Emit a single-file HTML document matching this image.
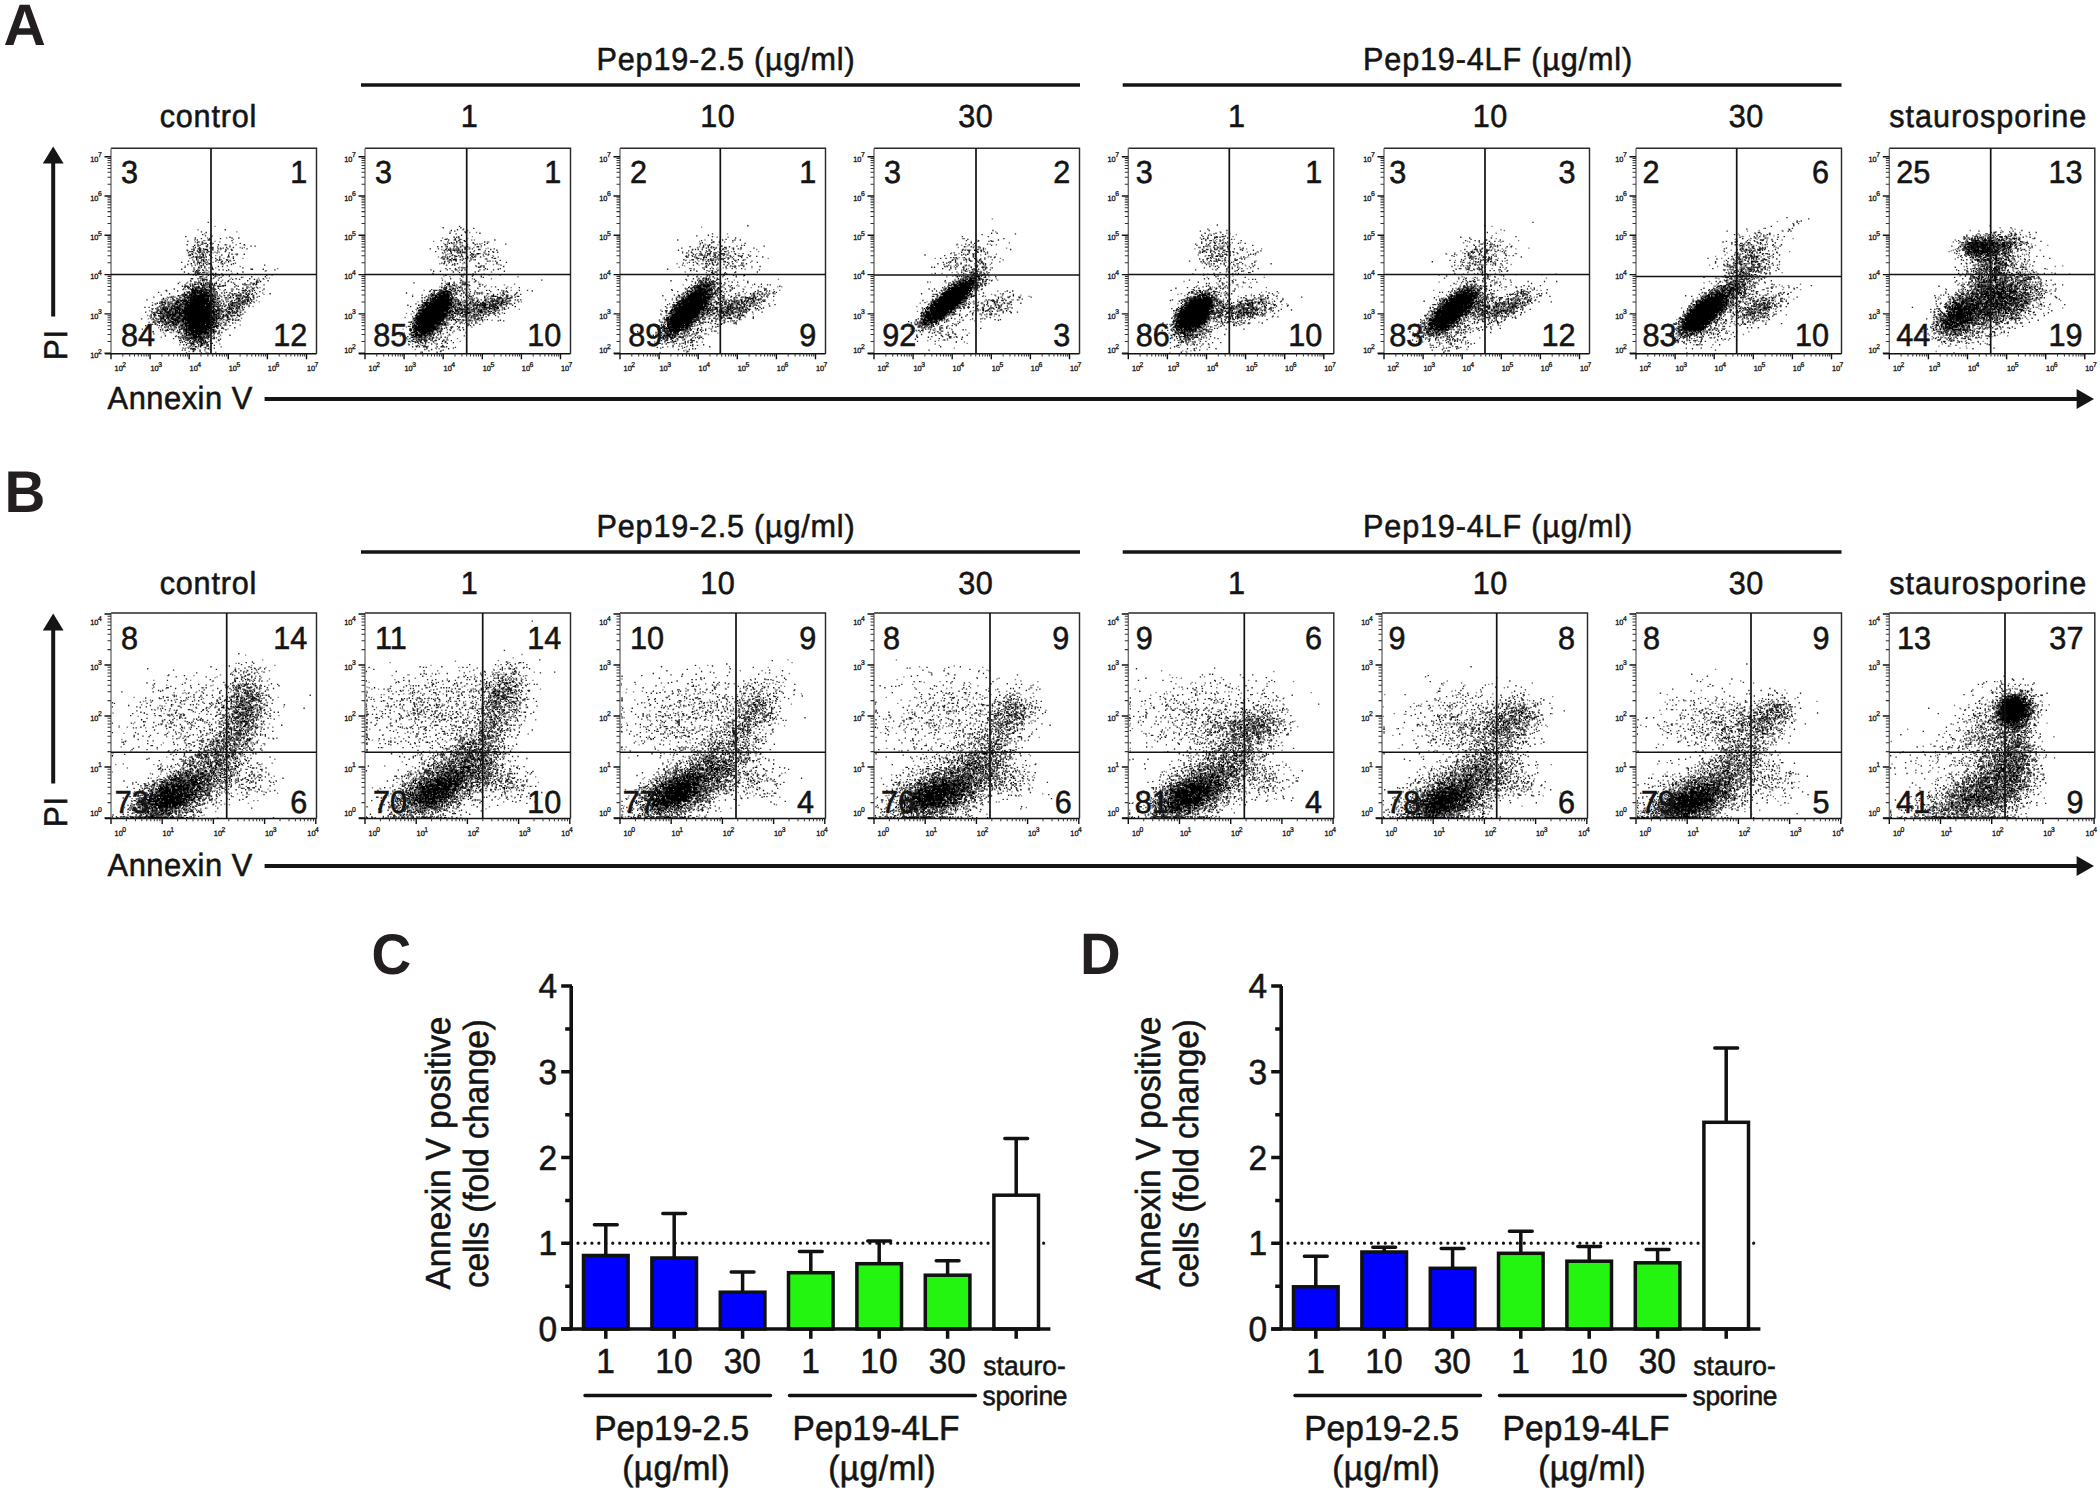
<!DOCTYPE html>
<html><head><meta charset="utf-8"><title>Figure</title>
<style>html,body{margin:0;padding:0;background:#fff}svg{display:block}</style></head>
<body>
<svg width="2100" height="1494" viewBox="0 0 2100 1494" text-rendering="geometricPrecision">
<rect width="2100" height="1494" fill="#fff"/>
<g font-family="'Liberation Sans', sans-serif" font-weight="bold" fill="#231f20"><text transform="translate(3.5 45.3) scale(1 1.0)" font-size="58.6">A</text><text transform="translate(4.6 511.8) scale(1 1.04)" font-size="56.6">B</text><text transform="translate(371.6 974.0) scale(1 1.04)" font-size="55">C</text><text transform="translate(1080.0 974.0) scale(1 1.04)" font-size="56.3">D</text></g>
<g font-family="'Liberation Sans', sans-serif" fill="#141414" stroke="#141414" stroke-width="0.55"><text transform="translate(725.6 69.8) scale(1 1.04)" font-size="30.6" text-anchor="middle" textLength="258" lengthAdjust="spacing">Pep19-2.5 (µg/ml)</text><text transform="translate(1497.6 69.8) scale(1 1.04)" font-size="30.6" text-anchor="middle" textLength="269" lengthAdjust="spacing">Pep19-4LF (µg/ml)</text><text transform="translate(208.0 127.2) scale(1 1.04)" font-size="30.6" text-anchor="middle" textLength="96.5" lengthAdjust="spacing">control</text><text transform="translate(469.2 127.2) scale(1 1.04)" font-size="30.6" text-anchor="middle">1</text><text transform="translate(717.5 127.2) scale(1 1.04)" font-size="30.6" text-anchor="middle" textLength="34.6" lengthAdjust="spacing">10</text><text transform="translate(975.5 127.2) scale(1 1.04)" font-size="30.6" text-anchor="middle" textLength="34.6" lengthAdjust="spacing">30</text><text transform="translate(1236.5 127.2) scale(1 1.04)" font-size="30.6" text-anchor="middle">1</text><text transform="translate(1490.0 127.2) scale(1 1.04)" font-size="30.6" text-anchor="middle" textLength="34.6" lengthAdjust="spacing">10</text><text transform="translate(1746.0 127.2) scale(1 1.04)" font-size="30.6" text-anchor="middle" textLength="34.6" lengthAdjust="spacing">30</text><text transform="translate(1987.7 127.2) scale(1 1.04)" font-size="30.6" text-anchor="middle" textLength="197" lengthAdjust="spacing">staurosporine</text><text transform="translate(66.6 360.2) rotate(-90) scale(1 1.04)" font-size="31.6" textLength="30.2" lengthAdjust="spacing">PI</text><text transform="translate(107.6 408.8) scale(1 1.04)" font-size="30.8" textLength="144.6" lengthAdjust="spacing">Annexin V</text></g><path d="M361 85.0H1080M1122.7 85.0H1841.5" stroke="#151515" stroke-width="3.6" fill="none"/><path d="M53.2 316.5V160.0" stroke="#151515" stroke-width="4" fill="none"/><path d="M53.2 146.5L63.6 163.4H42.8Z" fill="#151515"/><path d="M264.6 399.0H2080" stroke="#151515" stroke-width="4" fill="none"/><path d="M2094 399.0L2076.6 389.0V409.0Z" fill="#151515"/>
<g font-family="'Liberation Sans', sans-serif" fill="#141414" stroke="#141414" stroke-width="0.55"><text transform="translate(725.6 536.8) scale(1 1.04)" font-size="30.6" text-anchor="middle" textLength="258" lengthAdjust="spacing">Pep19-2.5 (µg/ml)</text><text transform="translate(1497.6 536.8) scale(1 1.04)" font-size="30.6" text-anchor="middle" textLength="269" lengthAdjust="spacing">Pep19-4LF (µg/ml)</text><text transform="translate(208.0 594.2) scale(1 1.04)" font-size="30.6" text-anchor="middle" textLength="96.5" lengthAdjust="spacing">control</text><text transform="translate(469.2 594.2) scale(1 1.04)" font-size="30.6" text-anchor="middle">1</text><text transform="translate(717.5 594.2) scale(1 1.04)" font-size="30.6" text-anchor="middle" textLength="34.6" lengthAdjust="spacing">10</text><text transform="translate(975.5 594.2) scale(1 1.04)" font-size="30.6" text-anchor="middle" textLength="34.6" lengthAdjust="spacing">30</text><text transform="translate(1236.5 594.2) scale(1 1.04)" font-size="30.6" text-anchor="middle">1</text><text transform="translate(1490.0 594.2) scale(1 1.04)" font-size="30.6" text-anchor="middle" textLength="34.6" lengthAdjust="spacing">10</text><text transform="translate(1746.0 594.2) scale(1 1.04)" font-size="30.6" text-anchor="middle" textLength="34.6" lengthAdjust="spacing">30</text><text transform="translate(1987.7 594.2) scale(1 1.04)" font-size="30.6" text-anchor="middle" textLength="197" lengthAdjust="spacing">staurosporine</text><text transform="translate(66.6 827.2) rotate(-90) scale(1 1.04)" font-size="31.6" textLength="30.2" lengthAdjust="spacing">PI</text><text transform="translate(107.6 875.8) scale(1 1.04)" font-size="30.8" textLength="144.6" lengthAdjust="spacing">Annexin V</text></g><path d="M361 552.0H1080M1122.7 552.0H1841.5" stroke="#151515" stroke-width="3.6" fill="none"/><path d="M53.2 783.5V627.0" stroke="#151515" stroke-width="4" fill="none"/><path d="M53.2 613.5L63.6 630.4H42.8Z" fill="#151515"/><path d="M264.6 866.0H2080" stroke="#151515" stroke-width="4" fill="none"/><path d="M2094 866.0L2076.6 856.0V876.0Z" fill="#151515"/>
<g transform="translate(111.0,148.2)"><g fill="none" stroke-width="1" transform="scale(1.36) translate(-0.5,0.0)"><path d="M64 60h1m4 3h1m1 3h1m13 0h1m-24 1h1m9 0h1m17 0h1m-23 1h2m-8 1h1m2 0h1m14 0h1m4 2h1m6 0h1m-20 2h1m21 0h1m2 0h1m-25 1h1m0 1h1m-8 1h1m2 0h1m-10 1h1m8 0h1m3 0h1m-19 2h1m19 0h1m9 1h1m-30 1h1m21 0h1m2 0h1m13 0h1m-38 1h1m3 0h1m7 0h1m8 0h1m4 0h1m-16 1h1m16 0h1m-19 1h2m3 0h1m3 0h1m1 1h1m-15 1h1m27 1h1m-19 1h1m-17 1h1m8 0h1m-1 1h2m-3 1h1m2 0h1m-3 1h2m17 0h1m-17 1h1m1 0h1m5 0h1m-4 1h1m3 0h1m14 1h1m-30 2h1m1 0h1m11 0h1m-24 1h1m21 0h1m-26 1h1m1 1h1m4 0h1m7 0h1m12 0h1m-10 1h1m1 0h1m-18 1h3m16 0h1m21 0h1m5 0h1m-35 1h1m31 0h1m2 0h1m-54 1h1m5 0h1m2 0h1m8 0h1m6 0h1m9 0h1m12 0h1m-43 1h1m10 0h1m10 0h1m13 0h1m-42 1h1m3 0h1m12 0h1m28 0h1m-43 1h1m2 0h2m3 0h1m2 0h1m2 0h2m16 0h1m6 0h1m2 0h1m-35 1h1m14 0h1m12 0h1m8 0h1m-61 1h1m11 0h2m17 0h1m1 0h2m6 0h1m8 0h1m3 0h1m5 0h1m-54 1h1m13 0h1m28 0h1m-57 1h1m4 0h1m13 0h1m13 0h1m23 0h1m1 1h1m8 0h1m-72 1h1m7 0h1m33 0h1m10 0h1m5 0h1m13 0h1m-67 1h1m5 0h1m3 0h1m21 0h1m19 0h2m1 0h1m3 0h2m-71 1h1m6 0h1m15 0h1m20 0h1m2 0h1m13 0h1m-59 1h2m5 0h1m36 0h2m10 0h1m-59 1h1m5 0h1m4 0h1m7 0h1m7 0h1m11 0h1m-44 1h2m2 0h1m8 0h1m8 0h1m40 0h2m-59 1h1m13 0h1m1 0h1m30 0h1m11 0h1m-52 1h1m3 0h1m25 0h1m5 0h1m13 0h1m-65 1h1m3 0h1m2 0h1m39 0h1m1 0h1m1 0h2m-42 1h1m4 0h1m30 0h2m5 0h1m1 0h1m1 0h1m-62 1h1m8 0h1m3 0h1m7 0h1m30 0h1m-39 1h1m36 0h1m-50 1h1m19 0h1m3 0h1m42 0h1m-67 1h1m1 0h1m1 0h1m2 0h1m5 0h1m7 0h1m36 0h1m1 0h1m-59 1h1m1 0h1m11 0h1m27 0h1m3 0h1m3 0h1m12 0h1m-68 1h1m3 0h1m1 0h1m4 0h1m1 0h1m6 0h1m1 0h1m5 0h1m20 0h1m1 0h2m6 0h1m-35 1h1m-13 1h1m3 0h1m11 0h1m21 0h1m3 0h1m1 0h1m9 0h1m-59 1h1m3 0h1m5 0h1m6 0h1m-20 1h1m1 0h1m2 0h1m3 0h1m25 0h1m-27 1h1m8 0h1m17 0h1m2 0h1m8 0h1m2 0h1m-49 1h1m15 0h1m21 0h1m3 0h1m-35 1h1m1 0h2m1 0h1m16 0h1m2 0h1m1 0h1m-14 1h1m1 0h1m12 0h1m-22 1h1m21 0h1m-23 1h2m2 0h1m16 0h1m-39 1h1m13 0h4m-5 1h1m16 1h1m1 0h1m3 0h1m-11 1h2m-6 1h2m8 0h2m-10 1h1m4 0h1m13 0h1m-21 2h1m12 0h1m7 0h1m-27 1h1m8 0h1m5 0h1m1 0h1m-4 1h1m-1 1h1m0 1h1m6 0h1" stroke="#7a7a7a"/><path d="M84 60h1m-15 2h1m-16 3h1m18 0h1m-13 1h1m26 0h1m4 0h1m-6 2h1m-26 1h1m2 0h1m1 1h2m4 0h1m19 0h1m-40 1h1m7 0h1m6 0h1m7 0h1m4 0h1m-21 1h1m5 0h1m32 0h1m2 0h1m-45 1h1m2 0h1m8 0h2m9 0h1m4 0h1m-27 1h3m8 0h1m3 0h1m1 0h1m4 0h1m13 0h1m-45 1h1m8 0h2m-8 1h1m4 0h1m1 0h1m17 0h1m-28 1h1m9 0h1m10 0h1m8 0h1m-21 1h2m20 0h1m2 0h2m4 0h1m-41 1h1m3 1h1m1 0h1m1 0h3m11 0h1m5 0h1m3 0h1m-26 1h2m10 0h1m-11 1h1m10 0h1m6 0h1m-29 1h1m3 0h1m7 0h1m7 0h1m4 0h1m-31 1h1m8 0h1m2 0h2m15 0h1m-14 1h1m13 0h1m7 0h1m-29 1h1m5 0h1m5 0h1m38 0h1m-45 1h1m9 0h1m2 0h1m-22 1h1m3 0h1m3 0h1m2 0h1m24 0h1m-46 1h1m11 0h1m38 0h2m7 0h1m-49 1h2m2 0h1m16 0h1m28 0h1m-61 1h1m8 0h2m32 0h1m-41 1h1m4 0h1m1 0h2m-2 1h1m5 0h1m3 0h1m7 0h1m2 0h1m-9 1h1m9 0h1m-18 1h1m10 0h1m14 0h1m-38 1h2m3 0h1m9 0h1m17 0h1m9 0h1m9 0h1m-47 1h1m12 0h1m29 0h1m-24 1h1m20 0h1m-40 1h1m1 0h1m1 0h1m11 0h1m5 0h1m-31 1h1m3 0h1m1 0h1m5 0h2m6 0h1m10 0h1m5 0h1m7 0h1m-37 1h1m6 0h1m5 0h2m8 0h1m-39 1h1m2 0h1m5 0h3m2 0h2m1 0h1m19 0h1m8 0h1m2 0h1m-41 1h1m1 0h2m7 0h1m4 0h1m20 0h1m3 0h1m-52 1h1m12 0h3m2 0h2m1 0h1m2 0h1m6 0h1m9 0h1m4 0h1m-59 1h1m7 0h1m19 0h2m2 0h1m1 0h2m-42 1h1m18 0h1m6 0h1m2 0h1m3 0h1m1 0h1m1 0h1m5 0h1m6 0h1m20 0h1m-64 1h1m10 0h1m23 0h1m10 0h1m5 0h1m5 0h1m2 0h1m2 0h1m9 0h1m-81 1h1m14 0h2m12 0h1m3 0h1m9 0h1m5 0h2m2 0h1m1 0h1m8 0h1m-56 1h1m6 0h1m2 0h1m3 0h2m1 0h1m17 0h1m6 0h1m3 0h1m7 0h1m8 0h1m-68 1h1m8 0h1m2 0h3m3 0h1m14 0h1m8 0h2m1 0h2m4 0h1m3 0h1m2 0h2m-45 1h1m13 0h1m1 0h2m2 0h1m8 0h1m14 0h1m3 0h1m-60 1h2m1 0h1m23 0h1m1 0h1m2 0h1m10 0h1m1 0h1m5 0h1m3 0h1m-62 1h1m1 0h1m2 0h1m7 0h1m1 0h1m13 0h1m4 0h2m1 0h1m10 0h1m4 0h1m2 0h1m8 0h1m-64 1h1m1 0h1m6 0h1m22 0h1m4 0h1m1 0h1m1 0h1m4 0h1m1 0h1m6 0h1m1 0h1m-62 1h2m2 0h1m8 0h1m1 0h2m3 0h1m19 0h2m3 0h1m5 0h1m2 0h1m2 0h1m2 0h1m1 0h1m-55 1h1m2 0h1m6 0h1m21 0h1m3 0h1m1 0h1m4 0h1m-65 1h1m2 0h1m9 0h1m5 0h1m3 0h1m8 0h1m21 0h1m7 0h1m4 0h1m1 0h1m3 0h1m-66 1h1m4 0h1m1 0h1m7 0h1m9 0h1m15 0h1m1 0h1m2 0h2m6 0h2m3 0h1m-59 1h1m4 0h1m1 0h1m2 0h1m2 0h1m32 0h2m2 0h1m4 0h1m7 0h1m-68 1h1m3 0h1m1 0h2m3 0h1m1 0h1m9 0h1m27 0h1m1 0h1m1 0h1m7 0h1m-62 1h2m5 0h2m2 0h4m6 0h1m20 0h1m12 0h1m2 0h2m3 0h1m-64 1h1m41 0h2m3 0h1m5 0h1m1 0h1m5 0h1m3 0h1m-66 1h2m4 0h2m3 0h1m3 0h1m1 0h1m4 0h1m20 0h1m7 0h1m1 0h2m1 0h1m1 0h2m1 0h1m-58 1h5m1 0h1m2 0h1m2 0h1m3 0h1m19 0h1m2 0h1m3 0h1m2 0h1m3 0h1m2 0h1m-59 1h1m1 0h1m3 0h3m4 0h1m1 0h1m1 0h1m10 0h1m16 0h1m3 0h1m1 0h1m3 0h1m-56 1h1m7 0h1m2 0h1m5 0h1m4 0h1m22 0h1m1 0h1m2 0h1m1 0h1m2 0h2m6 0h1m-62 1h1m4 0h1m3 0h1m1 0h1m2 0h2m3 0h1m32 0h1m-55 1h1m3 0h1m6 0h2m1 0h2m4 0h2m2 0h1m27 0h1m-51 1h1m5 0h1m8 0h1m5 0h1m20 0h1m1 0h1m1 0h1m4 0h1m-51 1h1m3 0h1m1 0h1m2 0h1m4 0h1m24 0h1m10 0h1m-41 1h1m5 0h1m1 0h1m22 0h1m2 0h2m-38 1h1m5 0h1m1 0h1m2 0h1m2 0h1m16 0h1m2 0h1m5 0h1m8 0h1m-69 1h1m14 0h1m4 0h1m1 0h1m1 0h1m3 0h1m21 0h1m-34 1h3m3 0h1m2 0h1m5 0h1m2 0h1m11 0h1m-16 1h1m13 0h1m2 0h1m3 0h1m-25 1h1m2 0h1m2 0h1m2 0h1m9 0h1m4 0h1m2 0h1m-17 1h1m4 0h1m2 0h1m1 0h1m-26 1h1m8 0h1m1 0h1m7 0h1m-18 1h1m4 0h2m1 0h1m3 0h1m2 0h1m1 0h2m1 0h1m5 0h1m-31 1h1m4 0h1m5 0h1m3 0h2m8 0h1m3 0h2m-22 1h1m1 0h1m3 0h1m1 0h1m2 0h1m1 0h1m10 0h1m-26 1h1m5 0h1m5 0h1m1 0h1m3 0h1m-22 1h1m3 0h1m8 0h1m3 0h1m-10 1h2m8 0h1m-11 1h1m16 0h1m-14 1h1m-11 1h1m3 0h1m1 0h1m16 0h1m-17 1h1m1 0h1m10 0h1m-13 1h1" stroke="#2a2a2a"/><path d="M73 70h1m24 1h1m-28 1h1m-11 2h1m6 0h1m-8 1h1m9 0h1m17 0h1m-32 1h1m1 0h1m11 0h1m-8 1h1m-6 1h1m7 1h1m-6 1h1m1 0h1m4 0h1m-8 1h1m26 0h1m-28 1h1m4 0h1m1 0h1m9 0h1m-17 1h1m3 0h1m-3 1h1m-8 1h1m5 0h1m6 0h2m1 4h1m-13 1h1m-2 1h1m12 1h1m1 0h1m15 0h1m-27 4h1m42 2h1m-47 1h1m6 0h1m31 0h1m3 0h1m-46 1h1m5 0h1m7 0h1m30 0h1m-48 1h1m6 0h2m15 0h1m-13 1h1m-16 1h1m2 0h1m1 0h1m1 0h1m2 0h1m1 0h1m27 0h1m-39 1h2m1 0h2m5 0h2m5 0h1m-15 1h1m2 0h1m1 0h2m20 0h1m12 0h1m1 0h1m-48 1h2m3 0h2m1 0h2m2 0h1m1 0h1m22 0h1m2 0h1m-40 1h1m2 0h2m3 0h2m1 0h2m1 0h1m18 0h1m-37 1h2m1 0h8m1 0h1m1 0h1m1 0h2m1 0h2m2 0h1m-25 1h1m4 0h1m2 0h1m1 0h10m1 0h1m22 0h1m-42 1h3m1 0h5m1 0h6m1 0h1m2 0h1m12 0h1m8 0h1m5 0h1m-56 1h1m2 0h2m4 0h12m4 0h2m15 0h1m7 0h1m-61 1h1m10 0h5m1 0h16m21 0h2m-59 1h2m9 0h1m1 0h1m3 0h1m2 0h12m1 0h4m2 0h1m3 0h1m4 0h1m8 0h1m2 0h3m-66 1h1m1 0h1m3 0h1m6 0h2m6 0h2m1 0h9m1 0h6m2 0h1m12 0h1m1 0h1m8 0h1m-58 1h1m3 0h3m2 0h1m2 0h1m1 0h1m1 0h18m11 0h1m8 0h1m-59 1h1m2 0h1m2 0h1m1 0h1m2 0h1m2 0h1m1 0h1m1 0h20m2 0h1m7 0h1m3 0h1m1 0h1m-55 1h1m7 0h1m1 0h2m3 0h3m1 0h3m1 0h11m1 0h2m10 0h1m-42 1h3m1 0h3m2 0h4m1 0h15m8 0h1m7 0h1m-56 1h1m1 0h2m1 0h1m2 0h1m2 0h1m1 0h2m1 0h1m1 0h23m1 0h1m1 0h1m5 0h1m7 0h1m-56 1h1m1 0h1m1 0h1m2 0h3m1 0h1m2 0h1m1 0h20m1 0h3m4 0h1m3 0h2m1 0h1m1 0h1m-61 1h1m9 0h2m4 0h6m1 0h20m1 0h2m9 0h1m1 0h1m3 0h1m-55 1h2m3 0h3m1 0h27m2 0h1m4 0h1m-47 1h1m5 0h2m1 0h1m1 0h1m3 0h4m1 0h20m1 0h1m1 0h1m5 0h1m4 0h1m4 0h1m-63 1h1m10 0h1m3 0h1m1 0h2m2 0h3m1 0h15m1 0h2m1 0h2m5 0h1m-43 1h2m2 0h1m4 0h3m1 0h5m1 0h16m2 0h2m1 0h1m-47 1h1m4 0h1m4 0h3m1 0h1m2 0h1m1 0h22m-39 1h1m2 0h1m2 0h1m5 0h3m1 0h1m1 0h19m1 0h1m-38 1h1m1 0h1m3 0h1m4 0h1m3 0h1m3 0h20m-36 1h2m2 0h2m5 0h1m3 0h19m6 0h1m-38 1h1m1 0h2m3 0h3m2 0h1m1 0h14m3 0h1m-34 1h1m10 0h1m1 0h14m1 0h4m2 0h2m-26 1h1m1 0h1m2 0h13m1 0h2m1 0h2m2 0h1m-27 1h1m1 0h17m1 0h1m-17 1h2m1 0h11m2 0h2m-43 1h1m25 0h1m1 0h8m3 0h1m4 0h1m1 0h1m-24 1h1m4 0h1m3 0h5m1 0h2m1 0h1m1 0h1m-18 1h6m1 0h4m1 0h1m-30 1h1m12 0h1m6 0h4m1 0h2m1 0h2m1 0h2m-14 1h1m3 0h2m1 0h1m5 0h1m-18 1h1m2 0h3m4 0h3m1 0h1m-14 1h1m5 0h1m1 0h1m-7 1h1m2 0h1m3 0h1m-8 1h1m2 0h1m9 0h1m-6 2h2m-6 1h1m3 0h1m-6 2h1" stroke="#000"/></g><g fill="none" stroke-width="1" transform="scale(1.36) translate(0.0,0.5)"><path d="M76 57h1m15 4h1m-19 3h1m-14 3h1m14 1h1m12 1h1m-16 1h1m12 1h1m10 0h1m-21 1h1m-7 1h1m5 0h1m1 1h1m-14 1h2m-9 1h1m15 0h1m2 0h1m-11 1h1m-7 1h1m5 0h1m22 0h1m-24 1h1m-10 1h1m4 0h1m1 0h1m6 0h1m-12 1h1m4 0h1m8 1h1m-12 1h1m17 0h1m-24 1h1m4 0h1m4 0h1m-9 1h1m18 0h1m-29 1h1m10 2h1m56 0h1m-59 1h1m23 1h1m24 0h1m-44 1h1m-5 1h1m-7 1h1m6 0h1m50 0h1m-52 1h1m2 0h1m-3 1h1m19 0h1m19 0h1m5 0h1m1 0h1m-30 1h1m19 0h1m4 0h1m-49 1h1m7 0h1m-23 1h1m5 0h1m-2 1h1m2 0h1m2 0h1m40 0h1m-43 1h1m10 0h1m1 0h1m23 0h1m2 0h3m-34 1h2m10 0h1m-22 1h1m13 0h1m26 0h1m3 0h1m3 0h1m-53 1h1m6 0h1m6 0h1m16 0h2m-17 1h1m9 0h1m27 0h1m-57 1h2m19 0h1m25 0h1m-29 1h2m20 0h1m14 0h1m-48 1h1m6 0h1m3 0h1m14 0h1m1 0h3m5 0h1m11 0h1m-63 1h2m-11 1h1m3 0h3m22 0h1m1 0h1m6 0h1m1 0h1m11 0h1m3 0h1m-58 1h1m9 0h1m25 0h1m7 0h1m14 0h2m-63 1h1m9 0h1m4 0h1m18 0h1m4 0h2m16 0h1m-57 1h2m2 0h1m3 0h1m9 0h1m22 0h1m4 0h2m5 0h1m-63 1h1m10 0h1m2 0h1m9 0h1m16 0h1m5 0h1m9 0h1m5 0h1m5 0h1m5 0h1m-65 1h1m4 0h1m2 0h2m24 0h2m10 0h1m2 0h3m5 0h1m-63 1h1m6 0h1m3 0h1m5 0h1m15 0h1m4 0h1m3 0h2m11 0h1m2 0h1m-59 1h1m51 0h2m1 0h1m12 0h1m-68 1h1m4 0h2m8 0h2m-21 1h1m11 0h1m2 0h1m25 0h1m2 0h1m13 0h1m2 0h1m-67 1h1m8 0h1m7 0h2m29 0h1m11 0h1m6 0h1m-66 1h1m1 0h1m6 0h1m4 0h1m1 0h1m4 0h1m28 0h1m3 0h1m-55 1h1m13 0h1m32 0h1m2 0h1m9 0h1m-55 1h2m10 0h2m2 0h2m20 0h1m3 0h1m-51 1h1m8 0h1m2 0h1m3 0h1m38 0h1m5 0h1m-51 1h1m11 0h2m25 0h1m13 0h1m-66 1h1m6 0h2m3 0h1m1 0h1m9 0h1m39 0h1m-55 1h1m4 0h1m1 0h1m34 0h2m3 0h1m7 0h1m-54 1h1m6 0h1m4 0h1m-15 1h3m4 0h1m5 0h3m20 0h1m7 0h1m9 0h1m-63 1h1m11 0h1m7 0h1m1 0h1m4 0h1m12 0h1m7 0h1m2 0h1m-52 1h1m23 0h1m21 0h1m7 0h1m-44 1h2m2 0h1m6 0h1m4 0h1m21 0h1m2 0h1m-36 1h1m7 0h1m19 0h1m-14 1h1m10 0h1m3 0h1m-41 1h1m1 1h1m4 0h2m8 0h2m17 0h1m3 0h1m-38 1h1m9 0h1m17 0h1m4 0h1m6 0h1m-21 1h1m6 0h1m1 0h1m6 0h1m4 0h1m-30 1h1m15 0h1m6 0h1m4 0h1m-29 2h1m2 0h1m4 0h1m3 0h1m4 0h1m2 0h1m-9 1h1m0 1h1m12 0h1m-21 1h1m7 0h1m3 0h1m-20 1h1m17 0h1m-12 1h1m2 0h1m-5 1h2m10 0h1m-15 1h1m14 0h1m-13 2h1m12 1h2" stroke="#7a7a7a"/><path d="M71 54h1m-6 7h1m0 2h1m1 1h1m17 1h1m-22 1h1m5 0h1m7 0h1m-18 1h1m7 0h2m-17 1h1m6 1h1m3 0h1m5 0h1m-8 1h1m6 0h1m-9 1h1m-6 1h1m9 0h1m16 0h1m-23 1h1m14 0h1m1 0h1m13 0h1m-38 1h1m5 0h1m2 0h1m5 0h1m9 0h1m3 0h1m-33 1h1m8 0h1m12 0h1m5 0h1m-21 1h2m2 0h1m1 0h1m2 0h1m-15 1h1m2 0h1m-6 1h1m7 0h1m1 0h1m13 0h1m4 0h1m-27 1h1m12 0h1m12 0h1m-28 1h1m8 0h1m-3 2h1m12 0h1m5 0h1m1 0h1m2 0h1m-23 1h1m12 0h1m-19 1h1m5 0h1m13 0h1m7 0h1m-36 1h1m31 0h1m-30 1h1m5 0h1m19 0h1m-32 1h1m9 0h1m1 0h1m7 0h1m-14 2h1m17 0h1m2 0h1m37 0h1m-61 1h1m2 1h1m1 0h1m1 0h2m-6 1h1m17 0h1m-20 1h1m8 0h1m3 0h1m3 0h1m2 0h1m31 0h1m-50 1h2m9 0h1m26 0h1m9 0h1m-35 1h1m-13 1h3m19 0h1m4 0h1m-37 1h1m9 0h1m1 0h1m15 0h1m13 0h1m6 0h1m7 0h1m-55 1h1m2 0h2m6 0h1m4 0h1m10 0h1m19 0h1m-60 1h1m15 0h1m8 0h1m1 0h1m21 0h1m5 0h2m-52 1h1m3 0h1m9 0h2m4 0h1m24 0h1m4 0h1m1 0h1m5 0h1m-61 1h1m1 0h3m1 0h1m1 0h1m6 0h1m7 0h1m2 0h3m1 0h1m10 0h1m-40 1h1m2 0h1m3 0h1m1 0h1m4 0h1m1 0h1m4 0h1m31 0h1m-62 1h1m6 0h1m4 0h1m7 0h1m1 0h1m4 0h4m15 0h1m19 0h1m-73 1h1m23 0h1m2 0h1m1 0h1m1 0h2m23 0h1m1 0h2m1 0h1m3 0h1m-49 1h1m4 0h1m1 0h1m3 0h1m1 0h1m2 0h1m1 0h1m1 0h1m20 0h1m1 0h1m8 0h1m-53 1h1m18 0h1m4 0h1m1 0h1m13 0h1m1 0h1m-48 1h2m18 0h1m16 0h1m5 0h1m5 0h1m1 0h1m-51 1h1m1 0h1m19 0h1m7 0h1m5 0h1m3 0h3m1 0h1m6 0h1m-74 1h1m11 0h1m6 0h1m6 0h1m4 0h1m6 0h1m3 0h1m22 0h1m1 0h3m3 0h1m2 0h1m-54 1h1m4 0h1m9 0h1m3 0h1m18 0h1m-67 1h1m10 0h1m3 0h1m3 0h2m2 0h2m6 0h1m23 0h1m2 0h1m8 0h2m3 0h2m2 0h1m-44 1h1m12 0h1m6 0h1m2 0h1m5 0h1m8 0h2m2 0h1m1 0h1m-66 1h1m3 0h1m7 0h1m2 0h1m36 0h2m5 0h1m4 0h1m-71 1h1m11 0h2m5 0h2m4 0h1m19 0h1m8 0h1m2 0h1m-60 1h1m6 0h1m37 0h2m3 0h1m3 0h1m1 0h1m3 0h1m1 0h1m2 0h1m5 0h1m-67 1h1m4 0h1m3 0h1m2 0h1m3 0h1m22 0h1m1 0h1m1 0h2m3 0h1m3 0h1m5 0h1m2 0h1m4 0h1m-68 1h1m1 0h1m2 0h1m5 0h1m1 0h1m2 0h2m16 0h1m5 0h1m3 0h1m2 0h1m3 0h1m2 0h2m3 0h2m1 0h1m-67 1h1m6 0h1m2 0h1m2 0h1m2 0h1m4 0h1m1 0h1m21 0h1m2 0h1m1 0h1m3 0h1m1 0h2m9 0h1m-64 1h1m9 0h1m36 0h1m10 0h1m-68 1h1m11 0h1m5 0h1m1 0h1m2 0h1m3 0h1m26 0h1m2 0h1m3 0h2m1 0h2m4 0h1m2 0h1m-60 1h1m1 0h1m4 0h1m1 0h2m24 0h1m11 0h1m2 0h1m1 0h1m-63 1h1m2 0h1m5 0h1m2 0h2m30 0h1m5 0h1m15 0h1m-67 1h1m5 0h2m2 0h1m7 0h1m1 0h2m2 0h1m1 0h1m17 0h7m4 0h1m3 0h1m-60 1h1m6 0h1m38 0h2m5 0h1m3 0h1m-65 1h1m10 0h1m38 0h1m3 0h1m1 0h1m1 0h2m5 0h1m1 0h1m-54 1h1m12 0h1m1 0h1m25 0h1m7 0h1m3 0h1m1 0h1m1 0h1m-63 1h1m2 0h3m1 0h1m1 0h1m13 0h1m20 0h1m10 0h1m-55 1h1m7 0h2m5 0h2m4 0h1m16 0h1m5 0h3m5 0h1m4 0h1m-60 1h1m1 0h1m6 0h1m13 0h1m21 0h1m3 0h1m-55 1h1m9 0h1m7 0h1m1 0h1m2 0h1m23 0h1m3 0h1m3 0h1m6 0h1m-49 1h1m6 0h2m2 0h1m1 1h2m24 0h1m2 0h2m-47 1h1m7 0h2m7 0h1m2 0h1m11 0h1m4 0h1m10 0h1m-45 1h1m9 0h1m2 0h2m1 0h2m12 0h1m1 0h1m1 0h1m1 0h2m1 0h1m-30 1h1m13 0h1m14 0h1m1 0h1m-51 1h1m19 0h1m18 0h1m7 0h1m-27 1h1m3 0h3m6 0h1m4 0h3m14 0h1m-41 1h1m1 0h1m4 0h1m11 0h1m3 0h1m-19 1h2m1 0h3m5 0h1m4 0h2m1 0h1m3 0h1m1 0h1m-25 1h1m2 0h2m2 0h1m4 0h1m14 0h1m-30 1h1m4 0h1m9 0h1m6 0h1m5 0h1m-17 1h1m4 0h1m1 0h1m-15 1h1m1 0h1m4 0h1m4 0h1m1 0h1m2 0h2m-22 1h1m6 0h2m2 0h1m2 0h1m2 0h2m-14 1h1m11 0h2m-3 1h1m-12 1h2m1 0h1m-10 1h1m1 0h1m10 0h1m-1 1h1m-11 1h1m10 0h1" stroke="#2a2a2a"/><path d="M67 70h1m-7 1h1m7 3h2m-8 1h1m-6 3h1m13 0h1m-7 2h1m19 3h1m-17 2h1m-5 1h1m7 2h1m-8 1h1m18 0h1m-22 6h1m9 0h1m-6 1h1m34 0h1m-39 1h1m-6 1h1m44 0h1m-42 1h1m2 0h1m7 0h1m-17 1h1m4 0h1m3 0h1m1 0h1m25 0h1m-35 1h1m7 0h1m-17 1h1m7 0h1m2 0h1m4 0h2m-14 1h1m8 0h1m34 0h1m-46 1h5m1 0h2m3 0h1m26 0h1m-39 1h3m1 0h1m1 0h3m4 0h1m-17 1h1m2 0h3m1 0h4m1 0h4m15 0h1m-34 1h2m2 0h2m1 0h2m2 0h6m3 0h1m1 0h1m22 0h1m-51 1h1m4 0h1m2 0h1m2 0h13m1 0h1m1 0h1m15 0h1m7 0h1m-57 1h1m11 0h1m1 0h4m1 0h6m2 0h1m4 0h1m24 0h1m-64 1h1m6 0h1m2 0h1m7 0h1m1 0h1m1 0h1m1 0h7m1 0h2m3 0h1m2 0h2m13 0h2m1 0h1m5 0h1m-49 1h2m2 0h14m2 0h1m1 0h1m23 0h1m2 0h1m-56 1h2m1 0h1m1 0h4m1 0h1m1 0h12m1 0h3m24 0h1m-64 1h1m1 0h1m8 0h2m2 0h1m2 0h16m1 0h2m1 0h2m1 0h1m10 0h1m2 0h1m3 0h1m-60 1h1m9 0h1m5 0h4m1 0h17m18 0h2m-50 1h1m4 0h2m2 0h15m1 0h2m1 0h1m14 0h2m-48 1h1m3 0h1m1 0h1m1 0h1m1 0h1m1 0h1m1 0h18m1 0h1m1 0h1m12 0h1m3 0h1m-57 1h1m1 0h2m2 0h1m3 0h1m5 0h14m1 0h5m1 0h1m11 0h1m4 0h1m-55 1h2m1 0h1m2 0h1m2 0h1m1 0h2m1 0h1m1 0h20m2 0h1m11 0h1m-50 1h1m3 0h1m3 0h2m1 0h1m1 0h24m1 0h3m9 0h1m-57 1h1m2 0h1m4 0h2m4 0h1m1 0h2m2 0h23m1 0h1m14 0h1m-59 1h4m4 0h1m2 0h1m1 0h1m2 0h24m1 0h1m2 0h2m-49 1h1m8 0h1m2 0h5m2 0h2m2 0h19m2 0h3m4 0h1m-45 1h1m2 0h1m1 0h1m1 0h2m4 0h2m1 0h1m1 0h17m7 0h1m1 0h1m2 0h1m8 0h1m-57 1h1m2 0h2m1 0h2m2 0h3m2 0h22m2 0h1m1 0h1m5 0h1m-50 1h3m3 0h1m1 0h1m1 0h2m1 0h2m1 0h20m1 0h3m1 0h1m-39 1h1m3 0h1m2 0h3m3 0h2m1 0h19m1 0h2m-40 1h1m6 0h2m1 0h1m1 0h2m1 0h2m2 0h19m2 0h1m-43 1h1m6 0h1m2 0h2m2 0h1m4 0h16m1 0h2m2 0h1m-36 1h1m6 0h2m5 0h2m1 0h12m1 0h5m1 0h1m-40 1h1m13 0h2m1 0h18m1 0h2m2 0h2m-24 1h1m1 0h16m2 0h1m1 0h1m-23 1h1m1 0h6m1 0h7m1 0h2m-33 1h1m8 0h1m3 0h2m1 0h4m1 0h6m1 0h3m2 0h2m-21 1h1m2 0h12m5 0h1m-27 1h1m5 0h3m1 0h5m1 0h7m3 0h1m-22 1h2m1 0h4m1 0h3m1 0h1m1 0h2m1 0h1m-17 1h1m4 0h3m1 0h1m-5 1h6m2 0h1m2 0h1m-13 1h4m2 0h3m2 0h1m-9 1h1m1 0h1m1 0h2m-18 1h1m7 0h1m2 0h1m2 0h1m2 0h1m1 0h1m-18 1h1m9 0h1m2 0h2m2 0h1m-11 1h2m5 0h2m-13 1h1m10 0h1m-3 1h1m-5 2h1m10 0h1m-12 2h1" stroke="#000"/></g><path d="M0 0H205.5V205.5" fill="none" stroke="#2a2a2a" stroke-width="1.45"/><path d="M0 0V205.5" fill="none" stroke="#666" stroke-width="1.3"/><path d="M-6 205.5H205.5" fill="none" stroke="#111" stroke-width="1.5"/><path d="M100.0 0V205.5" fill="none" stroke="#111" stroke-width="1.7"/><path d="M0 126.2H205.5" fill="none" stroke="#111" stroke-width="1.5"/><path d="M0.0 205.5v5.5M39.1 205.5v5.5M78.2 205.5v5.5M117.3 205.5v5.5M156.4 205.5v5.5M195.5 205.5v5.5M0 205.0h-6.5M0 165.7h-6.5M0 126.4h-6.5M0 87.1h-6.5M0 47.8h-6.5M0 8.5h-6.5" fill="none" stroke="#111" stroke-width="1.4"/><path d="M11.8 205.5v2.8M18.7 205.5v2.8M23.5 205.5v2.8M27.3 205.5v2.8M30.4 205.5v2.8M33.0 205.5v2.8M35.3 205.5v2.8M37.3 205.5v2.8M50.9 205.5v2.8M57.8 205.5v2.8M62.6 205.5v2.8M66.4 205.5v2.8M69.5 205.5v2.8M72.1 205.5v2.8M74.4 205.5v2.8M76.4 205.5v2.8M90.0 205.5v2.8M96.9 205.5v2.8M101.7 205.5v2.8M105.5 205.5v2.8M108.6 205.5v2.8M111.2 205.5v2.8M113.5 205.5v2.8M115.5 205.5v2.8M129.1 205.5v2.8M136.0 205.5v2.8M140.8 205.5v2.8M144.6 205.5v2.8M147.7 205.5v2.8M150.3 205.5v2.8M152.6 205.5v2.8M154.6 205.5v2.8M168.2 205.5v2.8M175.1 205.5v2.8M179.9 205.5v2.8M183.7 205.5v2.8M186.8 205.5v2.8M189.4 205.5v2.8M191.7 205.5v2.8M193.7 205.5v2.8M0 193.2h-3.5M0 186.2h-3.5M0 181.3h-3.5M0 177.5h-3.5M0 174.4h-3.5M0 171.8h-3.5M0 169.5h-3.5M0 167.5h-3.5M0 153.9h-3.5M0 146.9h-3.5M0 142.0h-3.5M0 138.2h-3.5M0 135.1h-3.5M0 132.5h-3.5M0 130.2h-3.5M0 128.2h-3.5M0 114.6h-3.5M0 107.6h-3.5M0 102.7h-3.5M0 98.9h-3.5M0 95.8h-3.5M0 93.2h-3.5M0 90.9h-3.5M0 88.9h-3.5M0 75.3h-3.5M0 68.3h-3.5M0 63.4h-3.5M0 59.6h-3.5M0 56.5h-3.5M0 53.9h-3.5M0 51.6h-3.5M0 49.6h-3.5M0 36.0h-3.5M0 29.0h-3.5M0 24.1h-3.5M0 20.3h-3.5M0 17.2h-3.5M0 14.6h-3.5M0 12.3h-3.5M0 10.3h-3.5" fill="none" stroke="#333" stroke-width="1.05"/><g font-family="'Liberation Sans', sans-serif" fill="#111" stroke="#111" stroke-width="0.3"><text transform="translate(3.6 222.9) scale(1 1.04)" font-size="7.4">10</text><text transform="translate(11.3 218.6) scale(1 1.04)" font-size="6.8">2</text><text transform="translate(39.5 222.9) scale(1 1.04)" font-size="7.4">10</text><text transform="translate(47.2 218.6) scale(1 1.04)" font-size="6.8">3</text><text transform="translate(78.6 222.9) scale(1 1.04)" font-size="7.4">10</text><text transform="translate(86.3 218.6) scale(1 1.04)" font-size="6.8">4</text><text transform="translate(117.7 222.9) scale(1 1.04)" font-size="7.4">10</text><text transform="translate(125.4 218.6) scale(1 1.04)" font-size="6.8">5</text><text transform="translate(156.8 222.9) scale(1 1.04)" font-size="7.4">10</text><text transform="translate(164.5 218.6) scale(1 1.04)" font-size="6.8">6</text><text transform="translate(195.9 222.9) scale(1 1.04)" font-size="7.4">10</text><text transform="translate(203.6 218.6) scale(1 1.04)" font-size="6.8">7</text><text transform="translate(-20.8 209.8) scale(1 1.04)" font-size="7.4">10</text><text transform="translate(-13.0 205.4) scale(1 1.04)" font-size="6.8">2</text><text transform="translate(-20.8 170.5) scale(1 1.04)" font-size="7.4">10</text><text transform="translate(-13.0 166.1) scale(1 1.04)" font-size="6.8">3</text><text transform="translate(-20.8 131.2) scale(1 1.04)" font-size="7.4">10</text><text transform="translate(-13.0 126.8) scale(1 1.04)" font-size="6.8">4</text><text transform="translate(-20.8 91.9) scale(1 1.04)" font-size="7.4">10</text><text transform="translate(-13.0 87.5) scale(1 1.04)" font-size="6.8">5</text><text transform="translate(-20.8 52.6) scale(1 1.04)" font-size="7.4">10</text><text transform="translate(-13.0 48.2) scale(1 1.04)" font-size="6.8">6</text><text transform="translate(-20.8 13.3) scale(1 1.04)" font-size="7.4">10</text><text transform="translate(-13.0 8.9) scale(1 1.04)" font-size="6.8">7</text></g><g font-family="'Liberation Sans', sans-serif" fill="#141414" stroke="#141414" stroke-width="0.55"><text transform="translate(9.9 34.4) scale(1 1.04)" font-size="30.6">3</text><text transform="translate(196.3 34.4) scale(1 1.04)" font-size="30.6" text-anchor="end">1</text><text transform="translate(9.9 197.8) scale(1 1.04)" font-size="30.6">84</text><text transform="translate(196.3 197.8) scale(1 1.04)" font-size="30.6" text-anchor="end">12</text></g></g>
<g transform="translate(365.0,148.2)"><g fill="none" stroke-width="1" transform="scale(1.36) translate(-0.5,0.0)"><path d="M72 60h1m4 2h1m4 0h1m-4 3h1m-23 1h1m13 1h1m18 2h2m-34 1h1m27 0h1m-22 1h1m1 0h1m2 0h1m4 0h1m-8 2h1m1 0h1m2 0h1m3 0h1m2 0h1m8 1h1m-32 1h1m5 0h1m3 0h1m1 0h1m-5 1h1m13 0h1m-22 1h1m12 0h1m-12 1h1m21 0h1m3 0h1m-1 1h1m6 0h1m-41 1h1m3 0h1m3 0h1m3 0h1m5 0h1m25 0h1m-43 1h1m9 0h2m10 0h1m1 1h1m-22 1h1m2 0h1m28 0h1m2 0h1m-25 1h1m-16 1h1m16 0h1m11 0h1m4 0h1m-26 1h1m17 1h1m-9 1h1m-11 2h1m28 1h1m-21 1h1m-16 2h1m13 0h1m-1 1h1m-3 1h1m8 0h1m13 0h1m-35 2h1m1 1h1m9 0h1m2 0h1m-9 1h1m18 0h1m24 0h1m-50 1h2m10 0h1m15 0h1m-35 1h1m8 0h1m11 0h1m16 0h1m11 0h1m-42 1h1m-9 1h1m-1 1h2m6 0h2m2 0h1m1 0h1m30 0h1m-52 1h1m6 0h1m18 0h1m5 0h1m19 0h1m9 0h1m-22 1h1m19 0h1m-77 1h1m17 0h1m4 0h1m11 0h1m29 0h1m-10 1h1m-45 1h1m14 0h1m15 0h2m2 0h1m7 0h1m12 0h2m-58 1h1m23 0h1m8 0h1m2 0h1m15 0h1m-51 1h1m21 0h1m2 0h1m1 0h1m21 0h1m13 0h1m-74 1h1m7 0h1m16 0h4m14 0h2m10 0h1m1 0h2m1 0h1m1 0h1m2 0h1m10 0h1m-73 1h1m20 0h1m7 0h1m2 0h1m10 0h1m2 0h1m-26 1h3m13 0h1m19 0h1m3 0h1m-41 1h1m1 0h1m3 0h1m11 0h1m3 0h1m2 0h1m7 0h1m-54 1h1m22 0h1m3 0h1m3 0h3m2 0h2m10 0h1m-9 1h1m2 0h1m13 0h1m-64 1h1m4 0h1m25 0h1m12 0h2m10 0h1m4 0h1m1 0h1m-32 1h1m6 0h2m7 0h2m1 0h1m5 0h1m-60 1h1m27 0h1m8 0h1m14 0h1m3 0h1m8 0h1m-68 1h1m4 0h1m27 0h1m-5 1h1m4 0h1m10 0h1m-42 1h1m22 0h1m14 0h2m-39 1h1m19 0h1m5 0h1m10 0h1m1 0h1m1 0h1m-5 1h2m10 0h1m-53 1h1m17 0h1m23 0h1m5 0h1m-53 1h1m26 0h2m9 0h1m3 0h1m-39 1h1m36 0h1m2 0h1m-42 1h1m40 0h1m-23 1h1m-2 1h1m2 0h1m6 0h1m-36 1h1m26 0h1m12 0h1m-21 2h1m6 0h1m-6 1h1m-2 1h1m-9 1h2m13 0h1m4 0h1m-25 1h1m-9 1h1m7 0h1m1 0h1m2 0h1m2 0h1m2 0h1m19 0h1m-30 1h1m12 0h1m7 0h2m-25 1h1m2 0h1m9 0h1m19 0h1m-39 2h1m2 0h1m7 1h1m8 2h1m-16 1h1m3 2h1" stroke="#7a7a7a"/><path d="M80 59h1m-13 1h1m-3 1h1m7 1h1m-8 1h1m3 1h1m-3 1h1m-1 1h1m-11 1h2m5 0h1m3 0h1m-15 1h1m12 0h1m-9 1h1m8 0h1m17 0h1m-25 1h1m15 0h1m9 0h1m-10 1h1m6 0h1m-29 1h1m11 0h1m2 0h1m-28 2h1m5 0h1m5 0h1m2 0h1m3 0h1m1 0h1m4 0h1m2 0h1m1 0h1m15 0h1m-34 1h2m1 0h1m1 0h1m1 0h1m27 0h1m-46 1h1m15 0h1m25 0h1m-38 1h1m10 0h2m18 0h1m-18 1h1m7 0h2m8 0h1m1 0h1m-28 1h1m1 0h1m2 0h1m1 0h1m-15 1h1m1 0h1m10 0h1m8 0h1m1 0h1m3 0h1m-25 1h1m12 0h1m20 0h2m-35 1h1m7 0h1m7 0h1m2 0h1m-21 1h1m15 0h1m12 0h1m1 0h1m3 0h1m-35 1h1m10 0h1m30 0h1m-47 1h1m7 0h1m1 0h1m28 0h1m-38 1h1m5 0h1m33 0h1m-26 1h1m9 0h1m16 0h1m-34 1h1m1 0h3m16 1h1m7 0h1m-28 1h1m-7 1h1m15 0h1m-32 1h1m14 1h1m4 0h1m20 0h2m-14 1h1m7 1h1m-25 1h1m-7 1h1m13 0h1m58 0h1m-59 1h1m8 0h1m-46 1h1m35 0h1m-13 1h1m11 0h3m9 0h1m-26 1h1m5 0h1m11 0h1m-16 1h2m5 0h1m18 0h1m7 0h1m-39 1h1m1 0h1m7 0h1m14 0h1m20 0h1m-56 1h1m5 0h1m2 0h2m2 0h2m13 0h1m20 0h1m-51 1h1m2 0h1m3 0h1m2 0h1m7 0h1m5 0h1m8 0h1m20 0h1m1 0h1m18 0h1m-73 1h1m2 0h2m6 0h1m4 0h1m5 0h1m12 0h1m18 0h1m-57 1h1m1 0h1m2 0h1m2 0h2m3 0h1m2 0h1m5 0h1m5 0h1m6 0h1m1 0h1m3 0h1m11 0h1m-61 1h1m17 0h1m1 0h3m9 0h1m26 0h1m2 0h2m4 0h1m-76 1h1m9 0h1m12 0h1m3 0h1m14 0h1m10 0h1m4 0h3m1 0h1m6 0h2m2 0h1m3 0h1m-71 1h1m1 0h1m20 0h1m10 0h1m21 0h2m7 0h2m-63 1h1m11 0h1m3 0h1m1 0h1m1 0h1m1 0h1m8 0h1m1 0h1m9 0h1m1 0h1m9 0h1m2 0h1m-63 1h1m1 0h1m1 0h1m1 0h1m13 0h1m6 0h1m3 0h1m5 0h2m7 0h2m3 0h2m8 0h1m2 0h2m-38 1h1m4 0h1m3 0h1m4 0h1m2 0h1m18 0h1m6 0h1m-70 1h1m1 0h1m14 0h1m3 0h1m3 0h2m6 0h2m2 0h1m5 0h1m6 0h1m1 0h2m2 0h1m4 0h1m4 0h1m-40 1h1m4 0h1m1 0h1m2 0h1m2 0h2m3 0h1m2 0h2m1 0h1m3 0h1m3 0h1m-62 1h1m2 0h1m16 0h1m4 0h1m5 0h1m3 0h1m2 0h1m6 0h1m5 0h1m2 0h1m7 0h1m-65 1h1m23 0h1m1 0h1m1 0h1m5 0h1m9 0h1m1 0h2m6 0h1m3 0h1m2 0h1m-63 1h1m2 0h1m15 0h1m7 0h1m1 0h1m2 0h1m3 0h2m4 0h1m6 0h1m5 0h1m2 0h1m-58 1h2m25 0h2m1 0h2m2 0h1m3 0h1m5 0h1m1 0h1m1 0h2m7 0h1m-63 1h1m7 0h1m19 0h1m4 0h1m4 0h1m1 0h1m3 0h2m3 0h1m6 0h2m3 0h1m-34 1h1m11 0h1m9 0h2m7 0h2m2 0h1m-59 1h1m19 0h1m1 0h1m6 0h1m4 0h2m4 0h3m4 0h3m9 0h1m-63 1h1m1 0h1m21 0h1m3 0h1m4 0h1m1 0h1m1 0h1m5 0h1m1 0h1m13 0h1m-62 1h1m23 0h2m2 0h1m7 0h1m1 0h1m6 0h2m7 0h1m8 0h1m-63 1h2m22 0h1m22 0h2m-48 1h2m19 0h1m1 0h1m1 0h1m3 0h1m1 0h1m1 0h1m1 0h1m9 0h1m3 0h1m3 0h1m-31 1h1m8 0h1m2 0h1m3 0h1m2 0h1m18 0h1m3 0h1m-70 1h1m2 0h2m33 0h1m-59 1h1m42 0h2m12 0h1m4 0h1m-37 1h1m18 0h2m1 0h1m18 0h1m-49 1h2m2 0h2m18 0h1m11 0h1m-33 1h1m14 0h1m17 0h1m2 0h1m-37 1h2m1 0h1m11 0h1m2 0h1m1 0h2m-22 1h1m3 0h2m11 0h1m9 0h1m6 0h1m-35 1h2m2 0h1m3 0h1m5 0h1m-22 1h1m16 0h1m5 0h1m-19 1h1m1 0h1m5 0h1m4 0h2m1 0h2m2 0h1m7 0h1m-37 1h1m11 0h3m6 0h1m25 0h1m-40 1h1m1 0h1m1 0h2m3 0h2m1 0h1m9 0h1m2 0h1m-27 1h1m4 0h1m5 0h1m2 0h1m-7 1h1m2 0h2m12 0h1m-27 1h2m1 0h2m2 0h1m4 0h2m13 0h1m-23 1h1m1 0h1m1 0h2m4 0h1m11 0h1m5 0h1m-17 1h1m3 0h1m-15 1h1m2 0h1m1 0h1m12 0h1m-23 1h1m4 0h1m2 0h4m6 0h1m2 0h3m1 0h1m4 1h1m-22 1h1m4 0h1m-3 1h1m8 0h1m-15 1h1m10 0h1" stroke="#2a2a2a"/><path d="M73 68h1m-12 2h1m-4 1h1m6 1h1m7 1h1m-10 1h1m0 1h1m-4 1h1m6 0h1m20 0h1m-22 1h1m-7 4h1m-2 1h1m1 0h3m-1 1h1m29 1h1m-27 10h1m-10 5h1m7 0h1m-10 1h2m3 1h1m-7 1h1m6 0h1m-3 1h1m-6 2h2m-6 1h1m1 0h4m1 0h1m-11 1h1m1 0h2m2 0h3m1 0h1m-17 1h1m3 0h2m1 0h1m1 0h2m1 0h1m1 0h1m4 0h1m-18 1h1m2 0h2m1 0h3m1 0h3m2 0h1m10 0h1m2 0h1m17 0h1m16 0h1m-66 1h1m1 0h12m1 0h1m3 0h1m20 0h1m11 0h1m-53 1h10m1 0h3m1 0h1m14 0h1m16 0h1m1 0h1m-48 1h12m1 0h2m18 0h1m11 0h3m3 0h1m-60 1h1m5 0h1m1 0h14m8 0h1m16 0h3m6 0h1m4 0h1m-57 1h14m1 0h2m21 0h1m2 0h1m3 0h1m5 0h1m2 0h1m2 0h1m-63 1h1m3 0h1m1 0h16m5 0h2m12 0h1m2 0h1m3 0h1m3 0h1m1 0h1m5 0h1m-60 1h2m1 0h16m1 0h1m1 0h1m5 0h1m16 0h1m3 0h1m1 0h2m-55 1h3m1 0h19m1 0h1m3 0h1m8 0h1m3 0h1m5 0h4m3 0h2m-54 1h15m1 0h4m1 0h1m5 0h1m1 0h1m4 0h1m2 0h1m1 0h1m6 0h1m2 0h2m1 0h1m2 0h1m-57 1h1m1 0h18m1 0h2m8 0h1m5 0h2m4 0h1m1 0h1m7 0h2m-55 1h1m1 0h19m1 0h2m1 0h1m1 0h1m2 0h1m1 0h1m8 0h1m1 0h1m2 0h1m4 0h1m-54 1h23m3 0h1m2 0h1m1 0h1m2 0h1m1 0h3m10 0h1m-52 1h1m2 0h19m4 0h1m3 0h1m1 0h1m24 0h1m-58 1h1m1 0h21m1 0h1m14 0h1m5 0h1m1 0h1m1 0h1m3 0h1m-53 1h19m14 0h1m1 0h1m-37 1h1m1 0h19m3 0h1m18 0h1m-43 1h19m7 0h1m3 0h1m13 0h1m-47 1h17m1 0h3m19 0h1m-44 1h1m3 0h18m11 0h1m-33 1h1m2 0h18m3 0h1m-24 1h1m1 0h1m1 0h16m1 0h1m-23 1h1m2 0h16m-19 1h1m1 0h14m1 0h1m7 0h1m-28 1h2m3 0h1m1 0h11m1 0h2m-21 1h2m2 0h3m2 0h2m1 0h6m5 0h1m-19 1h1m2 0h3m1 0h3m1 0h1m-16 1h1m2 0h2m1 0h6m1 0h2m2 0h1m-19 1h1m3 0h5m1 0h2m1 0h1m-10 1h1m6 0h2m2 0h1m-14 1h1m4 0h1m1 0h1m7 0h1m-13 2h1m1 0h1m0 1h1m15 0h1m-20 4h1" stroke="#000"/></g><g fill="none" stroke-width="1" transform="scale(1.36) translate(0.0,0.5)"><path d="M75 60h1m-14 1h1m-3 5h1m14 0h1m-11 1h1m12 0h1m1 0h1m-31 1h1m18 1h1m1 0h1m-7 1h1m9 0h1m9 1h1m-27 1h1m13 0h1m11 0h1m-26 1h1m4 0h1m10 0h1m13 0h1m-35 1h1m9 0h1m7 0h2m-18 2h1m8 0h1m19 0h1m-31 1h1m4 0h1m5 0h1m4 0h1m4 1h1m-22 1h1m2 0h1m20 0h1m5 0h1m6 0h1m-18 1h1m-7 1h1m3 0h1m1 0h2m9 0h1m-27 1h1m11 0h1m-12 1h1m-3 1h1m11 0h1m20 1h1m3 0h1m-13 1h1m-18 1h1m1 0h1m-3 2h1m-2 1h1m12 2h1m5 0h1m-16 1h1m12 0h1m13 0h1m-38 1h1m49 0h1m-57 1h1m23 3h1m2 0h1m-25 1h1m42 1h1m-47 1h1m1 0h1m4 0h1m3 0h1m-5 1h1m7 0h1m35 0h1m-32 1h1m-34 1h1m9 0h2m2 0h1m11 0h3m28 0h1m6 0h1m-5 1h1m-54 1h1m2 0h1m5 0h1m13 0h1m9 0h1m2 0h1m12 0h1m-44 1h1m5 0h1m1 0h3m9 0h1m3 0h1m1 0h1m6 1h1m17 0h1m-61 1h2m1 0h1m14 0h1m22 0h1m3 0h1m-41 1h1m9 0h1m13 0h2m2 0h1m1 0h1m7 0h1m3 0h1m6 0h2m-39 1h1m18 0h1m6 0h1m5 0h1m-50 1h1m14 0h1m1 0h1m2 0h1m5 0h1m4 0h1m10 0h1m5 0h1m2 0h2m5 0h2m-41 1h1m7 0h1m14 0h1m9 0h1m-35 1h1m12 0h2m10 0h1m2 0h1m7 0h1m-62 1h1m25 0h1m31 0h1m-55 1h1m17 0h1m7 0h2m2 0h1m10 0h1m13 0h2m-60 1h1m1 0h1m20 0h1m3 0h1m2 0h1m2 0h1m1 0h2m6 0h1m16 0h1m-65 1h1m25 0h1m1 0h1m15 0h1m2 0h1m8 0h1m2 0h1m6 0h1m9 0h1m-53 1h1m11 0h1m1 0h1m3 0h1m6 0h3m-51 1h1m2 0h1m16 0h2m6 0h2m4 0h1m1 0h1m3 0h1m2 0h1m1 0h1m13 0h1m-68 1h1m32 0h1m9 0h1m5 0h1m18 0h1m-60 1h1m35 0h1m1 0h1m5 0h1m7 0h1m-16 1h1m5 0h2m-55 1h1m30 0h1m8 0h1m7 0h1m1 0h1m3 0h1m-26 1h2m21 0h1m-47 1h1m24 0h2m9 0h1m1 0h1m4 0h1m1 0h2m2 0h1m8 0h1m-58 1h1m49 0h1m-51 1h1m24 0h1m4 0h1m4 0h1m4 0h1m5 0h1m-48 1h1m1 0h1m24 0h1m-25 1h1m12 0h1m3 0h2m-27 1h1m28 0h1m18 0h1m-19 2h1m8 0h1m-18 1h1m-14 1h1m8 0h1m1 0h1m13 0h1m-33 1h1m1 0h1m4 0h2m5 1h1m6 0h1m8 0h1m-25 1h1m6 0h1m1 0h1m4 0h1m-11 1h1m2 0h1m7 0h1m1 0h1m-25 1h1m4 0h2m8 0h1m1 0h1m11 0h1m-12 1h1m-17 1h1m11 0h1m5 1h1m-12 1h1m3 0h1m7 0h1m-7 1h1m11 1h1m-7 1h1m1 0h1" stroke="#7a7a7a"/><path d="M69 57h1m-13 1h1m12 0h1m1 1h1m-10 1h1m9 1h1m-12 1h1m21 0h1m-20 3h1m1 0h1m-2 1h1m-6 1h1m4 0h1m2 0h1m25 0h1m-23 1h2m-12 1h1m1 0h1m1 0h1m2 0h1m8 0h1m-20 1h1m21 0h1m1 0h1m18 0h1m-33 1h1m-19 1h1m2 0h1m3 0h1m4 0h1m1 0h1m2 0h1m4 0h1m6 0h2m-22 1h1m5 0h1m4 0h2m-7 1h1m2 0h1m1 0h1m9 0h2m7 0h1m-35 1h1m1 0h1m7 0h1m11 0h1m7 0h1m-26 1h1m7 0h3m3 0h1m16 0h1m2 0h1m-35 1h1m20 0h1m-26 1h1m4 0h1m12 0h1m1 0h1m1 0h1m8 0h1m-29 1h1m3 0h1m4 0h1m3 0h1m2 0h1m1 0h1m-25 1h1m3 0h1m18 0h1m-22 1h1m1 0h1m11 0h1m16 0h1m-27 1h1m7 0h1m27 0h1m-42 1h1m-3 1h1m1 0h1m5 1h1m16 1h1m3 0h1m1 0h1m-5 1h2m2 0h1m-29 1h1m2 0h1m3 0h1m21 0h1m10 0h1m-52 1h1m11 0h1m5 0h2m3 0h1m1 0h1m10 0h1m2 0h1m6 0h1m-45 1h1m4 0h1m27 0h1m18 0h1m-34 1h1m9 1h1m-21 1h1m19 0h1m5 1h1m-6 2h1m-11 1h1m10 0h1m-17 1h1m7 0h1m2 0h1m-21 1h1m8 0h1m7 0h1m-7 1h1m3 0h1m2 0h1m1 0h1m9 0h1m-25 1h1m7 0h1m13 0h1m-27 1h1m11 0h1m42 0h1m-56 1h1m6 0h2m4 0h1m1 0h1m-24 1h3m2 0h1m18 0h1m14 0h1m1 0h1m21 0h1m5 0h1m-73 1h1m7 0h2m8 0h1m3 0h1m7 0h1m14 0h1m11 0h1m-75 1h1m23 0h2m5 0h1m1 0h1m2 0h2m4 0h1m7 0h1m1 0h1m1 0h1m26 0h1m-64 1h1m1 0h1m16 0h1m26 0h1m2 0h1m4 0h1m7 0h1m3 0h1m-67 1h1m1 0h1m12 0h1m6 0h1m5 0h1m2 0h1m13 0h1m7 0h1m-5 1h1m6 0h1m5 0h1m-52 1h1m33 0h1m3 0h4m3 0h3m-62 1h1m2 0h1m17 0h3m16 0h1m7 0h1m4 0h1m4 0h1m6 0h1m1 0h1m1 0h1m-41 1h1m2 0h1m14 0h2m2 0h1m3 0h1m3 0h1m-63 1h1m4 0h1m1 0h1m13 0h1m4 0h1m12 0h1m1 0h1m14 0h1m2 0h2m-66 1h1m5 0h1m23 0h2m11 0h1m4 0h2m8 0h1m3 0h1m4 0h1m2 0h1m-77 1h1m11 0h1m18 0h1m5 0h1m1 0h1m1 0h1m7 0h2m1 0h3m7 0h1m5 0h2m7 0h1m-76 1h1m7 0h1m19 0h1m1 0h1m2 0h1m12 0h1m2 0h1m5 0h1m2 0h3m-56 1h1m3 0h1m20 0h1m2 0h1m15 0h1m3 0h1m2 0h2m4 0h1m6 0h1m2 0h1m-66 1h2m26 0h3m1 0h2m1 0h1m2 0h3m4 0h1m1 0h1m1 0h1m1 0h1m10 0h1m-32 1h1m4 0h1m3 0h1m2 0h1m14 0h1m-60 1h2m27 0h1m8 0h1m4 0h1m5 0h1m1 0h1m-53 1h1m21 0h3m4 0h2m5 0h1m16 0h2m2 0h1m6 0h1m-43 1h1m11 0h1m9 0h1m1 0h1m5 0h1m-54 1h1m22 0h1m3 0h1m6 0h1m9 0h1m-23 1h1m2 0h4m8 0h1m3 0h1m6 0h2m-31 1h1m3 0h3m1 0h1m2 0h1m6 0h1m5 0h1m2 0h1m1 0h1m-14 1h1m1 0h1m2 0h1m8 0h1m12 0h1m-66 1h1m2 0h1m16 0h1m1 0h3m8 0h1m13 0h1m-47 1h1m21 0h2m1 0h1m17 0h1m2 0h1m-49 1h1m17 0h2m2 0h1m9 0h1m10 0h1m7 0h1m-50 1h1m16 0h1m6 0h1m15 0h1m1 0h1m-42 1h1m15 0h3m8 0h2m4 0h1m-37 1h1m6 0h1m7 0h1m3 0h1m1 0h1m3 0h1m4 0h1m-29 1h2m12 0h1m12 0h1m9 0h1m-40 1h1m16 0h1m2 0h1m1 0h2m8 0h1m-20 1h1m6 0h1m1 0h1m4 0h1m13 0h1m-26 1h1m5 0h1m1 0h1m-16 1h1m4 0h2m1 0h1m-20 1h1m3 0h1m3 0h1m-10 1h1m10 0h1m2 0h1m2 0h1m1 0h1m2 0h1m7 0h1m-20 1h3m3 0h1m1 0h1m-6 1h1m3 0h1m2 0h2m4 0h1m5 0h1m-26 1h1m5 0h1m5 0h1m8 0h1m-21 1h1m2 0h1m1 0h1m11 0h1m3 0h1m-29 1h1m4 1h2m18 0h1m-13 1h1m20 0h1m-22 1h1m15 0h1m-5 1h1m-3 1h1" stroke="#2a2a2a"/><path d="M67 68h1m-9 6h1m1 0h1m9 1h1m2 1h1m3 1h1m3 0h2m-17 2h1m7 1h1m17 0h1m-37 1h1m25 3h1m-20 16h1m10 0h1m-20 2h1m2 0h1m9 0h1m-11 1h1m2 0h1m1 0h1m-9 1h1m2 0h1m3 0h1m2 0h1m1 0h1m-12 1h6m-7 1h3m42 0h1m-53 1h1m3 0h3m1 0h5m1 0h1m10 0h1m-26 1h1m2 0h1m1 0h8m32 0h1m-49 1h1m4 0h11m2 0h1m7 0h1m26 0h1m-51 1h3m1 0h6m1 0h2m1 0h2m27 0h1m-47 1h1m3 0h14m1 0h1m22 0h1m12 0h1m-57 1h1m2 0h14m1 0h1m2 0h1m1 0h1m13 0h1m11 0h1m2 0h1m3 0h1m-59 1h4m1 0h1m1 0h13m1 0h1m5 0h1m2 0h1m3 0h1m1 0h1m6 0h1m4 0h1m1 0h1m6 0h1m-57 1h2m1 0h15m1 0h1m2 0h1m2 0h1m6 0h1m5 0h1m4 0h2m5 0h1m2 0h1m2 0h1m5 0h1m-68 1h1m2 0h1m1 0h18m1 0h1m1 0h1m7 0h1m1 0h1m3 0h1m2 0h1m3 0h3m2 0h1m4 0h1m-54 1h1m1 0h16m3 0h1m8 0h1m10 0h1m9 0h1m2 0h1m12 0h1m-66 1h18m6 0h1m3 0h1m1 0h1m15 0h1m4 0h2m-56 1h20m4 0h1m4 0h1m4 0h1m6 0h1m-45 1h22m1 0h1m3 0h2m6 0h1m10 0h1m4 0h1m-49 1h16m2 0h1m1 0h1m1 0h1m6 0h1m1 0h1m1 0h1m4 0h1m3 0h3m-48 1h21m5 0h2m3 0h2m3 0h2m6 0h1m-44 1h20m3 0h2m8 0h1m6 0h1m-43 1h22m6 0h1m11 0h1m-42 1h22m-24 1h1m2 0h18m1 0h1m-22 1h1m1 0h20m5 0h1m2 0h1m-29 1h16m1 0h1m-19 1h19m-20 1h1m1 0h13m2 0h2m1 0h1m1 0h2m-24 1h2m1 0h12m-16 1h1m1 0h15m-16 1h4m1 0h7m1 0h3m1 0h1m2 0h1m-20 1h12m1 0h3m-17 1h2m1 0h11m4 0h1m-21 1h3m1 0h1m1 0h1m1 0h4m1 0h1m1 0h1m-13 1h2m2 0h4m1 0h3m-15 1h2m1 0h5m1 0h1m1 0h1m-10 1h2m2 0h2m2 0h1m3 0h1m-9 1h1m9 0h1m-16 1h1m3 0h1m14 0h1m-21 1h1m6 0h1m1 0h1m1 0h1m-9 1h1" stroke="#000"/></g><path d="M0 0H205.5V205.5" fill="none" stroke="#2a2a2a" stroke-width="1.45"/><path d="M0 0V205.5" fill="none" stroke="#666" stroke-width="1.3"/><path d="M-6 205.5H205.5" fill="none" stroke="#111" stroke-width="1.5"/><path d="M101.7 0V205.5" fill="none" stroke="#111" stroke-width="1.7"/><path d="M0 126.2H205.5" fill="none" stroke="#111" stroke-width="1.5"/><path d="M0.0 205.5v5.5M39.1 205.5v5.5M78.2 205.5v5.5M117.3 205.5v5.5M156.4 205.5v5.5M195.5 205.5v5.5M0 205.0h-6.5M0 165.7h-6.5M0 126.4h-6.5M0 87.1h-6.5M0 47.8h-6.5M0 8.5h-6.5" fill="none" stroke="#111" stroke-width="1.4"/><path d="M11.8 205.5v2.8M18.7 205.5v2.8M23.5 205.5v2.8M27.3 205.5v2.8M30.4 205.5v2.8M33.0 205.5v2.8M35.3 205.5v2.8M37.3 205.5v2.8M50.9 205.5v2.8M57.8 205.5v2.8M62.6 205.5v2.8M66.4 205.5v2.8M69.5 205.5v2.8M72.1 205.5v2.8M74.4 205.5v2.8M76.4 205.5v2.8M90.0 205.5v2.8M96.9 205.5v2.8M101.7 205.5v2.8M105.5 205.5v2.8M108.6 205.5v2.8M111.2 205.5v2.8M113.5 205.5v2.8M115.5 205.5v2.8M129.1 205.5v2.8M136.0 205.5v2.8M140.8 205.5v2.8M144.6 205.5v2.8M147.7 205.5v2.8M150.3 205.5v2.8M152.6 205.5v2.8M154.6 205.5v2.8M168.2 205.5v2.8M175.1 205.5v2.8M179.9 205.5v2.8M183.7 205.5v2.8M186.8 205.5v2.8M189.4 205.5v2.8M191.7 205.5v2.8M193.7 205.5v2.8M0 193.2h-3.5M0 186.2h-3.5M0 181.3h-3.5M0 177.5h-3.5M0 174.4h-3.5M0 171.8h-3.5M0 169.5h-3.5M0 167.5h-3.5M0 153.9h-3.5M0 146.9h-3.5M0 142.0h-3.5M0 138.2h-3.5M0 135.1h-3.5M0 132.5h-3.5M0 130.2h-3.5M0 128.2h-3.5M0 114.6h-3.5M0 107.6h-3.5M0 102.7h-3.5M0 98.9h-3.5M0 95.8h-3.5M0 93.2h-3.5M0 90.9h-3.5M0 88.9h-3.5M0 75.3h-3.5M0 68.3h-3.5M0 63.4h-3.5M0 59.6h-3.5M0 56.5h-3.5M0 53.9h-3.5M0 51.6h-3.5M0 49.6h-3.5M0 36.0h-3.5M0 29.0h-3.5M0 24.1h-3.5M0 20.3h-3.5M0 17.2h-3.5M0 14.6h-3.5M0 12.3h-3.5M0 10.3h-3.5" fill="none" stroke="#333" stroke-width="1.05"/><g font-family="'Liberation Sans', sans-serif" fill="#111" stroke="#111" stroke-width="0.3"><text transform="translate(3.6 222.9) scale(1 1.04)" font-size="7.4">10</text><text transform="translate(11.3 218.6) scale(1 1.04)" font-size="6.8">2</text><text transform="translate(39.5 222.9) scale(1 1.04)" font-size="7.4">10</text><text transform="translate(47.2 218.6) scale(1 1.04)" font-size="6.8">3</text><text transform="translate(78.6 222.9) scale(1 1.04)" font-size="7.4">10</text><text transform="translate(86.3 218.6) scale(1 1.04)" font-size="6.8">4</text><text transform="translate(117.7 222.9) scale(1 1.04)" font-size="7.4">10</text><text transform="translate(125.4 218.6) scale(1 1.04)" font-size="6.8">5</text><text transform="translate(156.8 222.9) scale(1 1.04)" font-size="7.4">10</text><text transform="translate(164.5 218.6) scale(1 1.04)" font-size="6.8">6</text><text transform="translate(195.9 222.9) scale(1 1.04)" font-size="7.4">10</text><text transform="translate(203.6 218.6) scale(1 1.04)" font-size="6.8">7</text><text transform="translate(-20.8 204.8) scale(1 1.04)" font-size="7.4">10</text><text transform="translate(-13.0 200.4) scale(1 1.04)" font-size="6.8">2</text><text transform="translate(-20.8 170.5) scale(1 1.04)" font-size="7.4">10</text><text transform="translate(-13.0 166.1) scale(1 1.04)" font-size="6.8">3</text><text transform="translate(-20.8 131.2) scale(1 1.04)" font-size="7.4">10</text><text transform="translate(-13.0 126.8) scale(1 1.04)" font-size="6.8">4</text><text transform="translate(-20.8 91.9) scale(1 1.04)" font-size="7.4">10</text><text transform="translate(-13.0 87.5) scale(1 1.04)" font-size="6.8">5</text><text transform="translate(-20.8 52.6) scale(1 1.04)" font-size="7.4">10</text><text transform="translate(-13.0 48.2) scale(1 1.04)" font-size="6.8">6</text><text transform="translate(-20.8 13.3) scale(1 1.04)" font-size="7.4">10</text><text transform="translate(-13.0 8.9) scale(1 1.04)" font-size="6.8">7</text></g><g font-family="'Liberation Sans', sans-serif" fill="#141414" stroke="#141414" stroke-width="0.55"><text transform="translate(9.9 34.4) scale(1 1.04)" font-size="30.6">3</text><text transform="translate(196.3 34.4) scale(1 1.04)" font-size="30.6" text-anchor="end">1</text><text transform="translate(8.3 197.8) scale(1 1.04)" font-size="30.6">85</text><text transform="translate(196.3 197.8) scale(1 1.04)" font-size="30.6" text-anchor="end">10</text></g></g>
<g transform="translate(620.0,148.2)"><g fill="none" stroke-width="1" transform="scale(1.36) translate(-0.5,0.0)"><path d="M60 58h1m18 5h1m-12 6h1m8 0h1m5 0h1m-25 2h1m3 0h1m8 0h1m-16 2h1m13 0h1m-19 2h1m-8 1h1m25 0h1m9 0h1m13 0h1m5 0h1m-53 1h1m22 0h1m-9 1h1m3 0h1m9 0h1m-31 1h1m8 0h1m2 0h2m3 0h1m21 0h1m7 0h1m-41 1h1m6 0h1m9 0h1m4 0h1m2 0h1m-26 1h1m10 0h1m8 0h1m32 0h1m-53 1h1m5 0h1m6 0h2m19 0h2m-35 1h1m2 0h1m15 0h1m-6 1h1m1 0h1m5 0h1m5 0h1m9 0h1m-55 1h1m17 0h2m-4 1h1m32 0h1m-29 1h2m16 0h1m15 0h1m-26 1h1m3 0h1m20 0h1m-27 1h1m2 0h1m17 0h1m-26 1h1m-20 1h1m2 2h1m5 1h1m18 0h1m14 0h1m-26 1h1m-3 1h1m-6 1h1m24 0h1m6 0h1m-33 1h1m14 0h1m5 0h1m-16 1h1m0 1h1m3 0h1m-18 1h1m6 0h1m25 0h1m-24 1h1m4 0h1m23 0h1m23 0h1m2 0h1m-72 1h1m13 0h1m3 0h1m39 0h1m-34 1h1m7 0h1m25 0h1m5 0h1m-59 1h1m12 0h1m3 1h1m3 0h1m16 0h1m19 0h1m-55 1h1m12 0h1m4 0h1m14 0h1m6 0h1m5 0h1m7 0h2m-69 1h1m2 0h1m16 0h2m40 0h1m-24 1h1m6 0h1m4 0h1m1 0h1m6 0h1m-61 1h1m2 0h2m16 0h1m6 0h1m10 0h1m3 0h1m5 0h1m-48 1h1m15 0h1m8 0h1m3 0h1m1 0h1m10 0h1m4 0h1m8 0h1m-61 1h1m20 0h1m4 0h1m16 0h1m11 0h1m13 0h1m-47 1h1m21 0h1m1 0h1m3 0h1m-16 1h1m6 0h1m3 0h1m3 0h1m2 0h2m3 0h1m-61 1h1m20 0h1m33 0h2m4 0h1m-63 1h1m22 0h1m9 0h1m17 0h1m-57 1h1m1 0h1m39 0h2m11 0h2m-15 1h1m9 0h1m10 0h1m-71 1h1m29 0h1m12 0h1m5 0h1m8 0h1m11 0h1m-42 1h1m13 0h1m11 0h1m2 0h1m3 0h3m-25 1h1m2 0h1m6 0h2m3 0h1m1 0h1m2 0h1m-55 1h1m45 0h3m13 0h1m-64 1h1m32 0h1m-10 1h1m4 0h1m23 0h1m-55 1h1m4 0h1m16 0h1m1 0h1m13 0h1m13 0h1m-58 1h1m43 0h1m8 0h1m6 0h1m-57 1h1m20 0h2m19 0h1m-46 1h1m27 0h1m2 0h2m22 0h1m-31 1h1m3 0h1m7 0h1m16 0h1m-32 1h1m-18 1h1m3 0h1m13 0h2m-11 1h1m22 0h1m-37 1h1m22 0h1m-26 1h1m18 0h1m9 0h1m-26 1h1m13 0h1m-16 1h1m1 0h1m36 0h1m-40 1h1m12 0h1m2 0h1m15 0h1m-30 1h1m5 0h1m1 0h1m13 0h2m-19 1h1m1 0h1m15 0h1m-30 1h1m2 0h1m-5 1h1m11 0h1m4 0h2m-9 1h1m-7 1h1m6 1h1m-6 2h1m13 0h1m-1 4h1" stroke="#7a7a7a"/><path d="M94 57h1m-27 6h1m-4 1h1m2 1h1m16 1h1m-8 1h1m-19 1h1m22 0h1m-11 1h1m-15 1h1m32 0h1m-27 1h1m-2 1h1m20 0h1m19 0h1m-46 1h1m3 0h1m1 0h1m9 0h2m10 0h1m-12 1h1m8 0h1m1 0h1m-47 1h1m22 0h1m-8 1h1m4 0h1m2 0h1m9 0h2m5 0h1m-39 1h1m2 0h1m3 0h1m9 0h1m5 0h1m1 0h1m2 0h1m5 0h1m-27 1h1m5 0h1m5 0h1m3 0h1m4 0h1m1 0h1m7 0h1m-33 1h1m10 0h1m11 0h1m4 0h1m5 0h1m2 0h1m-42 1h2m4 0h1m14 0h1m3 0h1m30 0h1m-49 1h2m13 0h1m4 0h1m2 0h1m-34 1h1m5 0h2m12 0h1m8 0h1m10 0h1m-23 1h1m4 0h1m14 0h1m11 0h1m-47 1h1m2 0h1m15 0h1m8 0h1m21 0h1m-45 1h1m5 0h2m3 0h1m3 0h1m7 0h1m2 0h1m9 0h1m-48 1h1m7 0h1m10 0h1m3 0h1m1 0h1m7 0h1m9 0h1m-12 1h1m4 0h1m1 0h1m5 0h1m11 0h1m-26 1h1m-44 1h1m26 0h1m1 1h1m3 0h1m-1 1h1m1 0h2m13 0h1m15 0h1m-34 1h2m7 0h1m-24 1h1m20 0h1m15 0h1m-42 1h1m13 0h1m1 0h1m-13 2h1m6 0h1m3 0h1m13 0h1m-31 1h1m7 0h1m3 0h1m1 0h3m5 0h1m-19 1h1m4 0h1m1 0h1m8 0h2m23 0h1m-37 1h1m1 0h2m7 0h1m2 0h1m4 0h1m16 0h1m-38 1h1m4 0h2m1 0h1m2 0h1m3 0h1m26 0h1m4 0h1m-50 1h3m1 0h1m4 0h1m15 0h1m1 0h1m-32 1h1m2 0h2m3 0h1m1 0h1m4 0h1m2 0h1m4 0h2m5 0h1m20 0h1m1 0h1m-53 1h2m2 0h1m12 0h1m2 0h2m10 0h1m-47 1h1m16 0h1m12 0h1m22 0h1m-42 1h1m2 0h1m10 0h1m2 0h1m4 0h1m1 0h2m5 0h1m26 0h1m1 0h1m-63 1h1m3 0h1m4 0h1m9 0h2m4 0h1m41 0h1m-69 1h1m7 0h1m4 0h2m5 0h5m13 0h1m12 0h1m2 0h1m8 0h1m-71 1h1m27 0h1m11 0h1m6 0h2m8 0h1m1 0h1m3 0h1m2 0h1m2 0h1m-66 1h1m16 0h1m4 0h3m32 0h1m2 0h1m3 0h1m4 0h1m-70 1h1m27 0h1m3 0h1m7 0h1m1 0h1m5 0h1m5 0h1m1 0h1m-39 1h1m2 0h1m1 0h3m32 0h2m-62 1h1m24 0h1m10 0h1m1 0h1m1 0h1m15 0h1m3 0h1m2 0h1m-42 1h1m12 0h2m5 0h1m1 0h1m3 0h1m2 0h1m4 0h1m5 0h1m-62 1h2m18 0h3m5 0h2m4 0h2m3 0h2m6 0h1m2 0h1m2 0h1m4 0h1m-67 1h1m4 0h1m21 0h1m3 0h1m4 0h1m1 0h1m3 0h2m1 0h1m1 0h1m4 0h1m3 0h2m3 0h1m17 0h1m-76 1h3m27 0h1m9 0h1m3 0h1m11 0h2m1 0h1m3 0h1m7 0h1m-71 1h1m25 0h1m1 0h1m1 0h3m3 0h2m5 0h2m3 0h2m13 0h1m-42 1h1m1 0h1m1 0h1m1 0h1m1 0h1m5 0h1m6 0h1m2 0h1m7 0h1m9 0h1m-63 1h1m18 0h1m2 0h3m2 0h1m5 0h1m2 0h1m2 0h2m3 0h1m5 0h1m9 0h1m-72 1h1m2 0h1m2 0h2m1 0h1m19 0h1m4 0h1m2 0h1m2 0h2m2 0h2m2 0h2m1 0h2m7 0h1m-58 1h1m3 0h1m2 0h1m36 0h2m2 0h1m10 0h1m-64 1h1m28 0h1m2 0h1m6 0h1m2 0h1m4 0h1m2 0h2m5 0h1m2 0h1m-57 1h1m2 0h1m3 0h1m16 0h1m12 0h1m1 0h1m3 0h3m5 0h1m1 0h2m-53 1h1m19 0h1m1 0h1m14 0h4m15 0h1m5 0h1m-64 1h2m4 0h1m15 0h1m1 0h1m6 0h1m2 0h2m3 0h2m3 0h1m8 0h1m9 0h1m-66 1h2m27 0h1m8 0h1m16 0h1m-60 1h1m38 0h1m8 0h1m6 0h1m1 0h1m-56 1h1m5 0h1m18 0h1m2 0h1m3 0h1m13 0h1m-26 1h2m7 0h1m13 0h1m-49 1h1m27 0h1m1 0h1m-32 1h1m2 0h1m1 0h2m19 0h1m15 0h1m-39 1h3m15 0h2m1 0h1m8 0h1m-33 1h1m8 0h1m7 0h1m3 0h1m2 0h1m10 0h1m3 0h1m-34 1h1m8 0h1m2 0h1m1 0h1m3 0h1m8 0h1m1 0h1m-51 1h1m19 0h1m1 0h2m10 0h1m12 0h1m-31 1h1m3 0h1m3 0h1m6 0h1m1 0h1m3 0h1m4 0h1m-19 1h2m2 0h1m10 0h1m-17 1h1m2 0h2m5 0h1m3 0h2m-27 1h1m8 0h1m2 0h1m1 0h1m3 0h2m11 0h1m2 0h1m-32 1h1m5 0h1m2 0h1m19 0h1m2 0h1m-34 1h1m5 0h2m16 0h1m-20 1h1m6 0h1m7 0h1m1 0h1m2 0h1m-19 1h2m2 0h1m10 0h1m1 0h2m-28 1h1m4 0h1m2 0h1m9 0h1m3 0h1m-10 1h1m12 0h1m4 0h1m-19 1h1m26 0h1m-37 1h1m15 0h1m-4 1h1m7 0h1m-5 1h1" stroke="#2a2a2a"/><path d="M69 69h1m4 3h2m-7 1h1m6 1h1m-7 3h1m-1 2h1m-9 1h1m-2 2h1m3 0h1m2 2h1m-3 1h1m23 1h1m-30 2h1m-10 2h1m19 0h1m-15 6h1m4 2h1m2 0h3m-10 1h1m3 0h2m1 0h1m1 0h1m2 0h1m-12 1h2m2 0h1m2 0h1m1 0h1m-12 1h1m2 0h3m2 0h2m-12 1h2m4 0h1m1 0h2m4 0h1m-16 1h1m1 0h5m2 0h1m2 0h1m-15 1h1m2 0h8m1 0h2m-16 1h1m4 0h8m2 0h1m3 0h1m-18 1h4m1 0h7m1 0h1m3 0h1m-22 1h2m1 0h3m1 0h3m3 0h4m30 0h1m-54 1h1m6 0h16m-19 1h1m1 0h12m1 0h4m16 0h1m-35 1h1m2 0h16m8 0h1m17 0h2m-49 1h2m1 0h13m1 0h1m2 0h1m9 0h1m7 0h1m11 0h1m1 0h1m-54 1h20m21 0h1m5 0h1m1 0h1m-52 1h2m1 0h18m1 0h2m3 0h2m22 0h1m4 0h1m-55 1h18m4 0h1m18 0h1m10 0h1m-59 1h1m2 0h1m1 0h18m1 0h1m1 0h1m1 0h1m13 0h1m1 0h1m4 0h1m-46 1h22m9 0h1m6 0h2m3 0h1m2 0h1m-49 1h2m1 0h19m1 0h1m4 0h1m4 0h1m6 0h1m4 0h1m3 0h1m-51 1h22m1 0h1m1 0h1m5 0h1m3 0h1m5 0h1m3 0h1m2 0h1m1 0h1m10 0h1m-64 1h4m1 0h17m2 0h2m3 0h2m20 0h1m1 0h1m1 0h1m1 0h1m-55 1h18m18 0h1m11 0h1m-51 1h2m1 0h20m2 0h1m1 0h1m7 0h1m1 0h1m6 0h1m-46 1h21m1 0h1m3 0h1m9 0h1m-37 1h1m1 0h1m1 0h16m3 0h1m12 0h1m1 0h1m4 0h1m7 0h3m-55 1h19m1 0h1m2 0h1m23 0h1m-48 1h2m1 0h1m1 0h13m6 0h1m18 0h3m-48 1h22m1 0h1m2 0h1m-28 1h20m29 0h1m-51 1h1m1 0h2m1 0h17m10 0h1m-31 1h17m18 0h1m-39 1h1m2 0h17m-19 1h1m1 0h1m1 0h3m1 0h7m2 0h1m2 0h1m18 0h1m-39 1h1m1 0h9m1 0h2m-14 1h3m1 0h7m2 0h2m1 0h1m6 0h1m-25 1h1m1 0h2m1 0h5m1 0h2m1 0h1m9 0h1m-21 1h2m2 0h3m6 0h1m3 0h1m-18 1h1m2 0h2m-6 1h2m5 0h1m-12 1h3m4 0h1m8 0h1m-19 1h1m1 0h1m4 0h1m8 0h1m-15 1h1m6 0h1m2 0h1m-2 2h1m6 1h1" stroke="#000"/></g><g fill="none" stroke-width="1" transform="scale(1.36) translate(0.0,0.5)"><path d="M71 65h1m7 0h1m-18 2h1m10 0h1m-16 1h1m3 2h1m1 1h1m-7 1h1m-2 1h1m2 0h1m6 0h1m14 0h1m-7 1h1m11 0h1m11 0h1m-42 2h1m-4 1h1m1 0h1m11 0h1m16 0h1m-30 1h1m19 0h2m-17 1h1m2 0h1m16 0h1m3 0h1m-17 1h1m-1 1h2m-22 1h1m9 0h1m2 0h1m7 0h1m12 0h1m-31 1h1m9 0h1m1 0h1m-19 1h1m-3 2h1m-5 1h1m18 0h1m4 0h1m-16 1h1m1 0h1m23 0h1m6 0h1m-14 1h1m-10 2h1m7 1h1m13 1h1m-27 1h1m3 0h1m11 0h1m-19 1h1m4 1h1m10 0h1m3 0h1m38 0h1m-51 1h1m-9 1h1m7 0h1m10 1h1m-32 1h1m39 0h1m10 0h1m-38 1h1m6 0h1m2 0h1m4 0h1m11 0h1m-22 1h1m9 0h1m19 0h1m-48 1h1m3 0h1m2 0h1m33 0h1m-40 1h1m2 0h1m62 0h1m-70 1h1m4 0h1m12 0h1m9 0h1m24 0h2m-52 1h1m13 0h1m2 0h1m40 0h1m-64 1h1m1 0h1m23 0h1m35 0h1m-46 1h1m6 0h1m2 0h1m11 0h1m22 0h1m-68 1h1m1 0h1m4 0h1m11 0h1m13 0h1m-37 1h1m8 0h1m25 0h1m2 0h1m6 0h1m-46 1h1m3 0h1m24 0h2m30 0h1m3 0h1m1 0h1m-64 1h1m33 0h1m15 0h1m1 0h1m-27 1h1m4 0h1m26 0h1m-18 1h1m1 0h1m9 0h1m1 0h1m1 0h1m-55 1h1m15 0h1m18 0h1m2 0h1m14 0h2m-63 1h1m4 0h1m45 0h1m8 0h1m-30 1h1m7 0h1m15 0h1m-31 1h1m13 0h1m11 0h2m-14 1h2m5 0h1m6 0h1m-55 1h1m3 0h1m18 0h1m2 0h1m5 0h1m12 0h1m-43 1h1m19 0h1m3 0h1m7 0h1m5 0h1m-48 1h1m6 0h1m40 0h2m8 0h2m-53 1h1m20 0h1m7 0h1m6 0h1m1 0h1m8 0h1m3 0h1m-53 1h1m32 0h1m9 0h1m4 0h2m-55 1h1m22 0h2m14 0h1m-18 1h1m16 0h1m10 0h1m-53 1h1m31 0h1m14 0h1m4 0h1m-48 1h1m19 0h1m11 0h1m16 0h1m-37 1h1m3 0h1m20 0h1m12 0h1m-30 1h1m2 0h1m13 0h1m-30 2h1m2 0h1m5 0h1m11 0h1m-37 1h1m3 0h1m1 0h1m9 1h2m-1 1h1m-26 1h1m4 0h1m26 0h1m9 0h1m-23 1h1m6 0h2m-1 1h1m4 0h1m-20 1h1m12 0h1m-18 1h1m10 1h1m7 0h1m-30 1h1m3 0h1m2 0h1m9 0h1m21 0h1m-16 1h1m3 2h1m-2 3h1m1 1h1" stroke="#7a7a7a"/><path d="M56 64h1m-15 3h1m24 0h1m7 0h1m8 0h1m3 0h1m-29 2h1m6 0h1m5 0h1m-13 2h1m3 0h1m23 0h1m1 0h1m-41 1h1m9 0h1m5 0h1m12 0h1m-36 1h1m17 0h1m6 0h1m2 0h1m9 0h1m14 0h1m-46 1h1m1 0h1m1 0h1m2 0h1m4 0h1m7 0h1m1 0h1m7 0h1m-34 1h1m12 0h1m1 0h1m8 0h1m4 0h1m-28 1h1m13 0h1m6 0h1m-15 1h1m4 0h3m7 0h3m7 0h1m5 0h1m-41 1h1m4 0h1m3 0h2m1 0h1m1 0h1m4 0h1m2 0h2m2 0h1m17 0h1m-42 1h1m14 0h1m2 0h1m9 0h1m6 0h2m5 0h1m4 0h1m-45 1h1m12 0h2m8 0h1m2 0h1m6 0h1m3 0h1m-35 1h1m1 0h1m4 0h1m1 0h1m4 0h1m1 0h1m3 0h1m3 0h1m-36 1h1m17 0h3m15 0h1m5 0h1m-28 1h1m12 0h2m4 0h1m-37 1h1m9 0h1m33 0h1m-20 1h1m4 0h1m-14 1h1m17 0h1m2 0h1m2 0h1m-25 1h1m20 0h1m-34 1h1m14 0h1m15 0h1m6 0h1m-36 1h1m47 0h1m-47 1h1m8 0h1m11 1h1m6 0h1m-7 1h1m-15 1h1m6 0h1m4 0h1m6 0h1m-28 1h1m28 0h1m-24 1h1m2 0h1m3 0h1m1 0h1m-24 1h1m17 0h1m4 0h2m-36 1h1m20 0h2m1 0h1m6 0h1m-14 1h1m3 0h1m2 0h1m4 0h2m17 0h1m-32 1h1m3 0h1m1 0h1m1 0h1m4 0h1m2 0h1m2 0h1m-23 1h1m5 0h1m1 0h1m2 0h1m2 0h1m41 0h1m1 0h1m-57 1h1m13 0h2m47 0h1m-65 1h1m1 0h1m6 0h1m2 0h1m1 0h1m14 0h1m-35 1h1m3 0h1m2 0h1m1 0h1m5 0h2m4 0h1m1 0h3m3 0h1m4 0h1m23 0h2m-70 1h1m10 0h1m6 0h1m4 0h1m1 0h1m6 0h2m9 0h1m19 0h1m4 0h1m-65 1h1m6 0h2m3 0h1m2 0h1m2 0h1m4 0h1m5 0h1m6 0h1m11 0h1m8 0h1m3 0h1m9 0h1m-68 1h1m17 0h1m2 0h1m2 0h1m16 0h1m10 0h1m2 0h1m2 0h1m2 0h1m4 0h1m-68 1h1m4 0h1m11 0h1m4 0h1m2 0h1m3 0h1m23 0h1m3 0h1m1 0h1m1 0h1m-76 1h1m15 0h1m16 0h3m8 0h2m10 0h1m-46 1h1m3 0h2m1 0h1m18 0h2m6 0h1m4 0h1m7 0h1m2 0h1m6 0h1m4 0h1m3 0h1m-68 1h1m3 0h1m26 0h1m19 0h1m1 0h2m7 0h1m-71 1h1m7 0h1m21 0h2m7 0h1m3 0h1m4 0h1m2 0h1m7 0h1m4 0h1m2 0h1m5 0h1m-62 1h1m4 0h1m13 0h1m9 0h2m4 0h1m1 0h2m1 0h1m1 0h1m17 0h2m-68 1h1m3 0h1m25 0h1m1 0h1m3 0h1m3 0h1m6 0h1m2 0h2m6 0h1m4 0h1m-67 1h1m24 0h1m9 0h1m5 0h1m2 0h1m1 0h1m1 0h1m2 0h1m1 0h1m1 0h1m17 0h1m-68 1h1m25 0h1m5 0h2m3 0h1m5 0h1m2 0h1m4 0h1m1 0h1m4 0h1m-68 1h1m7 0h1m22 0h1m1 0h1m10 0h1m2 0h1m4 0h1m4 0h1m-57 1h1m3 0h1m32 0h1m2 0h2m8 0h1m2 0h1m5 0h1m11 0h1m-67 1h1m23 0h2m4 0h2m3 0h1m2 0h1m5 0h2m9 0h1m-62 1h1m5 0h1m20 0h1m1 0h1m8 0h1m6 0h1m2 0h2m6 0h1m-51 1h1m21 0h1m1 0h1m3 0h1m3 0h1m1 0h1m10 0h1m1 0h1m1 0h1m2 0h2m4 0h1m6 0h1m-70 1h1m2 0h1m22 0h2m1 0h2m8 0h3m1 0h2m2 0h1m-26 1h1m3 0h1m1 0h2m1 0h2m4 0h1m-37 1h1m24 0h1m12 0h1m3 0h1m4 0h1m2 0h1m-55 1h1m23 0h1m2 0h1m16 0h1m3 0h1m5 0h1m1 0h1m-33 1h2m4 0h1m8 0h1m2 0h1m12 0h1m-53 1h2m18 0h4m8 0h1m5 0h1m2 0h1m-42 1h1m17 0h1m4 0h1m8 0h1m2 0h1m8 0h1m-48 1h1m3 0h1m11 0h1m10 0h2m15 0h1m7 0h2m-56 1h1m2 0h1m19 0h1m4 0h1m12 0h1m-42 1h1m1 0h1m3 0h2m14 0h1m-22 1h1m15 0h1m2 0h2m18 0h1m-42 1h1m7 0h2m3 0h1m3 0h1m-16 1h1m15 0h1m1 0h1m1 0h2m-25 1h2m3 0h2m15 0h1m16 0h1m1 0h2m-45 1h1m7 0h2m5 0h1m5 0h1m1 0h1m6 0h2m-27 1h1m1 0h1m2 0h2m1 0h1m1 0h1m2 0h1m5 0h1m3 0h1m1 0h1m5 0h1m-39 1h1m1 0h1m3 0h1m8 0h1m15 0h1m-27 1h1m1 0h5m2 0h1m4 0h2m1 0h1m-14 1h1m5 0h1m5 0h2m6 0h1m1 0h1m-24 1h1m1 0h1m7 0h1m4 0h1m4 0h1m-23 1h1m2 0h2m17 0h3m-18 1h1m1 0h1m16 0h1m-29 1h2m11 0h1m4 0h1m6 1h1m7 0h1m-19 1h1m1 0h1m7 0h1m-27 1h1m3 0h1m15 0h1m5 1h1m1 0h1m-7 2h1m-21 1h1" stroke="#2a2a2a"/><path d="M69 74h1m-22 5h1m12 1h1m1 0h1m10 1h1m14 3h1m-22 1h1m-1 3h1m-2 3h1m23 2h1m-24 1h1m-8 1h1m1 0h1m-1 1h1m-4 2h1m2 0h1m1 0h1m16 0h1m-17 1h1m6 0h1m-15 1h1m1 0h1m2 0h2m3 0h1m6 0h1m-20 1h3m1 0h5m-16 1h1m3 0h1m1 0h4m3 0h1m8 0h1m-15 1h5m2 0h3m-15 1h1m1 0h1m1 0h3m2 0h1m1 0h4m-17 1h2m2 0h2m2 0h1m1 0h4m9 0h1m-26 1h1m4 0h10m5 0h1m-18 1h10m1 0h4m1 0h1m-26 1h1m6 0h13m8 0h1m26 0h1m-54 1h1m4 0h10m1 0h3m1 0h3m22 0h1m4 0h1m2 0h1m-53 1h1m1 0h18m30 0h2m1 0h1m-55 1h18m2 0h1m22 0h2m4 0h1m6 0h1m-59 1h2m1 0h4m1 0h13m20 0h1m4 0h1m1 0h1m1 0h1m2 0h1m1 0h1m-58 1h2m2 0h19m8 0h1m11 0h1m2 0h1m-46 1h19m1 0h3m1 0h1m7 0h1m11 0h1m-47 1h2m1 0h2m1 0h14m2 0h1m4 0h1m23 0h1m-53 1h1m3 0h20m16 0h1m11 0h1m3 0h1m-55 1h21m1 0h1m2 0h1m3 0h1m7 0h2m1 0h2m3 0h1m3 0h1m8 0h1m-62 1h1m1 0h22m9 0h1m7 0h2m6 0h1m4 0h1m2 0h1m-62 1h1m2 0h2m1 0h19m2 0h1m2 0h1m1 0h1m6 0h2m4 0h1m7 0h1m-51 1h1m3 0h18m5 0h1m9 0h2m1 0h2m3 0h1m2 0h1m4 0h1m-55 1h2m2 0h18m10 0h2m13 0h1m4 0h1m-51 1h19m3 0h1m15 0h1m3 0h1m6 0h1m-50 1h19m3 0h1m4 0h1m4 0h1m-37 1h2m1 0h19m1 0h1m4 0h1m11 0h1m-43 1h1m1 0h2m1 0h17m11 0h1m11 0h1m-44 1h1m2 0h16m1 0h1m-19 1h17m1 0h2m-21 1h1m1 0h11m1 0h3m-17 1h12m1 0h3m1 0h1m21 0h1m-47 1h1m6 0h1m3 0h13m-20 1h1m2 0h12m1 0h2m-20 1h1m1 0h5m2 0h3m1 0h1m1 0h1m2 0h2m1 0h1m5 0h1m-26 1h1m3 0h11m12 0h1m-29 1h2m3 0h8m4 0h1m-19 1h1m2 0h1m3 0h1m1 0h2m1 0h1m-9 1h2m4 0h1m1 0h1m2 0h1m1 0h1m-16 1h1m1 0h3m1 0h1m1 0h1m-5 1h1m3 0h1m-11 1h2m2 0h1m2 0h2m19 0h1m-22 1h1m0 1h1" stroke="#000"/></g><path d="M0 0H205.5V205.5" fill="none" stroke="#2a2a2a" stroke-width="1.45"/><path d="M0 0V205.5" fill="none" stroke="#666" stroke-width="1.3"/><path d="M-6 205.5H205.5" fill="none" stroke="#111" stroke-width="1.5"/><path d="M100.3 0V205.5" fill="none" stroke="#111" stroke-width="1.7"/><path d="M0 126.2H205.5" fill="none" stroke="#111" stroke-width="1.5"/><path d="M0.0 205.5v5.5M39.1 205.5v5.5M78.2 205.5v5.5M117.3 205.5v5.5M156.4 205.5v5.5M195.5 205.5v5.5M0 205.0h-6.5M0 165.7h-6.5M0 126.4h-6.5M0 87.1h-6.5M0 47.8h-6.5M0 8.5h-6.5" fill="none" stroke="#111" stroke-width="1.4"/><path d="M11.8 205.5v2.8M18.7 205.5v2.8M23.5 205.5v2.8M27.3 205.5v2.8M30.4 205.5v2.8M33.0 205.5v2.8M35.3 205.5v2.8M37.3 205.5v2.8M50.9 205.5v2.8M57.8 205.5v2.8M62.6 205.5v2.8M66.4 205.5v2.8M69.5 205.5v2.8M72.1 205.5v2.8M74.4 205.5v2.8M76.4 205.5v2.8M90.0 205.5v2.8M96.9 205.5v2.8M101.7 205.5v2.8M105.5 205.5v2.8M108.6 205.5v2.8M111.2 205.5v2.8M113.5 205.5v2.8M115.5 205.5v2.8M129.1 205.5v2.8M136.0 205.5v2.8M140.8 205.5v2.8M144.6 205.5v2.8M147.7 205.5v2.8M150.3 205.5v2.8M152.6 205.5v2.8M154.6 205.5v2.8M168.2 205.5v2.8M175.1 205.5v2.8M179.9 205.5v2.8M183.7 205.5v2.8M186.8 205.5v2.8M189.4 205.5v2.8M191.7 205.5v2.8M193.7 205.5v2.8M0 193.2h-3.5M0 186.2h-3.5M0 181.3h-3.5M0 177.5h-3.5M0 174.4h-3.5M0 171.8h-3.5M0 169.5h-3.5M0 167.5h-3.5M0 153.9h-3.5M0 146.9h-3.5M0 142.0h-3.5M0 138.2h-3.5M0 135.1h-3.5M0 132.5h-3.5M0 130.2h-3.5M0 128.2h-3.5M0 114.6h-3.5M0 107.6h-3.5M0 102.7h-3.5M0 98.9h-3.5M0 95.8h-3.5M0 93.2h-3.5M0 90.9h-3.5M0 88.9h-3.5M0 75.3h-3.5M0 68.3h-3.5M0 63.4h-3.5M0 59.6h-3.5M0 56.5h-3.5M0 53.9h-3.5M0 51.6h-3.5M0 49.6h-3.5M0 36.0h-3.5M0 29.0h-3.5M0 24.1h-3.5M0 20.3h-3.5M0 17.2h-3.5M0 14.6h-3.5M0 12.3h-3.5M0 10.3h-3.5" fill="none" stroke="#333" stroke-width="1.05"/><g font-family="'Liberation Sans', sans-serif" fill="#111" stroke="#111" stroke-width="0.3"><text transform="translate(3.6 222.9) scale(1 1.04)" font-size="7.4">10</text><text transform="translate(11.3 218.6) scale(1 1.04)" font-size="6.8">2</text><text transform="translate(39.5 222.9) scale(1 1.04)" font-size="7.4">10</text><text transform="translate(47.2 218.6) scale(1 1.04)" font-size="6.8">3</text><text transform="translate(78.6 222.9) scale(1 1.04)" font-size="7.4">10</text><text transform="translate(86.3 218.6) scale(1 1.04)" font-size="6.8">4</text><text transform="translate(117.7 222.9) scale(1 1.04)" font-size="7.4">10</text><text transform="translate(125.4 218.6) scale(1 1.04)" font-size="6.8">5</text><text transform="translate(156.8 222.9) scale(1 1.04)" font-size="7.4">10</text><text transform="translate(164.5 218.6) scale(1 1.04)" font-size="6.8">6</text><text transform="translate(195.9 222.9) scale(1 1.04)" font-size="7.4">10</text><text transform="translate(203.6 218.6) scale(1 1.04)" font-size="6.8">7</text><text transform="translate(-20.8 204.8) scale(1 1.04)" font-size="7.4">10</text><text transform="translate(-13.0 200.4) scale(1 1.04)" font-size="6.8">2</text><text transform="translate(-20.8 170.5) scale(1 1.04)" font-size="7.4">10</text><text transform="translate(-13.0 166.1) scale(1 1.04)" font-size="6.8">3</text><text transform="translate(-20.8 131.2) scale(1 1.04)" font-size="7.4">10</text><text transform="translate(-13.0 126.8) scale(1 1.04)" font-size="6.8">4</text><text transform="translate(-20.8 91.9) scale(1 1.04)" font-size="7.4">10</text><text transform="translate(-13.0 87.5) scale(1 1.04)" font-size="6.8">5</text><text transform="translate(-20.8 52.6) scale(1 1.04)" font-size="7.4">10</text><text transform="translate(-13.0 48.2) scale(1 1.04)" font-size="6.8">6</text><text transform="translate(-20.8 13.3) scale(1 1.04)" font-size="7.4">10</text><text transform="translate(-13.0 8.9) scale(1 1.04)" font-size="6.8">7</text></g><g font-family="'Liberation Sans', sans-serif" fill="#141414" stroke="#141414" stroke-width="0.55"><text transform="translate(9.9 34.4) scale(1 1.04)" font-size="30.6">2</text><text transform="translate(196.3 34.4) scale(1 1.04)" font-size="30.6" text-anchor="end">1</text><text transform="translate(8.3 197.8) scale(1 1.04)" font-size="30.6">89</text><text transform="translate(196.3 197.8) scale(1 1.04)" font-size="30.6" text-anchor="end">9</text></g></g>
<g transform="translate(874.0,148.2)"><g fill="none" stroke-width="1" transform="scale(1.36) translate(-0.5,0.0)"><path d="M87 52h1m-15 19h1m16 0h1m-22 1h1m-8 1h1m14 0h1m0 1h1m3 0h1m-12 1h1m-15 2h1m24 0h1m7 1h1m-7 2h1m-40 1h1m47 0h1m-28 1h1m20 0h1m7 0h1m-28 1h1m7 0h1m1 0h1m-15 1h1m3 0h1m5 1h1m-8 1h1m-15 1h1m5 0h1m6 0h1m8 0h1m4 0h1m5 1h1m-27 1h1m11 0h1m-7 1h1m3 0h1m4 0h1m5 0h1m-21 1h1m14 0h1m-27 1h1m11 0h1m8 0h1m7 0h1m-15 1h1m10 0h1m7 0h1m-27 1h1m14 0h1m2 0h1m-4 1h1m-10 1h2m2 0h1m5 0h1m4 0h1m10 0h1m-31 1h1m5 0h2m4 0h1m2 0h1m11 0h1m3 0h1m-40 1h1m7 0h1m20 0h1m-29 1h1m1 0h1m15 0h1m5 0h1m-18 1h1m1 0h1m12 1h1m2 0h1m-22 1h1m14 1h1m-1 1h1m1 0h1m1 0h1m-3 1h1m2 0h1m13 0h1m-44 1h1m20 1h1m23 0h1m-45 1h1m22 0h2m34 0h1m-27 1h1m31 0h1m-65 1h1m48 0h1m-50 1h1m16 0h1m0 1h1m22 0h1m-53 1h1m37 0h1m-44 1h1m36 0h1m8 0h1m17 0h2m-55 1h1m16 0h1m1 0h1m2 0h1m23 0h1m2 0h1m-52 1h1m21 0h1m23 0h1m-50 1h1m19 0h1m32 0h1m6 0h1m-58 1h1m16 0h1m5 0h1m29 0h1m-57 1h1m18 0h2m17 0h1m7 0h1m4 0h1m-60 1h1m8 0h1m-5 1h2m17 0h1m16 0h1m-18 1h1m4 0h1m17 0h1m6 0h1m-8 1h1m-45 1h1m-1 1h1m13 0h2m29 0h1m-42 1h1m23 0h1m7 0h1m-37 1h1m6 0h1m2 0h1m28 0h1m-45 1h1m2 0h1m-4 1h1m10 0h1m5 0h1m-17 1h1m10 0h1m-10 1h1m20 0h1m-19 1h1m-10 1h1m12 0h1m4 0h1m11 0h1m-31 2h1m8 0h1m4 0h1m28 1h1m-16 2h1m3 1h1m-6 1h1m-4 1h1m2 0h1m-10 3h1m2 1h1m10 2h1" stroke="#7a7a7a"/><path d="M104 63h1m-40 2h1m18 0h1m-16 2h1m-2 1h1m8 0h1m8 0h1m-13 2h1m-14 1h1m8 0h1m2 2h1m4 0h1m-14 2h1m1 0h1m1 0h2m4 0h1m3 0h1m-10 1h1m5 0h1m2 0h1m1 0h1m-23 1h1m10 0h1m-5 1h1m15 0h1m-31 1h1m20 0h1m-1 1h1m12 0h1m2 0h1m-41 1h1m3 0h1m7 0h1m8 0h1m3 0h1m-17 1h1m1 0h1m7 0h1m1 0h1m-11 1h1m11 0h1m6 0h1m-29 1h1m3 0h2m3 0h1m14 0h1m1 0h1m1 0h1m-33 1h1m13 0h1m16 0h1m3 0h1m-28 1h1m4 0h1m1 0h1m5 0h1m1 0h1m5 0h1m5 0h1m-31 1h1m1 0h1m6 0h1m14 0h1m-17 1h1m21 0h2m3 0h1m-22 1h1m8 0h1m1 0h1m4 0h1m-16 1h1m4 1h2m4 0h2m3 0h1m-39 1h1m20 0h1m6 0h1m2 0h1m4 0h1m-2 1h1m-18 1h1m5 0h1m2 0h1m9 0h1m-17 1h1m1 0h1m1 0h1m6 0h1m3 0h2m-14 1h1m3 0h1m1 0h1m-11 1h1m10 0h3m6 0h1m-28 1h1m4 0h1m5 0h1m4 0h2m6 0h1m-27 1h1m2 0h1m15 0h2m3 0h1m-26 1h1m1 0h3m12 0h1m6 0h1m-25 1h3m15 0h1m2 0h2m4 0h1m-31 1h1m5 0h2m12 0h1m2 1h2m-6 1h1m7 0h1m-37 1h1m2 0h1m3 0h1m2 0h2m43 0h1m3 0h1m-50 1h1m46 0h1m-66 1h1m36 0h1m22 0h1m-28 1h1m20 0h1m-47 1h2m27 0h2m6 0h1m19 0h1m-35 1h1m8 0h1m31 0h1m-65 1h1m24 0h1m1 0h1m25 0h1m12 0h1m-74 1h1m8 0h1m20 0h1m19 0h3m5 0h2m1 0h1m-56 1h3m20 0h1m1 0h1m2 0h1m2 0h1m26 0h2m-60 1h1m25 0h1m10 0h1m16 0h1m11 0h1m-69 1h1m24 0h1m4 0h1m10 0h1m1 0h1m17 0h1m-39 1h1m12 0h1m4 0h1m2 0h1m1 0h1m11 0h1m-60 1h1m1 0h1m19 0h1m1 0h1m2 0h1m2 0h2m2 0h1m18 0h1m-54 1h1m4 0h1m19 0h1m11 0h1m3 0h1m4 0h1m2 0h1m3 0h1m-57 1h1m21 0h1m21 0h1m12 0h2m-35 1h1m10 0h1m10 0h1m2 0h1m5 0h1m3 0h1m4 0h1m-66 1h2m2 0h1m1 0h1m12 0h1m2 0h3m20 0h1m14 0h1m5 0h1m-67 1h1m17 0h2m4 0h2m2 0h1m14 0h1m4 0h1m1 0h1m3 0h2m-40 1h1m11 0h1m28 0h1m-10 1h1m-42 1h1m8 0h2m-22 1h1m3 0h1m16 0h1m1 0h1m34 0h1m3 0h1m-63 1h1m2 0h1m1 0h2m9 0h1m7 0h1m-22 1h2m7 0h1m8 0h1m10 0h1m-32 1h1m1 0h1m1 0h1m3 0h1m2 0h1m14 0h1m3 0h1m-30 1h1m6 0h1m-7 1h1m4 0h1m2 0h1m-8 1h1m1 0h1m2 0h3m-7 1h1m12 0h1m-19 1h1m3 0h2m7 0h1m-11 1h1m12 0h1m10 0h1m-16 1h1m4 0h2m8 0h1m-24 1h1m17 0h1m1 0h1m4 0h1m-11 1h1m-11 1h1m20 0h1m3 0h1m-18 1h1m3 1h1m-21 1h1m12 0h1m3 4h1" stroke="#2a2a2a"/><path d="M74 75h1m-6 3h1m3 0h1m4 4h1m-8 1h1m-8 2h1m1 3h1m13 0h1m-13 1h1m5 3h1m3 0h1m-7 1h2m7 0h1m-16 1h1m7 0h1m4 0h1m-13 1h1m3 0h1m2 0h1m-13 1h1m3 0h1m4 0h2m4 0h2m-15 1h1m5 0h2m1 0h2m5 0h1m-20 1h1m2 0h1m2 0h2m1 0h4m6 0h1m-18 1h8m1 0h3m3 0h1m-18 1h1m1 0h9m1 0h1m1 0h1m-17 1h14m1 0h1m-15 1h12m1 0h1m2 0h1m-24 1h1m1 0h17m2 0h1m-21 1h2m1 0h13m-15 1h17m-20 1h1m1 0h17m-21 1h2m1 0h16m2 0h1m-22 1h18m1 0h2m-22 1h20m-21 1h2m1 0h15m1 0h2m-23 1h4m1 0h15m-23 1h1m3 0h19m1 0h1m-23 1h20m1 0h1m22 0h1m-46 1h20m-21 1h2m1 0h16m4 0h1m-25 1h1m1 0h19m29 0h1m-51 1h18m20 0h1m9 0h1m-54 1h1m2 0h1m1 0h1m2 0h15m37 0h1m-60 1h1m3 0h16m26 0h1m-47 1h3m1 0h16m29 0h1m-48 1h1m1 0h12m1 0h1m-19 1h1m1 0h14m-18 1h16m1 0h2m-18 1h1m1 0h1m1 0h12m1 0h1m-17 1h1m1 0h3m1 0h6m8 0h1m-22 1h3m1 0h11m-11 1h2m1 0h2m1 0h1m1 0h1m1 0h1m-19 1h1m3 0h7m1 0h3m-12 1h1m1 0h3m2 0h1m3 0h1m-13 1h1m3 0h2m-5 1h1m5 0h1m2 0h1m5 1h1m-13 1h1m-6 1h1m-2 5h1" stroke="#000"/></g><g fill="none" stroke-width="1" transform="scale(1.36) translate(0.0,0.5)"><path d="M89 61h1m-24 5h1m8 1h1m-5 1h1m27 1h1m-39 1h1m23 0h1m-22 1h1m9 0h1m-8 1h1m5 0h1m2 0h2m19 1h1m-31 1h1m6 0h1m5 1h1m-19 2h1m9 0h3m8 0h1m-24 1h1m17 0h1m5 1h1m-26 1h1m2 0h1m2 0h1m15 0h1m-23 1h1m1 0h1m13 0h1m-10 1h1m-12 1h1m36 0h1m-38 1h1m5 0h1m23 1h1m-33 1h1m2 0h1m12 0h2m5 0h1m4 0h1m-16 1h1m14 0h1m-13 1h1m-6 1h1m16 0h1m-18 1h1m3 0h1m1 0h1m3 0h1m3 0h1m-22 1h1m15 0h1m6 0h1m-39 1h1m24 0h1m3 0h2m5 0h1m-20 1h2m10 0h2m4 0h1m-25 1h1m6 0h1m5 0h1m3 0h1m2 0h1m10 0h1m-20 1h1m9 0h1m-17 1h1m6 0h1m9 0h1m-18 1h1m-19 1h1m22 0h1m1 0h1m8 0h1m-16 1h1m13 0h1m1 0h1m7 0h1m-24 1h1m-4 1h1m3 0h1m8 0h1m1 0h1m3 1h1m-25 1h1m18 0h1m1 0h1m-23 1h1m20 0h1m2 0h1m-8 1h1m26 0h1m-53 2h1m24 0h1m4 0h1m2 0h1m8 0h1m7 0h1m-48 1h1m1 0h2m16 0h1m12 0h1m8 0h1m4 0h1m-26 1h2m-25 1h1m28 1h1m25 0h2m3 0h1m-43 1h1m8 0h1m7 0h1m-36 1h1m19 0h1m7 0h1m4 0h1m12 0h1m-14 1h1m14 0h1m-33 1h1m3 0h1m-36 1h1m12 0h1m15 0h1m2 0h1m2 0h1m26 0h1m-15 1h1m-40 1h1m47 0h1m9 0h1m-60 1h2m14 0h1m17 0h1m16 0h1m1 0h1m-57 1h1m33 0h1m14 0h1m-32 1h1m30 0h1m-5 1h1m-40 1h1m9 0h1m1 0h1m1 0h1m25 0h1m5 0h1m-54 1h1m2 1h1m15 0h1m24 0h1m-37 1h1m3 0h1m3 0h1m-19 1h1m6 0h1m20 0h1m16 0h1m-47 1h1m6 0h1m-8 1h3m6 0h1m18 0h1m-29 1h1m3 0h1m9 0h1m3 0h1m3 0h1m-21 1h1m3 0h1m1 0h2m2 1h1m4 0h2m4 0h1m-13 1h1m13 0h1m9 0h1m-37 1h1m1 0h1m11 0h1m-5 6h1m-3 1h1m7 0h1m18 1h1m1 1h1" stroke="#7a7a7a"/><path d="M87 60h1m-2 2h1m3 0h1m-12 1h1m-15 3h1m29 0h1m-5 1h1m-16 1h1m7 0h1m1 0h2m-17 1h1m-5 1h1m15 0h1m2 1h1m-21 1h1m4 0h1m8 1h1m-16 1h1m14 0h1m19 0h1m-32 1h1m5 0h1m2 0h1m-15 1h1m18 0h1m-28 1h1m-20 1h1m21 0h1m4 0h1m2 0h1m6 0h1m-1 1h1m-19 1h1m1 0h1m1 0h1m5 0h1m21 0h1m-22 1h1m10 0h1m2 0h1m-25 1h1m17 0h1m1 0h1m-22 1h1m19 0h1m2 0h1m-1 1h2m5 0h1m-36 1h1m28 0h1m-14 1h1m6 0h2m-34 1h1m1 0h1m11 0h1m8 0h1m9 0h1m3 0h2m1 0h1m-33 1h1m5 0h1m16 0h1m-19 1h1m17 0h2m5 0h1m4 0h1m-19 1h1m8 0h1m-13 1h1m5 0h1m3 0h1m9 0h1m-10 1h1m5 0h1m1 0h1m-11 1h2m1 0h1m2 0h1m-16 1h1m2 0h1m1 0h1m1 0h2m1 0h1m14 0h1m-23 1h1m10 0h1m-16 1h1m3 0h1m7 0h1m4 0h1m1 0h2m-32 1h1m29 0h1m3 0h1m-48 1h1m18 0h1m1 0h2m7 0h1m1 0h1m-14 1h1m3 0h1m15 0h1m2 0h2m-11 1h1m1 0h1m4 0h1m1 0h1m-28 1h1m19 0h2m1 0h1m1 0h1m-30 1h1m3 0h1m18 0h2m1 0h1m-37 1h1m3 0h1m6 0h1m21 0h1m1 0h1m3 0h1m-31 1h1m1 0h1m2 0h1m20 0h1m-24 1h1m-5 1h1m21 0h1m9 0h1m-38 1h1m1 0h2m2 0h1m21 0h1m30 0h1m-57 1h1m21 0h1m4 0h2m-29 1h1m21 0h1m22 0h1m1 0h1m4 0h2m6 0h2m7 0h1m-71 1h1m45 0h1m2 0h1m-52 1h1m21 0h2m15 0h1m4 0h1m2 0h1m14 0h1m-63 1h1m1 0h1m20 0h2m15 0h1m4 0h1m-52 1h1m38 0h1m6 0h1m11 0h1m4 0h1m-61 1h1m21 0h1m1 0h1m1 0h1m2 0h1m3 0h1m9 0h1m4 0h2m8 0h2m-57 1h1m23 0h1m8 0h1m12 0h1m1 0h1m1 0h1m-53 1h1m19 0h1m3 0h1m3 0h1m5 0h1m16 0h1m-58 1h1m3 0h1m20 0h2m1 0h1m2 0h1m2 0h1m10 0h1m4 0h3m3 0h1m6 0h1m2 0h1m-43 1h1m16 0h1m7 0h1m8 0h1m-35 1h1m3 0h1m12 0h1m5 0h2m-47 1h1m3 0h1m15 0h1m42 0h1m4 0h1m-72 1h1m20 0h1m16 0h1m13 0h1m-51 1h2m15 0h3m1 0h2m9 0h1m3 0h1m12 0h2m-52 1h2m30 0h1m-18 1h1m34 0h1m-40 1h1m12 0h1m12 0h1m5 0h1m2 0h1m-38 1h1m3 0h1m4 0h1m11 0h1m25 0h1m-67 1h1m11 0h2m4 0h1m1 0h1m7 0h1m-27 1h1m5 0h3m-6 1h2m3 0h1m2 0h1m3 0h1m2 0h1m1 0h1m11 0h1m-27 1h1m1 0h1m1 0h2m3 0h1m6 0h1m7 0h1m2 0h1m-28 1h1m8 0h1m5 0h1m4 0h1m-25 1h1m18 0h1m4 0h1m24 0h1m-51 1h1m12 0h1m6 0h1m16 0h1m-37 1h1m19 0h2m-11 1h1m3 0h1m9 0h1m-24 2h1m13 0h1m3 0h1m4 0h1m13 0h1m-38 1h1m10 0h1m7 0h1m4 0h2m3 0h1m-6 1h2m-27 1h1m33 0h1m-25 8h1" stroke="#2a2a2a"/><path d="M76 74h1m-1 2h1m-3 5h1m-5 1h1m-18 2h1m17 3h1m0 2h1m2 0h1m-1 1h1m-5 1h1m1 1h1m1 1h1m-15 1h1m6 0h1m6 0h3m-8 1h5m-10 1h1m2 0h1m1 0h2m2 0h1m2 0h1m1 0h1m-18 1h1m2 0h3m1 0h4m1 0h1m-13 1h2m1 0h1m1 0h2m1 0h1m1 0h1m1 0h1m1 0h1m-16 1h1m2 0h10m1 0h1m-18 1h3m1 0h10m1 0h1m1 0h2m1 0h1m-20 1h3m1 0h8m1 0h1m-18 1h1m1 0h16m-21 1h1m2 0h1m1 0h13m1 0h1m-17 1h17m-19 1h16m1 0h1m1 0h1m-23 1h20m4 0h1m-25 1h19m1 0h1m-20 1h16m2 0h1m1 0h1m30 0h1m-55 1h20m3 0h1m-24 1h21m-24 1h20m19 0h1m-41 1h1m1 0h18m23 0h1m2 0h1m-48 1h3m1 0h19m22 0h1m1 0h1m-49 1h1m1 0h18m1 0h1m-23 1h2m1 0h18m-23 1h1m2 0h2m1 0h15m-22 1h1m1 0h20m2 0h1m-24 1h1m1 0h18m21 0h1m-40 1h14m1 0h1m23 0h1m16 0h1m-63 1h1m2 0h3m1 0h15m1 0h1m-23 1h1m1 0h3m1 0h12m-16 1h15m-19 1h1m2 0h5m1 0h9m-15 1h13m1 0h1m12 0h1m-33 1h1m1 0h2m1 0h1m2 0h6m2 0h3m-15 1h7m2 0h1m-10 1h1m2 0h1m1 0h2m1 0h1m1 0h1m-10 1h1m4 0h1m2 0h1m1 0h1m-12 1h2m1 0h2m2 0h1m-1 1h1m-12 1h1m4 0h1m-10 1h1m30 4h1m0 6h1" stroke="#000"/></g><path d="M0 0H205.5V205.5" fill="none" stroke="#2a2a2a" stroke-width="1.45"/><path d="M0 0V205.5" fill="none" stroke="#666" stroke-width="1.3"/><path d="M-6 205.5H205.5" fill="none" stroke="#111" stroke-width="1.5"/><path d="M102.0 0V205.5" fill="none" stroke="#111" stroke-width="1.7"/><path d="M0 126.8H205.5" fill="none" stroke="#111" stroke-width="1.5"/><path d="M0.0 205.5v5.5M39.1 205.5v5.5M78.2 205.5v5.5M117.3 205.5v5.5M156.4 205.5v5.5M195.5 205.5v5.5M0 205.0h-6.5M0 165.7h-6.5M0 126.4h-6.5M0 87.1h-6.5M0 47.8h-6.5M0 8.5h-6.5" fill="none" stroke="#111" stroke-width="1.4"/><path d="M11.8 205.5v2.8M18.7 205.5v2.8M23.5 205.5v2.8M27.3 205.5v2.8M30.4 205.5v2.8M33.0 205.5v2.8M35.3 205.5v2.8M37.3 205.5v2.8M50.9 205.5v2.8M57.8 205.5v2.8M62.6 205.5v2.8M66.4 205.5v2.8M69.5 205.5v2.8M72.1 205.5v2.8M74.4 205.5v2.8M76.4 205.5v2.8M90.0 205.5v2.8M96.9 205.5v2.8M101.7 205.5v2.8M105.5 205.5v2.8M108.6 205.5v2.8M111.2 205.5v2.8M113.5 205.5v2.8M115.5 205.5v2.8M129.1 205.5v2.8M136.0 205.5v2.8M140.8 205.5v2.8M144.6 205.5v2.8M147.7 205.5v2.8M150.3 205.5v2.8M152.6 205.5v2.8M154.6 205.5v2.8M168.2 205.5v2.8M175.1 205.5v2.8M179.9 205.5v2.8M183.7 205.5v2.8M186.8 205.5v2.8M189.4 205.5v2.8M191.7 205.5v2.8M193.7 205.5v2.8M0 193.2h-3.5M0 186.2h-3.5M0 181.3h-3.5M0 177.5h-3.5M0 174.4h-3.5M0 171.8h-3.5M0 169.5h-3.5M0 167.5h-3.5M0 153.9h-3.5M0 146.9h-3.5M0 142.0h-3.5M0 138.2h-3.5M0 135.1h-3.5M0 132.5h-3.5M0 130.2h-3.5M0 128.2h-3.5M0 114.6h-3.5M0 107.6h-3.5M0 102.7h-3.5M0 98.9h-3.5M0 95.8h-3.5M0 93.2h-3.5M0 90.9h-3.5M0 88.9h-3.5M0 75.3h-3.5M0 68.3h-3.5M0 63.4h-3.5M0 59.6h-3.5M0 56.5h-3.5M0 53.9h-3.5M0 51.6h-3.5M0 49.6h-3.5M0 36.0h-3.5M0 29.0h-3.5M0 24.1h-3.5M0 20.3h-3.5M0 17.2h-3.5M0 14.6h-3.5M0 12.3h-3.5M0 10.3h-3.5" fill="none" stroke="#333" stroke-width="1.05"/><g font-family="'Liberation Sans', sans-serif" fill="#111" stroke="#111" stroke-width="0.3"><text transform="translate(3.6 222.9) scale(1 1.04)" font-size="7.4">10</text><text transform="translate(11.3 218.6) scale(1 1.04)" font-size="6.8">2</text><text transform="translate(39.5 222.9) scale(1 1.04)" font-size="7.4">10</text><text transform="translate(47.2 218.6) scale(1 1.04)" font-size="6.8">3</text><text transform="translate(78.6 222.9) scale(1 1.04)" font-size="7.4">10</text><text transform="translate(86.3 218.6) scale(1 1.04)" font-size="6.8">4</text><text transform="translate(117.7 222.9) scale(1 1.04)" font-size="7.4">10</text><text transform="translate(125.4 218.6) scale(1 1.04)" font-size="6.8">5</text><text transform="translate(156.8 222.9) scale(1 1.04)" font-size="7.4">10</text><text transform="translate(164.5 218.6) scale(1 1.04)" font-size="6.8">6</text><text transform="translate(195.9 222.9) scale(1 1.04)" font-size="7.4">10</text><text transform="translate(203.6 218.6) scale(1 1.04)" font-size="6.8">7</text><text transform="translate(-20.8 204.8) scale(1 1.04)" font-size="7.4">10</text><text transform="translate(-13.0 200.4) scale(1 1.04)" font-size="6.8">2</text><text transform="translate(-20.8 170.5) scale(1 1.04)" font-size="7.4">10</text><text transform="translate(-13.0 166.1) scale(1 1.04)" font-size="6.8">3</text><text transform="translate(-20.8 131.2) scale(1 1.04)" font-size="7.4">10</text><text transform="translate(-13.0 126.8) scale(1 1.04)" font-size="6.8">4</text><text transform="translate(-20.8 91.9) scale(1 1.04)" font-size="7.4">10</text><text transform="translate(-13.0 87.5) scale(1 1.04)" font-size="6.8">5</text><text transform="translate(-20.8 52.6) scale(1 1.04)" font-size="7.4">10</text><text transform="translate(-13.0 48.2) scale(1 1.04)" font-size="6.8">6</text><text transform="translate(-20.8 13.3) scale(1 1.04)" font-size="7.4">10</text><text transform="translate(-13.0 8.9) scale(1 1.04)" font-size="6.8">7</text></g><g font-family="'Liberation Sans', sans-serif" fill="#141414" stroke="#141414" stroke-width="0.55"><text transform="translate(9.9 34.4) scale(1 1.04)" font-size="30.6">3</text><text transform="translate(196.3 34.4) scale(1 1.04)" font-size="30.6" text-anchor="end">2</text><text transform="translate(8.3 197.8) scale(1 1.04)" font-size="30.6">92</text><text transform="translate(196.3 197.8) scale(1 1.04)" font-size="30.6" text-anchor="end">3</text></g></g>
<g transform="translate(1128.3,148.2)"><g fill="none" stroke-width="1" transform="scale(1.36) translate(-0.5,0.0)"><path d="M60 63h1m10 2h1m5 0h1m-25 1h1m11 1h1m12 0h1m-15 1h1m0 1h1m4 0h1m-4 1h1m4 0h1m1 0h1m0 1h1m-13 1h1m5 0h1m1 0h1m-19 1h1m28 0h1m-34 1h1m34 0h1m2 0h1m10 0h1m-44 1h1m5 0h1m-9 1h1m13 0h1m6 0h2m19 0h1m-21 1h1m18 0h1m-28 1h1m7 0h1m-19 1h1m7 0h1m2 1h1m14 0h1m4 0h1m-26 1h1m5 0h1m1 0h1m10 0h2m-29 2h1m15 0h1m21 0h2m-23 1h1m10 0h1m-23 1h1m13 0h1m5 0h1m-21 1h1m24 0h1m-13 1h1m14 0h1m-8 1h1m-21 1h1m22 1h1m-14 1h1m4 1h1m1 0h1m-7 1h1m26 0h1m-24 1h1m-20 1h1m14 0h1m26 0h1m-60 3h1m23 1h1m20 0h1m3 0h1m-25 1h1m7 0h1m-24 1h1m10 1h1m10 0h1m7 0h1m2 0h1m-12 1h1m-27 1h1m10 1h1m18 0h1m-24 1h1m4 0h1m6 0h1m31 0h1m-60 1h1m9 0h1m6 0h1m-13 1h1m6 0h2m4 0h1m2 0h1m7 0h1m4 0h1m-24 1h1m5 0h1m5 0h1m2 0h1m15 0h1m17 0h1m-53 1h1m1 0h1m13 0h1m1 0h1m-25 1h1m28 0h1m3 0h1m26 0h1m4 0h1m7 0h1m-73 1h2m18 0h1m4 0h1m2 0h1m13 0h1m14 0h1m-58 1h1m18 0h1m3 0h2m29 0h2m8 0h1m-50 1h1m4 0h1m29 0h2m-33 1h1m43 0h1m7 0h1m-51 1h1m18 0h1m-23 1h1m3 0h1m8 0h1m10 0h1m9 0h1m13 0h1m-68 1h1m22 0h1m2 0h2m8 0h1m1 0h1m1 0h1m2 0h1m-47 1h1m1 0h1m29 0h1m3 0h1m5 0h1m16 0h2m-34 1h1m6 0h1m5 0h1m1 0h1m9 0h1m15 0h1m-68 1h1m21 0h1m7 0h1m9 0h2m10 0h1m1 0h1m-25 1h1m11 0h1m6 0h1m-55 1h1m50 0h1m6 0h1m-32 1h1m20 0h1m1 0h1m-49 1h1m53 0h1m-16 1h1m-18 1h1m6 0h1m-13 1h1m12 0h2m11 0h1m16 0h1m-39 1h1m9 0h1m9 0h1m9 0h1m-36 1h1m1 0h1m-25 1h1m12 0h1m10 0h2m-23 1h1m-16 1h1m20 0h1m6 0h1m-14 1h1m2 0h1m6 0h1m8 0h1m3 0h2m-18 1h1m1 0h1m4 0h1m1 0h2m6 0h1m-29 1h1m13 0h1m2 0h1m8 0h1m-22 1h1m9 0h2m1 0h3m-23 1h1m10 0h1m5 0h1m1 0h2m5 0h1m-27 1h1m9 1h1m13 0h1m-15 1h1m6 0h1m6 0h1m-11 1h1m3 0h1m-9 1h1m4 1h1m3 0h1m-2 1h1m7 0h1m-2 1h1m4 2h1m-19 1h1m5 0h1m2 0h1m-7 1h1" stroke="#7a7a7a"/><path d="M53 61h1m14 1h1m-6 1h1m-10 1h1m4 0h1m1 0h1m-7 1h1m9 0h1m3 0h2m2 1h1m-20 1h1m2 0h1m18 0h1m-20 1h1m2 0h2m6 0h1m14 0h1m-30 1h1m8 0h1m9 0h1m-20 1h1m5 0h1m3 0h1m16 0h1m4 0h1m-28 1h1m-3 1h2m1 0h1m9 0h1m2 0h2m-23 1h1m16 0h1m3 0h1m-6 1h2m8 0h1m-9 1h2m20 0h1m-38 1h2m15 0h2m3 0h1m-26 1h2m26 0h1m-10 1h2m17 0h1m1 0h1m-34 1h2m5 0h1m8 0h1m-14 1h1m-4 1h1m1 0h1m-7 1h1m2 0h1m6 0h1m5 0h1m8 0h1m-36 1h1m15 0h1m1 0h3m3 0h1m4 0h1m1 1h1m5 0h1m10 0h1m-26 1h1m11 0h1m3 0h1m6 0h1m13 0h1m-13 1h1m-30 1h1m27 0h1m-37 1h1m33 0h1m-10 1h1m-8 2h1m-12 1h1m17 0h1m-10 1h1m7 0h1m-15 1h1m5 0h1m13 1h1m-31 1h1m2 0h1m6 0h1m1 0h1m-24 1h1m33 0h1m-13 1h1m9 0h1m-9 1h1m7 0h1m7 0h1m-27 2h1m12 0h1m-23 1h1m4 0h1m4 0h1m6 0h1m3 0h1m17 0h1m-55 1h1m16 0h1m12 0h1m2 0h1m1 0h1m-23 1h1m12 0h1m-12 1h1m6 0h1m5 0h1m14 0h1m-34 1h1m5 0h1m9 0h1m5 0h1m-14 1h1m2 0h1m1 0h2m11 0h1m3 0h1m29 0h1m-49 1h1m2 0h2m1 0h2m5 0h1m27 0h1m7 0h1m-62 1h1m1 0h1m4 0h1m5 0h1m8 0h1m40 0h1m-65 1h2m1 0h1m1 0h2m7 0h2m1 0h1m9 0h1m10 0h1m9 0h1m2 0h1m4 0h1m1 0h1m-59 1h2m1 0h1m5 0h1m6 0h1m13 0h1m11 0h1m4 0h1m1 0h1m4 0h2m-70 1h1m7 0h1m4 0h1m8 0h1m9 0h1m1 0h1m7 0h1m12 0h6m-49 1h1m24 0h1m4 0h1m8 0h2m7 0h1m1 0h2m17 0h1m-67 1h1m18 0h1m1 0h1m23 0h1m11 0h2m-65 1h1m1 0h2m18 0h2m2 0h1m5 0h2m1 0h1m5 0h1m3 0h1m2 0h1m1 0h1m7 0h1m8 0h2m-70 1h1m21 0h1m2 0h2m2 0h1m1 0h1m1 0h1m3 0h1m1 0h1m1 0h1m2 0h1m5 0h1m1 0h1m17 0h1m7 0h1m-78 1h1m28 0h1m6 0h2m1 0h1m2 0h1m8 0h1m9 0h1m3 0h1m-74 1h1m3 0h1m3 0h1m20 0h2m2 0h1m4 0h2m3 0h1m2 0h1m1 0h1m5 0h1m9 0h1m7 0h2m-69 1h1m27 0h1m10 0h1m6 0h1m1 0h3m2 0h1m4 0h1m5 0h1m18 0h1m-84 1h2m24 0h1m5 0h1m1 0h1m2 0h1m16 0h1m-30 1h1m1 0h1m2 0h1m8 0h1m4 0h1m1 0h1m3 0h3m5 0h1m2 0h1m-64 1h2m23 0h1m3 0h1m11 0h1m6 0h1m1 0h1m4 0h1m1 0h4m3 0h2m-66 1h2m21 0h1m7 0h2m1 0h1m6 0h2m5 0h2m3 0h1m1 0h1m8 0h1m-65 1h1m24 0h1m2 0h1m2 0h1m1 0h1m5 0h2m3 0h1m10 0h2m14 0h1m3 0h1m-79 1h1m1 0h1m21 0h1m7 0h1m7 0h1m6 0h1m3 0h1m1 0h1m7 0h1m-59 1h1m21 0h1m2 0h1m4 0h1m5 0h1m2 0h1m2 0h2m10 0h1m12 0h1m-69 1h1m21 0h1m3 0h1m2 0h1m18 0h1m3 0h1m-30 1h2m10 0h1m1 0h1m1 0h2m2 0h1m5 0h1m-3 1h1m7 0h1m-58 1h1m6 0h1m12 0h1m4 0h1m20 0h1m3 0h1m-49 1h2m17 0h1m5 0h1m8 0h1m-33 1h3m1 0h1m8 0h1m3 0h1m-22 1h1m5 0h1m16 0h1m4 0h1m11 0h1m12 0h1m-61 1h1m3 0h1m2 0h1m15 0h1m1 0h1m3 0h1m4 0h1m-18 1h1m9 0h3m5 0h2m-21 1h2m3 0h1m8 0h1m1 0h1m-21 1h1m3 0h1m5 0h1m5 0h1m2 0h1m3 0h1m10 0h1m-40 1h1m1 0h1m8 0h2m5 0h1m6 0h1m-16 1h1m4 0h1m1 0h2m3 0h1m-24 1h1m4 0h1m4 0h1m2 0h2m20 0h1m-33 1h1m7 0h1m-4 1h2m8 0h1m3 0h1m3 0h1m-27 1h1m5 0h1m1 0h1m4 0h1m4 0h1m12 0h1m5 0h1m-21 1h1m6 0h1m3 0h1m-24 1h2m-4 1h1m-4 1h1m18 0h1m-12 3h1" stroke="#2a2a2a"/><path d="M69 70h1m-7 3h1m2 0h1m17 2h1m-22 1h1m0 1h1m20 3h1m-28 1h1m4 4h1m-4 2h1m19 3h1m-22 14h1m-7 1h1m-1 1h1m4 0h1m-1 1h1m4 0h1m-11 1h3m-7 1h1m1 0h2m2 0h1m2 0h1m-15 1h1m7 0h2m1 0h4m2 0h1m23 0h1m-39 1h1m1 0h5m1 0h5m3 0h2m1 0h1m30 0h2m-54 1h1m1 0h6m1 0h8m36 0h1m-59 1h1m3 0h2m1 0h14m1 0h1m4 0h1m2 0h1m17 0h1m10 0h1m-61 1h1m2 0h4m1 0h10m1 0h2m1 0h1m1 0h1m12 0h1m9 0h1m2 0h1m6 0h1m2 0h1m-56 1h16m10 0h1m11 0h1m8 0h1m-51 1h20m1 0h1m6 0h1m7 0h1m3 0h1m3 0h1m4 0h1m9 0h1m-64 1h1m1 0h1m1 0h19m1 0h2m7 0h2m8 0h1m11 0h1m-55 1h2m2 0h19m11 0h2m2 0h1m11 0h1m3 0h1m-54 1h1m1 0h19m1 0h2m5 0h2m5 0h1m6 0h1m8 0h1m8 0h1m4 0h1m-67 1h24m18 0h2m2 0h1m1 0h1m-53 1h1m2 0h1m2 0h20m2 0h1m1 0h1m2 0h1m4 0h2m2 0h1m4 0h1m2 0h2m3 0h1m1 0h1m-56 1h1m1 0h21m1 0h3m8 0h1m6 0h1m7 0h1m-51 1h21m1 0h1m8 0h1m-33 1h24m7 0h1m3 0h3m7 0h1m1 0h1m5 0h1m-53 1h19m3 0h1m1 0h1m1 0h1m11 0h1m1 0h1m-40 1h1m1 0h17m1 0h2m-24 1h20m1 0h1m-25 1h1m2 0h17m1 0h3m-22 1h1m1 0h20m-22 1h2m1 0h1m1 0h12m2 0h1m1 0h1m-21 1h8m1 0h8m-20 1h1m1 0h1m3 0h1m1 0h8m2 0h2m1 0h1m-19 1h2m1 0h1m1 0h6m1 0h3m1 0h1m3 0h2m-22 1h1m1 0h4m1 0h1m1 0h3m1 0h1m-15 1h1m1 0h1m1 0h2m3 0h2m3 0h1m9 0h1m-25 1h3m1 0h2m2 0h1m-11 1h2m7 0h1m1 0h1m6 0h1m-10 1h1m-5 1h1m5 0h1m6 0h1m-8 2h1" stroke="#000"/></g><g fill="none" stroke-width="1" transform="scale(1.36) translate(0.0,0.5)"><path d="M67 61h1m4 1h1m6 1h1m-18 4h1m-3 2h1m13 0h1m1 0h1m5 0h1m-17 1h1m3 0h1m-12 1h1m7 0h1m-10 1h1m6 0h1m1 0h1m-13 1h1m4 0h1m-1 1h1m4 0h1m1 0h1m15 0h1m-32 1h1m-1 1h1m17 0h1m16 0h1m7 0h1m-28 1h1m-18 1h1m10 0h1m14 0h1m15 0h1m-38 1h1m29 1h1m-18 2h1m-11 1h1m17 0h1m-24 1h1m3 0h2m-1 1h1m2 1h1m17 0h1m5 0h1m4 0h1m-16 1h1m10 1h1m-16 2h1m11 0h1m-30 2h1m2 0h1m-4 1h1m15 0h1m2 1h1m2 2h1m10 0h1m-19 3h1m8 1h1m-14 1h1m-4 1h1m7 0h1m29 0h1m-41 1h1m-11 1h1m5 0h1m9 0h1m-10 1h1m6 0h1m35 0h1m-54 1h1m2 0h1m6 0h1m9 0h1m1 0h1m39 0h1m-75 1h1m11 0h1m8 0h1m2 0h1m3 0h1m25 0h1m-50 1h1m16 0h1m6 0h1m5 0h1m1 0h1m16 0h1m18 0h1m-65 1h1m1 0h1m18 1h1m28 0h1m13 0h1m3 0h1m-47 1h1m12 0h1m6 0h1m1 0h1m2 0h1m-50 1h2m18 0h1m5 0h1m25 0h1m4 0h2m1 0h1m-41 1h1m8 0h1m26 0h1m-64 1h1m25 0h1m5 0h1m4 0h1m6 0h1m9 0h1m25 0h1m-77 1h1m25 0h1m4 0h1m7 0h1m2 0h1m11 0h1m-54 1h1m24 0h1m5 0h1m7 0h1m1 0h1m5 0h1m4 0h2m-55 1h1m37 0h1m1 0h1m9 0h1m2 0h1m2 0h2m3 0h1m-41 1h2m13 0h1m1 0h1m2 0h1m1 0h1m13 0h1m-64 1h1m1 0h1m22 0h1m3 0h1m3 0h1m5 0h2m11 0h1m1 0h2m-26 1h1m3 0h1m7 0h1m1 0h1m3 0h1m21 0h1m-72 1h1m31 0h1m8 0h2m12 1h1m11 0h1m-31 1h1m10 0h1m14 0h1m3 0h1m-69 1h1m28 0h2m2 0h1m-29 1h1m20 1h1m1 0h1m4 0h1m-34 1h1m25 0h1m3 0h1m3 0h1m10 0h1m0 1h1m10 0h1m-60 1h2m4 0h1m21 0h1m24 0h1m-30 1h2m2 0h1m4 0h1m4 0h1m-8 1h1m4 0h1m-35 1h1m7 0h1m6 0h1m4 0h1m-2 1h1m2 0h1m3 0h1m-24 1h1m2 0h1m1 0h1m3 0h1m5 0h1m3 0h1m4 0h1m-24 1h1m5 0h1m7 0h1m3 0h2m-12 1h3m4 0h1m3 0h1m-28 1h1m15 1h1m3 0h1m6 0h1m-21 1h1m2 0h1m8 0h1m-8 1h2m17 0h1m-24 1h2m6 0h2m-2 1h1m3 0h1m-7 1h2m8 0h1m-15 1h1m20 0h1m-24 2h2m4 3h1m-13 1h1" stroke="#7a7a7a"/><path d="M65 56h1m-8 3h1m0 1h1m12 0h1m-17 2h1m7 0h1m9 0h1m-6 1h1m4 0h1m-4 1h1m-14 1h1m4 0h3m1 0h1m-5 1h1m6 0h1m-4 1h1m1 0h1m-3 1h1m1 1h1m1 0h1m-23 1h1m7 0h1m14 0h1m-23 1h1m12 0h2m26 0h1m-18 1h1m-12 1h1m1 0h1m1 0h1m1 0h1m3 0h1m-20 1h1m2 0h2m4 0h1m9 0h1m8 0h1m-28 1h2m3 0h2m4 0h1m30 0h1m-41 1h1m2 0h1m8 0h1m4 0h1m2 0h1m-17 1h1m18 0h1m12 0h1m-33 1h1m5 0h1m1 0h1m18 0h1m-28 1h1m6 0h2m1 1h1m-20 1h1m11 0h1m1 0h1m11 0h1m4 0h1m1 0h1m-20 1h2m3 0h1m6 0h2m-27 1h1m1 0h1m9 0h1m4 1h1m-14 1h1m12 0h1m6 0h1m-13 1h1m12 0h1m-13 1h1m6 0h1m6 0h1m-16 1h1m6 0h1m3 0h1m6 0h1m11 0h1m-47 1h1m14 0h1m7 0h1m5 1h1m4 0h1m7 0h1m-25 1h1m20 0h2m-43 1h1m28 0h1m-14 1h1m0 1h1m5 1h1m20 1h1m1 0h1m-27 1h1m8 0h1m-5 1h1m11 0h1m9 0h1m-38 1h1m1 0h1m9 0h1m-1 1h1m4 0h1m5 0h1m-24 1h1m9 0h1m-25 1h1m4 0h1m11 0h1m29 0h1m-32 1h2m8 0h1m8 0h1m-48 1h1m16 0h1m6 0h1m2 0h1m-13 1h2m4 0h1m1 0h1m1 0h1m6 0h2m6 0h1m37 0h1m-64 1h2m15 0h1m8 0h1m30 0h1m-61 1h1m6 0h1m2 0h1m12 0h1m6 0h1m22 0h1m-38 1h1m4 0h1m21 0h1m5 0h1m4 0h1m-55 1h1m7 0h2m6 0h1m37 0h1m29 0h1m-86 1h2m2 0h2m13 0h1m1 0h2m21 0h1m15 0h1m-71 1h1m6 0h3m1 0h1m3 0h1m14 0h1m1 0h2m25 0h1m21 0h1m-77 1h1m3 0h2m21 0h2m1 0h2m4 0h1m6 0h1m2 0h1m13 0h1m9 0h1m4 0h1m-69 1h1m21 0h3m8 0h1m3 0h1m7 0h1m3 0h1m7 0h1m-61 1h4m16 0h1m9 0h1m2 0h1m9 0h1m10 0h2m2 0h2m5 0h1m-44 1h1m1 0h1m1 0h1m12 0h2m1 0h1m1 0h1m31 0h1m-79 1h1m2 0h1m20 0h1m5 0h2m3 0h1m1 0h1m4 0h1m1 0h2m5 0h2m6 0h1m-39 1h1m5 0h1m6 0h1m2 0h2m5 0h1m2 0h2m16 0h1m1 0h1m-72 1h2m23 0h1m4 0h1m11 0h1m4 0h1m3 0h1m4 0h1m1 0h1m1 0h1m7 0h1m8 0h1m-74 1h1m25 0h2m1 0h2m1 0h1m3 0h1m5 0h1m2 0h1m6 0h1m2 0h1m3 0h1m1 0h1m5 0h1m3 0h1m-45 1h1m23 0h1m1 0h1m3 0h1m4 0h1m-43 1h1m2 0h3m1 0h1m6 0h1m4 0h1m9 0h1m1 0h1m1 0h2m4 0h1m1 0h1m6 0h1m-72 1h1m34 0h1m9 0h1m3 0h1m1 0h1m7 0h1m1 0h1m-65 1h2m23 0h1m1 0h1m2 0h1m1 0h2m8 0h1m3 0h1m5 0h1m5 0h1m6 0h1m7 0h1m-73 1h1m24 0h1m4 0h1m1 0h2m8 0h1m10 0h1m3 0h1m-34 1h1m4 0h1m12 0h1m-43 1h2m32 0h1m2 0h1m11 0h1m-50 1h1m29 0h1m9 0h2m4 0h1m-56 1h1m7 0h1m25 0h1m9 0h1m2 0h1m6 0h1m4 0h2m2 0h1m9 0h1m-71 1h1m4 0h1m19 0h1m11 0h1m3 0h1m7 0h1m-47 1h1m32 0h1m5 0h1m6 0h1m1 0h1m-47 1h1m1 0h1m10 0h1m8 0h1m1 0h1m2 0h1m-25 1h1m2 0h1m3 0h1m4 0h1m1 0h1m3 0h1m8 0h1m1 0h1m-35 1h1m8 0h1m7 0h1m3 0h1m4 0h1m3 0h1m-30 1h1m1 0h1m1 0h1m5 0h1m5 0h1m4 0h1m3 0h1m-23 1h1m1 0h1m6 0h1m2 1h1m4 0h1m-34 1h1m11 0h1m5 0h1m4 0h1m1 0h1m2 0h1m1 0h1m2 0h1m-16 1h3m3 0h1m1 0h1m1 0h1m12 0h1m-30 1h2m8 0h1m1 0h2m1 0h1m8 0h1m1 0h1m5 0h1m-22 1h1m1 0h2m-7 1h1m2 0h1m-4 1h1m2 0h1m4 0h1m-5 2h1m4 0h1m1 0h1m-16 1h1m23 1h1m-17 1h1m4 0h1m15 0h1m-13 1h1" stroke="#2a2a2a"/><path d="M55 66h1m2 0h1m4 3h1m-9 3h1m28 1h1m-21 1h1m-11 2h1m11 1h1m5 1h1m-9 1h2m1 0h1m-8 1h1m-1 2h1m-5 2h1m14 2h1m-21 12h1m12 5h1m-13 1h1m9 1h1m-19 1h1m5 0h1m3 0h1m1 0h1m2 0h1m-11 1h1m2 0h1m1 0h3m1 0h2m-9 1h2m1 0h4m3 0h1m40 0h1m-55 1h2m4 0h1m2 0h2m2 0h3m-16 1h2m1 0h3m1 0h6m-16 1h2m1 0h14m1 0h1m33 0h1m-53 1h6m1 0h10m25 0h1m-46 1h1m2 0h17m20 0h1m7 0h2m3 0h2m1 0h1m-54 1h16m4 0h1m1 0h1m1 0h1m12 0h2m2 0h4m1 0h1m-51 1h22m24 0h2m2 0h1m9 0h1m5 0h1m-68 1h1m2 0h19m17 0h1m20 0h1m-62 1h1m1 0h19m2 0h1m7 0h1m3 0h2m8 0h2m2 0h2m1 0h2m1 0h1m5 0h1m-62 1h2m1 0h18m8 0h1m5 0h1m9 0h1m2 0h1m2 0h1m1 0h1m1 0h1m-62 1h1m1 0h1m2 0h1m1 0h19m3 0h1m13 0h1m5 0h1m4 0h1m5 0h1m-56 1h22m1 0h1m3 0h1m1 0h1m1 0h1m2 0h2m1 0h1m3 0h1m1 0h1m1 0h1m2 0h1m1 0h1m-53 1h23m1 0h1m7 0h1m3 0h1m3 0h2m4 0h1m1 0h1m2 0h1m-54 1h1m2 0h23m3 0h1m3 0h1m1 0h1m4 0h1m5 0h1m3 0h1m6 0h1m2 0h1m-59 1h22m18 0h1m3 0h1m7 0h1m-53 1h23m14 0h1m6 0h2m-47 1h2m1 0h20m1 0h1m2 0h1m5 0h1m11 0h1m-48 1h1m2 0h21m-24 1h1m1 0h2m1 0h20m10 0h1m4 0h1m-39 1h21m-24 1h1m2 0h1m1 0h16m1 0h1m1 0h1m-23 1h19m-19 1h1m1 0h10m3 0h2m1 0h2m-19 1h1m2 0h1m2 0h2m1 0h3m2 0h1m-17 1h1m1 0h3m3 0h7m1 0h1m5 0h1m-15 1h1m1 0h1m1 0h3m1 0h1m-16 1h1m3 0h1m1 0h2m3 0h1m1 0h1m-12 1h1m1 0h1m1 0h2m1 0h1m10 0h1m-14 1h1m1 0h1m1 0h2m3 0h1m-16 1h1m4 0h2m0 1h1m5 0h1m-11 1h1m8 0h1m5 0h1m-14 2h1m7 6h1" stroke="#000"/></g><path d="M0 0H205.5V205.5" fill="none" stroke="#2a2a2a" stroke-width="1.45"/><path d="M0 0V205.5" fill="none" stroke="#666" stroke-width="1.3"/><path d="M-6 205.5H205.5" fill="none" stroke="#111" stroke-width="1.5"/><path d="M101.0 0V205.5" fill="none" stroke="#111" stroke-width="1.7"/><path d="M0 126.4H205.5" fill="none" stroke="#111" stroke-width="1.5"/><path d="M0.0 205.5v5.5M39.1 205.5v5.5M78.2 205.5v5.5M117.3 205.5v5.5M156.4 205.5v5.5M195.5 205.5v5.5M0 205.0h-6.5M0 165.7h-6.5M0 126.4h-6.5M0 87.1h-6.5M0 47.8h-6.5M0 8.5h-6.5" fill="none" stroke="#111" stroke-width="1.4"/><path d="M11.8 205.5v2.8M18.7 205.5v2.8M23.5 205.5v2.8M27.3 205.5v2.8M30.4 205.5v2.8M33.0 205.5v2.8M35.3 205.5v2.8M37.3 205.5v2.8M50.9 205.5v2.8M57.8 205.5v2.8M62.6 205.5v2.8M66.4 205.5v2.8M69.5 205.5v2.8M72.1 205.5v2.8M74.4 205.5v2.8M76.4 205.5v2.8M90.0 205.5v2.8M96.9 205.5v2.8M101.7 205.5v2.8M105.5 205.5v2.8M108.6 205.5v2.8M111.2 205.5v2.8M113.5 205.5v2.8M115.5 205.5v2.8M129.1 205.5v2.8M136.0 205.5v2.8M140.8 205.5v2.8M144.6 205.5v2.8M147.7 205.5v2.8M150.3 205.5v2.8M152.6 205.5v2.8M154.6 205.5v2.8M168.2 205.5v2.8M175.1 205.5v2.8M179.9 205.5v2.8M183.7 205.5v2.8M186.8 205.5v2.8M189.4 205.5v2.8M191.7 205.5v2.8M193.7 205.5v2.8M0 193.2h-3.5M0 186.2h-3.5M0 181.3h-3.5M0 177.5h-3.5M0 174.4h-3.5M0 171.8h-3.5M0 169.5h-3.5M0 167.5h-3.5M0 153.9h-3.5M0 146.9h-3.5M0 142.0h-3.5M0 138.2h-3.5M0 135.1h-3.5M0 132.5h-3.5M0 130.2h-3.5M0 128.2h-3.5M0 114.6h-3.5M0 107.6h-3.5M0 102.7h-3.5M0 98.9h-3.5M0 95.8h-3.5M0 93.2h-3.5M0 90.9h-3.5M0 88.9h-3.5M0 75.3h-3.5M0 68.3h-3.5M0 63.4h-3.5M0 59.6h-3.5M0 56.5h-3.5M0 53.9h-3.5M0 51.6h-3.5M0 49.6h-3.5M0 36.0h-3.5M0 29.0h-3.5M0 24.1h-3.5M0 20.3h-3.5M0 17.2h-3.5M0 14.6h-3.5M0 12.3h-3.5M0 10.3h-3.5" fill="none" stroke="#333" stroke-width="1.05"/><g font-family="'Liberation Sans', sans-serif" fill="#111" stroke="#111" stroke-width="0.3"><text transform="translate(3.6 222.9) scale(1 1.04)" font-size="7.4">10</text><text transform="translate(11.3 218.6) scale(1 1.04)" font-size="6.8">2</text><text transform="translate(39.5 222.9) scale(1 1.04)" font-size="7.4">10</text><text transform="translate(47.2 218.6) scale(1 1.04)" font-size="6.8">3</text><text transform="translate(78.6 222.9) scale(1 1.04)" font-size="7.4">10</text><text transform="translate(86.3 218.6) scale(1 1.04)" font-size="6.8">4</text><text transform="translate(117.7 222.9) scale(1 1.04)" font-size="7.4">10</text><text transform="translate(125.4 218.6) scale(1 1.04)" font-size="6.8">5</text><text transform="translate(156.8 222.9) scale(1 1.04)" font-size="7.4">10</text><text transform="translate(164.5 218.6) scale(1 1.04)" font-size="6.8">6</text><text transform="translate(195.9 222.9) scale(1 1.04)" font-size="7.4">10</text><text transform="translate(203.6 218.6) scale(1 1.04)" font-size="6.8">7</text><text transform="translate(-20.8 204.8) scale(1 1.04)" font-size="7.4">10</text><text transform="translate(-13.0 200.4) scale(1 1.04)" font-size="6.8">2</text><text transform="translate(-20.8 170.5) scale(1 1.04)" font-size="7.4">10</text><text transform="translate(-13.0 166.1) scale(1 1.04)" font-size="6.8">3</text><text transform="translate(-20.8 131.2) scale(1 1.04)" font-size="7.4">10</text><text transform="translate(-13.0 126.8) scale(1 1.04)" font-size="6.8">4</text><text transform="translate(-20.8 91.9) scale(1 1.04)" font-size="7.4">10</text><text transform="translate(-13.0 87.5) scale(1 1.04)" font-size="6.8">5</text><text transform="translate(-20.8 52.6) scale(1 1.04)" font-size="7.4">10</text><text transform="translate(-13.0 48.2) scale(1 1.04)" font-size="6.8">6</text><text transform="translate(-20.8 13.3) scale(1 1.04)" font-size="7.4">10</text><text transform="translate(-13.0 8.9) scale(1 1.04)" font-size="6.8">7</text></g><g font-family="'Liberation Sans', sans-serif" fill="#141414" stroke="#141414" stroke-width="0.55"><text transform="translate(7.5 34.4) scale(1 1.04)" font-size="30.6">3</text><text transform="translate(193.9 34.4) scale(1 1.04)" font-size="30.6" text-anchor="end">1</text><text transform="translate(7.5 197.8) scale(1 1.04)" font-size="30.6">86</text><text transform="translate(193.9 197.8) scale(1 1.04)" font-size="30.6" text-anchor="end">10</text></g></g>
<g transform="translate(1384.0,148.2)"><g fill="none" stroke-width="1" transform="scale(1.36) translate(-0.5,0.0)"><path d="M86 60h1m12 8h1m-37 1h1m22 0h1m-21 2h1m14 1h1m-2 1h1m-1 1h1m6 0h1m9 0h1m-33 1h1m22 0h1m-17 1h1m10 0h1m-32 1h1m5 0h1m4 0h1m-18 1h1m16 0h1m6 1h1m21 0h1m-30 1h1m-4 1h1m6 0h2m5 0h1m2 0h1m6 0h1m-14 1h1m7 0h1m2 0h2m-8 1h1m12 0h1m-31 1h1m14 0h1m5 0h1m1 0h1m-2 1h1m-9 1h1m-11 2h1m5 1h1m19 0h1m-25 1h1m4 0h1m1 0h1m-11 1h1m8 0h1m13 0h1m-4 1h1m3 1h1m-11 1h1m1 0h1m-24 1h1m3 0h1m22 0h1m-7 1h1m7 0h1m3 0h1m-19 1h1m-17 1h1m18 0h1m9 0h1m-31 2h1m10 0h2m20 0h1m-38 1h1m6 0h1m9 0h1m5 0h1m6 0h1m-15 1h1m5 0h2m1 0h1m14 0h1m-37 1h1m14 0h1m1 0h1m1 0h1m35 0h1m-54 1h1m6 0h1m4 0h1m21 0h1m12 0h1m6 0h1m-57 1h1m2 0h1m12 1h1m2 0h1m23 0h1m3 0h1m-47 1h1m3 0h1m3 0h1m16 0h1m1 0h1m20 0h1m-54 1h1m-10 1h1m7 0h1m2 0h1m17 0h1m5 0h2m6 0h1m5 0h1m18 0h1m-65 1h1m5 0h1m14 0h1m29 0h3m1 0h1m5 0h1m-62 1h1m7 0h1m15 0h2m1 0h1m1 0h1m3 0h1m21 0h1m4 0h1m3 0h1m-67 1h1m29 0h1m10 0h1m12 0h1m-32 1h3m6 0h1m10 0h1m-43 1h1m24 0h1m16 0h2m3 0h1m4 0h1m3 0h1m4 0h1m4 0h1m-69 1h1m28 0h1m4 0h1m12 0h1m8 0h1m2 0h1m4 0h1m-66 1h1m22 0h1m10 0h1m3 0h1m1 0h2m2 0h1m1 0h1m7 0h2m8 0h1m-64 1h1m32 0h1m9 0h1m11 0h3m-35 1h2m2 0h1m14 0h1m6 0h1m4 0h2m-35 1h1m6 0h2m19 0h1m-19 1h1m5 0h1m3 0h1m-50 1h1m5 0h1m24 0h1m9 0h1m6 0h1m2 0h1m-25 1h1m11 0h1m7 0h1m11 0h1m-60 1h3m31 0h1m3 0h2m-38 1h1m45 0h2m5 0h1m-57 1h1m3 0h1m22 0h1m2 0h1m3 0h1m5 0h2m15 0h1m-38 1h1m3 0h2m12 0h2m2 0h1m-21 1h1m1 1h1m27 0h1m1 0h1m-52 1h1m16 0h1m-17 1h1m11 0h1m13 0h1m17 0h1m-48 1h1m16 0h1m-23 1h1m6 0h3m10 0h2m10 0h1m-29 1h1m21 0h2m1 0h1m6 0h1m-39 1h1m2 0h1m2 0h1m3 0h1m4 0h1m-14 1h1m8 0h1m23 0h1m-37 1h1m1 0h1m16 0h1m10 0h1m-27 1h1m2 0h1m2 0h1m7 0h1m5 0h1m-24 1h1m10 0h1m2 1h1m3 0h1m2 0h1m-14 1h1m11 0h1m0 2h1m9 0h1m2 0h1m-20 1h1m7 0h1m10 0h1m-27 1h1m13 0h1m3 0h1m7 0h1m-27 1h2m18 2h1m6 1h1" stroke="#7a7a7a"/><path d="M74 57h1m1 5h1m20 3h1m-35 1h1m15 0h1m-16 1h1m-5 1h1m6 0h1m2 0h1m-1 1h1m3 1h1m3 1h1m2 0h1m-21 1h1m8 0h1m8 0h1m2 0h1m11 0h1m-17 1h1m-3 2h2m1 0h1m4 0h1m-24 1h1m2 0h2m3 0h1m1 0h1m4 0h1m5 0h1m4 0h1m-26 1h1m11 0h1m-23 1h1m9 0h1m11 0h1m-25 1h1m13 0h1m7 0h1m17 0h1m4 0h1m-32 1h3m6 0h1m3 0h1m23 0h1m-23 1h1m9 0h1m-33 1h1m15 0h1m1 0h1m1 0h1m-12 1h1m4 0h1m2 0h1m4 0h1m7 0h1m-36 1h1m5 0h1m4 0h1m5 0h1m1 0h1m3 0h1m-11 1h1m16 0h1m3 0h1m-35 1h1m10 0h1m3 0h1m1 0h1m2 0h1m7 0h1m1 0h1m4 0h1m-38 1h1m9 1h1m9 0h1m1 0h1m17 0h1m-38 1h1m7 0h2m3 0h1m3 0h3m-22 1h1m12 0h1m13 0h1m2 0h1m9 0h1m-40 2h1m16 0h1m2 0h1m-16 1h1m27 0h1m11 0h1m18 0h1m-71 1h1m41 0h1m-22 1h1m-13 1h1m4 0h1m12 0h1m-5 1h1m4 0h1m6 0h1m11 0h1m-36 1h1m4 0h2m41 0h1m11 0h1m8 0h1m-71 1h1m17 0h1m6 0h2m-17 1h2m-10 1h1m1 0h1m7 0h1m33 0h1m11 0h1m-60 1h1m2 0h2m1 0h3m1 0h2m2 0h1m19 0h1m6 0h1m3 0h1m-47 1h1m10 0h1m8 0h1m-22 1h1m8 0h2m5 0h1m3 0h1m4 0h1m21 0h1m18 0h1m-58 1h1m17 0h1m16 0h1m2 0h1m-61 1h1m1 0h1m5 0h1m4 0h1m10 0h1m2 0h1m2 0h1m29 0h1m-37 1h1m7 0h1m21 0h1m2 0h1m4 0h2m9 0h1m1 0h1m-71 1h1m8 0h1m14 0h3m3 0h1m2 0h1m13 0h1m4 0h1m4 0h1m-57 1h1m4 0h1m3 0h1m11 0h1m2 0h1m1 0h1m6 0h1m10 0h1m8 0h1m1 0h1m19 0h1m-86 1h1m10 0h1m31 0h2m3 0h3m19 0h1m-67 1h1m1 0h1m1 0h1m3 0h1m36 0h1m3 0h1m4 0h1m1 0h1m2 0h1m2 0h1m1 0h1m-65 1h1m24 0h1m12 0h2m16 0h1m8 0h1m1 0h1m2 0h1m-42 1h2m4 0h1m5 0h1m8 0h1m5 0h1m5 0h1m2 0h1m7 0h1m8 0h1m-83 1h2m27 0h1m11 0h1m1 0h1m4 0h1m6 0h1m-61 1h3m4 0h1m24 0h1m2 0h1m10 0h1m2 0h1m1 0h1m1 0h2m1 0h1m2 0h1m-30 1h1m3 0h1m1 0h2m1 0h1m1 0h1m5 0h1m5 0h1m2 0h1m-59 1h1m7 0h1m18 0h1m7 0h1m6 0h1m4 0h1m1 0h1m2 0h1m4 0h1m1 0h1m1 0h1m5 0h2m-69 1h1m2 0h2m31 0h3m4 0h1m3 0h1m2 0h1m1 0h1m1 0h1m9 0h1m3 0h1m-66 1h1m25 0h1m3 0h2m3 0h1m2 0h1m7 0h2m4 0h1m2 0h1m1 0h1m7 0h1m-70 1h1m1 0h1m1 0h1m1 0h1m2 0h1m18 0h3m6 0h1m2 0h1m1 0h1m9 0h2m1 0h1m1 0h2m5 0h2m-61 1h1m23 0h2m2 0h1m11 0h1m4 0h1m5 0h2m3 0h1m1 0h1m-35 1h1m3 0h2m3 0h1m2 0h1m4 0h1m5 0h1m9 0h1m-66 1h2m6 0h1m17 0h1m4 0h1m3 0h2m7 0h1m6 0h2m1 0h1m1 0h1m-51 1h2m22 0h1m1 0h1m1 0h1m2 0h1m2 0h1m3 0h1m12 0h1m-57 1h1m2 0h1m43 0h1m18 0h1m-71 1h1m8 0h1m3 0h1m26 0h1m4 0h1m16 0h1m-62 1h1m4 0h2m1 0h1m18 0h1m4 0h1m16 0h1m5 0h1m-57 1h1m0 1h1m1 0h1m25 0h1m8 0h1m12 0h1m-52 1h1m21 0h1m4 0h1m29 0h1m-57 1h2m21 0h2m2 0h2m17 0h1m-48 1h1m2 0h1m16 0h1m3 0h1m4 0h1m6 0h1m4 0h1m-38 1h1m2 0h1m7 0h1m6 0h2m11 0h1m6 0h1m9 0h1m-53 1h1m14 0h1m1 0h1m1 0h2m9 0h1m12 0h1m-52 1h1m13 0h1m10 0h2m7 0h1m6 0h1m-33 1h1m2 0h1m6 0h1m4 0h1m4 0h1m5 0h1m2 0h1m-24 1h1m10 0h1m7 0h1m-26 1h1m4 0h2m17 0h1m-24 1h1m9 0h1m2 0h1m5 0h1m1 0h1m9 0h1m-23 1h1m12 0h1m2 0h1m-34 1h1m4 0h1m11 0h1m1 0h1m13 0h1m1 0h1m1 0h1m-35 1h1m8 0h1m18 0h1m1 0h1m-16 1h1m6 0h1m10 0h1m4 0h1m-14 1h1m14 0h1m-29 1h1m16 1h2m7 0h1m-19 1h1m1 0h1m8 0h1m-13 1h1m1 1h1m1 0h2m-5 1h1" stroke="#2a2a2a"/><path d="M76 70h1m-5 4h1m-2 1h1m-2 3h1m-9 1h1m12 1h1m3 0h1m-17 1h1m8 6h1m-7 11h2m-7 2h1m5 1h1m3 0h1m13 0h1m-25 2h2m1 0h2m1 0h1m3 0h1m-16 1h1m2 0h1m1 0h1m4 0h1m2 0h1m-20 1h1m1 0h1m4 0h6m1 0h3m2 0h2m4 0h1m27 0h1m-51 1h1m1 0h8m1 0h1m1 0h1m39 0h1m-55 1h2m1 0h1m1 0h1m1 0h3m1 0h2m2 0h3m10 0h1m20 0h1m-52 1h1m2 0h2m1 0h6m1 0h2m2 0h2m33 0h1m-54 1h2m2 0h3m1 0h11m29 0h1m-46 1h13m1 0h3m3 0h1m31 0h1m-59 1h1m1 0h1m1 0h2m1 0h14m8 0h1m9 0h1m5 0h1m1 0h2m-51 1h1m1 0h20m2 0h1m2 0h1m2 0h1m10 0h1m8 0h1m3 0h1m1 0h1m-58 1h1m2 0h19m3 0h2m2 0h1m15 0h2m12 0h1m-57 1h21m2 0h1m17 0h1m6 0h1m2 0h2m3 0h1m-63 1h1m1 0h1m1 0h19m1 0h2m1 0h1m15 0h1m12 0h1m-56 1h3m1 0h18m1 0h1m6 0h1m4 0h1m11 0h1m7 0h2m3 0h1m-66 1h1m3 0h1m2 0h18m1 0h4m1 0h1m7 0h1m14 0h1m1 0h1m1 0h1m4 0h1m-61 1h1m1 0h23m3 0h1m23 0h1m1 0h1m-54 1h22m2 0h1m6 0h1m7 0h1m1 0h2m3 0h3m2 0h1m-56 1h1m3 0h2m1 0h16m1 0h1m7 0h1m5 0h1m1 0h1m4 0h1m11 0h1m-57 1h1m2 0h19m1 0h2m3 0h1m6 0h2m2 0h1m24 0h1m-70 1h1m3 0h2m1 0h18m1 0h2m1 0h1m2 0h1m4 0h2m20 0h1m-55 1h1m1 0h17m4 0h1m19 0h1m6 0h1m-50 1h19m1 0h1m30 0h2m-54 1h17m1 0h1m25 0h1m-48 1h2m1 0h3m1 0h11m1 0h2m4 0h1m17 0h1m-41 1h17m3 0h1m1 0h1m-30 1h1m3 0h19m1 0h1m14 0h1m9 0h1m-47 1h2m1 0h16m2 0h1m4 0h1m-30 1h1m2 0h1m3 0h11m2 0h1m-20 1h1m3 0h3m1 0h10m5 0h1m-21 1h1m3 0h9m-14 1h1m1 0h7m1 0h3m2 0h1m-19 1h1m2 0h1m3 0h1m2 0h1m2 0h1m1 0h1m-14 1h1m1 0h1m3 0h3m1 0h2m-9 1h2m4 0h1m3 0h1m-13 1h1m5 0h3m-13 1h1m15 0h1m2 0h1m10 1h1m-8 2h1m-12 3h1" stroke="#000"/></g><g fill="none" stroke-width="1" transform="scale(1.36) translate(0.0,0.5)"><path d="M79 57h1m8 3h1m-7 2h1m-4 2h1m2 2h1m-22 2h1m22 0h1m-27 1h1m14 0h1m4 0h1m-9 1h1m21 0h1m-18 1h1m13 2h1m16 0h1m-37 1h1m6 0h1m3 0h1m-26 1h1m21 0h1m2 0h1m3 0h1m-17 1h1m-25 1h1m17 0h1m11 0h2m4 0h1m6 0h2m6 0h2m-45 1h1m17 0h1m7 0h1m2 0h1m-18 1h2m14 0h1m-20 1h1m7 0h1m1 0h1m-14 1h1m-8 1h1m10 0h1m8 0h1m8 1h1m-21 1h1m1 0h1m3 0h1m2 0h1m0 1h1m3 0h1m2 0h1m14 0h1m-40 1h1m5 0h1m0 1h1m25 0h1m-28 1h1m18 0h1m-20 1h1m-10 1h1m9 1h1m-4 1h1m67 0h1m-87 1h1m45 0h1m-30 1h1m7 1h1m9 0h1m43 0h1m-31 1h1m-50 2h1m31 0h1m5 0h1m2 0h1m-21 1h1m19 0h1m-26 1h1m10 0h1m13 0h1m11 0h1m-26 1h1m-7 1h1m3 0h2m3 0h1m14 0h1m23 0h1m-55 1h1m2 0h1m5 0h1m-30 1h1m21 0h1m8 0h1m35 0h1m5 0h1m2 0h1m2 0h1m-64 1h1m7 0h1m4 0h2m30 0h1m7 0h1m-52 1h1m-3 1h1m19 0h1m4 0h1m17 0h1m-48 1h1m55 0h2m-33 1h1m23 0h1m12 0h1m-40 1h1m4 0h1m7 0h1m-19 1h1m2 0h1m9 0h2m8 0h1m10 0h1m-54 1h1m42 0h1m4 0h1m1 0h1m4 0h1m3 0h1m-68 1h1m4 0h1m22 0h1m18 0h1m7 0h2m2 0h1m-60 1h1m26 0h1m12 0h1m1 0h1m7 0h2m4 0h1m7 0h1m-62 1h1m22 0h1m2 0h1m18 0h1m9 0h1m3 0h1m2 0h1m-66 1h1m28 0h1m1 0h1m21 0h1m7 0h1m-61 1h1m23 0h1m3 0h1m9 0h1m6 0h1m3 0h2m2 0h1m7 0h1m-66 1h1m5 0h1m18 0h1m15 0h1m3 0h1m1 0h1m2 0h2m-51 1h1m25 0h1m1 0h1m18 0h1m6 0h1m-19 1h1m4 0h1m9 0h1m-31 1h1m22 0h1m5 0h1m2 0h1m3 0h1m-61 1h1m1 0h2m39 0h1m5 0h1m7 0h1m-56 1h1m41 0h1m1 0h1m5 0h1m6 0h1m2 0h1m-65 1h1m25 0h2m26 0h1m-25 1h1m2 0h1m2 0h1m1 0h1m5 0h1m-46 1h1m22 0h1m4 0h1m21 0h1m-48 1h1m23 0h1m3 0h2m17 0h1m-32 2h1m-19 1h1m3 0h1m13 0h1m4 0h1m29 0h1m-57 1h1m-1 1h1m10 0h1m24 0h1m12 0h1m-49 1h1m4 0h1m27 0h1m-40 1h1m13 0h1m3 0h1m6 0h1m-29 1h1m7 0h1m22 0h1m-23 1h2m5 0h1m1 0h1m-8 1h1m6 0h1m5 0h2m2 0h1m-16 1h1m3 0h1m-9 1h1m8 0h1m2 0h1m3 0h1m23 0h1m-41 1h1m1 0h1m14 0h1m6 0h1m-28 1h1m15 0h1m6 0h1m10 0h1m-34 1h1m11 0h1m1 1h1m18 0h1m-22 2h1m2 0h1m3 1h1" stroke="#7a7a7a"/><path d="M109 54h1m-54 11h1m17 2h2m9 0h1m-9 1h1m3 0h1m5 0h1m-17 2h2m5 0h1m-13 1h1m16 0h1m1 0h1m-19 1h1m6 0h1m3 0h1m4 0h1m6 0h1m-24 1h1m4 0h1m-14 1h1m6 0h3m6 0h1m-8 1h1m6 0h1m13 0h1m-25 1h2m4 0h1m3 0h1m12 0h1m-24 1h1m-4 1h1m17 0h1m8 0h1m-39 1h1m7 0h1m3 0h1m3 0h1m5 0h1m8 0h1m-20 1h1m9 0h1m-9 1h1m1 0h1m1 0h1m6 0h3m-31 1h1m9 0h1m12 0h1m2 0h1m8 0h1m6 0h1m-56 1h1m20 0h1m12 0h1m6 0h1m-15 1h1m2 0h1m8 0h1m5 0h1m9 0h1m-34 1h1m8 0h2m2 0h1m-15 1h1m1 0h1m2 0h1m1 0h1m-2 1h1m6 0h1m2 0h1m1 0h1m10 0h1m-31 1h2m5 0h1m5 0h1m-7 1h1m3 0h1m4 0h1m12 0h2m-14 1h1m1 0h1m11 0h1m3 0h1m-25 2h1m8 0h1m-4 1h1m3 0h1m4 1h1m-38 1h1m15 0h1m7 0h1m4 0h1m2 0h1m-19 1h1m7 0h1m10 0h1m-18 1h1m4 0h1m6 0h1m6 0h1m-14 1h1m18 0h1m7 0h1m-43 1h1m8 0h1m47 0h1m-46 1h2m13 0h1m-21 1h2m1 0h1m2 0h1m1 0h1m6 0h3m2 0h1m27 0h1m-49 1h1m1 0h2m2 0h1m32 0h1m-48 1h1m3 0h2m2 0h1m1 0h1m1 0h2m10 0h2m29 0h1m-42 1h1m5 0h1m12 0h1m-37 1h1m7 0h1m1 0h1m1 0h1m38 0h1m3 0h1m1 0h1m2 0h1m-57 1h2m2 0h3m11 0h2m1 0h1m5 0h1m19 0h1m1 0h1m1 0h1m3 0h1m12 0h1m-71 1h1m11 0h1m4 0h1m1 0h1m24 0h2m1 0h1m7 0h2m6 0h1m-62 1h2m21 0h1m22 0h2m3 0h1m4 0h1m6 0h2m-69 1h2m19 0h3m4 0h2m2 0h1m2 0h1m22 0h1m6 0h1m-71 1h1m2 0h1m1 0h1m17 0h1m9 0h1m2 0h2m15 0h1m2 0h1m2 0h1m1 0h1m4 0h1m-71 1h1m4 0h1m2 0h1m23 0h1m4 0h1m15 0h1m1 0h1m4 0h2m7 0h1m3 0h1m-83 1h1m11 0h1m1 0h1m4 0h1m21 0h1m1 0h1m4 0h1m1 0h1m-7 1h1m6 0h1m4 0h1m1 0h1m5 0h1m6 0h1m2 0h1m4 0h1m-67 1h3m17 0h1m4 0h1m4 0h1m1 0h1m1 0h1m5 0h1m3 0h1m5 0h3m4 0h2m5 0h1m-66 1h1m1 0h1m14 0h1m2 0h1m7 0h1m7 0h1m14 0h1m1 0h3m1 0h1m3 0h1m-63 1h2m23 0h1m1 0h1m1 0h1m10 0h2m1 0h2m3 0h1m4 0h1m1 0h1m1 0h1m3 0h1m-63 1h1m18 0h1m11 0h1m2 0h1m7 0h1m5 0h1m4 0h1m4 0h1m-60 1h2m22 0h1m8 0h1m4 0h1m2 0h1m5 0h1m7 0h1m6 0h1m6 0h1m-74 1h1m25 0h1m6 0h1m2 0h1m2 0h1m7 0h1m1 0h1m5 0h2m1 0h2m1 0h1m-35 1h1m4 0h1m9 0h1m4 0h1m4 0h1m2 0h1m3 0h3m7 0h1m-69 1h1m23 0h1m5 0h1m5 0h1m1 0h1m2 0h1m2 0h2m1 0h1m1 0h1m6 0h1m-51 1h1m21 0h1m7 0h2m3 0h1m5 0h1m7 0h1m9 0h1m-71 1h1m3 0h1m5 0h1m29 0h1m1 0h2m8 0h2m1 0h1m2 0h1m-14 1h3m16 0h1m1 0h1m-65 1h1m2 0h1m18 0h1m3 0h1m7 0h1m6 0h1m8 0h1m3 0h1m-58 1h1m31 0h1m10 0h1m6 0h1m2 0h1m5 0h1m-57 1h1m33 0h1m5 0h2m6 0h1m5 0h1m-59 1h2m21 0h2m1 0h1m2 0h1m8 0h1m1 0h1m8 0h1m6 0h1m-60 1h1m3 0h1m16 0h2m1 0h1m4 0h1m2 0h1m1 1h1m2 0h1m-31 1h1m4 0h1m10 0h2m3 0h1m6 0h1m10 0h1m3 0h1m2 0h1m-48 1h2m4 0h1m6 0h1m24 0h1m15 0h1m-57 1h1m1 0h1m4 0h1m10 0h1m3 0h1m3 0h1m2 0h2m12 0h1m-40 1h1m3 0h1m1 0h1m14 0h1m10 0h1m-39 1h2m10 0h1m5 0h2m2 0h1m3 0h2m1 0h1m1 0h1m4 0h1m14 0h1m-46 1h2m1 0h1m4 0h1m1 0h1m15 0h1m-30 1h1m3 0h3m1 0h1m17 0h1m-35 1h1m4 0h2m4 0h1m2 0h1m6 0h1m5 0h1m1 0h1m-28 1h1m6 0h1m9 0h1m16 0h1m-26 1h1m12 0h1m3 0h1m-18 1h1m11 0h1m2 0h1m3 0h1m-6 1h1m-23 1h1m23 0h1m16 0h1m-18 1h1m0 1h1m-17 1h1m1 0h1m1 0h1m9 0h1m7 0h1m-4 1h1m-19 1h1" stroke="#2a2a2a"/><path d="M79 70h1m13 2h1m-30 4h1m-6 1h1m10 0h1m3 3h1m2 0h1m-14 1h1m11 1h1m-10 1h1m10 0h1m-7 8h1m3 3h1m-16 4h1m-3 4h1m5 0h1m-9 1h1m3 0h1m2 0h1m3 0h1m2 0h1m38 0h1m-56 1h1m1 0h1m1 0h5m2 0h1m2 0h1m7 0h1m-24 1h1m1 0h1m1 0h1m2 0h2m1 0h1m2 0h1m33 0h1m-49 1h1m4 0h5m1 0h5m-21 1h1m4 0h8m1 0h4m1 0h1m1 0h1m6 0h1m13 0h1m1 0h1m-44 1h2m2 0h14m1 0h1m-20 1h1m1 0h14m1 0h1m-19 1h17m1 0h2m1 0h1m3 0h1m17 0h1m-48 1h2m2 0h18m6 0h1m33 0h1m-63 1h1m1 0h1m2 0h15m1 0h1m1 0h1m1 0h1m21 0h1m7 0h1m5 0h1m1 0h1m-65 1h1m1 0h22m4 0h2m3 0h1m5 0h1m8 0h1m4 0h1m8 0h1m-61 1h17m1 0h2m3 0h2m13 0h1m3 0h2m2 0h1m-48 1h14m1 0h2m1 0h3m1 0h1m5 0h3m7 0h1m1 0h1m18 0h1m-61 1h22m1 0h1m8 0h1m1 0h1m4 0h1m3 0h1m4 0h1m2 0h1m1 0h1m-56 1h1m1 0h15m1 0h3m1 0h1m1 0h1m1 0h1m1 0h1m6 0h2m2 0h1m13 0h1m-55 1h2m1 0h18m3 0h1m4 0h1m2 0h1m22 0h1m-57 1h21m1 0h2m9 0h1m2 0h1m3 0h1m2 0h1m3 0h3m-54 1h1m1 0h24m1 0h2m4 0h2m7 0h1m5 0h3m6 0h1m-56 1h21m2 0h1m14 0h1m2 0h1m4 0h1m2 0h1m2 0h1m5 0h1m-61 1h1m2 0h3m1 0h19m12 0h1m7 0h1m-45 1h3m1 0h17m9 0h1m1 0h1m4 0h1m2 0h1m1 0h1m11 0h1m-57 1h1m2 0h18m4 0h1m7 0h1m5 0h1m7 0h1m-52 1h1m1 0h2m1 0h18m1 0h2m-24 1h20m2 0h1m13 0h1m-35 1h15m1 0h1m1 0h2m28 0h1m-53 1h1m1 0h18m2 0h1m2 0h1m26 0h1m-52 1h14m5 0h1m24 0h1m-44 1h3m1 0h13m1 0h2m8 0h1m-32 1h1m3 0h2m2 0h10m2 0h1m8 0h1m-30 1h1m2 0h4m1 0h2m1 0h3m1 0h1m1 0h1m-15 1h2m2 0h7m1 0h2m-16 1h1m3 0h1m4 0h1m-10 1h2m3 0h1m1 0h1m3 0h1m-14 1h1m2 0h1m2 0h1m2 0h1m1 0h1m5 0h1m-7 1h1m5 1h1m-9 1h1m9 1h1" stroke="#000"/></g><path d="M0 0H205.5V205.5" fill="none" stroke="#2a2a2a" stroke-width="1.45"/><path d="M0 0V205.5" fill="none" stroke="#666" stroke-width="1.3"/><path d="M-6 205.5H205.5" fill="none" stroke="#111" stroke-width="1.5"/><path d="M101.0 0V205.5" fill="none" stroke="#111" stroke-width="1.7"/><path d="M0 126.4H205.5" fill="none" stroke="#111" stroke-width="1.5"/><path d="M0.0 205.5v5.5M39.1 205.5v5.5M78.2 205.5v5.5M117.3 205.5v5.5M156.4 205.5v5.5M195.5 205.5v5.5M0 205.0h-6.5M0 165.7h-6.5M0 126.4h-6.5M0 87.1h-6.5M0 47.8h-6.5M0 8.5h-6.5" fill="none" stroke="#111" stroke-width="1.4"/><path d="M11.8 205.5v2.8M18.7 205.5v2.8M23.5 205.5v2.8M27.3 205.5v2.8M30.4 205.5v2.8M33.0 205.5v2.8M35.3 205.5v2.8M37.3 205.5v2.8M50.9 205.5v2.8M57.8 205.5v2.8M62.6 205.5v2.8M66.4 205.5v2.8M69.5 205.5v2.8M72.1 205.5v2.8M74.4 205.5v2.8M76.4 205.5v2.8M90.0 205.5v2.8M96.9 205.5v2.8M101.7 205.5v2.8M105.5 205.5v2.8M108.6 205.5v2.8M111.2 205.5v2.8M113.5 205.5v2.8M115.5 205.5v2.8M129.1 205.5v2.8M136.0 205.5v2.8M140.8 205.5v2.8M144.6 205.5v2.8M147.7 205.5v2.8M150.3 205.5v2.8M152.6 205.5v2.8M154.6 205.5v2.8M168.2 205.5v2.8M175.1 205.5v2.8M179.9 205.5v2.8M183.7 205.5v2.8M186.8 205.5v2.8M189.4 205.5v2.8M191.7 205.5v2.8M193.7 205.5v2.8M0 193.2h-3.5M0 186.2h-3.5M0 181.3h-3.5M0 177.5h-3.5M0 174.4h-3.5M0 171.8h-3.5M0 169.5h-3.5M0 167.5h-3.5M0 153.9h-3.5M0 146.9h-3.5M0 142.0h-3.5M0 138.2h-3.5M0 135.1h-3.5M0 132.5h-3.5M0 130.2h-3.5M0 128.2h-3.5M0 114.6h-3.5M0 107.6h-3.5M0 102.7h-3.5M0 98.9h-3.5M0 95.8h-3.5M0 93.2h-3.5M0 90.9h-3.5M0 88.9h-3.5M0 75.3h-3.5M0 68.3h-3.5M0 63.4h-3.5M0 59.6h-3.5M0 56.5h-3.5M0 53.9h-3.5M0 51.6h-3.5M0 49.6h-3.5M0 36.0h-3.5M0 29.0h-3.5M0 24.1h-3.5M0 20.3h-3.5M0 17.2h-3.5M0 14.6h-3.5M0 12.3h-3.5M0 10.3h-3.5" fill="none" stroke="#333" stroke-width="1.05"/><g font-family="'Liberation Sans', sans-serif" fill="#111" stroke="#111" stroke-width="0.3"><text transform="translate(3.6 222.9) scale(1 1.04)" font-size="7.4">10</text><text transform="translate(11.3 218.6) scale(1 1.04)" font-size="6.8">2</text><text transform="translate(39.5 222.9) scale(1 1.04)" font-size="7.4">10</text><text transform="translate(47.2 218.6) scale(1 1.04)" font-size="6.8">3</text><text transform="translate(78.6 222.9) scale(1 1.04)" font-size="7.4">10</text><text transform="translate(86.3 218.6) scale(1 1.04)" font-size="6.8">4</text><text transform="translate(117.7 222.9) scale(1 1.04)" font-size="7.4">10</text><text transform="translate(125.4 218.6) scale(1 1.04)" font-size="6.8">5</text><text transform="translate(156.8 222.9) scale(1 1.04)" font-size="7.4">10</text><text transform="translate(164.5 218.6) scale(1 1.04)" font-size="6.8">6</text><text transform="translate(195.9 222.9) scale(1 1.04)" font-size="7.4">10</text><text transform="translate(203.6 218.6) scale(1 1.04)" font-size="6.8">7</text><text transform="translate(-20.8 204.8) scale(1 1.04)" font-size="7.4">10</text><text transform="translate(-13.0 200.4) scale(1 1.04)" font-size="6.8">2</text><text transform="translate(-20.8 170.5) scale(1 1.04)" font-size="7.4">10</text><text transform="translate(-13.0 166.1) scale(1 1.04)" font-size="6.8">3</text><text transform="translate(-20.8 131.2) scale(1 1.04)" font-size="7.4">10</text><text transform="translate(-13.0 126.8) scale(1 1.04)" font-size="6.8">4</text><text transform="translate(-20.8 91.9) scale(1 1.04)" font-size="7.4">10</text><text transform="translate(-13.0 87.5) scale(1 1.04)" font-size="6.8">5</text><text transform="translate(-20.8 52.6) scale(1 1.04)" font-size="7.4">10</text><text transform="translate(-13.0 48.2) scale(1 1.04)" font-size="6.8">6</text><text transform="translate(-20.8 13.3) scale(1 1.04)" font-size="7.4">10</text><text transform="translate(-13.0 8.9) scale(1 1.04)" font-size="6.8">7</text></g><g font-family="'Liberation Sans', sans-serif" fill="#141414" stroke="#141414" stroke-width="0.55"><text transform="translate(5.2 34.4) scale(1 1.04)" font-size="30.6">3</text><text transform="translate(191.6 34.4) scale(1 1.04)" font-size="30.6" text-anchor="end">3</text><text transform="translate(5.2 197.8) scale(1 1.04)" font-size="30.6">83</text><text transform="translate(191.6 197.8) scale(1 1.04)" font-size="30.6" text-anchor="end">12</text></g></g>
<g transform="translate(1636.0,148.2)"><g fill="none" stroke-width="1" transform="scale(1.36) translate(-0.5,0.0)"><path d="M104 54h1m15 0h1m-27 5h1m-13 2h1m-8 2h1m12 0h1m-13 1h1m1 1h2m9 0h1m-3 1h1m2 0h1m5 0h2m-25 1h1m9 0h1m5 0h1m4 0h1m-11 1h1m15 0h1m-21 2h1m3 0h1m5 0h1m-15 1h1m3 0h1m3 0h1m8 0h1m-17 1h1m5 0h1m2 0h1m16 1h1m-34 2h1m6 0h1m6 0h1m4 1h1m23 0h1m-47 1h1m14 0h1m-8 1h2m5 0h1m1 0h1m12 0h1m-22 1h1m13 0h2m2 0h1m5 0h1m-30 1h1m20 0h1m-30 1h1m14 0h1m-9 1h1m5 0h1m8 0h1m3 0h1m-25 1h1m16 0h1m14 0h2m-24 1h1m2 0h1m-12 1h1m4 0h1m6 0h1m1 0h3m8 0h1m7 0h1m-47 1h1m12 0h1m-8 1h1m7 0h1m5 0h1m17 0h2m4 0h1m-8 1h1m-23 1h1m6 0h2m-13 1h1m9 0h1m1 0h1m14 0h2m4 0h1m-31 1h1m9 0h1m-3 1h1m6 0h1m8 0h1m2 0h1m-17 1h2m-9 1h1m3 1h1m3 0h2m6 0h1m4 0h2m-34 1h1m5 0h1m18 0h1m-19 1h1m5 0h1m4 0h1m-26 1h1m15 0h1m7 0h1m3 0h1m2 0h1m-36 1h1m16 0h1m1 0h1m6 0h2m9 0h1m-9 1h1m4 0h1m5 0h1m30 0h1m-57 1h1m10 0h1m2 0h1m6 0h1m25 0h1m-35 1h1m6 0h1m15 0h1m-28 1h2m4 0h1m15 0h1m19 0h1m-55 1h1m4 0h1m7 0h1m5 0h1m2 0h1m8 0h1m14 0h1m12 0h1m-55 1h2m2 0h1m2 0h1m11 0h1m-32 1h1m5 0h2m7 0h3m33 0h1m-53 1h1m4 0h1m17 0h1m6 0h1m16 1h1m3 0h1m-58 1h1m8 0h1m23 0h1m4 0h1m16 0h1m-59 1h1m3 0h1m6 0h1m12 0h1m2 0h1m2 0h1m24 0h2m-60 1h1m24 0h1m6 0h1m15 0h1m6 0h1m2 0h1m1 0h1m13 0h1m-67 1h1m14 0h2m23 0h1m2 0h1m2 0h1m-52 1h2m31 0h1m3 0h1m6 0h1m18 0h1m-63 1h1m23 0h1m5 0h1m15 0h1m-49 1h1m49 0h1m2 0h1m-31 1h1m2 0h2m16 0h1m14 0h1m-64 1h1m29 0h1m33 0h1m-25 1h2m5 0h1m9 0h2m2 0h1m1 0h1m-35 1h1m9 0h2m2 0h1m1 0h1m5 0h1m1 0h1m-33 1h1m3 0h1m16 0h1m4 0h1m-27 1h1m21 0h1m17 0h1m-61 1h1m30 0h1m17 0h1m2 0h1m8 0h1m-33 1h1m6 0h1m1 0h1m3 0h1m-44 1h1m29 0h1m5 0h1m1 0h1m3 0h1m5 0h1m4 0h2m3 0h1m-25 1h2m4 0h1m8 0h1m-60 1h1m6 0h1m19 0h2m11 0h1m7 0h1m9 0h1m5 1h1m1 0h1m-61 1h1m15 0h1m2 0h1m1 0h1m21 0h1m-8 1h1m13 0h1m-55 1h2m13 0h1m25 0h1m10 0h1m-53 1h1m28 0h1m-32 1h1m1 0h1m15 0h1m-16 1h1m-7 1h1m7 0h1m2 0h1m11 0h1m3 0h1m1 0h1m4 0h1m-34 1h1m3 0h1m9 0h1m6 0h1m33 0h1m-52 1h1m17 0h1m1 0h1m-26 1h1m3 0h1m13 0h1m24 0h1m8 0h1m-40 1h1m3 0h1m17 0h1m-5 1h1m-16 1h1m-15 1h1m9 0h1m5 0h1m18 0h1m3 0h1m-41 1h1m17 0h1m-18 1h1" stroke="#7a7a7a"/><path d="M111 51h1m15 1h1m-12 4h1m-1 1h1m-22 2h1m19 0h1m-49 2h1m40 0h1m3 0h1m1 0h1m-25 1h2m0 1h1m5 0h1m-10 1h1m4 0h1m-8 1h1m3 0h1m2 0h1m14 0h1m-22 1h1m6 0h1m-22 1h1m25 0h1m3 0h1m-23 1h1m4 0h1m5 0h1m-30 1h1m8 0h1m7 0h1m7 0h1m6 0h1m-20 1h2m13 0h1m-20 1h1m5 0h1m5 0h1m9 0h1m5 0h1m5 0h1m-6 1h1m3 0h1m-29 1h1m4 0h1m7 0h1m1 0h1m1 0h1m-31 1h1m12 0h2m4 0h1m2 0h1m3 0h3m-11 1h1m1 0h1m4 0h1m2 0h1m-29 1h1m8 0h1m3 0h1m5 0h1m1 0h1m-14 1h1m1 0h1m15 0h1m12 0h1m-28 1h1m9 0h1m5 0h1m4 0h1m2 0h1m-21 1h1m1 0h1m3 0h1m-13 1h2m3 0h2m3 0h1m1 0h1m9 0h1m3 0h1m-49 1h1m14 0h1m7 0h1m8 0h2m11 0h1m-19 1h1m2 0h1m11 0h2m-24 1h2m1 0h1m9 0h3m3 0h1m-21 1h1m3 0h1m11 0h1m5 0h1m3 0h1m-22 1h1m12 0h2m-27 1h1m6 0h1m4 0h1m3 0h1m4 0h1m14 0h1m2 0h1m-38 1h1m3 0h1m13 0h1m-13 1h1m4 0h1m1 0h1m1 0h4m3 0h1m4 0h2m1 0h1m6 0h1m-27 1h2m3 0h1m1 0h3m4 0h2m1 0h1m9 0h1m-21 1h1m1 0h1m1 0h2m12 0h1m-34 1h1m1 0h1m8 0h1m1 0h1m2 0h1m1 0h1m1 0h3m-25 1h1m1 0h2m5 0h1m2 0h1m15 0h1m-10 1h1m-22 1h1m4 0h1m1 0h1m3 0h1m2 0h3m1 0h3m4 0h1m-42 1h1m15 0h3m1 0h1m6 0h1m7 0h1m4 0h1m-22 1h2m2 0h1m6 0h2m1 0h1m3 0h1m4 0h1m-28 1h1m6 0h1m3 0h1m-18 1h1m2 0h1m12 0h2m2 0h1m3 0h1m-14 1h1m2 0h1m14 0h2m5 0h1m-28 1h2m2 0h1m2 0h2m9 0h1m13 0h1m-30 1h2m1 0h1m10 0h1m43 0h1m-70 1h1m2 0h2m1 0h1m1 0h1m1 0h1m1 0h1m2 0h1m11 0h1m12 0h1m2 0h1m-54 1h1m6 0h1m3 0h1m1 0h1m3 0h1m10 0h1m6 0h1m11 0h1m-50 1h1m5 0h1m3 0h1m7 0h1m4 0h2m4 0h1m5 0h1m10 0h1m-40 1h2m2 0h1m6 0h1m6 0h1m23 0h1m-49 1h1m10 0h1m3 0h1m3 0h1m7 0h1m2 0h1m29 0h1m4 0h1m-58 1h1m10 0h1m1 0h1m1 0h1m1 0h1m6 0h1m7 0h1m7 0h1m14 0h1m-60 1h1m4 0h1m2 0h1m8 0h1m2 0h1m6 0h1m14 0h2m6 0h1m-63 1h1m7 0h2m1 0h1m11 0h1m7 0h1m15 0h1m-41 1h1m1 0h1m27 0h2m18 0h1m-50 1h1m15 0h1m2 0h1m1 0h1m1 0h1m8 0h1m2 0h2m23 0h1m-68 1h1m3 0h1m4 0h1m32 0h1m1 0h2m12 0h2m-60 1h1m23 0h2m9 0h1m1 0h1m1 0h1m4 0h1m-46 1h1m3 0h1m2 0h1m15 0h1m2 0h2m11 0h1m10 0h1m3 0h1m2 0h1m2 0h1m10 0h1m-45 1h1m2 0h2m2 0h1m5 0h1m7 0h2m2 0h1m4 0h1m3 0h1m-63 1h1m1 0h3m23 0h1m4 0h1m2 0h1m9 0h2m7 0h1m4 0h1m5 0h1m-68 1h1m29 0h1m7 0h1m2 0h1m2 0h1m6 0h2m2 0h1m1 0h1m-59 1h1m1 0h1m3 0h1m18 0h1m1 0h1m1 0h1m8 0h2m1 0h1m5 0h1m2 0h1m7 0h1m-58 1h1m26 0h1m14 0h1m2 0h1m2 0h1m1 0h1m4 0h3m1 0h1m-64 1h1m28 0h1m11 0h1m9 0h1m1 0h1m8 0h1m5 0h1m-69 1h1m27 0h1m17 0h1m2 0h1m3 0h1m1 0h1m1 0h1m2 0h1m-60 1h1m1 0h2m22 0h1m20 0h2m1 0h2m4 0h1m10 0h1m-42 1h1m12 0h1m4 0h2m7 0h2m2 0h1m3 0h1m-27 1h1m14 0h2m4 0h1m-61 1h2m23 0h1m3 0h1m1 0h1m22 0h1m3 0h1m-58 1h1m1 0h1m23 0h1m1 0h1m2 0h1m1 0h1m18 0h1m12 0h1m-67 1h1m3 0h1m29 0h1m16 0h1m3 0h1m1 0h1m3 0h1m-59 1h1m22 0h1m6 0h1m16 0h1m1 0h1m1 0h1m-57 1h1m4 0h1m19 0h1m10 0h1m13 0h1m26 0h1m-54 1h1m6 0h1m-31 1h1m2 0h1m13 0h1m1 0h2m1 0h1m1 0h1m8 0h2m3 0h1m-26 1h1m10 0h1m2 0h1m23 0h1m2 0h1m4 0h1m-62 1h1m1 0h1m15 0h1m3 0h1m2 0h1m3 0h1m1 0h1m4 0h1m-21 1h1m1 0h2m10 0h1m-23 1h1m3 0h1m1 0h2m1 0h2m2 0h1m-25 1h1m3 0h1m2 0h1m4 0h1m3 0h2m2 0h1m10 0h1m8 0h1m7 0h1m-50 1h1m7 0h2m7 0h2m6 0h1m6 0h1m-33 1h1m1 0h1m8 0h1m2 0h1m9 0h1m-34 1h1m28 0h1m2 0h1m-14 1h1m5 0h1m27 0h1m-40 1h2m16 0h1m11 0h1m13 0h1m-46 1h1m4 0h1m13 0h1m2 0h1m-21 1h1m3 0h1m4 0h1m-4 1h1m9 0h1m-11 3h1m10 0h1" stroke="#2a2a2a"/><path d="M113 60h1m-37 14h1m17 0h1m-15 1h1m9 0h1m-7 2h1m3 0h1m-16 1h1m9 1h2m-7 1h1m6 0h1m2 0h1m-9 1h1m1 0h1m-12 1h1m4 0h1m0 1h1m6 0h1m-1 1h1m-13 1h1m2 0h1m3 0h1m4 0h1m10 0h1m-28 1h1m17 0h1m3 0h1m-22 1h1m15 0h1m4 0h1m3 0h1m-22 1h1m9 1h1m-12 1h1m4 0h1m-2 1h1m1 0h1m-6 1h1m4 0h1m1 0h2m-9 1h1m1 0h2m3 0h1m1 0h1m1 0h1m2 0h1m-20 1h1m8 0h2m3 0h1m5 0h1m-16 1h1m3 0h1m-12 2h1m7 0h1m-3 1h1m3 0h1m6 0h1m-11 1h1m5 0h1m1 0h1m-16 1h1m2 0h2m1 0h1m4 0h1m1 0h1m-19 1h2m2 0h1m1 0h1m4 0h1m13 0h1m-23 1h1m3 0h1m3 0h2m1 0h2m4 0h1m-17 1h1m2 0h4m27 0h1m-45 1h1m3 0h1m4 0h1m3 0h2m2 0h1m6 0h1m-21 1h1m2 0h1m1 0h1m3 0h2m5 0h1m1 0h1m1 0h1m4 0h1m-32 1h1m1 0h4m5 0h3m1 0h1m5 0h1m1 0h1m-23 1h2m1 0h1m1 0h7m2 0h1m1 0h1m3 0h1m4 0h1m24 0h1m-56 1h1m3 0h1m1 0h2m1 0h2m1 0h4m1 0h3m21 0h1m-41 1h1m1 0h2m1 0h1m1 0h6m1 0h4m2 0h1m-21 1h1m1 0h3m1 0h8m1 0h2m2 0h2m1 0h1m3 0h1m7 0h1m7 0h2m-47 1h1m1 0h14m2 0h1m29 0h1m-50 1h1m1 0h1m2 0h13m2 0h2m2 0h1m22 0h2m2 0h1m-55 1h1m2 0h19m2 0h1m7 0h1m20 0h1m-51 1h1m1 0h15m9 0h1m10 0h1m9 0h1m2 0h1m7 0h1m-64 1h2m1 0h21m1 0h1m19 0h1m3 0h1m4 0h1m-58 1h1m5 0h19m1 0h2m18 0h1m8 0h1m2 0h1m4 0h1m-62 1h1m1 0h24m15 0h1m6 0h1m5 0h1m1 0h3m-58 1h2m1 0h18m1 0h1m18 0h1m6 0h1m3 0h2m-58 1h1m1 0h25m5 0h1m11 0h1m-45 1h1m1 0h21m2 0h1m19 0h1m1 0h1m-48 1h1m1 0h21m1 0h1m12 0h1m6 0h1m4 0h1m3 0h1m-52 1h1m1 0h17m2 0h1m1 0h1m-27 1h2m2 0h19m24 0h1m2 0h1m-52 1h4m1 0h18m18 0h1m-41 1h20m1 0h1m-25 1h1m1 0h1m1 0h19m3 0h1m-27 1h2m1 0h17m1 0h2m1 0h1m1 0h1m-28 1h2m2 0h15m1 0h2m-27 1h1m5 0h1m1 0h16m1 0h2m20 0h1m-51 1h1m8 0h13m1 0h4m7 0h1m-27 1h1m1 0h13m1 0h1m2 0h1m-19 1h10m1 0h3m2 0h2m-18 1h10m1 0h2m1 0h2m14 0h1m-35 1h1m1 0h3m1 0h2m1 0h6m1 0h1m16 0h1m-33 1h1m3 0h2m2 0h1m-6 1h2m1 0h1m2 0h2m3 0h1m2 0h1m18 0h1m-36 1h1m5 0h1m1 0h2m6 0h1m11 0h1m-30 1h1m5 0h2m4 0h1m-11 1h1m1 0h2m10 0h1m-19 1h1m2 0h1m30 0h1m-33 2h1" stroke="#000"/></g><g fill="none" stroke-width="1" transform="scale(1.36) translate(0.0,0.5)"><path d="M90 60h1m16 0h1m-25 4h1m7 0h1m3 0h1m5 0h1m13 2h1m-20 1h1m10 0h1m-34 3h1m11 1h1m1 0h1m-13 1h1m2 0h1m10 0h1m5 0h1m4 0h1m-18 2h1m2 0h1m-24 1h1m15 0h1m19 0h1m-12 2h1m-25 1h1m10 0h1m3 0h1m5 0h1m-29 1h1m17 0h1m4 0h1m-9 1h1m8 0h1m4 0h1m9 0h1m2 0h1m-31 1h1m3 0h1m3 0h1m-1 1h1m3 0h1m4 0h2m8 0h1m-25 1h1m4 0h1m13 0h2m-19 1h1m9 0h1m-8 1h1m8 0h1m17 0h1m-29 1h1m1 0h1m-12 1h1m1 0h1m5 0h4m5 0h1m-17 1h1m1 0h1m1 0h1m11 0h2m11 0h1m-30 1h1m8 0h1m2 0h2m-9 1h1m5 0h1m1 0h1m2 0h1m-18 1h1m5 0h1m2 0h1m13 0h1m15 0h1m-31 1h1m1 0h1m1 0h1m-2 1h1m1 0h1m1 0h1m3 0h1m-26 1h1m25 0h2m-33 1h2m12 0h2m1 0h1m2 0h1m9 0h2m-6 1h1m5 0h1m-16 1h1m5 0h1m2 0h1m-22 1h1m8 0h1m1 0h1m4 0h1m8 0h1m-34 1h1m11 0h1m3 0h1m7 0h1m-21 1h1m45 0h1m-49 1h2m8 0h1m2 0h1m10 0h1m1 0h2m2 0h1m19 0h1m4 0h1m-52 1h1m46 0h1m-51 1h2m8 0h1m-8 1h2m-8 1h1m9 0h2m19 0h1m-39 1h1m5 0h1m2 0h2m5 0h1m7 0h1m9 0h1m-17 1h1m2 0h1m2 0h1m13 0h1m-40 1h1m1 0h2m5 0h1m15 0h1m20 0h1m-25 1h1m4 0h1m13 0h1m23 0h1m-63 1h1m17 0h1m1 0h1m1 0h1m11 0h1m6 0h1m-22 1h1m24 0h1m14 0h1m-68 1h1m26 0h1m16 0h1m14 0h1m-30 1h1m14 0h1m10 0h1m-32 1h1m2 0h1m19 0h1m-24 1h1m13 0h1m12 0h1m-54 1h1m34 0h1m10 0h2m3 0h1m-61 1h1m7 0h2m22 0h1m2 0h1m4 0h1m14 0h2m2 0h1m-16 1h1m6 0h1m1 0h1m3 0h1m11 0h1m-66 1h1m43 0h1m1 0h1m2 0h1m2 0h1m5 0h2m-60 1h2m29 0h1m17 0h1m10 0h1m-40 1h1m1 0h1m21 0h1m-49 1h1m25 0h1m19 0h1m5 0h1m6 0h1m1 0h1m14 0h1m-40 1h1m18 0h2m3 0h1m-20 1h1m-46 1h1m49 0h1m3 0h1m-53 1h1m28 0h1m15 0h1m-43 1h1m29 0h1m5 0h1m20 0h1m-25 1h1m16 0h1m8 0h1m-69 1h1m27 0h1m7 0h1m11 0h1m-44 1h1m17 0h1m4 1h1m-27 1h1m3 0h1m21 0h1m7 0h3m-37 1h1m20 0h1m-17 1h1m6 0h1m2 0h1m5 0h1m17 0h1m5 0h1m-35 1h1m2 0h1m7 0h1m3 0h1m-20 1h1m8 0h1m3 0h1m8 0h1m-28 1h2m4 0h1m1 0h1m3 0h1m-15 1h1m15 0h1m-18 1h1m1 0h1m3 0h1m-7 1h1m2 1h1m12 0h1m-16 1h1m13 0h1m14 0h1m-24 1h1m6 1h1m3 0h1m9 0h1m-2 2h1" stroke="#7a7a7a"/><path d="M118 53h1m2 0h1m-4 1h1m-4 1h1m3 0h1m-21 2h1m-19 2h1m30 0h1m-26 3h1m10 0h1m-27 1h1m23 0h1m1 0h1m5 0h1m-29 2h1m27 0h1m-21 1h1m6 1h2m-27 1h1m7 0h1m12 0h1m12 0h1m-31 1h1m11 0h2m5 0h1m12 0h1m-33 1h1m11 0h1m8 0h1m4 0h1m-21 1h3m2 0h1m18 0h1m-23 1h1m6 0h2m-21 1h1m18 0h1m5 0h1m1 0h1m10 0h1m-31 1h1m1 0h1m1 0h1m1 0h1m8 0h3m2 0h1m7 0h1m-26 1h1m3 0h1m1 0h1m2 0h1m10 0h1m5 1h1m-30 1h1m3 0h1m6 0h1m9 0h2m-25 1h1m1 0h1m7 0h1m1 0h1m20 0h1m-36 1h1m9 0h1m4 0h1m1 0h1m10 0h1m-25 1h1m5 0h2m1 0h1m2 0h1m1 0h2m-31 1h1m11 0h1m3 0h2m11 0h1m1 0h1m2 0h1m9 0h1m-38 1h1m7 0h1m5 0h1m11 0h2m-36 1h1m8 0h1m8 0h2m8 0h3m16 0h1m-48 1h1m12 0h1m4 0h1m6 0h1m16 0h1m-37 1h1m20 0h2m2 0h2m6 0h1m-33 1h1m2 0h1m3 0h1m17 0h1m-22 1h1m1 0h1m1 0h1m7 0h1m4 0h5m3 0h1m3 0h1m-43 1h1m20 0h1m1 0h1m9 0h1m-26 1h2m1 0h1m2 0h2m2 0h1m5 0h1m8 0h1m6 0h1m-25 1h1m2 0h1m7 0h2m1 0h1m1 0h1m-23 1h1m5 0h2m2 0h1m2 0h1m14 0h1m3 0h1m-31 1h1m2 0h1m8 0h1m14 0h1m2 0h1m-34 1h1m7 0h1m1 0h1m5 0h1m1 0h1m1 0h1m-22 1h1m2 0h1m4 0h1m12 0h1m9 0h1m-26 1h1m6 0h1m16 0h1m-25 1h1m6 0h1m1 0h1m1 0h2m2 0h1m6 0h1m-28 1h1m5 0h2m1 0h1m8 0h1m6 0h1m8 0h1m-39 1h1m4 0h2m2 0h2m22 0h1m-35 1h1m8 0h1m2 0h1m1 0h1m3 0h1m1 0h1m2 0h1m3 0h1m-21 1h3m4 0h2m1 0h1m23 0h1m-41 1h1m12 0h1m3 0h1m-17 1h1m2 0h1m9 0h3m1 0h2m2 0h1m3 0h1m11 0h1m12 0h1m5 0h1m-62 1h1m6 0h2m1 0h1m8 0h1m39 0h1m-64 1h1m3 0h4m4 0h1m4 0h1m1 0h1m7 0h1m5 0h1m-33 1h1m3 0h1m1 0h1m12 0h3m3 0h2m7 0h2m9 0h1m-50 1h2m4 0h1m5 0h1m4 0h1m3 0h1m2 0h1m4 0h1m8 0h1m17 0h1m1 0h1m-63 1h1m4 0h1m2 0h2m4 0h1m6 0h1m3 0h1m3 0h1m3 0h1m5 0h1m21 0h1m3 0h1m-76 1h1m14 0h1m8 0h1m7 0h1m1 0h1m5 0h1m1 0h2m2 0h1m22 0h1m-56 1h1m1 0h1m1 0h1m18 0h1m3 0h1m1 0h2m12 0h1m5 0h1m1 0h2m15 0h1m-70 1h1m1 0h1m17 0h1m3 0h2m7 0h2m2 0h1m5 0h1m13 0h2m-63 1h1m18 0h2m23 0h1m16 0h1m-62 1h1m3 0h1m13 0h1m1 0h1m1 0h1m3 0h1m3 0h1m10 0h1m1 0h1m2 0h1m5 0h1m8 0h2m2 0h1m-66 1h1m23 0h1m1 0h1m4 0h1m10 0h1m6 0h1m3 0h1m-59 1h1m5 0h1m16 0h2m5 0h1m9 0h1m5 0h2m2 0h1m5 0h1m1 0h1m4 0h1m7 0h1m-47 1h1m3 0h1m18 0h1m1 0h3m1 0h1m1 0h1m5 0h1m3 0h1m-67 1h1m19 0h1m3 0h1m3 0h1m6 0h1m10 0h1m3 0h2m2 0h1m1 0h1m6 0h1m2 0h1m3 0h1m-68 1h1m20 0h1m6 0h1m6 0h1m1 0h1m12 0h1m2 0h1m2 0h1m-61 1h1m1 0h1m22 0h3m2 0h1m10 0h1m7 0h1m3 0h1m2 0h1m1 0h1m-33 1h1m3 0h1m8 0h1m3 0h1m7 0h1m2 0h1m12 0h1m-46 1h1m1 0h1m1 0h1m1 0h1m3 0h1m1 0h3m1 0h1m5 0h3m1 0h1m1 0h1m1 0h1m-28 1h1m13 0h1m5 0h1m2 0h1m3 0h1m1 0h4m-62 1h2m25 0h1m2 0h1m12 0h1m3 0h1m14 0h1m3 0h1m-68 1h1m1 0h2m24 0h1m1 0h1m14 0h1m5 0h1m8 0h1m5 0h1m-69 1h1m25 0h1m16 0h1m5 0h1m3 0h1m5 0h1m1 0h2m1 0h1m-65 1h1m2 0h1m3 0h1m15 0h1m5 0h1m8 0h1m7 0h1m5 0h1m1 0h1m10 0h1m-45 1h1m12 0h1m23 0h1m-32 1h1m18 0h1m3 0h1m-54 1h1m1 0h1m2 0h1m27 0h1m1 0h1m13 0h1m-51 1h2m1 0h1m2 0h1m18 0h1m23 0h1m1 0h1m15 0h1m-61 1h1m18 0h1m3 0h1m17 0h1m-46 1h1m1 0h1m18 0h1m-23 1h1m19 0h1m6 0h1m1 0h1m-29 1h2m1 0h1m18 0h2m1 0h1m-25 1h1m2 0h2m9 0h1m4 0h2m13 0h1m-36 1h2m2 0h1m25 0h1m9 0h1m-46 1h2m1 0h1m2 0h1m1 0h1m5 0h1m1 0h1m1 0h1m10 0h1m4 0h1m-34 1h1m7 0h1m17 0h1m-29 1h1m6 0h1m2 0h1m13 0h1m10 0h1m11 0h1m-36 1h1m10 0h1m5 0h2m1 0h1m-21 1h1m10 0h1m16 0h1m-37 1h1m7 0h1m1 0h1m2 0h1m-8 1h1m11 0h1m-22 2h1m17 0h2m2 0h1m12 0h1m-21 3h1m16 1h1m-22 2h1" stroke="#2a2a2a"/><path d="M78 66h1m14 1h1m-3 2h1m-6 4h1m-6 1h1m-3 1h1m7 0h1m-8 1h1m2 0h1m1 0h1m5 0h1m1 1h1m-10 2h1m3 0h2m-4 2h1m7 0h1m-13 2h1m2 0h1m3 0h1m-16 1h1m-8 1h1m9 0h1m-5 1h1m6 0h1m1 2h1m-6 1h1m5 0h2m-8 1h1m0 1h1m4 1h1m-10 1h1m3 0h1m-3 1h1m9 0h1m-13 1h1m6 0h1m1 0h1m-8 1h1m1 0h1m-13 1h1m6 0h1m5 0h1m-11 1h1m7 0h2m7 0h1m-19 1h1m6 0h1m-10 1h1m6 0h1m4 0h3m-21 1h1m3 0h2m2 0h1m7 0h1m2 0h1m-21 1h1m4 0h1m2 0h1m2 0h2m2 0h1m-13 1h2m2 0h1m2 0h2m1 0h4m3 0h1m1 0h1m-19 1h2m2 0h3m1 0h1m2 0h1m1 0h1m-18 1h1m1 0h1m1 0h2m3 0h2m1 0h1m-17 1h1m3 0h3m1 0h1m4 0h2m5 0h3m2 0h1m-28 1h1m3 0h3m1 0h3m4 0h1m1 0h1m6 0h1m5 0h1m-32 1h2m1 0h1m2 0h2m1 0h7m3 0h1m-21 1h1m1 0h1m1 0h2m1 0h7m3 0h1m3 0h1m-25 1h1m3 0h15m4 0h1m23 0h1m4 0h1m-52 1h15m2 0h2m10 0h1m13 0h1m-49 1h1m1 0h3m1 0h13m1 0h1m1 0h1m2 0h1m6 0h1m12 0h1m-46 1h1m2 0h20m3 0h1m22 0h1m-50 1h1m2 0h16m2 0h2m15 0h1m5 0h1m3 0h1m1 0h1m5 0h1m-57 1h21m1 0h1m4 0h1m-29 1h17m1 0h3m1 0h1m21 0h1m10 0h1m-55 1h19m3 0h1m17 0h1m9 0h1m-55 1h1m1 0h20m1 0h1m19 0h1m1 0h1m1 0h1m3 0h1m-53 1h25m10 0h1m1 0h1m14 0h1m-52 1h21m3 0h1m4 0h1m-33 1h3m1 0h17m1 0h1m1 0h1m9 0h1m13 0h2m-49 1h22m1 0h1m10 0h1m6 0h1m1 0h1m2 0h1m-50 1h1m2 0h22m-24 1h1m1 0h20m1 0h1m1 0h1m17 0h1m-47 1h2m1 0h3m1 0h15m1 0h2m24 0h1m5 0h1m-53 1h17m1 0h3m30 0h1m-57 1h1m2 0h2m1 0h18m2 0h1m12 0h1m-36 1h19m1 0h1m2 0h2m-25 1h18m27 0h1m-47 1h1m1 0h12m1 0h1m1 0h1m-20 1h1m1 0h18m-21 1h1m3 0h15m-17 1h1m1 0h15m-19 1h1m5 0h1m1 0h2m1 0h2m1 0h1m1 0h1m12 0h1m-27 1h1m1 0h2m3 0h1m2 0h1m2 0h1m4 0h1m1 0h1m-22 1h1m3 0h1m1 0h1m1 0h1m-9 1h1m2 0h1m1 0h1m1 0h1m3 0h1m-11 1h1m2 0h1m1 0h1m-1 1h1m-10 2h1m12 0h1" stroke="#000"/></g><path d="M0 0H205.5V205.5" fill="none" stroke="#2a2a2a" stroke-width="1.45"/><path d="M0 0V205.5" fill="none" stroke="#666" stroke-width="1.3"/><path d="M-6 205.5H205.5" fill="none" stroke="#111" stroke-width="1.5"/><path d="M100.7 0V205.5" fill="none" stroke="#111" stroke-width="1.7"/><path d="M0 128.4H205.5" fill="none" stroke="#111" stroke-width="1.5"/><path d="M0.0 205.5v5.5M39.1 205.5v5.5M78.2 205.5v5.5M117.3 205.5v5.5M156.4 205.5v5.5M195.5 205.5v5.5M0 205.0h-6.5M0 165.7h-6.5M0 126.4h-6.5M0 87.1h-6.5M0 47.8h-6.5M0 8.5h-6.5" fill="none" stroke="#111" stroke-width="1.4"/><path d="M11.8 205.5v2.8M18.7 205.5v2.8M23.5 205.5v2.8M27.3 205.5v2.8M30.4 205.5v2.8M33.0 205.5v2.8M35.3 205.5v2.8M37.3 205.5v2.8M50.9 205.5v2.8M57.8 205.5v2.8M62.6 205.5v2.8M66.4 205.5v2.8M69.5 205.5v2.8M72.1 205.5v2.8M74.4 205.5v2.8M76.4 205.5v2.8M90.0 205.5v2.8M96.9 205.5v2.8M101.7 205.5v2.8M105.5 205.5v2.8M108.6 205.5v2.8M111.2 205.5v2.8M113.5 205.5v2.8M115.5 205.5v2.8M129.1 205.5v2.8M136.0 205.5v2.8M140.8 205.5v2.8M144.6 205.5v2.8M147.7 205.5v2.8M150.3 205.5v2.8M152.6 205.5v2.8M154.6 205.5v2.8M168.2 205.5v2.8M175.1 205.5v2.8M179.9 205.5v2.8M183.7 205.5v2.8M186.8 205.5v2.8M189.4 205.5v2.8M191.7 205.5v2.8M193.7 205.5v2.8M0 193.2h-3.5M0 186.2h-3.5M0 181.3h-3.5M0 177.5h-3.5M0 174.4h-3.5M0 171.8h-3.5M0 169.5h-3.5M0 167.5h-3.5M0 153.9h-3.5M0 146.9h-3.5M0 142.0h-3.5M0 138.2h-3.5M0 135.1h-3.5M0 132.5h-3.5M0 130.2h-3.5M0 128.2h-3.5M0 114.6h-3.5M0 107.6h-3.5M0 102.7h-3.5M0 98.9h-3.5M0 95.8h-3.5M0 93.2h-3.5M0 90.9h-3.5M0 88.9h-3.5M0 75.3h-3.5M0 68.3h-3.5M0 63.4h-3.5M0 59.6h-3.5M0 56.5h-3.5M0 53.9h-3.5M0 51.6h-3.5M0 49.6h-3.5M0 36.0h-3.5M0 29.0h-3.5M0 24.1h-3.5M0 20.3h-3.5M0 17.2h-3.5M0 14.6h-3.5M0 12.3h-3.5M0 10.3h-3.5" fill="none" stroke="#333" stroke-width="1.05"/><g font-family="'Liberation Sans', sans-serif" fill="#111" stroke="#111" stroke-width="0.3"><text transform="translate(3.6 222.9) scale(1 1.04)" font-size="7.4">10</text><text transform="translate(11.3 218.6) scale(1 1.04)" font-size="6.8">2</text><text transform="translate(39.5 222.9) scale(1 1.04)" font-size="7.4">10</text><text transform="translate(47.2 218.6) scale(1 1.04)" font-size="6.8">3</text><text transform="translate(78.6 222.9) scale(1 1.04)" font-size="7.4">10</text><text transform="translate(86.3 218.6) scale(1 1.04)" font-size="6.8">4</text><text transform="translate(117.7 222.9) scale(1 1.04)" font-size="7.4">10</text><text transform="translate(125.4 218.6) scale(1 1.04)" font-size="6.8">5</text><text transform="translate(156.8 222.9) scale(1 1.04)" font-size="7.4">10</text><text transform="translate(164.5 218.6) scale(1 1.04)" font-size="6.8">6</text><text transform="translate(195.9 222.9) scale(1 1.04)" font-size="7.4">10</text><text transform="translate(203.6 218.6) scale(1 1.04)" font-size="6.8">7</text><text transform="translate(-20.8 204.8) scale(1 1.04)" font-size="7.4">10</text><text transform="translate(-13.0 200.4) scale(1 1.04)" font-size="6.8">2</text><text transform="translate(-20.8 170.5) scale(1 1.04)" font-size="7.4">10</text><text transform="translate(-13.0 166.1) scale(1 1.04)" font-size="6.8">3</text><text transform="translate(-20.8 131.2) scale(1 1.04)" font-size="7.4">10</text><text transform="translate(-13.0 126.8) scale(1 1.04)" font-size="6.8">4</text><text transform="translate(-20.8 91.9) scale(1 1.04)" font-size="7.4">10</text><text transform="translate(-13.0 87.5) scale(1 1.04)" font-size="6.8">5</text><text transform="translate(-20.8 52.6) scale(1 1.04)" font-size="7.4">10</text><text transform="translate(-13.0 48.2) scale(1 1.04)" font-size="6.8">6</text><text transform="translate(-20.8 13.3) scale(1 1.04)" font-size="7.4">10</text><text transform="translate(-13.0 8.9) scale(1 1.04)" font-size="6.8">7</text></g><g font-family="'Liberation Sans', sans-serif" fill="#141414" stroke="#141414" stroke-width="0.55"><text transform="translate(6.6 34.4) scale(1 1.04)" font-size="30.6">2</text><text transform="translate(193.0 34.4) scale(1 1.04)" font-size="30.6" text-anchor="end">6</text><text transform="translate(6.6 197.8) scale(1 1.04)" font-size="30.6">83</text><text transform="translate(193.0 197.8) scale(1 1.04)" font-size="30.6" text-anchor="end">10</text></g></g>
<g transform="translate(1889.3,148.2)"><g fill="none" stroke-width="1" transform="scale(1.36) translate(-0.5,0.0)"><path d="M74 57h1m21 5h1m-32 1h1m23 2h1m11 0h1m-43 1h1m27 0h1m7 0h1m-36 1h1m4 0h1m3 0h1m3 0h1m5 0h2m9 0h1m5 0h1m-25 1h1m1 0h1m8 0h1m4 0h1m4 0h1m-47 1h1m10 0h1m6 0h1m7 0h1m2 0h1m1 0h1m20 0h1m-49 1h1m4 0h2m4 0h1m7 0h1m2 0h1m8 0h1m3 0h1m-32 1h1m4 0h1m12 0h1m4 0h1m-25 1h1m21 0h1m13 0h1m1 0h1m1 0h1m-44 2h1m15 0h1m23 0h1m2 0h1m-48 1h1m4 0h1m8 0h1m8 0h1m4 0h1m27 0h1m7 0h1m-68 1h1m18 0h1m26 0h1m3 0h1m-38 1h1m1 0h1m6 0h2m10 0h1m5 0h1m7 0h1m-37 1h1m12 0h1m1 0h1m15 0h1m10 0h1m2 0h1m-51 1h1m4 0h1m3 1h1m7 0h1m6 0h2m26 0h1m-43 1h1m12 0h1m8 0h1m2 0h1m1 0h1m1 0h1m1 0h1m-24 1h1m6 0h1m14 0h1m-23 1h1m1 0h1m11 0h1m5 0h1m5 0h1m-34 1h1m8 0h1m13 0h1m5 0h1m2 0h1m-4 1h1m1 0h1m-19 1h2m14 0h1m-37 1h1m7 0h1m3 0h1m4 0h1m9 0h1m14 0h2m4 0h1m18 0h1m-56 1h1m25 0h1m-9 1h1m5 0h1m24 0h1m-26 1h1m3 0h1m-39 1h2m11 0h1m1 0h1m5 0h1m8 0h1m10 0h1m1 0h1m2 0h1m4 0h1m-55 1h1m5 0h1m4 0h1m17 0h1m10 0h1m14 0h1m-50 1h1m4 0h1m10 0h1m1 0h1m1 0h1m9 0h1m-39 1h1m13 0h1m21 0h1m1 0h1m4 0h1m-34 1h1m3 0h1m4 0h1m11 0h1m9 0h1m1 0h2m-38 1h1m3 0h1m6 0h1m6 0h1m7 0h1m1 0h1m3 0h1m1 0h1m7 0h1m1 0h1m-24 1h1m10 0h1m8 0h1m-32 1h1m31 0h1m-48 1h1m4 0h1m11 0h1m1 0h1m15 0h1m5 0h1m3 0h1m8 0h1m-48 1h1m8 0h1m1 0h1m1 0h1m15 0h1m14 0h1m3 0h1m1 0h1m3 0h1m-53 1h1m3 0h1m18 0h1m5 0h1m1 0h1m3 0h2m13 0h1m-51 1h2m16 0h1m7 0h1m4 0h1m-32 1h1m5 0h1m3 0h1m31 0h1m4 0h1m-60 1h1m15 0h1m4 0h1m7 0h1m5 0h1m1 0h1m13 0h1m3 0h1m6 0h1m5 0h1m-61 1h1m5 0h1m13 0h1m1 0h2m7 0h1m8 0h1m7 0h1m5 0h1m4 0h1m-45 1h1m4 0h1m18 0h1m8 0h1m1 0h1m6 0h1m-51 1h1m1 0h1m16 0h2m5 0h1m7 0h1m1 0h1m7 0h1m-56 1h1m2 0h1m2 0h1m18 0h1m25 0h1m-63 1h1m1 0h1m4 0h1m14 0h1m17 0h2m8 0h1m2 0h1m2 0h1m-46 1h1m3 0h1m22 0h1m4 0h1m-19 1h1m18 0h2m7 0h1m9 0h1m-63 1h1m57 0h1m2 0h1m1 0h1m17 0h1m-84 1h1m13 0h1m5 0h1m9 0h1m6 0h1m9 0h1m6 0h1m13 0h1m-49 1h1m9 0h1m10 0h1m7 0h1m-51 1h2m1 0h1m2 0h1m6 0h2m2 0h1m12 0h1m5 0h1m9 0h2m13 0h1m-69 1h1m11 0h3m13 0h1m9 0h1m13 0h1m3 0h1m2 0h1m1 0h1m9 0h1m3 0h1m1 0h1m-69 1h1m2 0h1m1 0h1m25 0h1m4 0h1m1 0h1m2 0h1m3 0h1m12 0h1m5 0h2m7 0h1m-82 1h1m8 0h1m45 0h1m4 0h1m2 0h1m4 0h1m5 0h1m-74 1h1m26 0h1m12 0h1m5 0h2m16 0h1m-56 1h1m6 0h1m11 0h1m3 0h1m3 0h1m2 0h1m23 0h1m-35 1h1m19 0h1m8 0h1m-42 1h1m1 0h1m28 0h1m6 0h1m1 0h1m-55 1h1m13 0h1m20 0h1m5 0h1m12 0h1m4 0h1m-62 1h1m9 0h1m15 0h2m11 0h1m2 0h2m3 0h1m1 0h2m2 0h2m-21 1h1m5 0h2m1 0h1m10 0h1m5 0h1m2 0h1m-67 1h1m17 0h1m10 0h1m6 0h1m30 0h1m-67 1h1m21 0h1m5 0h1m19 0h1m-52 1h1m3 0h1m17 0h1m7 0h1m-31 1h1m18 0h1m4 0h1m9 0h2m1 0h1m-31 1h1m6 0h1m5 0h1m1 0h1m2 0h2m8 0h1m11 0h1m-42 1h1m1 0h2m8 0h1m13 0h2m7 0h1m2 0h1m-53 1h1m5 0h1m5 0h1m4 0h1m3 0h1m6 0h1m19 0h1m8 0h1m4 0h2m-50 1h1m6 0h1m9 0h1m15 0h1m-26 1h1m6 0h1m3 0h1m-24 1h1m29 0h1m3 0h1m-28 1h1m3 0h1m1 0h1m1 0h1m-18 1h1m18 0h1m8 0h1m-15 1h1m1 0h1m1 0h1m25 0h2m8 0h1m-49 1h1m16 0h1m7 0h1m-27 1h1m14 0h2m3 0h1m-12 1h1m-3 1h1m10 0h1m8 0h1m3 0h1m-20 1h1m10 0h2m-24 1h1m12 3h1m4 0h1" stroke="#7a7a7a"/><path d="M66 61h1m24 0h1m-17 1h1m1 0h2m3 0h1m20 0h1m4 0h1m-43 1h1m4 0h2m4 0h1m12 0h1m2 0h1m-37 1h1m9 0h1m5 0h1m2 0h1m1 0h1m1 0h1m9 0h1m1 0h1m-38 1h1m1 0h1m5 0h2m4 0h1m4 0h1m2 0h1m1 0h1m1 0h1m1 0h1m1 0h2m1 0h1m-34 1h2m1 0h1m2 0h1m1 0h1m3 0h1m1 0h1m3 0h1m1 0h2m1 0h1m12 0h2m3 0h1m10 0h1m-53 1h1m1 0h1m3 0h1m6 0h1m1 0h1m3 0h1m2 0h1m5 0h2m1 0h1m2 0h1m2 0h1m2 0h1m-45 1h1m9 0h1m4 0h1m13 0h2m2 0h2m-34 1h1m3 0h1m6 0h1m2 0h1m1 0h1m6 0h1m3 0h1m1 0h2m5 0h2m3 0h1m3 0h2m-40 1h1m1 0h1m3 0h1m11 0h1m9 0h4m1 0h1m6 0h1m2 0h1m-50 1h2m1 0h4m1 0h1m4 0h2m9 0h1m1 0h2m2 0h1m3 0h1m2 0h1m2 0h1m7 0h1m-56 1h1m5 0h1m2 0h2m18 0h1m7 0h2m2 0h1m17 0h1m-55 1h1m4 0h2m4 0h1m6 0h2m3 0h2m4 0h2m1 0h1m1 0h1m7 0h1m11 0h1m-56 1h1m4 0h1m1 0h3m1 0h1m1 0h2m3 0h1m2 0h1m4 0h2m1 0h1m5 0h1m9 0h1m-42 1h2m6 0h1m5 0h1m7 0h1m5 0h1m6 0h1m-40 1h1m5 0h2m4 0h1m12 0h1m4 0h1m4 0h2m-39 1h1m22 0h1m3 0h2m3 0h1m4 0h1m2 0h1m-31 1h1m1 0h1m1 0h1m3 0h1m3 0h1m6 0h1m2 0h1m4 0h1m2 0h1m-36 1h1m5 0h1m7 0h1m6 0h1m6 0h1m-4 1h1m4 0h1m7 0h1m3 0h1m-34 1h1m4 0h1m1 0h1m3 0h1m3 0h1m1 0h2m1 0h1m1 0h1m6 0h1m26 0h1m-66 1h1m3 0h1m2 0h1m3 0h1m3 0h1m3 0h1m19 0h1m7 0h1m2 0h1m-34 1h1m5 0h1m1 0h1m5 0h1m17 0h1m-36 1h1m6 0h1m3 0h2m3 0h2m1 0h1m-34 1h1m3 0h1m13 0h1m4 0h1m2 0h1m2 0h2m6 0h1m-28 1h1m2 0h1m3 0h2m10 0h1m1 0h1m1 0h1m10 0h1m-41 1h1m16 0h1m11 0h1m2 0h1m2 0h1m-23 1h1m4 0h1m6 0h2m1 0h1m5 0h1m-32 1h1m3 0h1m1 0h2m2 0h1m1 0h1m4 0h2m4 0h1m14 0h1m1 0h2m-51 1h1m5 0h1m7 0h2m2 0h1m1 0h1m5 0h4m3 0h2m-24 1h1m1 0h1m2 0h1m6 0h1m4 0h2m7 0h1m5 0h1m11 0h1m-56 1h1m5 0h1m19 0h3m2 0h1m3 0h1m3 0h1m13 0h1m9 0h1m7 0h1m-57 1h3m2 0h1m1 0h2m6 0h1m5 0h1m3 0h1m12 0h1m-44 1h1m6 0h1m1 0h1m6 0h1m5 0h1m13 0h2m-51 1h1m11 0h1m14 0h1m11 0h1m1 0h1m11 0h1m1 0h2m5 0h1m-57 1h1m28 0h1m23 0h1m2 0h1m-36 1h1m1 0h1m1 0h1m3 0h1m10 0h3m22 0h1m-59 1h1m3 0h1m7 0h1m6 0h1m2 0h3m5 0h1m19 0h1m-50 1h1m5 0h1m10 0h4m7 0h1m11 0h1m9 0h1m-58 1h1m7 0h1m1 0h1m5 0h1m9 0h1m6 0h1m2 0h1m7 0h2m2 0h1m18 0h1m-70 1h1m6 0h1m7 0h1m1 0h2m4 0h2m2 0h1m1 0h1m5 0h2m26 0h1m-63 1h1m4 0h2m4 0h4m1 0h2m15 0h1m10 0h1m1 0h1m4 0h1m3 0h1m-39 1h1m5 0h1m2 0h2m6 0h1m3 0h2m13 0h1m3 0h1m-70 1h1m10 0h1m2 0h1m5 0h2m2 0h1m2 0h1m4 0h2m5 0h1m5 0h1m1 0h1m3 0h1m3 0h4m-50 1h1m2 0h1m3 0h1m8 0h1m3 0h1m14 0h3m3 0h1m3 0h1m3 0h1m7 0h1m13 0h1m-74 1h1m2 0h1m8 0h1m2 0h1m4 0h2m9 0h3m8 0h3m-44 1h1m2 0h1m1 0h1m1 0h2m2 0h4m4 0h1m1 0h1m2 0h1m2 0h1m2 0h1m1 0h1m1 0h1m3 0h1m9 0h2m8 0h1m5 0h1m4 0h1m-82 1h1m1 0h1m10 0h1m4 0h2m1 0h1m3 0h2m7 0h1m1 0h1m4 0h1m15 0h3m2 0h1m1 0h1m7 0h2m-60 1h1m9 0h1m2 0h1m3 0h1m3 0h1m14 0h2m12 0h2m18 0h1m-89 1h1m12 0h1m1 0h1m7 0h1m2 0h1m5 0h3m2 0h2m1 0h1m23 0h1m9 0h2m1 0h2m1 0h1m8 0h1m-88 1h1m7 0h2m4 0h1m1 0h1m13 0h1m8 0h1m4 0h1m2 0h1m8 0h1m3 0h1m2 0h1m4 0h2m2 0h1m1 0h1m14 0h1m-78 1h1m1 0h1m3 0h2m4 0h1m3 0h1m2 0h2m3 0h1m1 0h1m5 0h2m6 0h1m3 0h1m1 0h1m12 0h1m-64 1h2m8 0h1m4 0h1m4 0h1m3 0h1m2 0h1m10 0h2m3 0h1m6 0h1m3 0h1m3 0h3m-67 1h1m3 0h1m7 0h1m1 0h1m5 0h1m1 0h1m4 0h2m3 0h1m6 0h2m4 0h1m2 0h2m1 0h1m5 0h1m5 0h1m-61 1h1m7 0h1m3 0h1m11 0h1m1 0h1m2 0h1m3 0h1m2 0h1m4 0h1m10 0h1m3 0h2m12 0h2m5 0h1m10 0h1m-77 1h1m5 0h1m1 0h1m10 0h1m13 0h1m6 0h1m3 0h3m1 0h1m12 0h1m-98 1h1m23 0h1m1 0h1m17 0h3m1 0h1m3 0h1m7 0h1m8 0h1m5 0h2m1 0h1m1 0h2m7 0h1m-72 1h1m1 0h1m5 0h1m2 0h2m5 0h1m1 0h1m4 0h1m6 0h1m3 0h1m1 0h1m1 0h1m1 0h1m3 0h2m9 0h1m1 0h1m5 0h1m-58 1h4m13 0h1m2 0h1m14 0h1m3 0h1m10 0h2m1 0h1m-64 1h1m4 0h1m5 0h1m16 0h2m7 0h1m3 0h1m5 0h2m2 0h1m6 0h2m10 0h2m-72 1h1m5 0h1m7 0h1m5 0h1m10 0h1m3 0h2m5 0h2m5 0h1m6 0h1m16 0h1m10 0h1m-80 1h1m1 0h2m20 0h1m7 0h1m6 0h1m12 0h1m5 0h1m-64 1h1m4 0h1m7 0h1m11 0h1m4 0h1m4 0h1m2 0h2m9 0h1m4 0h1m5 0h1m3 0h1m16 0h1m-81 1h2m5 0h1m20 0h1m4 0h1m2 0h1m19 0h1m9 0h1m-66 1h1m8 0h1m14 0h1m4 0h1m12 0h1m4 0h1m1 0h1m8 0h3m9 0h1m-73 1h1m2 0h1m3 0h1m1 0h1m5 0h1m10 0h1m9 0h2m3 0h1m4 0h1m1 0h1m8 0h1m1 0h2m-54 1h1m6 0h1m9 0h1m3 0h2m8 0h1m1 0h1m8 0h1m10 0h1m-59 1h1m8 0h1m12 0h1m6 0h1m3 0h1m2 0h1m6 0h1m8 0h1m5 0h1m9 0h1m-65 1h2m2 0h1m1 0h1m2 0h1m7 0h1m1 0h1m4 0h1m2 0h1m12 0h1m1 0h1m12 0h1m-60 1h1m2 0h1m3 0h1m11 0h1m2 0h1m4 0h2m-32 1h1m4 0h1m2 0h1m2 0h1m24 0h1m6 0h1m5 0h1m16 0h1m-65 1h1m6 0h1m2 0h1m6 0h1m6 0h1m8 0h1m3 0h2m3 0h1m-49 1h1m6 0h1m2 0h1m3 0h1m8 0h1m7 0h1m3 0h1m6 0h1m8 0h1m2 0h1m-50 1h1m22 0h1m2 0h1m1 0h1m-38 1h1m11 0h2m10 0h1m2 0h3m4 0h1m17 0h2m-45 1h2m8 0h1m1 0h1m5 0h1m5 0h1m3 0h1m-25 1h1m6 0h1m2 0h2m1 0h1m24 0h1m-36 1h1m9 0h1m6 0h1m1 0h1m1 0h1m6 0h1m2 0h3m-38 1h1m1 0h1m19 0h1m-25 1h1m10 0h1m4 0h1m5 0h1m15 0h1m-36 1h1m8 0h1m13 0h1m-21 1h2m4 0h1m6 0h1m3 1h1m-13 1h1m21 0h1m4 0h1m-24 1h1m27 2h1" stroke="#2a2a2a"/><path d="M64 64h1m0 1h1m16 0h1m-18 1h1m2 0h1m5 0h1m8 0h1m2 0h1m-28 1h1m21 0h1m-25 1h1m4 0h1m1 0h2m3 0h3m1 0h1m1 0h3m4 0h1m-26 1h1m3 0h2m1 0h1m2 0h1m1 0h4m1 0h1m2 0h1m2 0h1m4 0h1m4 0h1m1 0h1m-35 1h1m1 0h1m2 0h2m1 0h4m1 0h2m1 0h3m1 0h3m3 0h1m11 0h1m-35 1h4m2 0h5m1 0h3m4 0h1m4 0h1m2 0h1m7 0h1m-40 1h6m1 0h4m1 0h3m1 0h1m2 0h2m2 0h2m2 0h2m2 0h1m-35 1h1m2 0h4m1 0h6m2 0h3m2 0h2m1 0h1m2 0h1m4 0h3m-36 1h1m1 0h1m5 0h1m2 0h2m2 0h2m1 0h4m4 0h3m1 0h1m1 0h1m-29 1h2m3 0h5m1 0h1m1 0h1m1 0h2m3 0h3m2 0h2m1 0h1m10 0h1m-40 1h3m3 0h2m1 0h8m1 0h4m1 0h1m7 0h1m-34 1h1m3 0h6m2 0h3m1 0h1m1 0h1m2 0h1m8 0h1m16 0h1m-47 1h1m3 0h1m2 0h1m2 0h2m3 0h2m2 0h1m1 0h2m1 0h1m1 0h1m-22 1h1m1 0h3m2 0h1m1 0h3m2 0h4m4 0h2m2 0h2m1 0h1m-31 1h2m3 0h2m3 0h1m2 0h1m4 0h1m7 0h1m-16 1h1m2 0h1m2 0h1m2 0h1m-19 1h1m1 0h2m3 0h2m1 0h1m4 0h2m5 0h2m1 0h1m-28 1h1m3 0h2m1 0h1m10 0h1m2 0h1m-22 1h1m7 0h1m5 0h1m4 0h2m-4 1h1m1 0h2m3 0h2m-25 1h1m6 0h1m4 0h1m8 0h1m1 0h1m1 0h1m2 0h1m1 0h1m-25 1h3m8 0h1m1 0h1m-19 1h1m2 0h1m11 0h1m2 0h1m-14 1h1m2 0h1m2 0h2m3 0h3m-20 1h1m5 0h1m7 0h1m4 0h1m1 0h1m3 0h1m17 0h1m-40 1h1m4 0h1m9 0h1m14 0h1m-33 1h1m1 0h1m1 0h1m1 0h1m1 0h1m1 0h1m1 0h1m4 0h1m2 0h1m10 0h1m-26 1h1m1 0h1m10 0h1m14 0h1m-43 1h1m3 0h1m12 0h1m2 0h1m1 0h1m3 0h1m1 0h1m1 0h1m2 0h1m2 0h1m3 0h1m5 0h1m-40 1h2m3 0h2m3 0h1m2 0h1m1 0h2m5 0h2m1 0h1m1 0h1m3 0h1m5 0h1m-41 1h1m4 0h2m1 0h1m2 0h1m6 0h1m11 0h1m13 0h1m-44 1h1m5 0h2m1 0h1m5 0h1m1 0h1m2 0h1m6 0h1m1 0h1m2 0h1m-30 1h1m1 0h1m3 0h1m3 0h2m2 0h1m8 0h1m5 0h1m-28 1h2m1 0h2m3 0h3m1 0h1m4 0h4m4 0h1m4 0h1m1 0h1m-33 1h1m1 0h1m10 0h2m3 0h1m4 0h1m4 0h1m2 0h1m-29 1h1m4 0h1m4 0h1m1 0h1m2 0h1m5 0h1m2 0h1m2 0h1m4 0h2m-34 1h1m3 0h1m1 0h1m1 0h4m1 0h5m3 0h1m1 0h2m7 0h1m1 0h1m3 0h1m-40 1h1m1 0h1m1 0h1m3 0h1m1 0h2m3 0h3m1 0h1m2 0h1m3 0h2m4 0h1m2 0h2m-40 1h1m2 0h1m2 0h1m1 0h1m2 0h2m1 0h1m2 0h3m5 0h1m1 0h1m1 0h1m6 0h1m3 0h1m2 0h2m-49 1h2m1 0h1m1 0h1m1 0h3m1 0h1m1 0h2m1 0h1m5 0h3m7 0h1m10 0h1m-47 1h1m9 0h1m3 0h2m1 0h3m6 0h1m4 0h2m3 0h1m2 0h1m1 0h2m3 0h1m10 0h1m-56 1h1m4 0h1m4 0h1m1 0h2m1 0h2m1 0h2m3 0h1m3 0h1m1 0h1m3 0h1m2 0h1m15 0h1m-63 1h1m11 0h1m2 0h1m2 0h2m1 0h1m1 0h1m3 0h2m2 0h3m2 0h2m3 0h2m1 0h1m3 0h1m2 0h1m-48 1h1m4 0h1m1 0h1m1 0h2m2 0h2m1 0h2m3 0h1m2 0h1m2 0h3m2 0h2m2 0h1m4 0h1m3 0h1m5 0h1m-54 1h1m8 0h1m3 0h1m4 0h1m2 0h1m1 0h7m1 0h4m1 0h5m1 0h1m2 0h1m2 0h2m-55 1h1m8 0h1m1 0h3m1 0h2m1 0h1m1 0h2m1 0h2m1 0h2m1 0h1m1 0h2m1 0h2m1 0h1m1 0h2m2 0h2m1 0h1m1 0h1m6 0h2m-55 1h1m2 0h1m3 0h4m1 0h3m1 0h2m6 0h1m1 0h1m1 0h3m3 0h1m1 0h1m1 0h1m1 0h2m4 0h1m1 0h1m1 0h1m-53 1h1m4 0h2m1 0h1m2 0h1m3 0h1m2 0h1m1 0h1m1 0h1m2 0h1m4 0h2m6 0h2m1 0h1m2 0h2m8 0h1m-57 1h1m2 0h2m1 0h1m1 0h1m1 0h3m1 0h1m1 0h2m1 0h1m2 0h3m1 0h2m2 0h2m2 0h4m2 0h1m2 0h1m1 0h1m2 0h1m5 0h2m-54 1h1m2 0h3m1 0h1m2 0h2m1 0h5m1 0h1m1 0h1m2 0h1m1 0h1m1 0h2m2 0h3m1 0h1m1 0h2m7 0h1m1 0h1m-55 1h1m1 0h1m1 0h1m3 0h3m2 0h4m1 0h1m1 0h1m1 0h3m1 0h1m1 0h1m3 0h11m5 0h1m-46 1h1m2 0h1m1 0h6m2 0h3m3 0h1m2 0h1m2 0h3m1 0h1m3 0h2m1 0h1m2 0h1m2 0h2m10 0h1m-52 1h5m1 0h1m1 0h4m1 0h1m1 0h4m2 0h2m1 0h1m1 0h1m1 0h1m2 0h1m4 0h1m2 0h1m-41 1h3m1 0h9m1 0h1m3 0h4m1 0h1m1 0h3m1 0h1m3 0h2m4 0h1m4 0h2m4 0h2m-63 1h1m5 0h2m1 0h1m1 0h6m1 0h2m1 0h4m2 0h2m1 0h3m3 0h1m5 0h2m8 0h1m1 0h1m6 0h1m-54 1h3m1 0h5m1 0h8m1 0h1m3 0h1m2 0h1m1 0h2m3 0h1m2 0h2m2 0h1m9 0h1m5 0h1m-65 1h1m6 0h2m1 0h8m1 0h1m2 0h4m3 0h3m6 0h1m1 0h1m1 0h1m3 0h2m7 0h1m1 0h1m-57 1h1m3 0h2m2 0h1m1 0h7m1 0h3m1 0h4m1 0h1m8 0h2m2 0h1m2 0h1m3 0h2m4 0h1m4 0h1m-57 1h1m2 0h6m1 0h8m1 0h4m6 0h1m3 0h1m6 0h1m4 0h1m-47 1h3m2 0h1m1 0h1m1 0h5m1 0h6m1 0h2m1 0h1m4 0h3m3 0h3m9 0h1m2 0h3m4 0h1m-59 1h1m2 0h1m1 0h5m1 0h4m1 0h5m1 0h2m11 0h1m2 0h1m7 0h1m-46 1h1m1 0h6m2 0h3m1 0h4m3 0h1m2 0h1m1 0h1m1 0h1m4 0h1m1 0h1m-35 1h4m1 0h5m2 0h3m1 0h1m1 0h4m15 0h1m1 0h2m2 0h1m-48 1h1m4 0h2m1 0h1m5 0h2m1 0h1m5 0h1m4 0h1m20 0h1m1 0h1m-52 1h1m2 0h1m4 0h3m1 0h5m3 0h1m12 0h1m-26 1h1m1 0h3m1 0h1m1 0h4m2 0h2m-20 1h1m2 0h1m1 0h1m3 0h2m3 0h2m1 0h1m1 0h1m-20 1h2m1 0h2m2 0h3m2 0h1m2 0h1m1 0h1m8 0h1m2 0h1m8 0h1m-38 1h2m5 0h1m2 0h2m2 0h1m1 0h1m2 0h1m-23 1h1m1 0h1m15 0h1m9 0h1m-29 1h3m8 0h1m3 0h1m10 0h2m-24 1h1m2 0h1m3 0h1m24 0h1m-26 2h1m16 0h1m-12 1h1m-20 1h1" stroke="#000"/></g><g fill="none" stroke-width="1" transform="scale(1.36) translate(0.0,0.5)"><path d="M81 58h1m8 1h1m1 0h1m-34 1h1m22 0h1m-7 2h1m-8 1h1m17 0h2m-25 1h1m6 0h2m14 0h1m12 0h1m-31 1h1m6 0h1m13 0h1m1 0h1m1 0h1m-42 1h1m3 0h1m7 0h2m8 0h1m1 0h1m5 0h1m2 0h1m17 0h1m-58 1h1m7 0h1m10 0h1m6 0h1m2 0h1m10 0h1m4 0h1m-45 1h1m6 0h1m3 0h1m10 0h1m4 0h1m3 0h2m7 0h2m10 0h1m-22 1h1m9 0h1m3 0h1m-42 1h1m1 0h1m35 0h1m4 0h1m2 0h1m4 0h1m-48 1h1m28 0h1m3 0h1m16 0h1m8 0h1m-42 1h1m5 0h1m-25 1h1m6 0h1m1 0h1m8 0h1m2 0h1m4 0h1m5 0h1m-42 1h1m4 0h1m12 0h2m8 0h1m4 0h2m2 0h1m2 0h1m8 0h2m-54 1h1m11 0h1m22 0h1m1 0h1m5 0h1m-3 1h1m3 0h1m-40 1h1m9 0h1m7 0h1m1 0h1m2 0h1m15 0h1m-35 1h2m3 0h1m19 0h1m1 0h1m10 0h1m4 0h1m2 0h1m-42 1h1m13 0h1m3 0h1m4 0h1m2 0h1m6 0h1m-35 1h1m12 0h1m6 0h2m3 0h1m-38 1h1m12 0h1m34 0h1m-15 1h1m6 0h1m2 0h1m-22 1h1m20 0h1m-26 1h1m1 0h1m2 0h1m28 0h1m-39 1h3m37 0h1m-43 1h1m5 0h1m1 0h1m18 0h1m38 0h1m-62 1h1m7 0h1m6 0h1m2 0h1m12 0h1m1 0h2m-34 1h1m24 0h1m-28 1h1m3 0h1m10 0h1m3 0h1m20 0h1m-39 1h1m13 0h1m5 0h1m3 0h1m9 0h1m-45 1h1m9 0h1m8 0h1m2 0h1m6 0h1m8 0h1m23 0h1m-51 1h1m7 0h1m20 0h1m3 0h1m6 0h1m22 0h1m-81 1h1m22 0h1m32 0h1m-40 1h1m1 0h1m7 0h1m1 0h1m1 0h2m1 0h1m1 0h1m6 0h1m4 0h1m-38 1h1m7 0h1m1 0h1m-8 1h1m3 0h1m4 0h1m4 0h1m5 0h1m2 0h1m5 0h1m3 0h1m-33 1h1m2 0h1m11 0h1m10 0h1m9 0h1m7 0h1m-56 1h1m3 0h1m2 0h3m14 0h1m4 0h1m12 0h1m2 0h1m-51 1h1m16 0h2m10 0h1m1 0h1m9 0h1m4 0h1m12 0h1m-48 1h1m12 0h1m8 0h1m7 0h1m4 0h1m-22 1h1m2 0h1m4 0h1m5 0h1m8 0h2m1 0h1m1 0h1m-47 1h2m15 0h1m3 0h1m6 0h1m2 0h1m4 0h1m-55 1h1m11 0h1m16 0h1m13 0h1m7 0h1m4 0h1m5 0h1m-43 1h1m4 0h1m1 0h1m2 0h1m6 0h1m2 0h1m3 0h1m4 0h1m8 0h1m1 0h1m10 0h1m1 0h1m-74 1h1m11 0h2m1 0h1m5 0h1m51 0h1m-46 1h1m3 0h3m-26 1h1m4 0h2m21 0h1m5 0h1m2 0h1m1 0h1m4 0h1m9 0h1m-57 1h1m8 0h1m4 0h1m11 0h1m3 0h2m3 0h1m19 0h1m4 0h1m1 0h1m-75 1h1m8 0h1m6 0h1m9 0h1m2 0h1m5 0h1m3 0h1m2 0h1m15 0h1m6 0h1m10 0h1m-76 1h1m23 0h1m8 0h2m6 0h2m-31 1h1m8 0h2m4 0h2m1 0h1m3 0h1m5 0h1m17 0h1m1 0h1m-47 1h2m9 0h1m7 0h1m6 0h1m2 0h1m6 0h1m2 0h1m3 0h1m9 0h1m-62 1h1m8 0h1m6 0h1m2 0h1m5 0h2m19 0h1m13 0h1m4 0h1m4 0h1m-67 1h1m4 0h1m2 0h1m6 0h2m9 0h1m22 0h1m6 0h1m5 0h1m8 0h1m-76 1h1m10 0h1m11 0h2m7 0h1m4 0h1m14 0h1m-42 1h1m18 0h1m7 0h1m1 0h1m2 0h1m1 0h1m-36 1h1m19 0h1m2 0h1m2 0h1m47 0h1m-85 1h1m21 0h1m24 0h1m1 0h1m10 0h1m13 0h1m-75 1h2m3 0h2m7 0h1m5 0h1m14 0h1m5 0h1m5 0h1m8 0h1m-39 1h1m2 0h1m9 0h1m4 0h1m2 0h1m8 0h1m-46 1h1m1 0h1m28 0h1m6 0h1m7 0h1m20 0h1m-53 1h1m20 0h2m19 0h1m2 0h1m-70 1h1m4 0h1m15 0h1m1 0h1m5 0h1m4 0h1m2 0h1m4 0h1m9 0h1m-57 1h1m2 0h1m1 0h2m22 0h1m1 0h1m13 0h1m6 0h1m1 0h1m-48 1h1m14 0h1m12 0h1m7 0h1m3 0h1m4 0h1m-50 1h1m9 0h1m38 0h1m3 0h1m-58 1h1m5 0h1m4 0h1m14 0h2m4 0h1m1 0h1m6 0h1m4 0h1m8 0h1m-52 1h1m1 0h1m25 0h1m27 0h1m-61 1h1m2 0h1m4 0h1m15 0h1m3 0h1m12 0h1m-41 1h1m5 0h1m6 0h1m5 0h1m2 0h1m13 0h2m2 0h1m4 0h1m-29 1h1m1 0h1m3 0h1m9 0h1m1 0h1m2 0h1m-41 1h1m2 0h1m3 0h1m8 0h4m2 0h1m2 0h1m4 0h1m3 0h1m2 0h1m-33 1h1m4 0h1m3 0h1m12 0h1m3 0h1m-32 1h1m7 0h1m10 0h2m6 0h1m-22 1h1m1 0h1m6 0h1m3 0h1m16 0h1m-18 1h1m8 0h1m10 0h1m6 0h1m3 0h1m-53 1h1m9 0h1m1 0h1m14 0h1m22 0h1m-49 1h1m16 0h2m9 0h1m12 0h1m2 0h1m-36 1h1m-10 1h1m15 0h1m-13 1h1m7 0h2m11 0h1m-7 1h1m2 0h1m16 1h1m-35 2h1m7 0h1m11 0h1m-23 4h1" stroke="#7a7a7a"/><path d="M89 58h1m7 2h1m-20 1h1m4 0h1m4 0h1m3 1h1m-20 1h1m6 0h2m10 0h2m2 0h1m6 0h1m-43 1h1m8 0h1m5 0h1m8 0h1m6 0h1m-27 1h1m5 0h2m2 0h1m4 0h1m16 0h1m4 0h1m-44 1h1m1 0h2m1 0h1m2 0h1m5 0h2m10 0h1m1 0h1m1 0h1m2 0h1m1 0h1m10 0h1m-46 1h1m6 0h1m20 0h1m-29 1h2m1 0h1m4 0h2m1 0h1m4 0h1m8 0h1m1 0h1m22 0h1m-59 1h2m7 0h1m3 0h1m4 0h2m1 0h1m10 0h1m1 0h1m12 0h2m-46 1h1m2 0h2m4 0h2m6 0h1m7 0h1m4 0h1m6 0h1m3 0h1m-37 1h1m1 0h1m1 0h2m5 0h1m1 0h1m2 0h1m17 0h1m-37 1h1m2 0h1m4 0h1m3 0h1m2 0h1m4 0h2m1 0h1m10 0h1m8 0h1m-48 1h1m3 0h1m3 0h1m7 0h1m2 0h1m2 0h1m2 0h1m3 0h1m1 0h2m4 0h2m2 0h1m-43 1h1m1 0h1m2 0h1m1 0h1m16 0h2m3 0h1m5 0h1m4 0h1m4 0h1m-51 1h1m1 0h1m4 0h1m3 0h1m13 0h1m1 0h2m3 0h1m5 0h1m2 0h1m3 0h1m5 0h1m-40 1h1m2 0h1m1 0h1m12 0h1m3 0h2m4 0h1m-41 1h1m6 0h1m2 0h1m10 0h1m6 0h1m5 0h1m2 0h1m-32 1h1m6 0h1m2 0h1m7 0h1m1 0h1m2 0h1m6 0h1m-34 1h1m3 0h1m3 0h1m2 0h1m6 0h4m11 0h1m3 0h1m2 0h1m3 0h1m11 0h1m4 0h1m-64 1h1m2 0h1m9 0h1m1 0h1m20 0h2m-24 1h1m2 0h3m3 0h1m6 0h2m5 0h1m11 0h1m-46 1h1m8 0h1m3 0h1m2 0h2m4 0h1m11 0h1m-23 1h2m7 0h1m12 0h1m10 0h1m6 0h1m-51 1h1m2 0h1m11 0h1m3 0h1m2 0h1m2 0h1m1 0h1m6 0h1m6 0h1m-31 1h2m1 0h3m1 0h1m7 0h1m1 0h1m1 0h1m2 0h1m3 0h1m4 0h1m1 0h1m-33 1h1m9 0h3m4 0h1m19 0h1m-58 1h1m23 0h1m6 0h2m2 0h1m1 0h1m4 0h1m5 0h1m-40 1h1m3 0h2m3 0h1m4 0h1m10 0h1m2 0h1m7 0h2m-46 1h1m5 0h1m14 0h2m4 0h2m19 0h1m-41 1h1m2 0h1m2 0h1m5 0h1m1 0h1m6 0h2m-16 1h1m3 0h1m2 0h1m3 0h1m2 0h1m2 0h2m13 0h1m9 0h1m-49 1h1m4 0h1m2 0h2m11 0h2m3 0h1m1 0h1m3 0h1m5 0h1m2 0h1m-39 1h1m9 0h1m1 0h2m2 0h1m1 0h1m4 0h2m2 0h1m1 0h2m7 0h2m-40 1h2m3 0h1m11 0h1m6 0h1m7 0h2m2 0h1m4 0h1m1 0h3m2 0h1m-51 1h1m1 0h2m9 0h1m2 0h1m9 0h3m4 0h1m5 0h2m1 0h2m3 0h1m1 0h1m1 0h1m-52 1h1m3 0h1m8 0h1m1 0h1m1 0h2m6 0h2m4 0h1m2 0h1m4 0h1m1 0h1m1 0h3m6 0h1m-63 1h1m10 0h1m2 0h1m1 0h1m6 0h1m1 0h1m6 0h1m2 0h1m1 0h1m1 0h1m7 0h3m16 0h1m-68 1h1m9 0h2m12 0h2m1 0h1m3 0h1m1 0h2m3 0h1m8 0h3m1 0h1m5 0h1m1 0h1m1 0h1m-52 1h1m4 0h1m8 0h1m12 0h1m3 0h2m4 0h1m4 0h1m10 0h1m-62 1h1m2 0h1m4 0h1m3 0h1m3 0h1m1 0h2m2 0h3m7 0h1m4 0h2m3 0h1m9 0h1m3 0h1m1 0h1m2 0h1m8 0h1m6 0h1m-92 1h1m17 0h1m5 0h1m2 0h1m7 0h1m1 0h1m12 0h3m6 0h1m8 0h1m6 0h1m-57 1h1m7 0h1m2 0h3m3 0h1m4 0h1m8 0h1m1 0h2m2 0h1m13 0h1m-53 1h1m5 0h1m1 0h3m13 0h1m11 0h1m2 0h1m1 0h1m11 0h1m2 0h1m11 0h1m-54 1h1m2 0h1m1 0h1m1 0h1m38 0h1m-55 1h1m3 0h2m1 0h1m1 0h1m3 0h1m3 0h1m7 0h2m7 0h2m12 0h1m-69 1h1m11 0h2m2 0h1m4 0h3m3 0h1m19 0h1m2 0h2m1 0h1m5 0h1m1 0h1m7 0h1m-68 1h1m4 0h2m8 0h1m3 0h1m2 0h1m6 0h1m10 0h1m2 0h1m4 0h3m2 0h2m3 0h1m1 0h1m5 0h1m-77 1h1m17 0h1m4 0h1m8 0h1m2 0h1m16 0h2m3 0h1m7 0h1m7 0h1m-64 1h1m2 0h1m3 0h2m4 0h1m1 0h3m5 0h2m1 0h1m4 0h1m12 0h1m4 0h2m1 0h1m3 0h1m2 0h1m19 0h1m-77 1h2m5 0h2m2 0h1m15 0h1m7 0h1m7 0h1m4 0h2m4 0h1m7 0h1m-65 1h1m6 0h1m1 0h3m1 0h1m4 0h1m5 0h1m10 0h1m3 0h1m3 0h1m2 0h1m7 0h1m2 0h3m6 0h1m-77 1h1m13 0h1m6 0h5m5 0h2m6 0h1m2 0h1m15 0h1m2 0h1m-39 1h1m6 0h1m1 0h1m6 0h1m3 0h1m2 0h1m1 0h1m7 0h4m5 0h2m-67 1h1m2 0h1m6 0h1m3 0h1m9 0h1m8 0h1m7 0h1m5 0h1m8 0h2m1 0h2m3 0h2m-58 1h1m5 0h1m2 0h1m5 0h2m11 0h1m1 0h1m5 0h1m2 0h1m2 0h1m1 0h1m1 0h1m1 0h2m1 0h1m6 0h1m4 0h1m-71 1h1m4 0h1m2 0h1m16 0h2m5 0h2m5 0h1m10 0h1m1 0h1m4 0h1m1 0h2m2 0h1m-57 1h2m13 0h1m8 0h1m2 0h1m1 0h2m7 0h1m4 0h2m2 0h1m3 0h1m4 0h1m2 0h2m-73 1h1m2 0h1m2 0h1m22 0h1m3 0h1m3 0h1m2 0h3m2 0h1m6 0h1m3 0h2m23 0h1m-75 1h1m8 0h1m7 0h1m1 0h1m7 0h1m3 0h5m15 0h2m1 0h1m1 0h1m8 0h1m16 0h1m-90 1h1m2 0h1m12 0h1m1 0h1m5 0h1m3 0h1m4 0h1m4 0h1m1 0h2m9 0h1m10 0h1m3 0h1m-60 1h1m2 0h1m1 0h1m19 0h1m1 0h3m4 0h1m8 0h1m9 0h1m4 0h1m6 0h1m-70 1h1m2 0h2m10 0h1m7 0h1m6 0h2m8 0h1m6 0h1m26 0h1m-68 1h1m4 0h1m15 0h2m9 0h1m13 0h1m1 0h1m4 0h1m-62 1h1m4 0h1m5 0h1m4 0h1m7 0h1m3 0h1m5 0h1m4 0h1m5 0h1m17 0h1m-69 1h1m7 0h1m1 0h1m4 0h1m4 0h2m5 0h1m2 0h1m3 0h2m1 0h4m3 0h1m3 0h1m2 0h2m1 0h1m8 0h1m5 0h1m-60 1h1m4 0h1m5 0h1m2 0h1m1 0h1m7 0h1m2 0h1m6 0h2m1 0h1m3 0h1m16 0h1m13 0h1m-76 1h2m3 0h1m4 0h1m3 0h1m2 0h1m1 0h1m9 0h1m5 0h1m4 0h1m-43 1h1m2 0h1m5 0h1m3 0h1m13 0h1m2 0h1m6 0h2m1 0h1m5 0h1m1 0h1m5 0h2m8 0h2m-67 1h1m19 0h1m9 0h2m2 0h1m1 0h3m1 0h1m6 0h2m-37 1h1m12 0h1m5 0h1m8 0h1m-42 1h1m3 0h1m4 0h1m3 0h1m1 0h1m8 0h1m2 0h1m3 0h1m11 0h1m7 0h1m1 0h1m6 0h1m30 0h1m-110 1h1m19 0h1m4 0h1m19 0h1m6 0h1m5 0h1m3 0h1m4 0h1m8 0h1m3 0h1m-53 1h1m1 0h3m8 0h1m3 0h1m1 0h1m-25 1h1m4 0h2m3 0h5m2 0h1m8 0h1m2 0h1m3 0h1m15 0h1m-43 1h1m2 0h1m1 0h1m11 0h1m1 0h1m3 0h1m2 0h1m13 0h1m1 0h1m2 0h1m-60 1h1m7 0h1m2 0h1m2 0h1m9 0h1m2 0h1m5 0h1m-18 1h1m1 0h1m5 0h2m8 0h1m2 0h1m11 0h1m-34 1h1m10 0h2m4 0h1m11 0h1m-42 1h1m1 0h1m6 0h1m3 0h1m1 0h1m5 0h1m9 0h2m2 0h1m-31 1h1m4 0h1m16 0h1m-15 1h1m4 0h1m-13 1h1m26 0h1m-25 1h1m14 0h1m1 0h1m-33 1h1m46 0h1m-31 1h1m17 2h1m-15 3h1" stroke="#2a2a2a"/><path d="M89 62h1m-1 2h1m-23 1h1m14 0h1m3 0h1m-17 1h1m1 0h1m6 0h1m11 0h2m-33 1h1m1 0h2m1 0h1m4 0h2m1 0h1m4 0h1m1 0h1m1 0h1m12 0h1m-39 1h1m5 0h1m2 0h1m6 0h3m20 0h1m-39 1h4m1 0h3m1 0h2m1 0h1m2 0h1m1 0h3m1 0h1m3 0h2m1 0h1m4 0h2m-36 1h2m2 0h4m2 0h3m1 0h2m2 0h2m1 0h1m3 0h3m5 0h1m-32 1h2m1 0h1m1 0h1m2 0h5m1 0h1m1 0h2m2 0h3m1 0h3m1 0h1m4 0h1m3 0h1m-45 1h1m2 0h1m1 0h2m2 0h1m1 0h4m1 0h3m2 0h1m2 0h3m4 0h2m3 0h2m-34 1h1m3 0h3m2 0h1m1 0h4m1 0h2m2 0h1m2 0h1m5 0h1m2 0h1m14 0h1m-47 1h2m1 0h1m1 0h4m2 0h8m1 0h1m2 0h1m3 0h1m2 0h1m-27 1h9m1 0h3m4 0h2m3 0h1m-27 1h2m1 0h1m1 0h2m1 0h1m1 0h6m1 0h2m1 0h2m1 0h1m6 0h1m-31 1h2m3 0h1m2 0h4m3 0h2m2 0h1m2 0h1m2 0h1m1 0h2m-28 1h1m1 0h1m2 0h2m6 0h1m2 0h1m-11 1h1m2 0h1m10 0h1m7 0h1m-28 1h1m1 0h1m7 0h2m5 0h1m1 0h1m-7 1h1m1 0h1m2 0h2m3 0h1m-14 1h1m2 0h2m5 0h2m6 0h1m-18 1h1m2 0h1m7 0h1m1 0h1m5 0h1m-25 1h1m7 0h1m3 0h1m-1 1h1m3 0h1m3 0h1m-21 1h1m6 0h1m1 0h1m8 0h1m3 0h1m-17 1h1m1 0h1m1 0h1m1 0h2m19 0h1m-35 1h1m4 0h1m2 0h1m1 0h1m1 0h3m1 0h1m33 0h1m-48 1h1m4 0h1m1 0h1m4 0h1m7 0h1m-15 1h1m1 0h1m1 0h1m-1 1h1m2 0h1m3 0h1m3 0h1m4 0h1m-19 1h1m5 0h2m-17 1h1m9 0h1m1 0h1m1 0h1m15 0h1m-32 1h1m2 0h1m5 0h1m2 0h1m-14 1h1m1 0h1m10 0h2m2 0h2m1 0h1m9 0h1m-30 1h1m3 0h1m3 0h1m4 0h2m1 0h1m19 0h1m-33 1h1m1 0h1m1 0h1m2 0h2m7 0h1m13 0h2m-34 1h5m6 0h1m4 0h1m7 0h1m2 0h1m8 0h1m-23 1h1m1 0h1m10 0h1m-38 1h1m6 0h2m1 0h1m7 0h1m2 0h1m1 0h2m1 0h2m1 0h1m2 0h2m5 0h1m3 0h1m-40 1h1m3 0h2m1 0h1m1 0h1m1 0h1m1 0h1m1 0h1m1 0h2m9 0h1m2 0h2m5 0h1m7 0h1m-43 1h1m7 0h1m1 0h1m3 0h1m18 0h1m2 0h1m1 0h1m-37 1h1m1 0h1m1 0h3m1 0h2m3 0h3m2 0h1m2 0h1m9 0h1m13 0h1m-56 1h1m1 0h1m4 0h2m4 0h1m6 0h1m1 0h1m4 0h1m3 0h2m1 0h2m7 0h1m7 0h1m-40 1h1m1 0h2m2 0h3m1 0h2m1 0h2m1 0h1m2 0h6m17 0h1m-52 1h2m4 0h2m2 0h3m3 0h7m1 0h2m3 0h2m8 0h1m1 0h1m3 0h1m-53 1h2m6 0h1m2 0h1m2 0h5m3 0h1m1 0h1m1 0h4m2 0h1m2 0h1m11 0h1m1 0h1m-51 1h1m7 0h1m6 0h1m3 0h3m1 0h3m2 0h1m1 0h1m1 0h1m2 0h2m4 0h1m1 0h1m1 0h1m14 0h1m-60 1h1m3 0h1m5 0h2m3 0h1m1 0h1m1 0h1m3 0h2m1 0h5m1 0h1m2 0h3m6 0h1m5 0h1m-53 1h2m3 0h1m1 0h3m1 0h1m1 0h3m2 0h1m2 0h1m1 0h3m3 0h1m1 0h3m1 0h1m1 0h1m2 0h3m2 0h2m7 0h1m-59 1h1m2 0h1m5 0h1m3 0h2m1 0h1m2 0h1m2 0h2m2 0h2m1 0h1m1 0h1m2 0h1m7 0h1m1 0h4m5 0h1m-54 1h1m5 0h2m5 0h2m5 0h1m3 0h2m1 0h2m2 0h2m1 0h5m2 0h2m1 0h1m4 0h2m1 0h2m-55 1h4m3 0h2m1 0h1m6 0h1m1 0h1m1 0h1m2 0h3m1 0h2m2 0h2m5 0h2m7 0h2m5 0h1m-61 1h1m7 0h1m1 0h1m1 0h2m2 0h1m1 0h2m3 0h3m1 0h2m1 0h1m2 0h1m1 0h5m1 0h2m1 0h1m1 0h3m2 0h1m4 0h1m3 0h2m8 0h1m-66 1h1m2 0h2m1 0h2m5 0h1m1 0h3m1 0h1m2 0h1m2 0h1m1 0h2m1 0h1m2 0h1m2 0h2m1 0h1m3 0h1m4 0h1m1 0h1m1 0h1m-58 1h1m2 0h1m1 0h1m1 0h1m3 0h2m1 0h5m2 0h1m1 0h2m3 0h4m2 0h2m1 0h2m2 0h1m1 0h1m8 0h1m-53 1h1m2 0h1m1 0h1m1 0h5m1 0h3m1 0h2m1 0h3m1 0h1m4 0h1m3 0h1m2 0h2m2 0h4m2 0h2m-45 1h3m1 0h11m1 0h3m1 0h1m3 0h2m3 0h2m1 0h2m1 0h2m3 0h2m2 0h2m1 0h1m2 0h4m-56 1h1m4 0h1m2 0h4m1 0h1m2 0h1m1 0h3m4 0h1m12 0h1m1 0h1m2 0h1m1 0h1m10 0h1m-61 1h1m4 0h2m2 0h1m1 0h5m1 0h3m1 0h1m2 0h1m2 0h3m1 0h1m2 0h2m1 0h4m1 0h1m4 0h2m3 0h1m3 0h1m11 0h1m-68 1h1m3 0h1m1 0h1m1 0h1m2 0h5m1 0h6m1 0h1m3 0h1m2 0h1m1 0h2m1 0h1m2 0h1m4 0h1m1 0h3m1 0h1m1 0h1m-52 1h1m2 0h5m1 0h7m1 0h1m1 0h1m5 0h2m1 0h5m1 0h2m2 0h1m10 0h1m3 0h1m-55 1h1m1 0h1m1 0h2m1 0h4m1 0h4m2 0h1m1 0h1m4 0h2m4 0h1m2 0h1m2 0h1m1 0h1m3 0h2m-42 1h1m1 0h4m1 0h7m1 0h1m1 0h1m1 0h1m1 0h1m1 0h1m2 0h2m3 0h1m1 0h1m3 0h1m10 0h1m-50 1h1m2 0h3m2 0h5m2 0h1m2 0h2m2 0h1m24 0h1m-51 1h3m3 0h2m1 0h1m1 0h2m1 0h1m1 0h1m1 0h5m1 0h1m2 0h1m3 0h1m7 0h1m1 0h1m3 0h1m-47 1h1m4 0h1m2 0h3m2 0h1m1 0h1m1 0h4m18 0h1m4 0h2m-44 1h2m1 0h2m2 0h4m1 0h5m1 0h1m2 0h2m1 0h1m1 0h1m2 0h1m-35 1h1m3 0h1m2 0h6m2 0h2m1 0h2m10 0h1m1 0h1m-33 1h2m2 0h1m2 0h1m2 0h2m1 0h4m2 0h2m3 0h1m2 0h1m-24 1h1m2 0h2m1 0h1m1 0h4m-9 1h1m1 0h4m5 0h1m13 0h1m-35 1h1m1 0h1m2 0h1m8 0h7m1 0h2m-14 1h2m13 0h1m4 0h1m-25 1h1m2 0h1m6 0h1m5 0h1m1 0h1m20 0h1m-33 1h1m2 0h1m2 0h1m-10 1h1m7 0h1m-8 2h1m0 1h1m13 0h1m-12 1h1m-8 1h1m10 0h1" stroke="#000"/></g><path d="M0 0H205.5V205.5" fill="none" stroke="#2a2a2a" stroke-width="1.45"/><path d="M0 0V205.5" fill="none" stroke="#666" stroke-width="1.3"/><path d="M-6 205.5H205.5" fill="none" stroke="#111" stroke-width="1.5"/><path d="M101.4 0V205.5" fill="none" stroke="#111" stroke-width="1.7"/><path d="M0 126.2H205.5" fill="none" stroke="#111" stroke-width="1.5"/><path d="M0.0 205.5v5.5M39.1 205.5v5.5M78.2 205.5v5.5M117.3 205.5v5.5M156.4 205.5v5.5M195.5 205.5v5.5M0 205.0h-6.5M0 165.7h-6.5M0 126.4h-6.5M0 87.1h-6.5M0 47.8h-6.5M0 8.5h-6.5" fill="none" stroke="#111" stroke-width="1.4"/><path d="M11.8 205.5v2.8M18.7 205.5v2.8M23.5 205.5v2.8M27.3 205.5v2.8M30.4 205.5v2.8M33.0 205.5v2.8M35.3 205.5v2.8M37.3 205.5v2.8M50.9 205.5v2.8M57.8 205.5v2.8M62.6 205.5v2.8M66.4 205.5v2.8M69.5 205.5v2.8M72.1 205.5v2.8M74.4 205.5v2.8M76.4 205.5v2.8M90.0 205.5v2.8M96.9 205.5v2.8M101.7 205.5v2.8M105.5 205.5v2.8M108.6 205.5v2.8M111.2 205.5v2.8M113.5 205.5v2.8M115.5 205.5v2.8M129.1 205.5v2.8M136.0 205.5v2.8M140.8 205.5v2.8M144.6 205.5v2.8M147.7 205.5v2.8M150.3 205.5v2.8M152.6 205.5v2.8M154.6 205.5v2.8M168.2 205.5v2.8M175.1 205.5v2.8M179.9 205.5v2.8M183.7 205.5v2.8M186.8 205.5v2.8M189.4 205.5v2.8M191.7 205.5v2.8M193.7 205.5v2.8M0 193.2h-3.5M0 186.2h-3.5M0 181.3h-3.5M0 177.5h-3.5M0 174.4h-3.5M0 171.8h-3.5M0 169.5h-3.5M0 167.5h-3.5M0 153.9h-3.5M0 146.9h-3.5M0 142.0h-3.5M0 138.2h-3.5M0 135.1h-3.5M0 132.5h-3.5M0 130.2h-3.5M0 128.2h-3.5M0 114.6h-3.5M0 107.6h-3.5M0 102.7h-3.5M0 98.9h-3.5M0 95.8h-3.5M0 93.2h-3.5M0 90.9h-3.5M0 88.9h-3.5M0 75.3h-3.5M0 68.3h-3.5M0 63.4h-3.5M0 59.6h-3.5M0 56.5h-3.5M0 53.9h-3.5M0 51.6h-3.5M0 49.6h-3.5M0 36.0h-3.5M0 29.0h-3.5M0 24.1h-3.5M0 20.3h-3.5M0 17.2h-3.5M0 14.6h-3.5M0 12.3h-3.5M0 10.3h-3.5" fill="none" stroke="#333" stroke-width="1.05"/><g font-family="'Liberation Sans', sans-serif" fill="#111" stroke="#111" stroke-width="0.3"><text transform="translate(3.6 222.9) scale(1 1.04)" font-size="7.4">10</text><text transform="translate(11.3 218.6) scale(1 1.04)" font-size="6.8">2</text><text transform="translate(39.5 222.9) scale(1 1.04)" font-size="7.4">10</text><text transform="translate(47.2 218.6) scale(1 1.04)" font-size="6.8">3</text><text transform="translate(78.6 222.9) scale(1 1.04)" font-size="7.4">10</text><text transform="translate(86.3 218.6) scale(1 1.04)" font-size="6.8">4</text><text transform="translate(117.7 222.9) scale(1 1.04)" font-size="7.4">10</text><text transform="translate(125.4 218.6) scale(1 1.04)" font-size="6.8">5</text><text transform="translate(156.8 222.9) scale(1 1.04)" font-size="7.4">10</text><text transform="translate(164.5 218.6) scale(1 1.04)" font-size="6.8">6</text><text transform="translate(195.9 222.9) scale(1 1.04)" font-size="7.4">10</text><text transform="translate(203.6 218.6) scale(1 1.04)" font-size="6.8">7</text><text transform="translate(-20.8 204.8) scale(1 1.04)" font-size="7.4">10</text><text transform="translate(-13.0 200.4) scale(1 1.04)" font-size="6.8">2</text><text transform="translate(-20.8 170.5) scale(1 1.04)" font-size="7.4">10</text><text transform="translate(-13.0 166.1) scale(1 1.04)" font-size="6.8">3</text><text transform="translate(-20.8 131.2) scale(1 1.04)" font-size="7.4">10</text><text transform="translate(-13.0 126.8) scale(1 1.04)" font-size="6.8">4</text><text transform="translate(-20.8 91.9) scale(1 1.04)" font-size="7.4">10</text><text transform="translate(-13.0 87.5) scale(1 1.04)" font-size="6.8">5</text><text transform="translate(-20.8 52.6) scale(1 1.04)" font-size="7.4">10</text><text transform="translate(-13.0 48.2) scale(1 1.04)" font-size="6.8">6</text><text transform="translate(-20.8 13.3) scale(1 1.04)" font-size="7.4">10</text><text transform="translate(-13.0 8.9) scale(1 1.04)" font-size="6.8">7</text></g><g font-family="'Liberation Sans', sans-serif" fill="#141414" stroke="#141414" stroke-width="0.55"><text transform="translate(6.9 34.4) scale(1 1.04)" font-size="30.6">25</text><text transform="translate(193.3 34.4) scale(1 1.04)" font-size="30.6" text-anchor="end">13</text><text transform="translate(6.9 197.8) scale(1 1.04)" font-size="30.6">44</text><text transform="translate(193.3 197.8) scale(1 1.04)" font-size="30.6" text-anchor="end">19</text></g></g>
<g transform="translate(111.0,613.0)"><g fill="none" stroke-width="1" transform="scale(1.36) translate(-0.5,0.0)"><path d="M99 31h1m-8 6h1m17 3h1m3 0h1m-21 1h1m-4 1h1m8 0h1m-11 1h1m7 0h1m12 0h1m-23 1h1m16 0h1m-6 1h1m-41 1h1m29 0h1m-14 1h1m18 0h1m-7 1h1m4 0h1m1 0h1m3 1h1m2 0h1m9 1h1m-26 1h1m4 1h1m-55 1h1m33 0h1m29 0h2m9 0h1m-24 1h1m6 0h1m5 0h1m-39 1h1m17 0h1m16 0h1m-6 1h1m-45 1h1m10 0h1m9 0h1m22 0h1m-36 1h1m24 0h1m14 0h1m5 0h1m-57 1h1m38 0h2m9 0h1m8 0h1m-17 1h1m10 0h1m8 0h1m-56 1h1m28 0h1m2 0h1m3 0h1m5 0h1m-87 1h1m33 0h1m15 0h1m17 0h1m9 0h1m1 0h2m2 0h1m4 0h1m2 0h1m13 0h1m-87 1h1m30 0h1m11 0h1m15 0h1m4 0h1m-73 1h1m17 0h1m7 0h1m36 0h1m10 0h1m-80 1h1m27 0h1m29 0h1m7 0h1m6 1h1m5 0h1m3 0h1m2 0h1m4 0h1m-64 1h1m35 0h2m10 0h1m-65 1h1m40 0h1m21 0h2m2 0h1m3 0h1m-31 1h2m14 0h1m4 0h1m10 0h1m1 0h1m15 0h1m-65 1h1m8 0h1m10 0h1m5 0h1m27 0h1m-86 1h1m63 0h1m1 0h1m1 0h1m2 0h1m5 0h1m-29 1h1m17 0h1m10 0h1m2 0h1m-66 1h1m13 0h1m28 0h1m3 0h1m3 0h2m-62 1h1m10 0h1m2 0h1m11 0h1m27 0h1m7 0h1m6 0h1m1 0h1m-59 1h1m25 0h1m8 0h1m16 0h1m2 0h2m-89 1h1m16 0h1m5 0h1m2 0h1m37 0h1m1 0h1m4 0h1m10 0h2m-49 1h1m38 0h1m7 0h1m4 0h1m2 0h1m-19 1h1m6 0h1m1 0h1m6 0h1m-30 1h1m2 0h1m1 0h2m7 0h1m1 0h1m1 0h1m1 0h1m2 0h2m-35 1h1m7 0h1m11 0h1m-21 1h1m7 0h1m7 0h1m6 0h2m18 0h1m-8 1h1m7 0h1m-108 1h1m17 0h1m27 0h1m20 0h1m31 0h2m-101 1h1m5 0h1m41 0h1m25 0h1m25 0h1m4 0h1m7 0h1m-69 1h1m2 0h1m30 0h2m2 0h1m17 0h1m-24 1h1m4 0h1m9 0h1m2 0h1m3 0h1m-31 1h1m8 0h1m7 0h1m3 0h1m-20 1h1m5 0h1m19 0h1m-33 1h1m12 0h1m17 0h1m1 0h1m-29 1h1m26 0h1m-64 1h1m9 0h1m2 0h1m1 0h1m9 0h1m9 0h1m3 0h1m7 0h1m9 0h1m7 0h1m-20 1h1m31 0h1m-112 1h1m68 0h1m6 0h1m2 0h1m3 0h1m11 0h1m-93 1h1m59 0h1m2 0h1m6 0h1m6 0h1m9 0h1m-91 1h1m51 0h1m7 0h1m11 0h1m3 0h2m5 0h1m2 0h1m2 0h1m5 0h1m-39 1h1m22 0h1m3 0h1m10 0h1m8 0h2m-77 1h1m36 0h1m12 0h1m6 0h1m9 0h1m8 0h1m-47 1h1m29 0h1m6 0h1m-50 1h1m20 0h1m1 0h1m3 0h2m4 0h1m2 0h1m-58 1h1m43 0h1m15 0h1m4 0h1m3 0h1m-33 1h1m1 0h2m6 0h1m10 0h1m4 0h1m-42 1h1m1 0h1m11 0h1m7 0h1m12 0h1m-47 1h1m18 0h1m7 0h1m15 0h1m-11 1h2m6 0h1m-41 1h1m22 0h1m27 0h1m-57 1h1m29 0h1m10 0h2m-27 1h1m12 0h1m6 0h1m4 0h1m-37 1h1m13 0h1m15 0h1m-25 1h1m40 0h1m7 0h1m-36 1h1m17 0h1m23 0h1m-100 1h1m27 0h1m19 0h1m2 0h1m2 0h2m15 0h1m5 0h1m7 0h1m16 0h1m-56 1h1m10 0h2m17 0h1m4 0h1m5 0h1m-45 1h1m7 0h1m1 0h1m1 0h1m15 0h2m3 0h1m1 0h1m21 0h1m-99 1h1m32 0h1m6 0h1m6 0h1m10 0h1m4 0h1m2 0h1m12 0h1m-25 1h2m4 0h2m4 0h1m11 0h1m7 0h1m-63 1h2m21 0h1m2 0h1m10 0h1m2 0h1m1 0h1m12 0h1m-92 1h1m35 0h1m10 0h1m7 0h1m3 0h1m7 0h1m1 0h1m8 0h1m24 0h1m3 0h1m-80 1h1m11 0h1m15 0h1m3 0h1m9 0h1m22 0h1m9 0h1m11 0h1m-64 1h2m1 0h1m3 0h1m3 0h1m1 0h1m1 0h1m1 0h1m10 0h1m3 0h1m2 0h1m-54 1h1m17 0h1m6 0h1m5 0h1m6 0h1m2 0h3m26 0h1m5 0h1m8 0h1m-87 1h1m15 0h1m11 0h1m2 0h1m3 0h1m9 0h1m1 0h1m25 0h1m10 0h1m-83 1h1m8 0h1m1 0h1m2 0h1m12 0h1m4 0h1m4 0h1m5 0h1m12 0h1m-44 1h2m15 0h1m-27 1h1m2 0h1m11 0h1m1 0h1m15 0h1m3 0h1m3 0h1m5 0h1m6 0h1m-61 1h1m4 0h1m5 0h1m3 0h1m5 0h1m2 0h1m7 0h1m7 0h3m1 0h1m2 0h1m-66 1h1m20 0h2m1 0h1m5 0h1m14 0h1m3 0h1m2 0h1m1 0h1m3 0h1m2 0h1m2 0h1m39 0h1m-91 1h1m3 0h1m2 0h1m4 0h1m4 0h1m32 0h2m28 0h1m-89 1h1m2 0h1m13 0h1m1 0h1m12 0h1m7 0h1m6 0h1m1 0h1m1 0h1m21 0h1m-70 1h2m9 0h1m11 0h1m3 0h1m4 0h1m39 0h1m3 0h1m-47 1h1m9 0h1m1 0h1m4 0h1m-40 1h1m2 0h1m1 0h1m1 0h1m2 0h1m12 0h1m7 0h1m6 0h1m2 0h1m30 0h1m-81 1h1m3 0h2m4 0h1m1 0h1m6 0h1m4 0h1m1 0h1m18 0h1m8 0h1m-47 1h1m19 0h1m3 0h1m5 0h1m5 0h1m22 0h1m-72 1h1m11 0h1m10 0h1m2 0h1m3 0h2m9 0h1m2 0h1m2 0h1m27 0h1m-72 1h1m1 0h1m60 0h2m-65 1h1m30 0h1m10 0h1m-48 1h1m43 0h1m-51 1h1m19 0h1m3 0h1m7 0h1m8 0h1m7 0h1m40 0h1m2 0h1m-82 1h1m6 0h2m14 0h1m6 0h1m3 0h1m9 0h1m2 0h1m-60 1h1m4 0h1m3 0h2m14 0h1m10 0h2m1 0h1m3 0h1m9 0h1m2 0h1m29 0h1m-67 1h2m21 0h2m3 0h1m17 0h1m5 0h1m-73 1h1m1 0h1m11 0h1m3 0h1m23 0h1m2 0h1m16 0h1m-68 1h1m33 0h1m1 0h1m2 0h1m1 0h1m-37 1h1m9 0h1m30 0h1m1 0h1m7 0h1m-46 1h1m1 0h2m6 0h1m7 0h1m4 0h1m21 0h1m-47 1h1m5 0h1m3 0h1m1 0h1m31 0h1m12 0h1m-43 1h1m7 0h1m22 0h1m-45 1h1m5 0h1m5 0h2m8 0h1m5 0h2m9 0h1m-41 1h1m5 0h1m7 0h1m26 0h1m4 0h1m-57 1h2m4 0h1m4 0h1m9 0h1m5 0h1m14 0h1" stroke="#7a7a7a"/><path d="M94 30h1m9 6h1m-11 1h1m10 0h1m-10 1h1m-10 1h1m15 1h1m-77 1h1m78 0h1m6 0h1m-68 1h1m60 0h1m-16 1h1m-30 1h1m30 0h1m-7 1h1m13 0h1m-61 1h1m11 0h1m44 0h1m-52 1h1m21 0h1m25 0h1m-5 1h1m13 0h1m-34 1h1m17 0h1m4 0h1m-22 1h1m15 0h1m5 0h1m4 0h1m6 0h1m1 0h1m-29 1h1m-52 1h1m55 0h1m8 0h1m3 0h1m2 0h1m1 0h1m11 0h1m-88 1h1m38 0h1m13 0h1m5 0h1m3 0h1m3 0h1m1 0h1m-57 1h1m41 0h1m7 0h1m2 0h2m14 0h1m-73 1h2m16 0h1m7 0h1m2 0h1m14 0h1m4 0h1m1 0h1m1 0h2m4 0h3m4 0h1m7 0h1m-25 1h2m2 0h1m13 0h1m-75 1h1m2 0h1m42 0h1m8 0h1m1 0h2m5 0h2m2 0h1m-96 1h1m22 0h1m35 0h1m12 0h1m18 0h1m1 0h1m-45 1h1m10 0h1m11 0h1m10 0h1m2 0h1m3 0h3m6 0h1m3 0h1m-51 1h1m29 0h1m2 0h1m9 0h1m4 0h1m-62 1h1m17 0h1m15 0h1m6 0h1m6 0h1m3 0h1m6 0h2m1 0h1m5 0h1m-76 1h2m14 0h1m3 0h1m3 0h1m9 0h1m4 0h1m6 0h1m1 0h1m1 0h1m1 0h1m8 0h1m2 0h1m-70 1h1m56 0h1m6 0h1m3 0h4m3 0h1m-70 1h1m35 0h1m9 0h1m8 0h1m8 0h1m1 0h2m4 0h1m4 0h1m-60 1h1m17 0h1m7 0h2m1 0h1m2 0h1m2 0h3m6 0h1m4 0h2m-110 1h1m49 0h1m22 0h1m6 0h1m18 0h2m-48 1h1m8 0h1m9 0h1m1 0h1m23 0h1m2 0h1m10 0h1m-101 1h1m15 0h1m44 0h1m8 0h1m10 0h5m6 0h2m2 0h1m4 0h2m-115 1h1m17 0h1m6 0h1m46 0h1m14 0h2m4 0h1m6 0h1m1 0h2m-67 1h1m31 0h1m15 0h1m10 0h1m5 0h2m1 0h1m4 0h1m30 0h1m-113 1h1m9 0h1m16 0h2m20 0h1m7 0h1m4 0h1m12 0h1m7 0h1m-95 1h1m17 0h1m5 0h1m4 0h1m36 0h1m4 0h1m1 0h2m6 0h1m-79 1h1m55 0h1m17 0h3m4 0h1m1 0h1m3 0h1m10 0h1m2 0h1m-108 1h1m15 0h1m52 0h1m3 0h1m2 0h1m4 0h1m1 0h1m13 0h1m3 0h1m-75 1h1m1 0h1m5 0h1m2 0h1m27 0h2m5 0h1m4 0h1m1 0h2m3 0h1m-15 1h1m2 0h1m2 0h1m1 0h1m4 0h1m3 0h2m4 0h1m-28 1h1m7 0h2m4 0h1m8 0h1m-46 1h1m4 0h1m8 0h1m21 0h1m4 0h1m17 0h1m-83 1h1m4 0h1m20 0h1m1 0h1m4 0h1m19 0h1m9 0h1m5 0h1m-83 1h1m12 0h1m5 0h1m11 0h1m23 0h1m5 0h1m8 0h2m4 0h1m3 0h1m6 0h1m-112 1h1m13 0h1m28 0h1m17 0h1m17 0h1m2 0h1m2 0h1m7 0h1m1 0h1m2 0h1m-65 1h1m1 0h1m13 0h1m20 0h1m1 0h1m6 0h1m4 0h2m5 0h1m1 0h1m3 0h1m11 0h1m-79 1h1m14 0h1m12 0h1m24 0h1m4 0h1m4 0h1m1 0h2m2 0h1m1 0h1m-83 1h1m8 0h1m11 0h2m7 0h1m6 0h1m21 0h1m4 0h1m1 0h1m4 0h1m1 0h1m5 0h1m6 0h1m-68 1h1m21 0h1m24 0h1m7 0h1m5 0h1m1 0h1m-73 1h1m13 0h1m5 0h1m20 0h1m9 0h1m7 0h1m8 0h2m1 0h1m-78 1h1m26 0h1m12 0h1m13 0h1m5 0h1m8 0h1m3 0h1m6 0h1m3 0h1m8 0h1m-119 1h1m16 0h1m31 0h1m5 0h1m9 0h1m6 0h1m9 0h1m2 0h2m4 0h2m1 0h1m3 0h1m6 0h1m-87 1h1m27 0h1m41 0h1m2 0h1m4 0h1m8 0h1m2 0h1m-94 1h1m11 0h1m28 0h1m11 0h1m16 0h1m3 0h1m2 0h2m4 0h2m3 0h1m4 0h1m-94 1h1m10 0h1m28 0h1m25 0h1m3 0h1m7 0h1m-46 1h1m2 0h1m23 0h2m5 0h1m5 0h1m2 0h2m7 0h1m1 0h1m11 0h1m5 0h1m-103 1h1m34 0h1m15 0h2m2 0h1m6 0h1m3 0h1m1 0h1m3 0h1m2 0h1m4 0h2m-75 1h1m3 0h1m22 0h1m10 0h3m15 0h1m7 0h1m2 0h2m4 0h2m-93 1h1m36 0h1m14 0h1m5 0h1m5 0h1m1 0h1m3 0h1m3 0h1m3 0h1m-61 1h1m29 0h2m11 0h1m4 0h1m2 0h1m1 0h1m1 0h1m1 0h1m5 0h2m8 0h1m-52 1h1m9 0h1m7 0h1m4 0h1m2 0h1m7 0h1m7 0h2m4 0h1m1 0h2m-40 1h1m8 0h2m1 0h1m9 0h4m4 0h1m2 0h1m-61 1h1m30 0h1m5 0h1m28 0h1m1 0h1m-52 1h1m29 0h1m2 0h1m2 0h1m4 0h1m12 0h1m4 0h1m-62 1h1m8 0h2m10 0h1m1 0h1m27 0h1m2 0h2m6 0h1m-70 1h1m22 0h1m8 0h1m4 0h1m16 0h1m-43 1h1m10 0h1m1 0h1m3 0h1m2 0h1m2 0h1m4 0h1m6 0h2m3 0h2m-86 1h1m33 0h1m3 0h1m5 0h1m7 0h1m1 0h3m1 0h4m9 0h1m2 0h2m3 0h3m3 0h1m2 0h1m-45 1h1m7 0h1m3 0h1m7 0h2m2 0h1m2 0h1m4 0h2m2 0h1m-36 1h1m2 0h2m3 0h3m1 0h1m1 0h2m6 0h2m7 0h2m3 0h1m1 0h1m23 0h1m-90 1h1m37 0h3m9 0h1m6 0h1m4 0h1m1 0h1m10 0h1m-51 1h1m1 0h1m2 0h1m3 0h1m10 0h1m3 0h1m3 0h1m2 0h1m3 0h1m10 0h1m-47 1h1m4 0h1m1 0h2m3 0h1m3 0h2m5 0h2m2 0h1m11 0h1m2 0h1m-38 1h1m2 0h1m2 0h1m3 0h1m1 0h1m2 0h2m2 0h2m1 0h1m6 0h1m2 0h1m-42 1h1m16 0h1m2 0h1m1 0h1m1 0h2m4 0h1m16 0h1m-47 1h1m2 0h1m4 0h4m17 0h1m1 0h2m11 0h1m8 0h1m-60 1h1m11 0h1m1 0h1m12 0h3m3 0h1m2 0h1m20 0h1m-49 1h1m14 0h2m4 0h1m7 0h1m6 0h1m14 0h2m1 0h1m6 0h1m-80 1h1m2 0h1m1 0h1m2 0h1m7 0h1m1 0h1m4 0h1m1 0h1m16 0h2m3 0h1m1 0h1m3 0h1m11 0h1m9 0h2m-64 1h1m6 0h2m9 0h1m2 0h2m5 0h1m6 0h2m2 0h1m23 0h1m-68 1h1m4 0h3m1 0h1m4 0h2m9 0h1m4 0h1m3 0h1m9 0h1m1 0h1m2 0h1m9 0h1m10 0h1m-69 1h1m4 0h1m2 0h1m1 0h1m1 0h1m1 0h1m5 0h2m9 0h1m3 0h1m6 0h1m4 0h1m-44 1h1m11 0h2m8 0h1m2 0h1m13 0h1m12 0h1m2 0h1m3 0h2m5 0h1m-73 1h1m6 0h1m3 0h1m11 0h3m4 0h1m13 0h2m12 0h1m5 0h1m-70 1h1m9 0h1m3 0h2m1 0h1m3 0h1m3 0h1m2 0h1m6 0h1m3 0h1m3 0h3m14 0h1m9 0h2m-71 1h1m2 0h1m2 0h1m1 0h1m6 0h1m1 0h1m3 0h1m7 0h1m2 0h1m1 0h1m31 0h1m-66 1h2m2 0h2m5 0h1m3 0h1m1 0h2m1 0h1m2 0h1m4 0h1m14 0h1m7 0h1m3 0h1m14 0h1m-81 1h1m5 0h1m8 0h1m1 0h1m4 0h1m12 0h1m4 0h1m8 0h1m19 0h1m2 0h1m-88 1h1m15 0h2m6 0h1m1 0h1m27 0h1m1 0h1m11 0h1m17 0h1m-83 1h1m4 0h1m2 0h1m3 0h1m1 0h1m9 0h1m10 0h1m2 0h1m13 0h2m13 0h1m8 0h2m-76 1h1m2 0h3m4 0h1m6 0h1m1 0h1m10 0h1m2 0h4m1 0h2m6 0h1m3 0h1m2 0h1m1 0h1m39 0h1m-106 1h1m17 0h1m4 0h1m12 0h1m9 0h1m1 0h1m3 0h1m1 0h2m4 0h1m8 0h1m2 0h1m3 0h1m5 0h1m15 0h1m-94 1h1m5 0h1m4 0h1m2 0h1m1 0h1m2 0h1m3 0h1m4 0h1m13 0h1m3 0h1m2 0h1m1 0h2m1 0h2m1 0h1m3 0h1m4 0h1m12 0h2m-77 1h1m8 0h1m3 0h1m14 0h1m1 0h2m2 0h1m4 0h1m1 0h1m4 0h1m4 0h1m7 0h1m11 0h1m6 0h1m3 0h1m5 0h1m-87 1h1m4 0h1m6 0h1m22 0h1m1 0h2m1 0h2m3 0h1m7 0h1m1 0h1m32 0h1m5 0h1m-81 1h1m20 0h2m1 0h1m2 0h1m1 0h1m2 0h1m8 0h1m7 0h1m9 0h1m3 0h1m13 0h1m-95 1h1m3 0h2m3 0h1m18 0h1m17 0h1m4 0h2m6 0h1m7 0h1m12 0h1m-83 1h1m4 0h1m5 0h1m11 0h1m1 0h1m18 0h1m5 0h1m3 0h1m7 0h1m-61 1h1m10 0h1m1 0h2m26 0h1m2 0h4m6 0h1m3 0h1m21 0h1m-92 1h1m11 0h5m5 0h2m4 0h1m21 0h1m5 0h2m3 0h1m1 0h1m-54 1h1m2 0h1m1 0h2m11 0h1m4 0h1m7 0h1m6 0h2m1 0h2m2 0h1m4 0h1m4 0h1m12 0h1m9 0h1m-81 1h2m4 0h3m1 0h2m1 0h1m27 0h1m6 0h1m15 0h1m-57 1h2m3 0h1m21 0h1m1 0h1m1 0h1m3 0h1m1 0h1m-44 1h1m9 0h1m1 0h1m1 0h1m1 0h1m7 0h1m6 0h1m2 0h1m11 0h1m3 0h1m-51 1h4m6 0h1m8 0h1m6 0h1m8 0h1m1 0h1m10 0h1m7 0h1m-60 1h1m3 0h2m2 0h1m-11 1h2m7 0h1m3 0h1m8 0h2m10 0h1m1 0h1m2 0h1m6 0h2m-49 1h1m2 0h1m2 0h1m3 0h2m3 0h1m1 0h1m1 0h1m1 0h1m2 0h1m8 0h1m1 0h1m3 0h1m1 0h1m7 0h1m-49 1h1m1 0h2m8 0h2m4 0h2m11 0h1m1 0h1m2 0h1m3 0h1m2 0h1m2 0h1m2 0h1m-57 1h1m15 0h1m1 0h1m5 0h1m3 0h1m2 0h1m1 0h1m3 0h1m5 0h1m7 0h3m4 0h1m-50 1h2m8 0h1m6 0h2m2 0h1m7 0h1m1 0h2m4 0h1m-45 1h1m14 0h1m6 0h1m1 0h1m4 0h1m1 0h1m7 0h1m-20 1h1m2 0h2m4 0h1m3 0h2m6 0h1m4 0h1m-49 1h1m1 0h2m4 0h1m3 0h1m4 0h1m11 0h1m5 0h1m2 0h2m1 0h3m7 0h1m2 0h1" stroke="#2a2a2a"/><path d="M93 48h1m5 1h1m1 0h1m-6 4h1m2 0h1m10 0h1m-14 3h1m4 1h1m1 1h1m-4 1h1m-10 1h1m7 0h1m2 0h1m2 0h1m1 0h1m-15 1h1m6 0h1m2 0h1m-1 1h1m-7 1h1m4 0h1m-20 1h1m13 0h1m8 0h1m-15 1h1m9 0h1m-25 1h1m12 0h1m2 1h2m-7 2h1m1 0h1m4 0h1m1 1h1m1 0h2m7 0h1m-43 1h1m25 0h1m2 0h1m1 0h1m10 0h1m-20 1h1m9 0h1m1 0h1m-12 1h2m7 0h1m2 0h1m-10 1h1m2 0h1m1 0h1m-59 1h1m52 0h1m2 0h1m1 0h1m-24 1h1m16 0h1m2 0h1m1 0h1m17 0h1m-31 1h1m5 0h1m5 0h1m-37 1h1m32 0h1m3 0h1m6 0h1m-18 1h1m7 0h1m6 0h1m-82 1h1m69 0h1m2 0h4m-17 1h1m15 0h1m3 0h1m-20 1h1m14 0h1m-6 1h1m5 0h1m-17 1h1m17 0h1m-21 1h1m3 0h1m3 0h1m3 1h2m4 1h1m-8 1h1m-4 1h2m1 0h3m-17 1h1m2 0h1m-3 1h1m10 1h1m3 0h1m1 0h1m-16 1h1m9 0h1m8 0h1m-35 1h1m13 0h1m6 0h1m12 0h1m-17 1h1m-2 1h1m13 0h1m-7 1h1m-13 1h1m14 0h1m4 0h1m-36 2h1m8 0h1m4 0h1m8 0h1m5 0h1m6 0h1m-26 1h1m7 0h1m2 0h1m-12 1h1m9 1h1m-12 1h2m-77 1h1m63 0h1m4 0h1m8 0h1m9 0h1m-18 1h1m3 0h1m2 0h1m-20 1h1m32 0h1m-14 1h1m2 0h1m-17 1h1m5 0h1m5 0h1m3 0h1m-13 1h1m9 0h1m1 0h1m10 0h1m-37 1h1m19 0h1m2 0h1m-16 1h1m6 0h2m2 0h1m2 0h1m11 0h1m-25 1h1m5 0h1m14 0h1m2 0h2m-32 1h1m14 0h1m-14 1h1m16 0h1m1 0h1m5 0h1m-26 1h1m8 0h1m-19 1h1m8 0h1m1 0h1m6 0h1m1 0h2m-22 1h1m3 0h1m4 0h1m3 0h1m3 0h1m1 0h1m7 0h1m-32 1h1m5 0h2m8 0h1m15 0h1m-37 1h2m7 0h2m3 0h1m1 0h2m6 0h1m-29 1h1m1 0h1m2 0h1m3 0h1m6 0h1m1 0h1m4 0h1m-18 1h1m3 0h2m4 0h1m2 0h1m3 0h1m4 0h1m4 0h1m20 0h1m-64 1h1m4 0h1m4 0h1m2 0h2m2 0h1m1 0h3m1 0h1m2 0h1m1 0h2m1 0h1m5 0h3m13 0h1m13 0h1m7 0h1m-74 1h1m1 0h1m10 0h2m3 0h1m4 0h5m3 0h2m7 0h1m1 0h1m4 0h1m-43 1h1m4 0h1m1 0h1m1 0h2m4 0h2m1 0h2m4 0h1m1 0h1m14 0h1m-52 1h1m9 0h3m1 0h1m1 0h3m1 0h2m1 0h1m1 0h2m1 0h2m1 0h3m2 0h1m1 0h1m1 0h1m3 0h1m-40 1h1m8 0h2m1 0h4m1 0h2m9 0h2m5 0h1m-35 1h2m3 0h4m1 0h1m1 0h1m1 0h3m1 0h3m1 0h1m1 0h1m12 0h1m-50 1h1m9 0h1m2 0h2m1 0h2m1 0h1m1 0h2m2 0h2m2 0h4m2 0h2m3 0h1m16 0h1m-52 1h1m1 0h1m2 0h13m1 0h1m2 0h2m2 0h3m3 0h1m1 0h1m5 0h1m12 0h1m-56 1h2m5 0h1m1 0h1m1 0h1m1 0h2m1 0h12m9 0h2m1 0h1m3 0h1m-41 1h3m3 0h1m1 0h1m1 0h2m1 0h4m1 0h1m2 0h4m2 0h1m1 0h2m8 0h1m-43 1h1m1 0h2m2 0h12m1 0h5m1 0h3m2 0h1m1 0h2m-44 1h1m6 0h1m2 0h4m1 0h6m1 0h1m1 0h1m1 0h2m1 0h1m1 0h1m2 0h5m1 0h1m6 0h1m3 0h1m-58 1h1m10 0h1m3 0h2m1 0h1m3 0h22m5 0h1m-35 1h2m2 0h2m3 0h15m1 0h2m2 0h1m-36 1h1m2 0h2m1 0h3m1 0h4m1 0h4m1 0h7m1 0h2m1 0h3m2 0h1m-39 1h1m7 0h1m2 0h3m1 0h3m1 0h7m1 0h4m1 0h2m2 0h1m1 0h3m-39 1h1m4 0h1m2 0h1m1 0h1m2 0h14m3 0h1m-31 1h1m2 0h3m1 0h1m3 0h1m1 0h4m1 0h2m1 0h3m1 0h2m5 0h1m-39 1h1m5 0h3m2 0h1m1 0h5m2 0h1m2 0h5m1 0h4m1 0h3m-31 1h1m2 0h2m2 0h3m2 0h13m2 0h2m3 0h2m5 0h2m-44 1h2m6 0h1m1 0h4m1 0h1m2 0h6m1 0h1m1 0h1m-22 1h1m2 0h1m3 0h1m2 0h1m1 0h4m3 0h1m1 0h1m2 0h1m-29 1h1m11 0h1m1 0h3m1 0h4m11 0h1m3 0h1m-36 1h1m2 0h2m4 0h2m2 0h1m3 0h1m3 0h1m1 0h2m-22 1h1m1 0h2m1 0h1m9 0h1m7 0h1m-22 1h2m5 0h2m1 0h1m1 0h1m1 0h1m-18 1h1m3 0h2m4 0h1m8 0h1m8 0h1m-54 1h1m2 0h1m3 0h1m7 0h1m1 0h1m1 0h2m1 0h1m1 0h7m1 0h3m1 0h1m1 0h3m2 0h1m14 0h1" stroke="#000"/></g><g fill="none" stroke-width="1" transform="scale(1.36) translate(0.0,0.5)"><path d="M111 34h1m-9 4h1m16 0h1m-30 2h1m24 2h1m-29 2h1m8 0h1m10 0h1m-29 1h1m25 1h1m-31 1h1m33 0h1m5 1h1m-86 1h1m26 0h1m41 0h1m2 0h1m-30 1h1m19 0h1m4 0h1m-16 2h1m10 0h1m6 0h1m-30 1h1m18 0h1m16 0h1m-80 2h1m9 0h1m50 0h1m10 0h1m2 0h1m1 0h1m2 0h1m3 1h1m-23 1h1m2 0h1m1 0h1m1 0h1m1 0h1m7 0h1m-64 1h1m7 0h1m2 0h1m4 0h1m27 0h1m17 0h1m-54 1h1m53 0h1m-65 1h1m20 0h1m31 0h1m3 0h1m3 0h1m6 0h1m-56 1h1m42 0h1m-64 1h1m40 0h1m5 0h1m4 0h1m-35 1h1m4 0h1m23 0h1m-61 1h1m28 0h1m6 0h1m28 0h1m2 0h1m12 0h1m-10 1h1m10 0h1m5 0h1m-75 1h1m56 0h3m3 0h1m7 0h1m-90 1h1m22 0h1m18 0h1m16 0h1m8 0h1m2 0h1m1 0h1m4 0h1m-62 1h1m60 0h1m3 0h3m-73 1h1m48 0h1m4 0h1m2 0h1m5 0h1m2 0h1m6 0h1m4 0h1m-79 1h1m54 0h1m13 0h1m1 0h1m-74 1h1m13 0h1m44 0h1m7 0h1m8 0h1m1 0h1m-22 1h1m11 0h1m1 0h1m1 0h1m4 0h1m4 0h1m-115 1h1m96 0h1m8 0h1m2 0h1m-70 1h1m3 0h1m34 0h1m7 0h1m1 0h1m7 0h1m2 0h1m5 0h1m-65 1h1m72 0h2m5 0h1m-28 1h1m6 0h1m7 0h1m-60 1h1m34 0h1m7 0h1m3 0h1m7 0h1m9 0h1m-70 1h1m45 0h2m3 0h1m8 0h1m-72 1h1m49 0h1m3 0h1m2 0h1m-78 1h1m23 0h1m30 0h1m6 0h1m2 0h2m1 0h1m2 0h1m-73 1h1m19 0h1m5 0h1m44 0h1m5 0h1m22 0h1m-24 1h1m-14 1h1m14 0h1m13 0h1m-85 1h1m31 0h1m31 0h1m9 0h1m10 0h1m-20 1h1m3 0h1m6 0h1m7 0h1m-18 1h1m-52 1h1m-34 1h1m41 0h1m-13 1h1m11 0h1m11 0h1m6 0h1m7 0h1m6 0h1m4 0h1m5 0h1m7 0h1m6 0h1m-25 1h1m1 0h1m1 0h1m1 0h1m4 0h1m1 0h1m-16 1h1m8 0h1m-50 1h1m28 0h1m7 0h3m1 0h1m16 0h1m-14 1h1m17 0h1m-33 1h1m21 0h1m-61 1h1m36 0h1m14 0h1m15 0h1m-52 1h1m21 0h2m15 0h2m-12 1h1m4 0h1m2 0h1m17 0h1m-104 1h1m49 0h1m17 0h1m4 0h1m9 0h1m1 0h2m4 0h1m1 0h1m-36 1h1m32 0h1m11 0h1m-38 1h1m9 0h1m8 0h1m-79 1h1m55 0h1m-26 1h1m29 0h1m19 0h1m-95 1h1m71 0h1m5 0h1m4 0h1m-19 1h1m21 0h1m2 0h1m10 0h1m-50 1h1m21 0h1m2 0h1m1 0h1m11 0h1m2 0h1m-27 1h1m8 0h1m4 0h1m3 0h1m-38 1h1m16 0h1m4 0h1m9 0h1m4 0h1m2 0h1m3 0h1m25 0h1m-65 1h1m9 0h1m17 0h1m3 0h1m1 0h1m-38 1h1m8 0h1m13 0h1m-19 1h1m15 0h1m20 0h1m22 0h1m-116 1h1m27 0h1m4 0h1m22 0h1m4 0h2m6 0h1m12 0h1m22 0h1m-72 1h1m3 0h1m8 0h1m9 0h1m3 0h1m16 0h1m1 0h1m-43 1h1m4 0h1m7 0h1m10 0h1m8 0h1m4 0h1m-17 1h1m3 0h1m3 0h1m1 0h1m5 0h2m1 0h1m6 0h2m4 0h1m-49 1h1m3 0h1m1 0h2m10 0h1m2 0h1m9 0h1m-28 1h1m1 0h1m5 0h1m5 0h1m8 0h1m8 0h1m1 0h1m-42 1h1m7 0h1m15 0h1m1 0h1m18 0h1m1 0h1m-56 1h1m13 0h1m2 0h1m9 0h1m14 0h1m1 0h1m24 0h1m-65 1h1m3 0h1m2 0h1m8 0h1m8 0h1m3 0h1m11 0h1m9 0h1m17 0h1m-41 1h1m4 0h1m9 0h1m19 0h1m-77 1h1m23 0h2m17 0h1m-39 1h2m17 0h1m1 0h2m4 0h1m29 0h1m3 0h1m3 0h1m-67 1h1m7 0h1m36 0h1m12 0h1m10 0h1m-76 1h1m8 0h1m5 0h1m3 0h2m30 0h1m3 0h1m8 0h1m7 0h1m4 0h1m-80 1h1m1 0h1m18 0h1m9 0h1m23 0h1m7 0h1m2 0h1m-53 1h1m18 0h1m6 0h2m2 0h1m6 0h2m-50 1h1m1 0h2m1 0h2m38 0h1m25 0h1m-57 1h1m3 0h1m23 0h1m4 0h1m-46 1h1m7 0h1m4 0h1m12 0h1m10 0h1m46 0h1m-85 1h1m12 0h1m20 0h1m2 0h1m7 0h1m24 0h1m-53 1h1m2 0h1m2 0h1m7 0h2m16 0h1m1 0h1m1 0h1m26 0h1m-97 1h1m15 0h1m1 0h2m14 0h1m5 0h1m1 0h1m4 0h1m2 0h1m14 0h1m2 0h1m3 0h1m33 0h1m-98 1h1m14 0h1m26 0h1m33 0h1m-76 1h1m19 0h1m14 0h1m1 0h1m-39 1h3m2 0h1m6 0h1m15 0h1m6 0h1m3 0h1m7 0h1m-58 1h1m2 0h2m1 0h1m11 0h1m8 0h1m13 0h1m9 0h1m5 0h1m12 0h1m-65 1h1m14 0h1m10 0h1m14 0h1m11 0h1m1 0h1m-59 1h2m2 0h1m3 0h1m11 0h1m15 0h1m5 0h1m6 0h1m9 0h1m-57 1h2m6 0h2m3 0h1m33 0h1m10 0h1m-61 1h1m6 0h1m17 0h1m11 0h1m2 0h1m4 0h1m18 0h1m-64 1h1m10 0h1m10 0h1m1 0h1m-31 1h2m7 0h1m6 0h1m2 0h1m14 0h1m-35 1h1m1 0h1m7 0h1m6 0h1m6 0h2m2 0h1m3 0h1m3 0h1m19 0h1m-57 1h1m10 0h2m2 0h1m1 0h1m7 0h1m10 0h1m9 0h1m-40 1h2m11 0h2m8 0h1m9 0h1m1 0h1m-41 1h1m7 0h1m4 0h1m1 0h1m2 0h1m1 0h1m4 0h1m-23 1h1m3 0h2m3 0h1m10 0h1m12 0h1m-15 1h3m20 0h1m6 0h1m-56 1h1m5 0h1m3 0h1m8 0h1m8 0h1m6 0h1m-48 1h1m3 0h1m1 0h1m1 0h1m7 0h1m8 0h1m20 0h1m13 0h1m16 0h1" stroke="#7a7a7a"/><path d="M99 36h1m-27 3h1m27 0h1m-4 1h1m6 0h1m3 0h1m-33 1h1m13 0h1m11 0h1m4 0h1m-18 1h1m3 0h1m4 0h1m-4 1h1m1 0h1m3 0h1m3 0h1m4 0h1m-8 1h1m-64 1h1m57 0h2m-4 1h1m4 0h1m5 0h1m-14 1h1m6 0h1m-49 1h1m44 0h1m8 0h1m-69 1h1m49 0h1m13 0h1m-2 1h1m-79 1h1m27 0h1m34 0h1m9 0h1m-48 1h1m11 0h1m28 0h1m5 0h2m3 0h1m17 0h1m-65 1h1m30 0h2m19 0h1m12 0h1m-93 1h1m52 0h2m5 0h2m2 0h1m4 0h1m6 0h1m1 0h1m-63 1h1m30 0h1m8 0h1m13 0h1m7 0h1m9 0h1m-52 1h1m19 0h1m3 0h1m4 0h1m7 0h1m9 0h1m-80 1h1m63 0h1m1 0h1m2 0h1m7 0h1m-28 1h1m9 0h1m3 0h1m3 0h1m2 0h1m-9 1h2m1 0h2m4 0h1m-63 1h1m23 0h1m3 0h1m15 0h1m9 0h2m9 0h1m2 0h1m31 0h1m-109 1h1m7 0h1m38 0h1m2 0h3m8 0h2m1 0h3m2 0h1m8 0h1m-92 1h1m9 0h1m19 0h1m31 0h1m4 0h1m8 0h1m7 0h1m2 0h1m4 0h1m-70 1h1m17 0h1m13 0h1m12 0h1m1 0h1m2 0h1m9 0h1m-79 1h1m8 0h1m4 0h1m6 0h1m1 0h1m10 0h1m13 0h1m4 0h1m4 0h1m7 0h1m1 0h1m2 0h2m2 0h1m2 0h1m1 0h1m-90 1h1m7 0h1m17 0h1m19 0h1m20 0h1m4 0h1m1 0h1m2 0h1m1 0h1m-99 1h1m23 0h1m41 0h1m3 0h1m4 0h1m7 0h1m2 0h1m3 0h1m1 0h1m15 0h1m7 0h1m-61 1h1m1 0h1m31 0h1m1 0h1m2 0h1m8 0h2m4 0h1m14 0h1m-91 1h1m6 0h1m4 0h2m50 0h2m6 0h1m-89 1h1m29 0h1m10 0h1m7 0h1m5 0h1m8 0h1m12 0h2m2 0h1m-67 1h1m6 0h1m35 0h1m7 0h2m8 0h1m3 0h1m5 0h1m2 0h1m-63 1h1m10 0h1m7 0h1m2 0h1m8 0h1m4 0h1m7 0h1m8 0h2m9 0h1m4 0h1m-58 1h1m5 0h1m4 0h1m18 0h1m16 0h1m-28 1h1m5 0h1m3 0h1m5 0h1m6 0h1m9 0h1m-88 1h1m17 0h1m6 0h1m1 0h1m16 0h1m2 0h1m10 0h1m8 0h1m2 0h1m6 0h2m1 0h1m1 0h1m5 0h1m-101 1h1m17 0h1m2 0h2m11 0h1m4 0h1m23 0h1m5 0h1m5 0h1m5 0h1m1 0h1m3 0h1m4 0h1m1 0h1m-59 1h2m12 0h1m17 0h1m2 0h1m1 0h1m5 0h2m4 0h1m2 0h1m2 0h1m-80 1h1m19 0h1m3 0h1m3 0h1m11 0h1m13 0h2m6 0h1m1 0h4m10 0h1m10 0h1m-77 1h1m5 0h1m19 0h1m1 0h1m16 0h1m1 0h1m1 0h1m2 0h1m11 0h2m-51 1h1m5 0h1m6 0h1m25 0h1m16 0h1m1 0h1m-82 1h1m13 0h1m13 0h1m10 0h1m20 0h1m1 0h1m5 0h2m2 0h2m-68 1h1m6 0h1m11 0h1m1 0h1m20 0h1m9 0h1m5 0h2m3 0h1m3 0h1m5 0h1m-87 1h1m15 0h1m5 0h1m54 0h1m5 0h1m17 0h1m-86 1h1m23 0h1m7 0h1m6 0h1m13 0h1m9 0h2m1 0h1m-91 1h1m1 0h1m49 0h1m8 0h1m5 0h1m3 0h2m1 0h1m1 0h1m3 0h1m3 0h2m13 0h1m-58 1h1m13 0h1m11 0h1m2 0h1m2 0h1m3 0h1m2 0h1m5 0h1m8 0h1m-48 1h1m2 0h1m5 0h1m1 0h1m5 0h1m5 0h1m1 0h1m5 0h1m1 0h1m-52 1h1m32 0h2m2 0h1m3 0h1m4 0h1m1 0h1m4 0h1m-67 1h1m6 0h1m32 0h1m4 0h2m1 0h1m2 0h1m2 0h1m4 0h1m5 0h1m1 0h1m-62 1h1m19 0h1m6 0h1m9 0h1m2 0h1m2 0h1m4 0h1m4 0h1m1 0h1m1 0h1m1 0h1m3 0h1m3 0h1m5 0h1m-91 1h1m21 0h1m8 0h1m11 0h1m8 0h1m37 0h1m-50 1h1m21 0h1m1 0h1m3 0h1m3 0h2m-50 1h1m18 0h1m19 0h2m1 0h1m2 0h1m3 0h1m2 0h1m18 0h1m-66 1h1m8 0h1m2 0h1m8 0h1m1 0h1m3 0h2m4 0h1m1 0h1m2 0h2m-84 1h1m62 0h1m3 0h1m3 0h1m4 0h1m20 0h1m-54 1h1m19 0h1m3 0h2m6 0h1m4 0h1m6 0h1m1 0h1m3 0h1m2 0h1m-99 1h1m36 0h1m18 0h1m6 0h2m1 0h1m6 0h1m1 0h1m7 0h1m12 0h1m-77 1h2m24 0h1m5 0h1m15 0h3m5 0h1m1 0h2m7 0h1m-77 1h1m56 0h1m1 0h1m1 0h1m1 0h1m1 0h1m3 0h1m-74 1h1m49 0h1m1 0h1m12 0h1m2 0h1m6 0h1m2 0h1m2 0h1m-83 1h1m10 0h1m20 0h1m5 0h1m14 0h1m2 0h1m4 0h2m2 0h1m1 0h1m13 0h1m-55 1h1m3 0h1m8 0h1m8 0h1m3 0h2m8 0h1m3 0h1m2 0h1m2 0h2m-72 1h1m10 0h1m32 0h1m2 0h1m8 0h1m3 0h1m2 0h1m1 0h2m6 0h1m-26 1h1m7 0h1m3 0h1m12 0h1m2 0h1m1 0h1m7 0h1m1 0h1m-45 1h2m4 0h2m1 0h1m4 0h1m1 0h1m2 0h2m1 0h1m4 0h1m5 0h1m-37 1h1m3 0h1m2 0h1m18 0h1m3 0h1m8 0h1m-40 1h1m4 0h1m1 0h2m7 0h2m7 0h3m2 0h1m1 0h1m8 0h1m-75 1h1m18 0h1m23 0h1m1 0h1m5 0h1m1 0h1m11 0h1m6 0h1m-64 1h1m18 0h1m3 0h1m12 0h1m4 0h3m1 0h2m19 0h1m-48 1h1m4 0h1m4 0h1m3 0h1m2 0h1m3 0h1m2 0h1m-26 1h1m1 0h1m7 0h1m2 0h1m3 0h1m10 0h2m4 0h1m2 0h1m6 0h1m2 0h1m6 0h1m-61 1h1m5 0h1m4 0h1m9 0h1m4 0h1m6 0h1m2 0h1m3 0h1m6 0h1m1 0h1m12 0h1m-76 1h1m9 0h1m17 0h1m16 0h2m5 0h1m4 0h1m-56 1h1m24 0h1m7 0h1m5 0h1m17 0h1m8 0h1m-68 1h2m16 0h1m4 0h1m6 0h2m7 0h2m5 0h1m4 0h1m-31 1h1m1 0h1m1 0h1m3 0h1m2 0h1m18 0h2m2 0h1m4 0h1m-53 1h1m12 0h2m4 0h1m1 0h1m19 0h1m3 0h1m14 0h1m-55 1h1m3 0h1m3 0h1m4 0h1m3 0h1m7 0h1m5 0h1m2 0h1m15 0h1m-70 1h1m14 0h1m1 0h1m1 0h1m1 0h1m12 0h1m3 0h2m2 0h1m3 0h1m13 0h1m12 0h1m-58 1h1m4 0h2m1 0h1m6 0h4m6 0h1m2 0h1m2 0h1m1 0h1m6 0h1m1 0h1m1 0h1m3 0h1m6 0h1m3 0h1m-65 1h1m1 0h1m6 0h2m2 0h1m1 0h2m2 0h1m4 0h1m2 0h1m3 0h1m10 0h2m2 0h1m25 0h1m-87 1h1m14 0h1m1 0h1m1 0h1m1 0h1m2 0h1m4 0h2m3 0h1m8 0h2m3 0h1m10 0h2m5 0h1m4 0h1m4 0h1m22 0h1m-91 1h2m2 0h1m9 0h1m14 0h1m3 0h1m1 0h1m7 0h1m3 0h1m9 0h1m2 0h1m3 0h1m-92 1h1m20 0h2m8 0h1m3 0h1m1 0h3m3 0h1m1 0h1m1 0h1m2 0h2m5 0h1m4 0h2m4 0h1m3 0h1m6 0h1m4 0h1m22 0h1m4 0h1m-104 1h1m20 0h1m3 0h1m1 0h1m4 0h1m1 0h1m1 0h2m1 0h1m8 0h1m17 0h2m1 0h1m4 0h1m10 0h1m2 0h1m10 0h1m1 0h1m-96 1h1m15 0h1m2 0h1m1 0h1m1 0h1m2 0h4m1 0h1m1 0h3m2 0h1m5 0h2m3 0h1m32 0h1m-82 1h1m4 0h1m4 0h3m3 0h1m2 0h1m2 0h1m1 0h1m4 0h1m4 0h1m3 0h2m2 0h1m2 0h2m1 0h1m10 0h1m3 0h1m5 0h1m-66 1h1m5 0h1m3 0h1m17 0h2m1 0h1m7 0h1m6 0h2m3 0h2m4 0h1m1 0h1m17 0h1m-81 1h1m4 0h1m20 0h1m1 0h1m2 0h1m1 0h1m3 0h1m2 0h1m6 0h1m5 0h1m1 0h1m18 0h2m3 0h1m-82 1h1m5 0h1m11 0h1m3 0h1m16 0h1m9 0h1m12 0h1m14 0h1m6 0h1m-75 1h1m2 0h2m11 0h1m3 0h2m3 0h1m7 0h1m5 0h1m46 0h1m-104 1h1m3 0h1m10 0h3m1 0h1m7 0h1m1 0h1m1 0h1m4 0h2m6 0h2m7 0h1m3 0h1m32 0h1m-85 1h1m2 0h1m1 0h2m12 0h1m4 0h1m12 0h1m-43 1h1m7 0h1m2 0h1m1 0h1m3 0h1m2 0h1m4 0h1m9 0h1m1 0h1m8 0h2m3 0h2m1 0h1m4 0h1m34 0h1m-94 1h3m5 0h2m1 0h3m5 0h1m8 0h1m10 0h1m12 0h3m3 0h1m10 0h1m-60 1h1m24 0h1m4 0h1m2 0h1m36 0h1m-80 1h1m1 0h1m2 0h1m25 0h1m17 0h1m4 0h1m2 0h1m-58 1h1m2 0h1m5 0h1m2 0h1m17 0h1m1 0h1m1 0h1m2 0h2m1 0h1m3 0h1m29 0h1m-80 1h1m7 0h1m1 0h1m1 0h1m7 0h1m1 0h1m10 0h1m7 0h1m8 0h1m-40 1h1m28 0h1m1 0h1m5 0h1m13 0h1m-63 1h1m2 0h1m1 0h1m2 0h1m3 0h1m7 0h1m1 0h1m15 0h3m9 0h1m1 0h1m7 0h1m-64 1h1m1 0h1m14 0h1m2 0h1m22 0h1m8 0h2m-45 1h1m2 0h1m1 0h1m1 0h2m1 0h1m10 0h1m1 0h1m4 0h2m2 0h1m1 0h1m2 0h1m1 0h1m-38 1h1m10 0h1m2 0h1m2 0h1m13 0h1m14 0h1m8 0h1m24 0h1m-92 1h1m11 0h1m2 0h1m10 0h1m4 0h2m13 0h1m-39 1h1m4 0h1m6 0h2m4 0h1m2 0h1m5 0h2m1 0h2m12 0h1m-53 1h1m9 0h1m2 0h1m4 0h1m1 0h2m5 0h1m2 0h1m2 0h1m6 0h1m1 0h3m3 0h1m2 0h1m1 0h1m-51 1h1m11 0h1m1 0h1m1 0h3m7 0h1m5 0h1m7 0h1m-55 1h1m10 0h1m8 0h1m7 0h1m1 0h1m1 0h1m2 0h2m3 0h2m6 0h1m1 0h1m-43 1h1m4 0h1m6 0h1m6 0h1m2 0h1m13 0h1m5 0h1m12 0h1m-61 1h1m6 0h1m2 0h1m3 0h3m25 0h1m2 0h2m2 0h1m6 0h1m58 0h1" stroke="#2a2a2a"/><path d="M89 45h1m5 0h1m-5 5h1m6 2h1m-5 1h1m11 0h1m-5 1h2m-11 1h1m4 1h1m5 0h1m-12 1h1m4 1h1m-7 3h2m14 0h1m-14 1h2m8 0h1m-18 1h1m3 0h1m6 0h1m3 0h2m-10 1h1m8 0h1m-15 1h1m5 0h1m2 0h1m1 0h1m-23 1h1m15 0h1m5 0h1m-58 1h1m51 0h1m5 0h1m-21 1h1m5 0h1m2 0h1m1 0h1m-13 1h2m7 0h1m1 0h4m7 0h2m4 0h1m-24 1h1m4 0h1m4 0h1m1 0h2m0 1h1m2 0h1m3 0h1m-15 1h1m5 0h1m-76 1h1m22 0h1m43 0h1m2 0h1m-16 1h1m9 0h1m5 0h1m3 0h1m2 0h1m-5 1h1m1 0h1m1 0h1m7 0h1m-22 1h1m2 0h1m14 0h1m-12 1h2m2 0h1m-79 1h1m58 1h1m6 0h1m3 0h1m3 0h1m5 0h1m-46 1h1m31 0h1m5 0h1m-10 1h1m3 0h1m1 0h1m6 0h1m1 0h1m4 0h1m-48 1h1m22 0h1m15 0h1m-13 1h1m3 0h1m1 0h1m4 0h2m-47 1h1m53 0h2m-34 1h1m13 0h1m2 1h2m1 0h1m-9 1h1m-17 1h1m26 0h1m-19 2h1m3 0h1m2 0h1m5 0h1m-4 1h1m12 1h1m-25 1h2m15 0h1m-21 1h1m2 0h1m11 0h1m8 0h1m-16 1h1m9 0h1m-8 1h1m2 0h1m6 0h1m-24 1h1m-6 1h1m3 1h1m2 0h1m5 0h1m4 0h1m-13 1h1m8 0h1m2 0h1m2 0h1m-15 1h1m3 0h1m9 0h2m-13 1h1m-3 1h1m-14 1h1m8 0h1m5 0h2m5 0h1m-18 1h2m11 0h1m1 0h1m3 0h1m-18 1h1m-21 1h1m8 0h1m19 0h1m2 0h1m15 1h1m-26 1h1m11 0h1m-33 1h1m5 0h1m10 0h1m5 0h2m12 0h1m-36 1h1m14 0h1m5 0h1m1 0h1m4 0h1m-27 1h1m2 0h1m6 0h1m7 0h1m-15 1h1m9 0h1m4 0h1m7 0h2m-28 1h1m16 0h1m6 0h1m7 0h1m-29 1h1m5 0h1m4 0h1m5 0h1m-35 1h1m2 0h1m8 0h1m4 0h1m5 0h2m2 0h1m1 0h1m5 0h1m12 0h1m-40 1h1m8 0h1m2 0h1m7 0h1m3 0h1m-28 1h1m2 0h1m9 0h3m2 0h1m4 0h1m7 0h2m-42 1h1m3 0h1m2 0h1m4 0h2m1 0h1m1 0h1m7 0h2m2 0h1m3 0h1m3 0h1m-39 1h1m3 0h1m12 0h1m1 0h2m3 0h2m3 0h1m1 0h1m6 0h1m-34 1h1m1 0h2m1 0h1m6 0h1m2 0h1m1 0h2m1 0h1m1 0h1m7 0h1m-35 1h5m1 0h1m1 0h1m6 0h3m1 0h2m2 0h1m3 0h1m2 0h1m2 0h1m1 0h1m1 0h1m7 0h1m-50 1h1m10 0h2m1 0h1m3 0h2m3 0h1m5 0h1m1 0h1m4 0h1m3 0h1m4 0h1m19 0h1m-68 1h2m2 0h1m2 0h1m6 0h1m1 0h1m2 0h1m3 0h4m1 0h1m2 0h1m2 0h1m-35 1h1m3 0h1m2 0h1m4 0h1m4 0h1m5 0h2m1 0h4m5 0h1m5 0h1m-48 1h1m6 0h1m1 0h1m1 0h2m1 0h2m1 0h1m2 0h1m1 0h1m1 0h3m2 0h3m5 0h1m-33 1h1m1 0h1m1 0h2m2 0h10m2 0h1m4 0h1m1 0h3m-30 1h2m1 0h4m2 0h2m2 0h3m1 0h1m1 0h2m3 0h1m3 0h2m1 0h1m2 0h1m33 0h1m-77 1h1m4 0h1m1 0h4m1 0h2m1 0h1m1 0h1m1 0h10m1 0h2m5 0h2m-44 1h1m3 0h1m1 0h1m5 0h2m2 0h5m1 0h5m1 0h1m1 0h1m2 0h1m1 0h1m2 0h4m4 0h2m-41 1h1m4 0h1m1 0h7m1 0h1m1 0h1m2 0h2m4 0h1m1 0h2m5 0h1m1 0h2m-39 1h1m2 0h1m2 0h6m1 0h4m1 0h2m1 0h5m3 0h1m9 0h1m2 0h1m-46 1h1m2 0h1m3 0h1m1 0h2m1 0h1m1 0h2m1 0h4m1 0h4m1 0h1m2 0h6m3 0h1m-38 1h1m3 0h5m1 0h7m2 0h5m1 0h2m1 0h1m1 0h1m2 0h1m7 0h1m-47 1h1m3 0h1m3 0h1m1 0h1m1 0h1m1 0h13m4 0h4m2 0h1m1 0h1m-36 1h1m1 0h3m1 0h8m1 0h8m1 0h3m2 0h1m2 0h2m2 0h2m-41 1h1m1 0h2m2 0h1m2 0h2m1 0h6m1 0h3m1 0h2m1 0h1m1 0h1m1 0h1m3 0h1m7 0h2m3 0h2m-46 1h7m1 0h1m2 0h6m1 0h2m1 0h5m1 0h1m5 0h1m-43 1h1m3 0h2m2 0h2m3 0h2m1 0h10m1 0h9m1 0h1m2 0h1m2 0h1m-41 1h1m6 0h6m1 0h1m1 0h6m1 0h7m6 0h1m4 0h1m4 0h1m-45 1h3m6 0h9m1 0h1m1 0h4m1 0h2m1 0h2m2 0h1m-26 1h1m2 0h6m2 0h1m1 0h3m-27 1h1m3 0h4m1 0h1m2 0h1m1 0h2m4 0h1m1 0h2m2 0h3m2 0h1m4 0h1m-35 1h1m6 0h1m2 0h1m3 0h1m2 0h1m12 0h1m1 0h1m-29 1h1m1 0h3m4 0h2m1 0h1m5 0h1m-28 1h1m2 0h1m5 0h1m7 0h1m2 0h1m1 0h1m2 0h1m6 0h1m15 0h1m-42 1h1m8 0h1m2 0h2m1 0h1m1 0h3m-27 1h1m3 0h1m3 0h1m7 0h1m25 0h1m-49 2h1m2 0h2m4 0h2m1 0h2m1 0h15m1 0h3m5 0h2m2 0h2" stroke="#000"/></g><path d="M0 0H205.5V205.5" fill="none" stroke="#2a2a2a" stroke-width="1.45"/><path d="M0 0V205.5" fill="none" stroke="#666" stroke-width="1.3"/><path d="M-6 205.5H205.5" fill="none" stroke="#111" stroke-width="1.5"/><path d="M115.7 0V205.5" fill="none" stroke="#111" stroke-width="1.7"/><path d="M0 139.2H205.5" fill="none" stroke="#111" stroke-width="1.5"/><path d="M0.0 205.5v5.5M51.2 205.5v5.5M102.4 205.5v5.5M153.6 205.5v5.5M204.8 205.5v5.5M0 205.0h-6.5M0 154.0h-6.5M0 103.0h-6.5M0 52.0h-6.5M0 1.0h-6.5" fill="none" stroke="#111" stroke-width="1.4"/><path d="M15.4 205.5v2.8M24.4 205.5v2.8M30.8 205.5v2.8M35.8 205.5v2.8M39.8 205.5v2.8M43.3 205.5v2.8M46.2 205.5v2.8M48.9 205.5v2.8M66.6 205.5v2.8M75.6 205.5v2.8M82.0 205.5v2.8M87.0 205.5v2.8M91.0 205.5v2.8M94.5 205.5v2.8M97.4 205.5v2.8M100.1 205.5v2.8M117.8 205.5v2.8M126.8 205.5v2.8M133.2 205.5v2.8M138.2 205.5v2.8M142.2 205.5v2.8M145.7 205.5v2.8M148.6 205.5v2.8M151.3 205.5v2.8M169.0 205.5v2.8M178.0 205.5v2.8M184.4 205.5v2.8M189.4 205.5v2.8M193.4 205.5v2.8M196.9 205.5v2.8M199.8 205.5v2.8M202.5 205.5v2.8M0 189.6h-3.5M0 180.7h-3.5M0 174.3h-3.5M0 169.4h-3.5M0 165.3h-3.5M0 161.9h-3.5M0 158.9h-3.5M0 156.3h-3.5M0 138.6h-3.5M0 129.7h-3.5M0 123.3h-3.5M0 118.4h-3.5M0 114.3h-3.5M0 110.9h-3.5M0 107.9h-3.5M0 105.3h-3.5M0 87.6h-3.5M0 78.7h-3.5M0 72.3h-3.5M0 67.4h-3.5M0 63.3h-3.5M0 59.9h-3.5M0 56.9h-3.5M0 54.3h-3.5M0 36.6h-3.5M0 27.7h-3.5M0 21.3h-3.5M0 16.4h-3.5M0 12.3h-3.5M0 8.9h-3.5M0 5.9h-3.5M0 3.3h-3.5" fill="none" stroke="#333" stroke-width="1.05"/><g font-family="'Liberation Sans', sans-serif" fill="#111" stroke="#111" stroke-width="0.3"><text transform="translate(3.6 222.9) scale(1 1.04)" font-size="7.4">10</text><text transform="translate(11.3 218.6) scale(1 1.04)" font-size="6.8">0</text><text transform="translate(51.6 222.9) scale(1 1.04)" font-size="7.4">10</text><text transform="translate(59.3 218.6) scale(1 1.04)" font-size="6.8">1</text><text transform="translate(102.8 222.9) scale(1 1.04)" font-size="7.4">10</text><text transform="translate(110.5 218.6) scale(1 1.04)" font-size="6.8">2</text><text transform="translate(154.0 222.9) scale(1 1.04)" font-size="7.4">10</text><text transform="translate(161.7 218.6) scale(1 1.04)" font-size="6.8">3</text><text transform="translate(196.3 222.9) scale(1 1.04)" font-size="7.4">10</text><text transform="translate(204.0 218.6) scale(1 1.04)" font-size="6.8">4</text><text transform="translate(-20.8 203.2) scale(1 1.04)" font-size="7.4">10</text><text transform="translate(-13.0 198.8) scale(1 1.04)" font-size="6.8">0</text><text transform="translate(-20.8 158.8) scale(1 1.04)" font-size="7.4">10</text><text transform="translate(-13.0 154.4) scale(1 1.04)" font-size="6.8">1</text><text transform="translate(-20.8 107.8) scale(1 1.04)" font-size="7.4">10</text><text transform="translate(-13.0 103.4) scale(1 1.04)" font-size="6.8">2</text><text transform="translate(-20.8 56.8) scale(1 1.04)" font-size="7.4">10</text><text transform="translate(-13.0 52.4) scale(1 1.04)" font-size="6.8">3</text><text transform="translate(-20.8 12.2) scale(1 1.04)" font-size="7.4">10</text><text transform="translate(-13.0 7.8) scale(1 1.04)" font-size="6.8">4</text></g><g font-family="'Liberation Sans', sans-serif" fill="#141414" stroke="#141414" stroke-width="0.55"><text transform="translate(9.9 36.4) scale(1 1.04)" font-size="30.6">8</text><text transform="translate(196.3 36.4) scale(1 1.04)" font-size="30.6" text-anchor="end">14</text><text transform="translate(3.7 199.8) scale(1 1.04)" font-size="30.6">73</text><text transform="translate(196.3 199.8) scale(1 1.04)" font-size="30.6" text-anchor="end">6</text></g></g>
<g transform="translate(365.0,613.0)"><g fill="none" stroke-width="1" transform="scale(1.36) translate(-0.5,0.0)"><path d="M109 33h1m-12 2h1m6 1h1m7 1h1m-16 2h1m-30 1h1m36 0h1m4 0h1m-9 1h1m-27 2h1m7 1h1m10 0h1m5 0h1m6 0h1m-25 1h2m13 0h1m2 0h1m-84 1h1m77 0h1m4 0h1m14 0h2m-51 1h1m-33 1h1m52 0h1m5 0h2m13 0h1m3 0h1m2 0h1m-97 1h1m78 0h2m8 0h1m3 0h2m-9 1h1m-106 1h1m67 0h1m21 0h1m22 0h1m-17 1h1m2 0h1m17 0h1m-39 1h1m4 0h1m4 0h1m2 0h1m6 0h1m4 0h1m3 0h1m-40 1h1m20 0h1m3 0h1m-96 1h1m42 0h1m40 0h1m13 0h1m6 0h1m-104 1h1m4 0h1m67 0h1m19 0h1m1 0h2m4 0h1m22 0h1m-98 1h1m27 0h1m-22 1h1m38 0h1m11 0h1m14 0h1m-65 1h1m51 0h1m3 0h1m1 0h1m7 0h1m-107 1h1m10 0h1m1 0h1m21 0h1m12 0h1m19 0h1m1 0h1m33 0h1m-38 1h1m23 0h1m1 0h1m9 0h1m-100 1h1m41 0h1m15 0h1m1 0h1m27 0h1m2 0h1m2 0h1m2 0h2m1 0h1m-75 1h1m14 0h1m5 0h1m42 0h1m1 0h1m2 0h1m16 0h2m-88 1h1m65 0h1m9 0h1m-101 1h1m47 0h1m10 0h1m7 0h1m28 0h1m6 0h1m3 0h1m-72 1h1m17 0h1m37 0h1m15 0h1m-59 1h1m16 0h1m11 0h1m1 0h1m4 0h1m5 0h1m3 0h2m-104 1h1m55 0h2m15 0h1m24 0h2m2 0h1m6 0h1m3 0h1m-109 1h1m38 0h1m35 0h1m30 0h1m6 0h1m-94 1h1m8 0h1m8 0h1m4 0h1m27 0h1m12 0h1m-48 1h1m26 0h1m5 0h1m-66 1h1m19 0h1m17 0h1m31 0h1m29 0h1m-72 1h1m29 0h1m24 0h1m8 0h1m10 0h1m-82 1h1m5 0h1m16 0h1m7 0h1m12 0h1m4 0h1m4 0h1m13 0h1m1 0h1m-104 1h1m40 0h1m50 0h1m7 0h1m1 0h1m2 0h1m2 0h1m-109 1h1m15 0h1m52 0h1m25 0h1m-84 1h1m14 0h1m51 0h1m8 0h1m5 0h1m4 0h1m5 0h1m11 0h1m-93 1h1m21 0h1m2 0h1m5 0h2m36 0h2m1 0h1m-26 1h1m1 0h1m8 0h1m32 0h1m-58 1h1m17 0h1m15 0h1m2 0h1m6 0h1m-56 1h1m31 0h1m16 0h1m4 0h1m-53 2h1m22 0h1m6 0h1m32 0h1m-82 1h2m32 0h1m13 0h1m3 0h1m10 0h1m-68 1h1m35 0h1m11 0h2m3 0h1m6 0h1m8 0h2m-77 1h1m28 0h1m9 0h1m28 1h1m4 0h1m-27 1h1m11 0h1m8 0h1m-7 1h1m34 0h1m-58 1h1m11 0h1m11 0h1m3 0h1m1 0h1m3 0h1m14 0h1m-88 1h1m6 0h1m15 0h1m45 0h2m1 0h1m-79 1h1m58 0h1m-11 1h1m3 0h1m12 0h1m11 0h1m3 0h1m-92 1h1m48 0h1m0 1h1m9 0h1m3 0h1m4 0h1m9 0h1m1 0h2m2 0h1m-24 1h1m7 1h1m3 0h1m7 0h1m-55 1h1m1 0h1m23 0h1m5 0h1m21 0h1m16 0h1m-97 1h1m51 0h1m6 0h1m8 0h1m16 0h1m4 0h1m-46 1h1m3 0h1m15 0h1m13 0h2m14 0h1m-49 1h1m4 0h1m1 0h1m10 0h1m10 0h1m2 0h1m14 0h1m-47 1h2m1 0h1m6 0h1m4 0h1m2 0h1m5 0h1m-38 1h1m10 0h1m12 0h2m8 0h1m7 0h1m3 0h1m6 0h1m3 0h1m-51 1h1m19 0h2m4 0h1m4 0h1m6 0h1m4 0h1m-43 1h1m1 0h1m4 0h1m11 0h1m7 0h1m6 0h1m2 0h1m-52 1h1m16 0h1m5 0h1m1 0h1m4 0h1m7 0h1m21 0h1m-50 1h1m16 0h1m3 0h1m12 0h1m3 0h1m-50 1h1m2 0h1m10 0h1m4 0h1m9 0h1m6 0h3m2 0h1m1 0h1m-22 1h2m2 0h1m1 0h1m7 0h1m4 0h1m4 0h1m18 0h1m-66 1h1m12 0h1m3 0h1m2 0h1m3 0h1m7 0h1m8 0h1m7 0h1m2 0h1m-41 1h1m1 0h1m6 0h1m11 0h1m2 0h1m2 0h1m2 0h1m9 0h1m8 0h1m-57 1h1m20 0h1m3 0h1m2 0h1m7 0h1m4 0h1m4 0h1m-59 1h1m27 0h1m13 0h1m16 0h1m6 0h1m-46 1h1m2 0h1m4 0h1m2 0h1m2 0h3m7 0h1m1 0h1m2 0h1m11 0h1m-55 1h2m7 0h1m9 0h1m3 0h1m3 0h1m26 0h2m4 0h1m-70 1h1m29 0h1m12 0h1m2 0h1m13 0h1m-48 1h1m4 0h1m4 0h1m5 0h2m5 0h1m8 0h1m1 0h1m-50 1h1m1 0h1m7 0h1m16 0h1m2 0h2m27 0h1m8 0h1m4 0h1m-65 1h1m1 0h1m3 0h1m2 0h3m3 0h1m7 0h1m12 0h1m11 0h2m1 0h1m13 0h1m-74 1h1m4 0h1m22 0h1m4 0h1m12 0h1m1 0h1m5 0h1m2 0h1m9 0h2m-70 1h1m7 0h1m6 0h1m4 0h1m3 0h1m7 0h1m5 0h1m10 0h1m16 0h1m9 0h1m-84 1h1m1 0h1m4 0h1m7 0h1m15 0h1m1 0h1m1 0h1m4 0h1m8 0h1m16 0h1m2 0h1m-53 1h1m10 0h1m10 0h1m4 0h1m5 0h1m2 0h1m11 0h1m8 0h1m12 0h1m-54 1h1m47 0h1m-80 1h2m12 0h1m22 0h1m6 0h1m4 0h1m-52 1h1m5 0h1m13 0h1m4 0h1m1 0h2m21 0h1m1 0h2m3 0h1m6 0h1m19 0h1m-76 1h1m23 0h1m10 0h1m10 0h1m6 0h1m20 0h1m5 0h1m-84 1h1m15 0h1m7 0h1m11 0h1m1 0h1m19 0h1m13 0h1m1 0h1m-96 1h1m14 0h1m11 0h1m7 0h1m25 0h1m3 0h1m2 0h1m37 0h1m-84 1h1m1 0h1m8 0h1m20 0h1m1 0h1m29 0h1m8 0h1m7 0h1m-94 1h1m12 0h1m12 0h1m15 0h2m8 0h1m3 0h1m7 0h1m17 0h1m-79 1h1m7 0h1m4 0h1m19 0h1m1 0h1m18 0h1m20 0h1m-62 1h1m12 0h1m10 0h1m2 0h1m-42 1h1m5 0h1m3 0h1m7 0h1m16 0h2m2 0h1m-43 1h1m3 0h1m8 0h1m3 0h1m18 0h1m4 0h1m5 0h1m37 0h1m-87 1h1m11 0h1m30 0h1m2 0h1m30 0h1m10 0h1m-85 1h1m1 0h1m2 0h1m1 0h1m12 0h1m18 0h1m1 0h2m29 0h1m-75 1h2m9 0h2m5 0h1m5 0h1m3 0h1m7 0h1m8 0h1m-53 1h1m17 0h1m13 0h1m8 0h1m43 0h1m-45 1h1m8 0h1m-57 1h1m6 0h1m8 0h1m6 0h1m14 0h1m-28 1h1m13 0h1m12 0h1m5 0h1m5 0h1m-43 1h1m5 0h1m2 0h1m1 0h1m2 0h1m1 0h1m1 0h1m8 0h1m2 0h2m1 0h2m11 0h1m3 0h1m-31 1h1m5 0h1m9 0h1m2 0h1m30 0h1m-56 1h1m2 0h1m4 0h1m2 0h1m5 0h2m7 0h1m-27 1h1m1 0h1m19 0h1m5 0h1m-44 1h1m18 0h1m11 0h1m-31 1h1m5 0h1m8 1h1m18 0h1m-27 1h1m2 0h1m7 0h1m14 0h1" stroke="#7a7a7a"/><path d="M123 6h1m-20 30h1m0 1h1m-29 1h1m18 0h1m3 0h1m3 0h1m14 0h1m-12 1h1m-106 1h1m39 0h1m1 0h1m26 0h1m2 0h1m25 0h1m15 0h1m1 0h1m-19 1h1m4 0h2m2 0h1m10 0h1m-42 1h1m14 0h1m5 0h1m-101 1h1m21 0h1m64 0h1m21 0h2m-39 1h1m23 0h1m13 0h1m17 0h1m-89 1h1m3 0h1m6 0h1m41 0h1m9 0h1m4 0h2m2 0h1m-40 1h1m11 0h1m27 0h1m-42 1h1m4 0h1m2 0h1m16 0h1m2 0h1m3 0h1m-11 1h1m2 0h1m1 0h1m-55 1h1m5 0h1m22 0h1m1 0h1m10 0h1m-88 1h1m55 0h1m4 0h1m19 0h1m2 0h1m23 0h1m-87 1h1m1 0h1m23 0h1m4 0h1m43 0h1m2 0h2m1 0h1m1 0h2m1 0h1m-60 1h1m24 0h1m-32 1h1m20 0h1m2 0h1m29 0h1m8 0h1m10 0h1m-100 1h1m32 0h1m15 0h1m27 0h1m7 0h1m4 0h2m-66 1h1m10 0h1m1 0h1m1 0h1m1 0h1m27 0h1m4 0h1m3 0h1m2 0h1m2 0h1m10 0h1m-103 1h1m2 0h1m24 0h1m10 0h1m10 0h1m4 0h2m10 0h1m5 0h1m1 0h1m5 0h1m7 0h2m2 0h1m-82 1h1m1 0h1m7 0h1m45 0h1m14 0h1m1 0h1m4 0h1m2 0h2m2 0h1m1 0h1m1 0h1m5 0h1m-99 1h1m11 0h1m19 0h1m4 0h1m3 0h1m4 0h1m2 0h2m6 0h1m6 0h2m5 0h2m1 0h1m1 0h1m1 0h1m1 0h1m-69 1h1m16 0h1m12 0h1m5 0h1m12 0h1m10 0h1m6 0h1m2 0h1m-81 1h1m28 0h1m5 0h1m37 0h1m12 0h1m3 0h1m-115 1h1m33 0h1m24 0h1m18 0h1m11 0h1m5 0h1m15 0h1m-111 1h1m8 0h1m27 0h1m32 0h1m3 0h1m7 0h1m5 0h1m3 0h1m2 0h1m2 0h1m4 0h1m4 0h1m2 0h1m4 0h1m-101 1h2m6 0h1m1 0h1m5 0h1m4 0h2m2 0h1m2 0h1m1 0h1m18 0h2m13 0h1m8 0h1m5 0h1m3 0h1m1 0h1m19 0h1m-98 1h2m9 0h1m3 0h1m12 0h1m29 0h1m26 0h1m3 0h2m-106 1h1m13 0h1m14 0h1m18 0h1m2 0h1m3 0h1m11 0h1m8 0h1m2 0h1m3 0h1m2 0h1m1 0h1m7 0h2m1 0h1m14 0h1m-81 1h1m31 0h1m3 0h1m7 0h2m4 0h2m8 0h2m2 0h1m3 0h1m-114 1h1m24 0h1m9 0h1m1 0h1m28 0h1m19 0h1m2 0h1m6 0h1m13 0h1m2 0h1m-98 1h1m24 0h1m5 0h1m2 0h1m1 0h1m42 0h1m-96 1h1m15 0h1m1 0h1m3 0h1m13 0h1m8 0h1m7 0h1m9 0h1m14 0h1m7 0h1m1 0h2m3 0h2m1 0h1m1 0h1m1 0h1m4 0h1m-43 1h1m13 0h1m2 0h1m4 0h2m1 0h1m5 0h1m18 0h1m-114 1h1m5 0h1m7 0h1m30 0h1m43 0h1m10 0h2m3 0h1m2 0h2m-82 1h1m13 0h1m8 0h2m33 0h1m6 0h1m-54 1h1m25 0h1m8 0h1m9 0h1m4 0h2m8 0h1m3 0h2m3 0h1m6 0h2m5 0h1m-112 1h1m1 0h1m9 0h1m11 0h1m17 0h1m12 0h1m17 0h2m1 0h2m4 0h1m4 0h1m2 0h1m18 0h1m-91 1h1m3 0h1m2 0h1m9 0h1m4 0h1m17 0h1m15 0h1m6 0h1m3 0h1m-88 1h1m18 0h1m19 0h1m33 0h1m4 0h1m2 0h1m8 0h1m5 0h1m9 0h1m-111 1h2m27 0h1m9 0h1m5 0h1m9 0h1m2 0h2m13 0h1m10 0h1m6 0h1m7 0h1m3 0h1m-93 1h1m14 0h1m2 0h2m25 0h1m23 0h1m23 0h1m-104 1h1m13 0h1m32 0h1m4 0h1m17 0h1m7 0h1m11 0h1m7 0h1m4 0h1m-90 1h1m18 0h1m7 0h1m1 0h1m2 0h1m16 0h1m4 0h1m3 0h1m3 0h2m2 0h1m-89 1h1m17 0h1m17 0h1m34 0h2m3 0h1m7 0h1m2 0h1m11 0h1m3 0h1m-42 1h1m28 0h1m2 0h1m8 0h2m9 0h1m-97 1h2m27 0h1m15 0h1m2 0h1m7 0h1m6 0h1m1 0h1m3 0h1m6 0h1m4 0h1m-100 1h1m14 0h1m9 0h1m14 0h1m3 0h1m23 0h2m15 0h1m1 0h1m3 0h3m4 0h1m-69 1h1m3 0h1m8 0h1m11 0h1m7 0h1m11 0h1m2 0h1m13 0h1m1 0h1m5 0h1m-91 1h1m33 0h1m22 0h1m2 0h1m7 0h1m6 0h1m11 0h1m5 0h2m1 0h1m2 0h1m12 0h1m-103 1h1m35 0h2m26 0h1m2 0h2m3 0h1m7 0h1m5 0h1m-84 1h1m59 0h1m2 0h1m7 0h1m4 0h1m2 0h1m-103 1h1m36 0h2m3 0h1m14 0h2m15 0h1m6 0h1m7 0h1m-78 1h1m38 0h1m8 0h1m8 0h1m13 0h2m2 0h1m9 0h2m3 0h1m-59 1h1m29 0h1m5 0h1m4 0h1m3 0h2m13 0h1m2 0h1m-87 1h1m43 0h1m5 0h2m14 0h1m2 0h4m3 0h1m3 0h1m8 0h1m-109 1h1m10 0h1m42 0h1m9 0h1m2 0h1m2 0h1m6 0h1m1 0h1m1 0h1m1 0h1m2 0h1m8 0h1m-80 1h1m10 0h1m21 0h1m17 0h1m8 0h3m3 0h1m8 0h1m-76 1h1m2 0h1m9 0h1m7 0h1m4 0h1m23 0h1m5 0h1m2 0h1m1 0h1m19 0h1m-100 1h1m9 0h1m3 0h1m8 0h1m12 0h1m36 0h2m3 0h1m1 0h2m9 0h1m9 0h1m-84 1h1m48 0h1m3 0h1m12 0h1m-23 1h1m2 0h1m5 0h2m4 0h1m2 0h1m5 0h1m3 0h1m4 0h2m1 0h1m1 0h1m-92 1h1m1 0h1m15 0h1m6 0h1m12 0h1m18 0h1m3 0h1m2 0h1m1 0h3m7 0h1m3 0h1m9 0h1m-41 1h2m6 0h1m1 0h1m1 0h1m1 0h1m8 0h1m1 0h1m5 0h1m4 0h1m-58 1h1m39 0h2m7 0h1m2 0h1m-49 1h1m13 0h1m9 0h2m5 0h1m6 0h1m4 0h1m7 0h4m4 0h1m-64 1h1m16 0h1m9 0h2m1 0h3m6 0h1m4 0h1m1 0h1m9 0h1m-40 1h3m4 0h2m4 0h1m13 0h1m5 0h1m1 0h1m5 0h1m1 0h1m2 0h1m3 0h1m-70 1h1m12 0h1m6 0h1m9 0h1m1 0h1m6 0h3m-50 1h1m30 0h1m2 0h1m14 0h1m7 0h1m1 0h1m2 0h1m4 0h1m1 0h1m2 0h1m-52 1h1m7 0h1m8 0h1m4 0h1m5 0h1m4 0h2m8 0h1m8 0h1m16 0h1m-62 1h2m4 0h2m3 0h1m3 0h1m1 0h2m9 0h1m6 0h1m1 0h1m-52 1h1m6 0h1m10 0h2m5 0h1m3 0h2m1 0h2m3 0h1m5 0h1m1 0h2m2 0h1m1 0h1m-56 1h1m6 0h1m13 0h1m8 0h1m2 0h1m2 0h2m2 0h1m4 0h1m6 0h2m2 0h1m-55 1h1m14 0h1m3 0h1m7 0h1m1 0h1m13 0h2m1 0h1m12 0h1m-56 1h1m2 0h1m4 0h2m4 0h1m4 0h2m6 0h1m2 0h1m2 0h2m3 0h2m5 0h2m5 0h1m1 0h2m-62 1h1m6 0h1m6 0h1m1 0h1m1 0h1m6 0h2m4 0h1m10 0h1m2 0h1m1 0h2m28 0h1m-81 1h1m5 0h1m8 0h2m1 0h1m18 0h1m1 0h2m5 0h2m1 0h1m5 0h2m7 0h1m-57 1h1m14 0h1m4 0h1m1 0h1m3 0h1m1 0h1m2 0h1m1 0h1m1 0h2m2 0h1m5 0h1m4 0h2m10 0h1m-107 1h1m37 0h1m4 0h5m3 0h1m5 0h1m3 0h1m7 0h1m2 0h1m1 0h2m4 0h2m2 0h1m2 0h1m8 0h1m-65 1h1m3 0h1m2 0h1m3 0h2m8 0h3m1 0h1m1 0h1m10 0h2m1 0h1m2 0h2m1 0h1m1 0h1m7 0h1m3 0h1m2 0h1m4 0h1m-63 1h1m12 0h2m3 0h1m2 0h1m2 0h1m5 0h2m1 0h1m9 0h1m5 0h1m2 0h2m3 0h1m8 0h2m4 0h1m-83 1h1m1 0h1m1 0h1m3 0h1m7 0h1m8 0h1m2 0h1m3 0h1m2 0h1m1 0h1m2 0h1m4 0h1m5 0h1m9 0h1m2 0h1m8 0h1m1 0h1m-84 1h2m3 0h1m1 0h1m11 0h2m7 0h1m12 0h2m2 0h1m2 0h2m3 0h2m5 0h1m8 0h1m1 0h1m1 0h2m8 0h1m12 0h1m-77 1h1m1 0h1m4 0h1m1 0h1m5 0h2m6 0h1m7 0h1m4 0h1m4 0h2m2 0h2m11 0h1m9 0h1m-74 1h1m1 0h1m5 0h1m1 0h1m2 0h2m3 0h1m1 0h1m14 0h2m1 0h1m5 0h1m2 0h1m3 0h2m11 0h1m-81 1h1m15 0h2m2 0h1m6 0h1m3 0h1m2 0h1m5 0h1m1 0h1m4 0h1m2 0h2m1 0h1m1 0h1m8 0h1m6 0h1m2 0h1m8 0h1m14 0h1m-92 1h1m15 0h1m6 0h2m13 0h1m1 0h1m3 0h2m15 0h1m4 0h1m4 0h2m4 0h1m2 0h1m2 0h1m7 0h1m-87 1h1m3 0h1m1 0h1m1 0h1m2 0h2m2 0h1m2 0h1m1 0h1m2 0h1m4 0h2m10 0h1m5 0h1m8 0h3m2 0h1m2 0h1m3 0h1m6 0h1m-78 1h1m3 0h1m10 0h1m6 0h1m5 0h2m1 0h2m1 0h2m8 0h1m9 0h1m4 0h1m7 0h1m7 0h1m-77 1h1m3 0h2m4 0h1m2 0h1m15 0h1m1 0h1m8 0h1m4 0h2m2 0h1m4 0h1m6 0h1m9 0h1m11 0h1m3 0h1m-82 1h1m1 0h2m1 0h1m22 0h1m1 0h1m6 0h1m2 0h1m1 0h3m4 0h1m11 0h1m8 0h1m3 0h1m-85 1h1m7 0h2m4 0h1m3 0h1m4 0h1m3 0h1m6 0h2m6 0h1m1 0h2m7 0h1m3 0h1m6 0h1m16 0h1m-85 1h1m5 0h1m14 0h1m11 0h1m2 0h2m3 0h1m1 0h1m9 0h4m6 0h1m7 0h1m2 0h1m-71 1h1m1 0h1m25 0h1m2 0h1m5 0h1m4 0h1m6 0h1m1 0h1m7 0h1m19 0h1m-76 1h2m33 0h1m11 0h1m5 0h1m2 0h1m16 0h1m26 0h1m-112 1h1m5 0h1m1 0h1m1 0h1m1 0h2m12 0h1m10 0h1m6 0h1m1 0h1m6 0h2m3 0h1m1 0h1m-58 1h1m5 0h1m6 0h1m10 0h1m9 0h3m1 0h1m3 0h1m5 0h1m-42 1h1m11 0h2m6 0h1m2 0h1m8 0h1m3 0h1m1 0h2m2 0h1m1 0h1m2 0h1m2 0h1m16 0h1m22 0h1m-108 1h1m8 0h1m2 0h1m2 0h2m1 0h2m4 0h1m4 0h1m13 0h1m4 0h1m1 0h1m3 0h1m3 0h1m1 0h1m31 0h1m-71 1h1m4 0h2m17 0h2m3 0h2m11 0h1m4 0h1m23 0h1m-101 1h1m6 0h1m16 0h2m7 0h1m4 0h1m9 0h1m1 0h2m1 0h1m5 0h1m6 0h1m9 0h1m-50 1h2m5 0h1m10 0h2m3 0h1m7 0h1m1 0h1m45 0h1m13 0h1m-102 1h1m1 0h1m7 0h2m1 0h1m3 0h1m2 0h1m2 0h3m4 0h2m1 0h1m5 0h1m5 0h1m49 0h1m-106 1h1m7 0h1m7 0h1m9 0h1m12 0h1m6 0h2m1 0h1m4 0h1m4 0h1m6 0h1m-62 1h1m3 0h2m16 0h1m2 0h2m6 0h1m7 0h1m4 0h1m-54 1h1m5 0h1m4 0h1m2 0h1m5 0h1m6 0h1m8 0h1m2 0h1m2 0h1m6 0h1m6 0h1m-59 1h1m11 0h1m7 0h1m6 0h2m3 0h3m1 0h1m2 0h2m2 0h1m2 0h2m9 0h1m-51 1h1m6 0h1m22 0h1m5 0h1m4 0h2m11 0h1m-49 1h1m5 0h1m7 0h1m3 0h1m2 0h1m4 0h1m2 0h1m1 0h1m-21 1h1m1 0h1m10 0h1m4 0h1m-49 1h1m14 0h1m5 0h1m3 0h1m1 0h1m5 0h1m2 0h1m1 0h1m1 0h1m5 0h1m26 0h1m-61 1h1m3 0h2m5 0h1m-28 1h1m15 0h1m1 0h1m3 0h1m1 0h1m1 0h1m1 0h1m5 0h1m2 0h1m1 0h1m3 0h1m4 0h1m1 0h1m4 0h1" stroke="#2a2a2a"/><path d="M107 38h1m-6 9h1m-2 1h1m-3 2h1m1 0h1m13 0h1m-50 2h1m22 0h1m14 0h2m8 0h1m-16 1h1m15 0h1m-17 1h1m-93 1h1m83 0h1m14 0h1m-11 1h1m8 0h1m-28 1h1m17 0h1m23 0h1m-44 1h1m13 0h1m6 0h1m1 0h1m6 0h1m2 0h1m-17 1h1m1 0h1m11 0h1m2 0h1m-16 1h1m6 0h1m-35 1h1m25 0h1m4 0h4m-23 1h1m10 0h1m11 0h1m2 0h3m-7 1h1m8 0h1m-22 1h1m11 0h1m-15 1h1m6 0h1m7 0h1m-69 1h1m56 0h1m0 1h1m-22 1h1m32 0h1m1 0h1m-18 1h1m6 0h1m1 0h1m-22 1h1m14 0h1m5 0h1m-54 1h1m26 0h1m17 0h1m3 0h2m1 0h1m11 0h1m-26 1h1m14 0h2m-4 1h1m-61 1h1m44 0h1m7 0h1m-36 1h1m38 0h1m1 1h1m-6 1h1m-35 1h1m14 0h1m8 0h1m-17 2h1m27 0h1m-1 1h1m1 0h1m-2 1h1m-4 1h1m7 0h1m-12 1h1m0 1h1m13 0h1m-105 1h1m87 0h1m-4 1h1m5 0h1m-7 1h1m-1 1h1m-9 1h1m11 0h1m3 0h1m-6 2h1m6 0h1m-96 1h1m74 0h1m11 0h1m-20 1h1m2 0h1m14 0h1m5 0h1m7 0h1m-56 1h1m30 0h1m6 0h1m-14 1h1m8 0h1m8 0h1m-3 1h2m-7 1h1m10 0h2m-38 1h1m33 0h1m-19 1h1m3 0h1m4 0h1m12 0h1m2 0h1m-24 1h1m1 0h1m12 0h1m-28 1h1m13 0h1m6 0h1m4 0h1m1 0h1m15 0h1m-32 1h2m-10 1h1m1 0h1m1 0h1m1 0h1m2 0h1m1 0h1m-28 1h1m12 0h1m13 0h1m5 0h5m-39 1h1m4 0h2m10 0h1m1 0h1m2 0h1m1 0h3m9 0h1m2 0h1m4 0h1m-36 1h1m1 0h1m5 0h1m2 0h1m3 0h1m4 0h1m5 0h1m5 0h1m-31 1h1m11 0h1m6 0h1m5 0h1m4 0h1m-18 1h1m9 0h1m-15 1h1m15 0h1m-29 1h1m10 0h1m2 0h2m4 0h1m9 0h2m2 0h1m3 0h1m-40 1h1m3 0h2m5 0h1m7 0h1m8 0h1m9 0h1m-44 1h1m5 0h2m1 0h1m4 0h1m4 0h5m2 0h1m16 0h1m-39 1h1m6 0h1m9 0h1m36 0h1m-56 1h2m2 0h1m2 0h1m7 0h1m4 0h1m1 0h1m3 0h1m7 0h2m-38 1h1m5 0h1m1 0h1m2 0h3m3 0h1m6 0h1m3 0h1m2 0h1m13 0h1m-55 1h1m2 0h1m9 0h1m1 0h1m4 0h2m1 0h1m6 0h1m8 0h1m5 0h1m-51 1h1m5 0h2m8 0h1m2 0h1m4 0h1m1 0h3m2 0h1m2 0h1m2 0h3m3 0h1m1 0h1m1 0h1m7 0h1m11 0h1m1 0h1m-57 1h1m4 0h1m1 0h1m6 0h2m3 0h1m19 0h1m-51 1h1m3 0h1m5 0h1m2 0h1m2 0h2m4 0h1m2 0h2m2 0h3m9 0h1m4 0h1m2 0h1m-48 1h1m7 0h1m1 0h1m5 0h1m1 0h1m2 0h1m1 0h1m2 0h2m2 0h1m14 0h1m-49 1h3m1 0h1m1 0h1m3 0h3m4 0h1m1 0h3m2 0h1m1 0h1m2 0h1m5 0h1m1 0h1m5 0h1m4 0h1m6 0h1m-62 1h1m6 0h2m5 0h2m2 0h1m1 0h5m1 0h1m2 0h2m3 0h1m2 0h1m24 0h1m-62 1h1m2 0h2m3 0h1m1 0h2m1 0h1m3 0h5m2 0h5m1 0h1m2 0h2m4 0h1m6 0h1m12 0h1m-66 1h1m8 0h1m5 0h2m2 0h1m1 0h1m1 0h2m1 0h4m2 0h2m1 0h4m1 0h1m2 0h2m2 0h1m12 0h1m14 0h1m1 0h1m-69 1h1m2 0h1m3 0h1m1 0h2m4 0h3m2 0h1m2 0h1m2 0h1m1 0h3m4 0h1m6 0h1m8 0h1m-60 1h1m3 0h1m3 0h1m4 0h13m5 0h2m2 0h1m12 0h1m18 0h1m3 0h1m-65 1h1m1 0h7m2 0h2m1 0h3m2 0h5m1 0h1m1 0h2m1 0h1m1 0h1m2 0h1m-44 1h1m3 0h1m4 0h3m1 0h2m3 0h3m1 0h6m2 0h2m2 0h2m6 0h2m29 0h1m-72 1h1m3 0h6m1 0h1m1 0h9m1 0h2m2 0h1m1 0h1m7 0h1m-41 1h1m6 0h3m1 0h7m2 0h4m1 0h2m1 0h4m-30 1h1m2 0h1m1 0h2m1 0h4m1 0h11m1 0h2m1 0h1m1 0h3m-32 1h1m1 0h1m1 0h3m1 0h4m1 0h7m1 0h1m2 0h4m14 0h1m27 0h1m-73 1h1m2 0h1m2 0h7m1 0h1m1 0h5m1 0h3m3 0h1m3 0h1m2 0h1m10 0h1m-46 1h2m4 0h1m4 0h6m1 0h2m1 0h3m1 0h2m1 0h1m1 0h1m3 0h1m11 0h1m-56 1h1m5 0h1m5 0h1m1 0h4m1 0h13m1 0h4m3 0h1m14 0h1m-55 1h1m5 0h1m6 0h2m2 0h5m1 0h5m1 0h1m1 0h3m8 0h1m-36 1h1m1 0h1m3 0h1m1 0h3m2 0h2m4 0h2m27 0h1m34 0h1m-89 1h1m9 0h1m3 0h2m1 0h5m4 0h3m1 0h2m4 0h1m3 0h2m-39 1h1m2 0h1m3 0h1m1 0h1m1 0h1m2 0h1m1 0h2m3 0h3m17 0h1m-36 1h2m1 0h1m2 0h1m1 0h1m1 0h1m1 0h1m3 0h1m5 0h1m-30 1h1m2 0h2m1 0h1m2 0h2m1 0h1m1 0h2m2 0h2m2 0h1m2 0h1m2 0h2m-29 1h1m1 0h1m10 0h1m1 0h2m1 0h1m7 0h1m6 0h1m-38 1h1m5 0h1m9 0h1m9 0h2m7 0h1m-28 1h1m4 0h2m4 0h1m10 0h1m-25 1h1m7 0h1m2 0h1m-10 1h1m8 0h2m1 0h1m-28 1h1m7 1h1m32 0h1m-55 1h1m15 0h2m11 0h1m7 0h2m4 0h1m4 0h1m10 0h1" stroke="#000"/></g><g fill="none" stroke-width="1" transform="scale(1.36) translate(0.0,0.5)"><path d="M115 30h1m-50 5h1m-49 1h1m87 0h1m-59 2h1m37 1h1m18 1h1m-12 1h1m13 0h1m-56 1h1m15 0h1m16 0h1m6 1h1m30 0h1m-76 1h1m4 0h1m39 0h1m-64 1h2m47 0h1m20 0h1m-54 1h1m23 0h1m13 0h1m5 0h1m1 0h1m21 0h1m-35 1h1m25 0h1m-49 1h1m-1 1h1m20 0h1m18 0h1m3 0h1m6 0h1m11 0h1m-39 1h1m9 0h1m-74 1h1m23 0h1m40 0h1m8 0h1m3 0h1m9 0h1m4 0h1m-84 1h1m24 0h1m-25 1h1m39 0h1m31 0h1m5 0h1m-111 1h1m69 0h1m17 0h1m21 0h2m-34 1h1m15 0h1m-80 1h1m31 0h1m26 0h1m3 0h1m4 0h1m5 0h1m6 0h1m11 0h1m-109 1h1m17 0h1m47 0h1m13 0h1m14 0h1m4 0h1m2 0h1m8 0h1m-81 1h1m4 0h1m28 0h1m15 0h1m7 0h1m5 0h1m-70 1h1m3 0h2m18 0h1m4 0h1m48 0h2m2 0h3m-61 1h1m23 0h1m10 0h1m21 0h1m-93 1h1m63 0h1m9 0h1m5 0h2m4 0h1m2 0h1m-90 1h1m21 0h1m39 0h1m29 0h2m-110 1h1m17 0h1m17 0h1m13 0h1m34 0h1m4 0h1m10 0h1m3 0h2m12 0h1m-107 1h1m31 0h1m34 0h1m11 0h2m22 0h1m-97 1h1m32 0h1m34 0h1m7 0h1m1 0h1m7 0h1m-56 1h1m19 0h1m5 0h1m8 0h1m17 0h1m3 0h1m1 0h1m-72 1h1m12 0h1m4 0h1m24 0h1m11 0h1m6 0h1m5 0h1m-82 1h1m10 0h1m46 0h1m16 0h1m5 0h1m-101 1h1m18 0h1m12 0h1m36 0h1m15 0h1m11 0h1m1 0h1m1 0h1m8 0h1m-118 1h1m25 0h1m11 0h1m43 0h1m7 0h1m1 0h1m2 0h1m3 0h1m-73 1h1m27 0h1m34 0h1m2 0h1m5 0h1m5 0h1m-86 1h1m11 0h1m9 0h1m67 0h1m-111 1h1m29 0h1m57 0h1m4 0h1m4 0h1m9 0h1m-75 1h1m63 0h1m8 0h1m-97 1h1m17 0h1m27 0h1m3 0h2m11 0h1m11 0h1m4 0h1m1 0h1m5 0h1m-58 1h1m17 0h1m14 0h1m12 0h2m4 0h1m1 0h1m5 0h1m1 0h2m-61 1h1m45 0h1m7 0h1m6 0h1m-83 1h1m6 0h1m58 0h1m13 0h1m19 0h1m-76 1h1m12 0h1m12 0h1m7 0h1m7 0h1m24 0h1m-29 1h1m1 0h1m10 0h1m-77 1h1m21 0h1m36 0h1m7 0h1m8 0h1m-68 1h1m49 0h1m1 0h1m16 0h1m1 0h1m3 0h1m2 0h1m-87 1h1m14 0h2m12 0h1m17 0h1m17 0h1m5 0h1m-98 1h1m14 0h1m53 0h1m1 0h1m17 0h2m1 0h1m-91 1h1m35 0h1m16 0h1m25 0h1m26 0h1m-109 1h1m62 0h1m19 0h1m16 0h1m2 0h1m1 0h1m-68 1h1m30 0h1m12 0h1m7 0h1m2 0h1m1 0h1m-96 1h1m27 0h1m3 0h1m44 0h1m8 0h1m-75 1h1m65 0h1m5 0h2m6 0h1m2 0h1m9 0h1m-37 1h1m7 0h1m1 0h2m1 0h1m8 0h1m6 0h1m-63 1h1m17 0h1m15 0h1m1 0h1m3 0h1m-50 1h1m36 0h1m5 0h1m13 0h1m3 0h1m6 0h1m-92 1h1m33 0h1m22 0h1m13 0h1m17 0h1m-1 1h1m1 0h1m-29 1h2m1 0h1m1 0h1m21 0h1m-14 1h1m1 0h1m5 0h1m-25 1h3m21 0h1m11 0h1m5 0h1m-47 1h1m13 0h1m12 0h1m1 0h1m-31 1h1m29 0h1m-18 1h1m11 0h1m5 0h1m9 0h1m-56 1h1m4 0h1m14 0h1m6 0h1m-64 1h1m47 0h1m1 0h1m13 0h1m5 0h1m32 0h1m-88 1h1m22 0h1m14 0h1m4 0h1m11 0h1m6 0h1m12 0h1m-65 1h1m3 0h1m21 0h1m16 0h1m9 0h1m9 0h1m-56 1h1m16 0h1m9 0h1m7 0h1m4 0h1m1 0h1m13 0h1m-44 1h1m2 0h1m5 0h1m5 0h1m1 0h1m5 0h1m-22 1h1m7 0h1m6 0h1m9 0h1m2 0h1m11 0h1m-46 1h1m2 0h1m9 0h1m27 0h1m-71 1h1m38 0h1m1 0h1m21 0h1m15 0h1m-65 1h1m19 0h1m9 0h1m1 0h1m5 0h1m7 0h1m2 0h1m-37 1h1m5 0h2m8 0h2m22 0h1m-82 1h1m36 0h1m15 0h1m3 0h1m16 0h1m1 0h2m4 0h1m10 0h1m4 0h1m-71 1h1m17 0h1m18 0h1m10 0h1m4 0h1m2 0h1m-54 1h1m7 0h1m7 0h1m-23 1h1m11 0h1m1 0h2m1 0h1m3 0h1m8 0h1m3 0h1m4 0h1m3 0h1m6 0h1m16 0h1m-59 1h1m2 0h1m7 0h1m1 0h1m3 0h1m7 0h1m11 0h1m2 0h1m3 0h1m13 0h2m10 0h1m-86 1h1m3 0h1m9 0h2m9 0h1m-25 1h2m4 0h1m13 0h1m2 0h1m21 0h2m11 0h1m15 0h1m-57 1h1m7 0h1m27 0h1m12 0h1m-70 1h1m3 0h1m19 0h2m16 0h1m1 0h1m23 0h1m4 0h1m19 0h1m-80 1h1m3 0h1m1 0h1m19 0h1m2 0h1m4 0h1m4 0h1m17 0h1m-70 1h2m5 0h2m7 0h1m15 0h1m3 0h1m1 0h1m4 0h1m1 0h1m5 0h1m4 0h1m15 0h1m12 0h1m-87 1h1m6 0h1m3 0h1m12 0h1m-35 1h1m7 0h1m12 0h1m4 0h3m8 0h1m3 0h1m6 0h1m3 0h1m38 0h1m12 0h1m-95 1h1m4 0h1m3 0h1m3 0h2m3 0h2m33 0h1m8 0h1m-76 1h1m7 0h1m10 0h1m35 0h1m33 0h1m6 0h1m-78 1h1m14 0h2m8 0h1m11 0h1m12 0h1m3 0h1m2 0h1m7 0h1m4 0h1m1 0h1m7 0h1m2 0h1m-118 1h1m12 0h1m25 0h1m19 0h1m2 0h1m6 0h1m35 0h1m-100 1h1m26 0h1m2 0h1m27 0h1m7 0h1m-58 1h1m10 0h1m5 0h4m22 0h1m4 0h1m19 0h2m12 0h1m8 0h1m3 0h1m-79 1h2m13 0h1m8 0h1m9 0h2m7 0h1m3 0h1m8 0h1m13 0h1m-71 1h2m1 0h1m4 0h1m3 0h1m21 0h1m5 0h1m-42 1h1m2 0h1m13 0h1m1 0h1m7 0h1m1 0h1m-49 1h1m6 0h1m4 0h1m12 0h1m6 0h1m10 0h1m42 0h1m3 0h1m6 0h1m-100 1h1m10 0h1m6 0h1m5 0h1m3 0h1m3 0h1m14 0h1m1 0h1m1 0h1m11 0h1m16 0h1m14 0h1m-54 1h1m5 0h1m4 0h1m2 0h1m1 0h1m-35 1h1m3 0h1m8 0h1m10 0h1m15 0h1m3 0h2m-61 1h1m5 0h2m29 0h2m-29 1h1m3 0h1m14 0h2m-27 1h1m6 0h1m4 0h1m12 0h1m9 0h1m3 0h1m-48 1h1m9 0h1m6 0h1m5 0h1m5 0h1m2 0h1m9 0h1m15 0h1m-46 1h2m1 0h1m1 0h1m3 0h1m1 0h1m5 0h1m4 0h1m5 0h1m5 0h1m23 0h1m-75 1h1m14 0h1m20 0h1m2 0h1m7 0h2m-35 1h1m9 0h1m3 0h1m1 0h1m2 0h1m-39 1h1m8 0h1m19 0h1m-19 1h1m1 0h1m36 0h1m2 0h1m-47 1h1m3 0h1m3 0h1m5 0h1m-12 3h1m6 0h1m9 0h1m10 0h1m5 0h1m4 0h1m8 0h1" stroke="#7a7a7a"/><path d="M102 27h1m25 7h1m-16 2h2m1 0h1m-7 1h1m-71 2h1m15 0h1m25 1h1m28 0h1m4 0h1m-111 1h1m92 0h1m9 0h1m-67 1h1m66 0h1m-23 1h1m9 0h1m9 0h1m4 0h1m25 0h1m-97 1h1m16 0h1m46 0h1m1 0h1m-22 1h1m6 0h1m1 0h1m-56 1h1m64 0h1m-80 1h1m39 0h1m37 0h1m-27 1h1m22 0h1m1 0h1m1 0h1m1 0h1m1 0h1m-84 1h1m3 0h1m16 0h1m16 0h1m27 0h1m6 0h1m1 0h1m2 0h1m11 0h1m-95 1h1m7 0h1m28 0h1m19 0h1m7 0h1m2 0h1m6 0h1m9 0h1m-58 1h1m14 0h1m2 0h1m18 0h1m12 0h2m9 0h1m-65 1h2m27 0h1m5 0h1m6 0h1m2 0h1m2 0h3m19 0h1m4 0h1m1 0h1m-97 1h1m4 0h1m1 0h1m6 0h1m4 0h1m31 0h1m7 0h1m13 0h1m8 0h1m5 0h1m-91 1h1m18 0h1m40 0h1m13 0h1m2 0h1m-88 1h1m14 0h1m1 0h1m30 0h1m18 0h1m8 0h1m5 0h1m4 0h3m-58 1h1m34 0h1m7 0h1m1 0h1m5 0h1m1 0h1m1 0h2m3 0h1m2 0h1m-97 1h1m8 0h1m12 0h1m21 0h1m1 0h1m19 0h1m2 0h1m1 0h1m8 0h1m4 0h1m8 0h1m3 0h1m4 0h1m-120 1h1m34 0h1m13 0h2m35 0h1m5 0h2m3 0h1m8 0h1m1 0h1m4 0h1m-95 1h1m22 0h1m50 0h1m6 0h1m2 0h2m2 0h1m9 0h1m-77 1h1m28 0h1m13 0h1m10 0h1m4 0h2m-24 1h1m12 0h1m1 0h1m1 0h1m7 0h2m-68 1h1m23 0h1m24 0h1m1 0h1m7 0h1m16 0h1m-111 1h1m1 0h1m43 0h1m11 0h1m30 0h1m3 0h1m1 0h3m15 0h1m1 0h1m-107 1h1m9 0h1m37 0h1m7 0h1m26 0h1m2 0h1m12 0h1m-80 1h1m5 0h1m1 0h1m30 0h1m14 0h1m5 0h1m2 0h1m1 0h1m2 0h1m4 0h1m1 0h1m-93 1h1m19 0h1m30 0h1m11 0h1m15 0h2m1 0h1m5 0h1m2 0h1m-87 1h1m3 0h1m2 0h1m7 0h1m5 0h1m4 0h1m6 0h1m13 0h1m12 0h1m7 0h1m6 0h1m1 0h1m14 0h1m4 0h1m-114 1h1m9 0h1m3 0h1m36 0h1m4 0h1m5 0h1m20 0h1m4 0h1m1 0h1m8 0h1m6 0h1m14 0h1m-83 1h1m7 0h2m1 0h1m4 0h1m10 0h1m14 0h1m8 0h3m4 0h1m3 0h1m12 0h1m-85 1h1m2 0h1m30 0h1m9 0h1m4 0h2m25 0h1m-77 1h2m1 0h1m2 0h1m17 0h1m27 0h1m2 0h1m16 0h1m2 0h1m1 0h1m-112 1h1m10 0h1m25 0h1m2 0h1m3 0h1m3 0h1m1 0h1m10 0h1m1 0h1m18 0h1m9 0h1m3 0h1m3 0h1m6 0h1m4 0h1m-96 1h1m16 0h2m6 0h1m11 0h1m3 0h1m10 0h1m27 0h1m3 0h1m1 0h1m6 0h1m-111 1h2m2 0h1m2 0h1m16 0h1m14 0h1m3 0h1m5 0h1m10 0h1m2 0h1m3 0h1m6 0h1m12 0h1m6 0h1m5 0h1m-101 1h1m24 0h1m5 0h1m23 0h1m2 0h1m20 0h1m5 0h1m23 0h1m2 0h2m-98 1h1m21 0h1m4 0h1m8 0h1m2 0h1m10 0h1m2 0h1m12 0h1m7 0h2m9 0h1m6 0h1m-100 1h1m14 0h1m1 0h1m47 0h1m19 0h1m2 0h1m-60 1h1m14 0h1m2 0h1m14 0h1m16 0h1m5 0h1m3 0h1m2 0h1m-67 1h1m7 0h1m23 0h1m27 0h1m2 0h1m3 0h1m6 0h1m1 0h1m-109 1h1m36 0h1m30 0h1m1 0h1m5 0h1m3 0h1m5 0h1m2 0h1m6 0h1m3 0h1m-104 1h1m6 0h1m9 0h1m69 0h1m2 0h1m11 0h1m-97 1h1m30 0h1m12 0h3m11 0h1m9 0h1m18 0h2m1 0h1m2 0h1m8 0h1m-109 1h1m22 0h1m9 0h1m24 0h1m6 0h1m3 0h1m23 0h2m-69 1h1m2 0h1m2 0h1m5 0h1m9 0h1m39 0h1m4 0h1m11 0h1m6 0h1m-71 1h1m40 0h1m1 0h2m4 0h1m4 0h2m1 0h1m-83 1h1m25 0h1m2 0h1m17 0h1m3 0h1m4 0h1m5 0h1m5 0h1m6 0h1m5 0h2m1 0h1m-72 1h1m3 0h1m22 0h1m36 0h1m3 0h1m-56 1h1m9 0h1m5 0h1m2 0h2m2 0h1m15 0h2m1 0h1m3 0h1m5 0h1m-96 1h1m50 0h1m20 0h1m3 0h1m9 0h1m3 0h1m7 0h1m2 0h1m9 0h1m-112 1h1m35 0h2m30 0h1m15 0h1m1 0h1m5 0h1m2 0h2m-66 1h1m10 0h1m22 0h1m3 0h1m1 0h1m14 0h2m-87 1h1m7 0h1m29 0h1m12 0h1m9 0h1m6 0h1m7 0h1m11 0h2m8 0h1m1 0h1m-61 1h1m23 0h1m4 0h1m7 0h1m4 0h3m-70 1h1m8 0h1m22 0h1m21 0h1m8 0h1m4 0h2m1 0h1m6 0h1m2 0h1m2 0h1m-101 1h1m45 0h1m5 0h1m30 0h1m2 0h2m4 0h1m-93 1h1m15 0h1m15 0h1m20 0h1m18 0h1m5 0h1m1 0h1m3 0h1m3 0h1m2 0h1m5 0h1m12 0h1m-63 1h1m8 0h1m5 0h1m4 0h1m1 0h2m5 0h1m9 0h1m2 0h2m1 0h1m10 0h1m-51 1h1m10 0h1m4 0h1m3 0h1m1 0h1m3 0h1m4 0h1m6 0h1m-45 1h1m9 0h1m9 0h1m3 0h1m3 0h1m5 0h1m1 0h1m4 0h1m11 0h1m2 0h1m-40 1h1m2 0h1m3 0h1m7 0h1m1 0h1m6 0h1m3 0h1m-94 1h1m66 0h1m4 0h1m2 0h1m1 0h1m1 0h3m7 0h2m6 0h1m-31 1h1m7 0h1m7 0h1m4 0h1m5 0h1m-77 1h1m21 0h1m11 0h1m3 0h1m5 0h1m5 0h1m7 0h1m7 0h4m1 0h1m5 0h1m6 0h1m-64 1h1m12 0h1m1 0h1m2 0h1m8 0h1m2 0h3m1 0h1m1 0h1m2 0h1m2 0h2m2 0h1m1 0h2m2 0h1m4 0h1m-73 1h1m9 0h1m30 0h1m7 0h1m3 0h1m3 0h1m1 0h1m12 0h1m10 0h1m3 0h1m-78 1h1m5 0h1m6 0h1m26 0h1m11 0h1m-56 1h1m8 0h1m5 0h1m2 0h1m13 0h1m2 0h1m5 0h1m1 0h1m4 0h1m1 0h1m2 0h1m6 0h1m3 0h1m2 0h1m-49 1h1m14 0h1m7 0h2m4 0h2m3 0h1m2 0h1m2 0h1m13 0h1m4 0h1m-59 1h1m2 0h2m3 0h1m19 0h1m1 0h1m9 0h3m-52 1h1m6 0h2m4 0h1m6 0h3m3 0h1m3 0h1m3 0h2m2 0h1m4 0h2m-45 1h1m2 0h1m2 0h2m1 0h1m10 0h1m2 0h1m6 0h1m4 0h1m8 0h1m3 0h1m9 0h1m-100 1h1m45 0h1m1 0h1m8 0h1m4 0h3m3 0h1m2 0h1m3 0h2m1 0h1m8 0h1m4 0h1m14 0h1m-60 1h1m3 0h1m1 0h2m4 0h2m1 0h2m2 0h1m12 0h1m5 0h1m2 0h1m19 0h1m-70 1h1m5 0h1m1 0h1m6 0h1m4 0h2m18 0h2m1 0h1m1 0h2m1 0h1m3 0h1m11 0h1m6 0h1m-90 1h1m19 0h1m7 0h1m9 0h1m2 0h2m5 0h1m1 0h1m1 0h1m3 0h1m2 0h1m2 0h1m3 0h1m-60 1h1m14 0h1m15 0h1m11 0h1m4 0h1m1 0h1m2 0h1m4 0h1m12 0h1m20 0h1m-80 1h3m2 0h1m6 0h1m5 0h3m3 0h2m2 0h1m2 0h1m11 0h2m2 0h1m1 0h1m3 0h1m21 0h1m2 0h1m-80 1h1m1 0h1m3 0h2m2 0h1m1 0h1m4 0h2m1 0h1m5 0h1m2 0h1m5 0h1m3 0h1m8 0h1m7 0h1m21 0h1m-91 1h1m14 0h1m2 0h1m3 0h2m2 0h1m7 0h1m1 0h1m3 0h1m1 0h5m7 0h1m1 0h1m9 0h1m2 0h1m-74 1h1m12 0h1m8 0h1m3 0h1m8 0h2m1 0h1m4 0h1m7 0h3m2 0h2m4 0h1m4 0h1m-72 1h1m6 0h1m4 0h1m1 0h1m3 0h1m3 0h1m1 0h1m6 0h1m9 0h1m1 0h1m1 0h1m5 0h1m1 0h1m1 0h1m10 0h2m1 0h1m6 0h1m5 0h1m2 0h2m-70 1h1m2 0h1m2 0h1m10 0h1m13 0h1m1 0h1m4 0h1m3 0h1m3 0h2m7 0h1m2 0h1m6 0h1m6 0h1m1 0h1m-99 1h1m10 0h1m13 0h1m1 0h1m1 0h1m4 0h2m4 0h1m6 0h1m3 0h1m1 0h1m2 0h1m4 0h1m3 0h1m4 0h1m1 0h1m1 0h1m7 0h1m1 0h1m2 0h1m3 0h1m8 0h1m-83 1h1m8 0h1m25 0h2m3 0h1m3 0h1m1 0h1m1 0h2m1 0h1m5 0h1m11 0h1m7 0h1m-83 1h1m4 0h1m8 0h1m5 0h2m9 0h2m6 0h1m6 0h1m8 0h1m9 0h1m6 0h1m6 0h1m-82 1h1m1 0h1m8 0h1m7 0h1m10 0h1m2 0h1m17 0h1m7 0h2m8 0h1m18 0h1m1 0h1m-98 1h1m6 0h2m11 0h2m2 0h1m1 0h1m4 0h1m13 0h1m6 0h1m1 0h1m4 0h1m20 0h1m15 0h1m4 0h1m3 0h1m-112 1h1m14 0h1m5 0h1m4 0h1m6 0h1m2 0h1m5 0h1m5 0h1m9 0h2m9 0h1m24 0h1m3 0h1m-87 1h1m3 0h1m8 0h1m27 0h1m2 0h1m14 0h1m6 0h1m2 0h1m3 0h1m11 0h1m-103 1h1m17 0h1m13 0h1m1 0h2m11 0h1m1 0h1m8 0h1m3 0h1m7 0h1m12 0h1m20 0h1m2 0h1m-97 1h1m9 0h1m5 0h1m2 0h2m23 0h1m8 0h1m7 0h1m12 0h1m7 0h1m-76 1h1m3 0h1m3 0h2m4 0h2m12 0h1m4 0h1m2 0h1m1 0h1m3 0h1m5 0h1m44 0h1m5 0h1m-97 1h1m3 0h1m2 0h2m3 0h1m4 0h1m10 0h1m3 0h1m1 0h1m3 0h1m4 0h1m26 0h1m14 0h1m10 0h1m-113 1h1m7 0h1m4 0h2m9 0h1m2 0h1m5 0h1m5 0h1m2 0h1m2 0h1m11 0h1m2 0h1m16 0h1m8 0h1m-93 1h2m3 0h1m14 0h2m2 0h1m2 0h2m4 0h1m12 0h1m32 0h1m1 0h1m14 0h1m9 0h1m-92 1h1m1 0h1m1 0h1m9 0h2m2 0h1m1 0h1m7 0h1m1 0h1m2 0h1m2 0h1m6 0h1m10 0h1m43 0h1m-100 1h1m2 0h2m4 0h2m2 0h1m9 0h1m8 0h1m2 0h4m3 0h1m2 0h1m2 0h1m11 0h1m10 0h1m-75 1h1m2 0h1m3 0h2m11 0h1m7 0h1m5 0h1m6 0h1m2 0h2m3 0h1m39 0h1m-92 1h1m5 0h1m7 0h1m11 0h2m5 0h1m7 0h1m2 0h1m2 0h1m19 0h1m-73 1h1m11 0h1m1 0h1m2 0h1m2 0h3m8 0h2m6 0h1m16 0h1m1 0h1m-52 1h1m4 0h2m5 0h1m6 0h1m1 0h1m7 0h1m1 0h2m4 0h1m1 0h1m10 0h1m27 0h1m-97 1h1m15 0h1m5 0h1m3 0h1m2 0h1m9 0h2m3 0h2m4 0h2m5 0h1m9 0h1m13 0h1m-61 1h2m4 0h1m5 0h1m13 0h2m1 0h2m2 0h1m-29 1h1m23 0h1m2 0h1m3 0h1m-36 1h1m5 0h1m3 0h1m4 0h1m3 0h3m1 0h1m8 0h1m4 0h1m3 0h1m4 0h1m15 0h1m-67 1h1m15 0h2m3 0h2m7 0h1m3 0h1m20 0h1m-38 1h1m8 0h1m2 0h1m7 0h1m6 0h3m-46 1h1m4 0h1m3 0h1m1 0h3m8 0h1m11 0h1m1 0h1m12 0h1m-58 1h1m17 0h1m3 0h1m6 0h1m2 0h1m3 0h1m-45 1h1m1 0h1m5 0h1m1 0h1m4 0h1m3 0h1m3 0h1m9 0h1m2 0h1m3 0h1m1 0h2m3 0h2m5 0h1m7 0h1" stroke="#2a2a2a"/><path d="M98 45h1m4 0h1m-29 2h1m22 2h1m9 1h1m-18 1h1m12 0h1m1 0h1m-5 1h1m8 0h1m-73 1h1m51 0h1m18 0h1m-19 1h1m17 0h1m-22 1h1m11 0h1m5 1h1m-61 1h1m46 0h2m2 0h1m6 0h1m-5 1h1m6 0h1m-18 1h1m6 0h1m-7 1h1m2 0h1m1 0h2m1 1h1m-69 1h1m20 0h1m44 0h1m2 0h2m8 0h1m-58 1h1m49 0h1m-104 1h1m31 0h1m17 0h1m40 0h1m2 0h1m9 0h1m-63 1h1m47 0h1m2 0h1m14 0h1m-11 1h1m10 0h1m-59 1h1m39 0h1m10 0h1m-68 1h1m42 0h1m11 0h1m2 0h1m2 2h1m-80 1h1m63 0h1m10 0h1m8 0h1m-36 1h1m26 0h1m3 0h1m-48 1h1m30 0h1m4 0h1m2 1h1m-43 1h1m41 0h1m5 0h1m-71 1h1m25 0h1m33 0h1m9 0h1m-34 1h1m33 0h1m-97 1h1m56 0h1m24 0h1m8 0h2m10 0h1m-17 1h1m5 0h1m3 0h1m-98 1h1m90 0h1m-11 1h1m1 0h1m9 0h1m1 0h1m-8 1h1m17 0h1m-64 2h1m39 0h1m-7 2h1m6 0h1m5 0h1m-14 1h1m5 0h1m5 0h1m2 0h1m19 0h1m-40 1h1m22 0h1m-31 1h1m20 1h1m2 0h1m2 0h1m-94 1h1m81 0h1m8 0h1m-9 1h1m-2 1h1m12 0h1m-20 1h1m-42 1h1m38 0h1m3 0h1m1 0h1m8 0h1m-16 1h3m5 0h1m-14 2h1m1 0h1m5 0h1m1 0h1m2 0h1m3 0h1m14 0h1m-32 1h1m16 0h1m8 0h1m-97 1h1m68 0h1m4 0h1m4 0h1m3 0h2m-23 1h1m15 0h1m4 0h1m10 0h1m-32 1h1m13 0h3m1 0h1m5 0h1m-22 1h1m3 0h1m3 0h1m2 0h1m2 0h1m1 0h1m11 0h1m3 0h1m-35 1h1m19 0h1m8 0h1m-30 1h1m11 0h1m1 0h1m-9 1h1m1 0h1m3 0h1m1 0h2m2 0h1m1 0h1m10 0h1m-31 1h1m7 0h1m3 0h2m1 0h1m1 0h2m3 0h1m-21 1h1m2 0h1m1 0h1m2 0h1m5 0h1m1 0h1m4 0h1m-27 1h3m5 0h3m1 0h1m2 0h1m-26 1h1m7 0h1m5 0h1m21 0h2m1 0h1m-63 1h1m27 0h1m11 0h1m8 0h1m1 0h1m3 0h1m-40 1h1m14 0h2m9 0h1m6 0h1m1 0h1m1 0h1m2 0h1m-34 1h1m14 0h1m1 0h8m3 0h1m1 0h1m3 0h1m13 0h1m-55 1h1m11 0h2m4 0h1m4 0h1m1 0h1m2 0h2m-31 1h1m8 0h1m7 0h2m3 0h1m8 0h1m19 0h1m-49 1h1m6 0h2m5 0h2m2 0h1m2 0h3m2 0h2m6 0h1m2 0h1m-44 1h1m6 0h1m1 0h2m5 0h3m3 0h3m2 0h2m1 0h1m3 0h1m1 0h3m2 0h1m-52 1h1m14 0h1m7 0h1m1 0h1m3 0h1m4 0h1m3 0h1m5 0h1m5 0h1m6 0h1m-44 1h1m2 0h1m5 0h1m1 0h2m1 0h2m3 0h1m1 0h1m3 0h1m5 0h2m1 0h1m1 0h1m-30 1h2m3 0h3m4 0h1m1 0h1m8 0h1m9 0h1m18 0h1m-64 1h1m7 0h1m1 0h1m1 0h4m1 0h1m1 0h2m1 0h1m1 0h1m1 0h3m9 0h2m1 0h1m-40 1h1m2 0h2m1 0h4m1 0h1m1 0h2m1 0h3m1 0h1m1 0h3m4 0h1m8 0h1m20 0h1m-70 1h1m10 0h1m1 0h1m3 0h4m3 0h2m1 0h1m1 0h3m1 0h1m1 0h2m10 0h1m21 0h1m-70 1h1m3 0h1m5 0h2m1 0h1m3 0h5m1 0h2m1 0h3m2 0h2m11 0h1m1 0h1m2 0h1m8 0h1m-58 1h2m2 0h2m3 0h1m2 0h1m4 0h7m2 0h6m2 0h1m3 0h1m3 0h1m-39 1h2m2 0h1m2 0h10m1 0h2m1 0h3m1 0h4m2 0h1m10 0h1m10 0h1m-56 1h1m3 0h2m1 0h1m1 0h4m1 0h2m2 0h8m2 0h3m2 0h1m6 0h1m3 0h1m1 0h1m-52 1h1m3 0h2m3 0h2m1 0h2m2 0h1m1 0h4m2 0h4m5 0h1m3 0h2m24 0h1m4 0h2m4 0h1m-74 1h1m7 0h3m1 0h21m1 0h1m33 0h1m-73 1h1m1 0h1m3 0h1m5 0h1m2 0h1m1 0h2m1 0h2m1 0h1m1 0h1m1 0h1m1 0h3m2 0h3m2 0h1m5 0h2m4 0h1m2 0h1m-59 1h1m1 0h1m4 0h1m7 0h11m1 0h5m2 0h1m1 0h1m2 0h1m1 0h2m-41 1h1m4 0h1m5 0h1m3 0h2m1 0h3m1 0h5m1 0h4m1 0h1m2 0h1m2 0h1m5 0h1m-46 1h2m2 0h2m1 0h1m4 0h2m1 0h4m1 0h5m1 0h1m1 0h2m1 0h3m14 0h1m35 0h1m-92 1h1m11 0h1m1 0h1m1 0h1m1 0h2m2 0h3m2 0h1m1 0h2m2 0h2m2 0h1m2 0h4m-31 1h1m3 0h1m1 0h1m1 0h1m1 0h1m1 0h1m2 0h5m1 0h2m2 0h3m1 0h1m3 0h1m-44 1h1m6 0h2m2 0h1m3 0h2m1 0h1m1 0h1m1 0h1m2 0h2m1 0h1m1 0h1m3 0h1m2 0h1m10 0h1m-39 1h1m1 0h3m1 0h2m2 0h1m1 0h2m1 0h1m1 0h1m3 0h1m-33 1h1m5 0h1m3 0h1m2 0h1m1 0h1m1 0h7m1 0h5m1 0h3m1 0h2m25 0h1m-58 1h1m3 0h2m1 0h2m2 0h4m2 0h5m1 0h2m6 0h1m9 0h1m-34 1h2m7 0h1m1 0h4m1 0h1m1 0h1m1 0h1m3 0h2m-33 1h1m4 0h1m7 0h1m1 0h3m7 0h1m8 0h1m-27 1h1m9 0h3m3 0h1m2 0h1m-17 1h1m1 0h3m5 0h1m-22 1h1m5 0h1m4 0h1m-13 1h1m2 0h2m7 0h1m-10 1h1m2 0h1m4 0h1m-12 2h1m19 0h1m-48 2h1m25 0h1m3 0h1m3 0h1m7 0h2m1 0h1m8 0h1m2 0h1" stroke="#000"/></g><path d="M0 0H205.5V205.5" fill="none" stroke="#2a2a2a" stroke-width="1.45"/><path d="M0 0V205.5" fill="none" stroke="#666" stroke-width="1.3"/><path d="M-6 205.5H205.5" fill="none" stroke="#111" stroke-width="1.5"/><path d="M117.7 0V205.5" fill="none" stroke="#111" stroke-width="1.7"/><path d="M0 139.2H205.5" fill="none" stroke="#111" stroke-width="1.5"/><path d="M0.0 205.5v5.5M51.2 205.5v5.5M102.4 205.5v5.5M153.6 205.5v5.5M204.8 205.5v5.5M0 205.0h-6.5M0 154.0h-6.5M0 103.0h-6.5M0 52.0h-6.5M0 1.0h-6.5" fill="none" stroke="#111" stroke-width="1.4"/><path d="M15.4 205.5v2.8M24.4 205.5v2.8M30.8 205.5v2.8M35.8 205.5v2.8M39.8 205.5v2.8M43.3 205.5v2.8M46.2 205.5v2.8M48.9 205.5v2.8M66.6 205.5v2.8M75.6 205.5v2.8M82.0 205.5v2.8M87.0 205.5v2.8M91.0 205.5v2.8M94.5 205.5v2.8M97.4 205.5v2.8M100.1 205.5v2.8M117.8 205.5v2.8M126.8 205.5v2.8M133.2 205.5v2.8M138.2 205.5v2.8M142.2 205.5v2.8M145.7 205.5v2.8M148.6 205.5v2.8M151.3 205.5v2.8M169.0 205.5v2.8M178.0 205.5v2.8M184.4 205.5v2.8M189.4 205.5v2.8M193.4 205.5v2.8M196.9 205.5v2.8M199.8 205.5v2.8M202.5 205.5v2.8M0 189.6h-3.5M0 180.7h-3.5M0 174.3h-3.5M0 169.4h-3.5M0 165.3h-3.5M0 161.9h-3.5M0 158.9h-3.5M0 156.3h-3.5M0 138.6h-3.5M0 129.7h-3.5M0 123.3h-3.5M0 118.4h-3.5M0 114.3h-3.5M0 110.9h-3.5M0 107.9h-3.5M0 105.3h-3.5M0 87.6h-3.5M0 78.7h-3.5M0 72.3h-3.5M0 67.4h-3.5M0 63.3h-3.5M0 59.9h-3.5M0 56.9h-3.5M0 54.3h-3.5M0 36.6h-3.5M0 27.7h-3.5M0 21.3h-3.5M0 16.4h-3.5M0 12.3h-3.5M0 8.9h-3.5M0 5.9h-3.5M0 3.3h-3.5" fill="none" stroke="#333" stroke-width="1.05"/><g font-family="'Liberation Sans', sans-serif" fill="#111" stroke="#111" stroke-width="0.3"><text transform="translate(3.6 222.9) scale(1 1.04)" font-size="7.4">10</text><text transform="translate(11.3 218.6) scale(1 1.04)" font-size="6.8">0</text><text transform="translate(51.6 222.9) scale(1 1.04)" font-size="7.4">10</text><text transform="translate(59.3 218.6) scale(1 1.04)" font-size="6.8">1</text><text transform="translate(102.8 222.9) scale(1 1.04)" font-size="7.4">10</text><text transform="translate(110.5 218.6) scale(1 1.04)" font-size="6.8">2</text><text transform="translate(154.0 222.9) scale(1 1.04)" font-size="7.4">10</text><text transform="translate(161.7 218.6) scale(1 1.04)" font-size="6.8">3</text><text transform="translate(196.3 222.9) scale(1 1.04)" font-size="7.4">10</text><text transform="translate(204.0 218.6) scale(1 1.04)" font-size="6.8">4</text><text transform="translate(-20.8 203.2) scale(1 1.04)" font-size="7.4">10</text><text transform="translate(-13.0 198.8) scale(1 1.04)" font-size="6.8">0</text><text transform="translate(-20.8 158.8) scale(1 1.04)" font-size="7.4">10</text><text transform="translate(-13.0 154.4) scale(1 1.04)" font-size="6.8">1</text><text transform="translate(-20.8 107.8) scale(1 1.04)" font-size="7.4">10</text><text transform="translate(-13.0 103.4) scale(1 1.04)" font-size="6.8">2</text><text transform="translate(-20.8 56.8) scale(1 1.04)" font-size="7.4">10</text><text transform="translate(-13.0 52.4) scale(1 1.04)" font-size="6.8">3</text><text transform="translate(-20.8 12.2) scale(1 1.04)" font-size="7.4">10</text><text transform="translate(-13.0 7.8) scale(1 1.04)" font-size="6.8">4</text></g><g font-family="'Liberation Sans', sans-serif" fill="#141414" stroke="#141414" stroke-width="0.55"><text transform="translate(9.9 36.4) scale(1 1.04)" font-size="30.6">11</text><text transform="translate(196.3 36.4) scale(1 1.04)" font-size="30.6" text-anchor="end">14</text><text transform="translate(8.0 199.8) scale(1 1.04)" font-size="30.6">70</text><text transform="translate(196.3 199.8) scale(1 1.04)" font-size="30.6" text-anchor="end">10</text></g></g>
<g transform="translate(620.0,613.0)"><g fill="none" stroke-width="1" transform="scale(1.36) translate(-0.5,0.0)"><path d="M109 40h1m-3 4h1m-48 5h1m46 0h2m11 2h1m-120 1h1m61 0h1m20 0h1m7 0h1m4 0h1m10 0h1m1 0h1m-110 1h1m71 0h1m-5 1h1m51 0h1m-13 1h1m-105 1h1m108 0h1m-65 1h1m42 0h1m14 0h1m6 0h1m-106 1h1m48 0h1m28 0h2m-31 1h1m48 0h1m-48 1h1m24 0h1m4 0h1m-41 1h1m38 0h1m1 0h1m8 0h2m-54 1h1m27 0h1m23 0h1m5 0h1m-23 1h1m5 0h1m7 0h1m-89 1h1m54 0h1m12 0h1m24 0h2m1 0h1m-63 1h1m33 0h1m22 0h1m1 0h1m5 0h1m4 0h1m2 0h1m-101 1h1m41 0h1m3 0h1m28 0h1m11 0h1m4 0h1m-57 1h1m3 0h1m23 0h1m17 0h1m25 0h1m-89 1h1m12 0h1m18 0h1m21 0h1m7 0h1m-100 1h1m33 0h1m7 0h1m3 0h1m35 0h1m21 0h1m-74 1h1m67 0h1m11 0h1m-25 1h1m12 0h1m-80 1h1m32 0h1m5 0h1m26 0h1m8 0h1m-95 1h1m26 0h1m12 0h1m22 0h1m20 0h1m12 0h2m13 0h1m-115 1h1m45 0h1m34 0h1m13 0h1m1 0h2m5 0h1m7 0h1m-113 1h1m18 0h1m37 0h1m43 0h1m-41 1h1m5 0h1m7 0h1m1 0h1m9 0h1m8 0h1m1 0h1m-97 1h1m52 0h1m11 0h1m3 0h1m-24 1h1m27 0h1m5 0h1m1 0h1m11 0h1m15 0h1m-92 1h1m15 0h1m23 0h1m2 0h1m-18 1h1m38 0h2m6 0h1m10 0h1m1 0h1m-104 1h1m24 0h1m10 0h2m35 0h1m22 0h1m-101 1h1m86 0h1m3 0h2m-11 1h1m11 0h1m25 0h1m-107 1h1m3 0h1m19 0h1m15 0h1m11 0h1m8 0h1m1 0h1m1 0h1m16 0h1m8 0h1m-52 1h1m6 0h1m24 0h1m2 0h1m5 0h1m3 0h1m-96 1h1m15 0h1m12 0h1m24 0h1m25 0h1m3 0h1m15 0h1m-73 1h1m30 0h1m1 0h1m4 0h1m9 0h1m9 0h1m-52 1h1m1 0h1m1 0h2m26 0h1m4 0h1m11 0h1m-59 1h1m3 0h1m71 0h1m-14 1h1m2 0h1m-54 1h1m24 1h1m5 0h1m-13 1h1m18 0h1m2 0h1m21 0h1m-90 1h1m13 0h1m4 0h1m50 0h1m6 0h1m-78 1h1m41 0h1m5 0h1m19 0h1m5 0h1m1 0h1m3 0h1m-21 1h2m-66 1h1m44 0h1m22 0h1m4 0h1m2 0h1m4 0h1m1 0h1m-56 1h1m48 0h2m5 0h1m-56 1h1m11 0h1m17 0h1m12 0h1m1 0h1m-37 1h1m17 0h1m2 0h1m3 0h2m1 0h1m3 0h1m-57 1h1m17 0h1m6 0h1m11 0h1m1 0h1m1 0h1m15 0h1m-33 1h1m18 0h1m29 0h1m-35 1h1m2 0h2m12 0h1m1 0h1m6 0h1m-58 1h1m28 0h2m4 0h1m4 0h1m7 0h1m6 0h1m-40 1h1m1 0h1m11 0h1m20 0h1m11 0h1m-62 1h1m8 0h1m43 0h1m2 0h1m9 0h1m-41 1h2m8 0h2m26 0h1m-69 1h1m10 0h1m14 0h1m1 0h1m1 0h1m2 0h1m3 0h1m2 0h1m3 0h1m7 0h1m3 0h2m-42 1h1m7 0h1m11 0h2m12 0h2m2 0h1m-43 1h1m8 0h1m1 0h1m21 0h1m17 0h1m-40 1h1m16 0h2m1 0h1m9 0h1m-33 1h1m14 0h1m7 0h1m-40 1h1m3 0h1m17 0h1m1 0h1m8 0h2m8 0h1m-32 1h1m30 0h1m-44 1h1m2 0h2m3 0h1m8 0h1m29 0h1m-54 1h2m5 0h1m2 0h1m9 0h1m2 0h1m5 0h1m6 0h1m1 0h1m6 0h1m26 0h1m-81 1h1m7 0h1m9 0h1m17 0h1m4 0h1m1 0h1m2 0h1m9 0h1m-47 1h3m1 0h1m19 0h1m6 0h1m17 0h1m10 0h1m3 0h1m5 0h1m11 0h1m-80 1h1m7 0h1m3 0h1m4 0h1m6 0h1m5 0h1m10 0h1m11 0h1m-65 1h1m17 0h2m6 0h1m11 0h1m4 0h1m12 0h1m31 0h1m-100 1h1m15 0h1m2 0h3m17 0h1m3 0h1m15 0h1m9 0h1m1 0h1m12 0h1m6 0h1m-93 1h1m6 0h1m5 0h1m3 0h1m2 0h1m5 0h1m22 0h1m5 0h1m12 0h1m2 0h1m-57 1h1m1 0h1m3 0h1m1 0h1m7 0h1m21 0h1m9 0h1m6 0h1m11 0h1m8 0h1m-88 1h1m8 0h1m5 0h1m4 0h1m5 0h1m1 0h1m11 0h1m21 0h1m20 0h1m-71 1h1m16 0h1m3 0h1m2 0h2m13 0h1m23 0h2m-75 1h1m10 0h1m3 0h1m3 0h1m12 0h2m2 0h1m6 0h1m9 0h1m5 0h1m31 0h1m-91 1h1m4 0h2m20 0h1m9 0h1m5 0h1m7 0h1m13 0h1m4 0h1m-66 1h1m8 0h1m10 0h1m15 0h1m20 0h1m8 0h1m4 0h1m-76 1h1m37 0h1m9 0h1m8 0h1m19 0h1m-100 1h1m6 0h2m3 0h1m10 0h1m3 0h1m1 0h1m9 0h1m13 0h2m8 0h2m5 0h1m3 0h1m14 0h1m-72 1h1m1 0h1m36 0h1m-40 1h1m37 0h1m19 0h1m6 0h1m-65 1h1m32 0h1m20 0h1m29 0h1m2 0h1m-96 1h1m2 0h2m4 0h1m57 0h1m-65 1h2m4 0h1m28 0h1m1 0h1m5 0h1m10 0h1m-67 1h1m4 0h1m4 0h1m7 0h1m4 0h2m17 0h1m7 0h1m-37 1h1m11 0h2m9 0h1m15 0h1m6 0h1m-49 1h1m2 0h1m30 0h1m2 0h1m4 0h1m1 0h2m2 0h1m6 0h1m-50 1h1m17 0h1m2 0h1m7 0h1m4 0h2m-41 1h1m3 0h1m12 0h1m5 0h1m8 0h1m3 0h1m-23 1h2m3 0h1m6 0h1m7 0h2m7 0h1m52 0h1m-113 1h1m3 0h1m18 0h1m15 0h1m8 0h1m-24 1h3m2 0h1m5 0h1m2 0h1m1 0h1m6 0h1m12 0h1m1 0h1m6 0h1m-61 1h2m3 0h1m7 0h1m4 0h1m9 0h1m6 0h1m2 0h1m21 0h1m-66 1h1m9 0h1m1 0h1m6 0h1m9 0h1m10 0h1m5 0h1m-34 1h1m8 0h1m2 0h1m2 0h1m9 0h1m2 0h1m24 0h1m-54 1h1m9 0h1m2 0h1m-7 1h1m9 0h1m-20 1h1m3 0h1m6 0h1m2 0h1m17 0h1m-50 1h1m1 0h1m1 0h1m1 0h1m9 0h1m3 0h1m23 0h1m3 0h1m7 0h1" stroke="#7a7a7a"/><path d="M112 35h1m-45 4h1m29 1h1m-18 1h1m28 1h1m-51 1h1m8 1h1m40 0h1m-65 1h1m9 0h1m45 0h1m-87 1h1m62 0h1m39 0h1m-5 1h1m-87 1h1m32 0h1m58 0h1m-66 1h1m39 0h1m12 0h1m1 0h1m10 0h1m-81 1h1m48 0h1m-81 1h1m26 0h1m14 0h1m19 0h1m25 0h1m1 0h1m4 0h1m10 0h1m-46 1h1m7 0h1m23 0h1m-51 1h1m3 0h1m12 0h1m22 0h1m7 0h1m-50 1h2m1 0h1m30 0h1m3 0h1m1 0h1m2 0h1m8 0h1m3 0h1m-93 1h1m73 0h1m6 0h1m7 0h1m6 0h1m3 0h1m-63 1h1m3 0h1m4 0h1m5 0h1m7 0h1m19 0h2m28 1h1m-86 1h1m17 0h1m37 0h1m3 0h1m15 0h1m-97 1h1m3 0h1m11 0h1m51 0h2m9 0h1m10 0h1m1 0h1m4 0h1m-48 1h1m4 0h1m24 0h1m6 0h1m17 0h1m-93 1h1m40 0h1m31 0h1m3 0h1m20 0h1m-101 1h2m21 0h1m14 0h1m43 0h1m4 0h1m-96 1h1m22 0h1m8 0h2m18 0h1m4 0h1m14 0h1m11 0h1m4 0h1m8 0h1m-104 1h1m32 0h1m18 0h1m14 0h1m1 0h1m9 0h3m5 0h1m-83 1h1m32 0h2m7 0h1m2 0h1m28 0h1m-85 1h1m27 0h1m10 0h1m6 0h1m25 0h1m3 0h1m1 0h1m3 0h2m2 0h1m9 0h1m-100 1h1m75 0h1m1 0h1m6 0h1m-77 1h1m8 0h1m5 0h1m24 0h1m2 0h1m1 0h1m13 0h1m5 0h1m1 0h1m9 0h1m1 0h1m3 0h3m-54 1h1m21 0h1m1 0h1m10 0h1m5 0h1m4 0h2m-100 1h1m6 0h1m51 0h1m5 0h1m11 0h1m10 0h1m6 0h1m7 0h1m1 0h1m10 0h1m-80 1h1m39 0h1m17 0h2m3 0h1m1 0h1m3 0h1m-32 1h1m5 0h1m1 0h1m1 0h1m4 0h1m1 0h1m3 0h2m2 0h1m-50 1h1m9 0h2m3 0h1m6 0h1m12 0h1m7 0h1m10 0h1m-91 1h1m15 0h1m7 0h1m4 0h1m8 0h1m1 0h1m5 0h1m3 0h1m32 0h1m2 0h1m2 0h1m2 0h1m1 0h2m-96 1h1m19 0h1m5 0h1m5 0h1m55 0h1m2 0h2m6 0h1m-100 1h1m4 0h1m8 0h2m27 0h1m2 0h1m8 0h1m2 0h1m5 0h1m5 0h1m4 0h1m2 0h1m2 0h1m7 0h1m-87 1h1m15 0h1m1 0h1m12 0h1m2 0h1m4 0h1m26 0h1m4 0h2m1 0h2m16 0h1m23 0h1m-121 1h1m33 0h1m5 0h1m6 0h1m29 0h1m4 0h1m7 0h1m8 0h1m-89 1h1m2 0h1m10 0h1m32 0h1m8 0h2m10 0h1m11 0h1m2 0h1m9 0h1m1 0h1m-92 1h1m48 0h1m2 0h1m10 0h1m6 0h1m1 0h1m5 0h1m-27 1h1m30 0h1m-72 1h1m9 0h1m19 0h1m3 0h1m16 0h2m2 0h1m1 0h1m-42 1h1m21 0h1m3 0h1m2 0h1m5 0h1m9 0h1m-104 1h1m28 0h1m14 0h1m1 0h1m26 0h1m16 0h1m2 0h2m-62 1h2m31 0h1m3 0h1m11 0h2m1 0h1m4 0h1m2 0h1m-53 1h1m4 0h1m1 0h1m3 0h2m6 0h1m6 0h1m9 0h1m11 0h1m1 0h1m2 0h1m16 0h1m-112 1h1m6 0h1m18 0h1m15 0h1m6 0h1m7 0h1m13 0h1m4 0h1m6 0h1m10 0h1m-81 1h1m17 0h1m12 0h2m3 0h1m16 0h1m12 0h1m1 0h2m2 0h1m8 0h1m6 0h1m-97 1h1m22 0h1m1 0h1m4 0h1m15 0h1m13 0h1m16 0h1m1 0h1m4 0h1m2 0h1m16 0h1m-72 1h1m6 0h2m31 0h1m2 0h1m-69 1h1m25 0h2m7 0h2m16 0h1m2 0h1m11 0h1m1 0h1m6 0h1m12 0h1m1 0h1m-67 1h1m3 0h1m35 0h1m3 0h1m14 0h1m-78 1h1m38 0h1m4 0h1m3 0h1m21 0h1m7 0h2m-87 1h1m53 0h1m4 0h1m4 0h1m4 0h1m14 0h1m3 0h1m-62 1h1m21 0h1m4 0h1m9 0h1m3 0h1m2 0h1m2 0h2m8 0h1m-84 1h1m40 0h1m7 0h1m5 0h1m2 0h1m4 0h2m10 0h1m2 0h1m9 0h2m-75 1h1m27 0h1m1 0h1m3 0h1m6 0h1m12 0h1m-24 1h1m1 0h1m2 0h1m2 0h1m11 0h1m-83 1h1m42 0h1m2 0h1m2 0h1m2 0h1m13 0h1m4 0h1m3 0h1m12 0h2m-65 1h1m10 0h1m6 0h1m3 0h1m12 0h1m3 0h1m6 0h1m12 0h3m3 0h1m2 0h1m3 0h1m3 0h1m-62 1h1m3 0h1m11 0h1m14 0h1m2 0h2m12 0h1m4 0h1m-51 1h1m10 0h2m1 0h1m7 0h1m26 0h1m6 0h1m-61 1h1m16 0h1m1 0h1m5 0h1m27 0h1m2 0h1m-55 1h1m11 0h2m19 0h1m3 0h1m9 0h1m13 0h1m-91 1h1m16 0h1m30 0h1m6 0h1m1 0h1m3 0h1m6 0h1m1 0h1m-25 1h1m2 0h1m3 0h1m2 0h1m4 0h1m6 0h1m1 0h1m5 0h1m-39 1h1m4 0h1m3 0h2m1 0h1m3 0h3m1 0h2m14 0h1m1 0h1m2 0h2m1 0h1m11 0h1m-69 1h1m12 0h1m3 0h1m1 0h1m7 0h1m3 0h1m5 0h1m5 0h1m30 0h1m-70 1h1m8 0h1m3 0h1m2 0h1m2 0h4m8 0h1m2 0h1m1 0h2m9 0h1m6 0h1m-54 1h1m7 0h1m5 0h1m2 0h1m2 0h1m12 0h1m5 0h2m5 0h3m-50 1h1m9 0h1m1 0h1m1 0h1m4 0h1m1 0h1m4 0h1m11 0h1m-41 1h1m5 0h1m7 0h1m2 0h1m1 0h1m1 0h2m1 0h1m2 0h1m6 0h2m4 0h3m-32 1h1m19 0h1m7 0h1m3 0h1m1 0h1m3 0h1m-53 1h1m1 0h2m13 0h2m1 0h2m4 0h1m6 0h1m5 0h1m11 0h1m7 0h1m22 0h1m-90 1h1m3 0h1m5 0h1m3 0h1m3 0h1m5 0h1m4 0h1m1 0h2m3 0h2m13 0h3m20 0h1m17 0h1m-77 1h1m8 0h1m9 0h2m7 0h1m5 0h1m4 0h1m12 0h1m7 0h1m-81 1h1m5 0h1m2 0h1m1 0h1m6 0h1m3 0h1m3 0h1m1 0h1m1 0h1m3 0h1m8 0h1m3 0h1m3 0h1m32 0h1m-77 1h1m16 0h2m4 0h2m5 0h1m9 0h1m3 0h1m1 0h1m8 0h1m2 0h1m-70 1h1m5 0h1m11 0h1m9 0h1m2 0h1m17 0h2m3 0h1m2 0h1m4 0h2m5 0h1m6 0h2m3 0h1m-73 1h1m4 0h2m1 0h1m8 0h1m4 0h1m1 0h1m2 0h2m1 0h1m8 0h1m1 0h2m1 0h2m4 0h1m16 0h1m3 0h1m-76 1h1m5 0h1m4 0h1m1 0h1m1 0h1m5 0h1m6 0h1m1 0h1m4 0h1m1 0h1m3 0h1m-47 1h1m6 0h1m5 0h3m14 0h1m2 0h1m8 0h1m2 0h1m22 0h1m14 0h1m-83 1h1m2 0h1m6 0h2m8 0h1m3 0h2m4 0h1m2 0h1m1 0h1m2 0h1m3 0h1m2 0h3m14 0h1m7 0h1m-70 1h2m4 0h3m10 0h1m5 0h2m1 0h2m1 0h1m6 0h1m7 0h1m1 0h1m2 0h1m2 0h1m12 0h1m1 0h1m2 0h1m2 0h1m11 0h1m-100 1h1m7 0h1m3 0h1m3 0h1m1 0h1m10 0h1m32 0h1m9 0h2m12 0h1m-73 1h1m1 0h1m2 0h1m5 0h1m4 0h1m2 0h1m2 0h1m10 0h1m2 0h1m3 0h1m5 0h2m4 0h1m2 0h1m14 0h1m14 0h1m3 0h1m-105 1h1m5 0h1m5 0h1m1 0h1m5 0h1m11 0h1m7 0h1m2 0h1m2 0h1m2 0h2m5 0h1m1 0h1m1 0h1m3 0h1m18 0h1m17 0h1m-99 1h1m3 0h1m4 0h1m1 0h1m9 0h1m1 0h3m2 0h1m2 0h1m2 0h1m3 0h3m11 0h1m2 0h2m2 0h1m21 0h1m-79 1h1m1 0h1m15 0h1m16 0h1m2 0h4m8 0h1m1 0h1m4 0h1m38 0h1m-103 1h1m36 0h1m2 0h2m3 0h2m2 0h1m12 0h1m4 0h2m18 0h1m-84 1h1m2 0h1m5 0h2m2 0h1m10 0h1m10 0h1m3 0h1m4 0h3m1 0h1m1 0h1m9 0h2m11 0h1m20 0h1m-96 1h1m2 0h1m7 0h2m1 0h1m9 0h1m5 0h1m1 0h2m6 0h2m4 0h2m1 0h1m-53 1h1m11 0h1m12 0h1m5 0h1m3 0h1m2 0h1m1 0h1m4 0h1m2 0h1m8 0h1m28 0h1m-87 1h1m8 0h1m1 0h1m9 0h1m7 0h2m4 0h1m8 0h1m4 0h1m1 0h1m37 0h1m-83 1h1m1 0h1m12 0h1m11 0h1m2 0h2m1 0h1m3 0h1m7 0h1m39 0h1m1 0h1m-95 1h1m3 0h2m3 0h1m7 0h1m18 0h2m1 0h1m7 0h3m25 0h1m4 0h1m-90 1h1m12 0h2m1 0h3m2 0h1m26 0h1m2 0h1m4 0h1m6 0h1m15 0h1m-73 1h1m9 0h1m3 0h2m3 0h1m14 0h1m2 0h1m1 0h1m9 0h1m-50 1h1m1 0h2m5 0h1m4 0h1m4 0h1m1 0h1m7 0h1m2 0h1m9 0h1m1 0h1m6 0h2m1 0h1m2 0h1m41 0h1m-90 1h1m2 0h1m3 0h1m4 0h1m8 0h1m1 0h1m2 0h1m17 0h1m-58 1h1m5 0h1m1 0h2m5 0h1m3 0h1m7 0h2m21 0h1m-43 1h1m1 0h2m2 0h2m8 0h3m1 0h1m1 0h1m4 0h1m1 0h1m1 0h1m3 0h1m2 0h1m2 0h1m11 0h1m-66 1h1m3 0h1m13 0h1m21 0h2m5 0h1m8 0h1m-61 1h1m6 0h1m1 0h1m8 0h1m3 0h1m4 0h1m1 0h1m2 0h1m2 0h2m2 0h1m4 0h1m4 0h1m2 0h1m11 0h1m-57 1h1m3 0h1m8 0h1m2 0h1m3 0h2m3 0h1m1 0h1m3 0h1m1 0h2m7 0h1m6 0h1m-57 1h1m3 0h1m13 0h1m3 0h1m1 0h1m5 0h1m4 0h1m6 0h1m2 0h1m-39 1h1m9 0h2m7 0h2m8 0h1m1 0h1m4 0h1m-28 1h1m1 0h2m5 0h1m1 0h2m14 0h1m2 0h1m-35 1h2m2 0h1m2 0h1m16 0h1m-38 1h1m11 0h1m5 0h2m3 0h1m7 0h1m1 0h1m2 0h1m1 0h3m3 0h1" stroke="#2a2a2a"/><path d="M53 49h1m15 2h1m-20 1h1m17 1h1m-1 4h1m-36 1h1m63 3h1m2 1h1m-6 2h1m-2 1h1m6 0h1m1 1h1m3 0h1m-68 1h1m56 0h1m-51 1h1m47 0h1m14 1h1m-11 2h1m-1 1h1m4 0h1m-21 1h1m7 0h1m0 1h1m-4 1h1m-4 2h1m10 0h1m2 0h1m-11 1h1m7 2h1m-11 1h1m2 0h1m-79 1h1m69 0h1m4 0h1m5 0h1m-10 1h1m2 0h1m-27 1h1m24 1h1m-7 1h1m10 0h1m1 0h1m-69 1h1m51 0h1m2 0h1m6 0h1m-12 1h1m11 0h1m2 0h1m-6 2h1m-56 2h1m56 1h1m-19 1h1m28 1h1m-30 1h1m2 0h1m7 0h1m-2 1h1m-4 1h1m1 0h1m-6 1h1m-11 1h1m1 0h1m11 0h1m-4 1h1m3 0h1m3 0h1m-19 1h1m1 0h1m16 0h1m-58 1h1m49 0h1m-21 1h1m10 0h1m4 0h1m-11 1h1m2 0h1m-7 1h1m6 0h2m10 0h1m5 0h1m-3 1h1m-32 1h1m8 0h1m2 0h1m10 0h1m1 0h1m-32 1h1m17 0h1m1 0h1m3 0h1m2 0h2m9 0h1m-21 1h2m1 0h1m1 0h1m1 0h1m1 0h2m8 0h1m-45 1h1m25 0h1m2 0h1m6 0h1m34 0h1m-56 1h1m8 0h2m4 0h2m-21 1h1m2 0h1m6 0h1m1 0h2m1 0h1m8 0h2m-28 1h1m13 0h2m5 0h1m-23 1h3m3 0h1m1 0h2m5 0h1m3 0h4m3 0h1m2 0h1m-40 1h1m1 0h1m6 0h1m28 0h1m-40 1h1m3 0h1m3 0h1m2 0h1m5 0h1m8 0h1m7 0h1m5 0h1m-35 1h1m1 0h1m1 0h3m2 0h1m1 0h2m3 0h1m1 0h2m3 0h2m3 0h1m2 0h1m-45 1h1m3 0h1m4 0h1m1 0h1m2 0h1m2 0h2m2 0h2m6 0h1m2 0h3m1 0h1m1 0h2m19 0h1m5 0h1m-55 1h1m1 0h1m2 0h1m2 0h3m2 0h1m1 0h2m2 0h1m6 0h1m-29 1h1m1 0h1m4 0h1m2 0h1m1 0h3m2 0h1m2 0h1m5 0h2m4 0h1m1 0h1m1 0h1m5 0h1m-56 1h1m6 0h1m4 0h1m3 0h1m1 0h2m1 0h5m1 0h2m1 0h1m2 0h4m2 0h1m4 0h1m29 0h1m7 0h1m-85 1h1m11 0h1m2 0h1m1 0h2m1 0h1m1 0h1m2 0h4m1 0h2m1 0h1m1 0h2m1 0h1m12 0h2m18 0h1m-62 1h2m1 0h1m1 0h3m3 0h1m2 0h1m2 0h1m2 0h1m4 0h3m1 0h1m4 0h1m2 0h1m12 0h1m-52 1h8m1 0h3m1 0h1m2 0h3m1 0h2m3 0h1m3 0h1m3 0h1m2 0h1m-52 1h1m10 0h2m2 0h3m2 0h2m1 0h1m1 0h2m1 0h2m1 0h3m3 0h1m35 0h1m-63 1h1m3 0h1m1 0h8m1 0h5m3 0h2m1 0h2m5 0h1m5 0h1m11 0h1m-52 1h6m5 0h2m1 0h2m1 0h1m2 0h3m3 0h1m1 0h1m1 0h2m3 0h1m-43 1h1m1 0h1m2 0h1m1 0h6m1 0h4m1 0h7m3 0h1m1 0h1m5 0h2m3 0h1m3 0h1m-46 1h1m1 0h2m2 0h1m1 0h2m2 0h1m1 0h3m1 0h6m2 0h1m3 0h1m4 0h1m7 0h1m-47 1h1m5 0h2m1 0h8m1 0h1m1 0h10m1 0h2m2 0h3m6 0h1m-47 1h1m3 0h2m3 0h1m1 0h9m1 0h5m1 0h1m2 0h5m3 0h1m-39 1h2m1 0h2m1 0h3m2 0h7m1 0h5m1 0h3m1 0h2m1 0h1m1 0h1m1 0h1m20 0h1m27 0h1m-86 1h2m3 0h2m1 0h1m1 0h1m1 0h2m1 0h1m1 0h5m2 0h4m1 0h1m1 0h4m1 0h1m1 0h3m2 0h1m-45 1h1m6 0h2m1 0h6m1 0h8m1 0h2m1 0h2m5 0h2m1 0h1m-43 1h1m7 0h1m1 0h2m3 0h16m1 0h1m2 0h1m4 0h1m9 0h1m-52 1h1m7 0h2m1 0h3m1 0h1m2 0h9m1 0h6m-31 1h2m2 0h1m1 0h1m2 0h3m1 0h5m1 0h8m1 0h1m2 0h1m6 0h1m-33 1h1m2 0h3m1 0h1m1 0h1m1 0h5m6 0h1m2 0h1m6 0h1m-46 1h1m11 0h1m2 0h2m1 0h4m1 0h1m1 0h2m1 0h2m2 0h1m5 0h1m-29 1h1m2 0h3m2 0h3m2 0h1m4 0h2m5 0h2m3 0h1m2 0h1m4 0h1m-36 1h1m1 0h2m2 0h2m5 0h1m1 0h1m2 0h1m-29 1h1m1 0h1m6 0h1m6 0h2m1 0h2m1 0h1m2 0h1m2 0h1m5 0h1m-30 1h1m3 0h1m4 0h1m4 0h1m3 0h1m4 0h1m-13 1h2m28 0h1m-27 1h1m2 0h1m9 0h1m-7 1h1m-18 1h1m16 0h1m9 1h1m-43 1h1m4 0h1m7 0h1m1 0h1m1 0h5m1 0h1m1 0h1m6 0h1m1 0h1m3 0h1" stroke="#000"/></g><g fill="none" stroke-width="1" transform="scale(1.36) translate(0.0,0.5)"><path d="M123 34h1m2 2h1m-63 2h1m15 1h1m-23 1h1m29 2h1m15 0h1m19 2h1m-55 3h1m-70 1h1m94 1h1m-67 2h1m63 0h1m17 0h1m-102 1h1m67 0h1m34 0h1m3 1h1m-87 1h1m59 0h1m-45 1h1m28 0h1m10 0h1m-58 1h1m17 0h2m41 0h1m22 0h1m-100 1h1m31 0h1m6 0h1m58 0h1m-111 1h1m97 0h1m-60 1h1m45 0h1m5 0h1m37 0h1m-89 1h1m5 0h1m30 1h1m16 0h1m-66 1h1m12 0h1m55 0h1m-47 1h1m36 0h1m-48 1h1m42 0h2m1 0h1m1 0h1m3 0h1m12 0h1m-62 1h1m12 0h1m4 0h1m17 0h1m8 0h1m11 0h1m-88 1h1m45 0h1m1 0h1m23 0h1m-50 1h1m7 0h1m25 0h1m16 0h2m4 0h2m-59 1h1m9 0h1m5 0h1m32 0h1m6 0h1m15 0h2m-93 1h1m36 0h1m3 0h1m23 0h1m3 0h1m8 0h1m2 0h1m-68 1h1m18 0h1m26 0h1m17 0h1m-103 1h1m66 0h1m1 0h1m19 0h1m3 0h1m4 0h1m1 0h1m-68 1h1m10 0h1m8 0h1m5 0h1m4 0h1m2 0h1m12 0h1m5 0h1m11 0h1m2 0h1m-64 1h1m2 0h1m14 0h1m21 0h1m20 0h1m-80 1h1m11 0h1m29 0h1m26 0h4m6 0h1m2 0h1m2 0h1m-88 1h1m1 0h1m6 0h1m5 0h1m12 0h1m18 0h1m3 0h1m35 0h1m-88 1h1m23 0h1m1 0h1m32 0h1m13 0h1m-92 1h1m34 0h1m56 0h1m3 0h1m2 0h1m11 0h1m-93 1h1m53 0h1m7 0h1m-61 1h1m4 0h1m27 0h1m46 0h1m1 0h1m-11 1h1m9 0h1m-10 1h1m15 0h1m4 0h1m-86 1h1m35 0h1m3 0h1m6 0h1m9 0h1m-88 1h1m24 0h1m15 0h1m31 0h1m-26 1h1m8 0h1m21 0h1m4 0h1m2 0h1m1 0h1m-24 1h1m10 0h1m6 0h1m-40 1h1m4 0h1m44 0h1m-78 1h1m78 0h1m-49 1h1m37 0h1m18 0h1m-30 1h1m22 0h1m-81 1h1m44 0h1m16 0h1m-17 1h1m16 0h1m3 0h1m1 0h1m-71 1h1m32 0h1m7 0h1m13 0h1m8 0h1m2 0h1m15 0h1m-53 1h1m15 0h1m2 0h1m5 0h1m15 0h1m8 0h1m-91 1h1m55 0h1m16 0h1m-36 1h1m1 0h1m7 0h1m5 0h1m9 0h1m1 0h1m-42 1h1m37 0h1m4 0h1m8 0h1m9 0h1m-24 1h1m16 0h1m4 0h1m-94 1h1m20 0h1m50 0h1m3 0h1m-35 1h1m17 0h1m2 0h1m2 0h1m6 0h1m17 0h1m-95 1h1m1 0h1m42 0h1m33 0h1m5 0h1m-35 1h1m1 0h1m3 0h1m7 0h2m14 0h1m6 0h1m5 0h1m-38 1h1m26 0h1m9 0h1m-64 1h1m24 0h1m4 0h1m8 0h1m15 0h1m1 0h1m9 0h2m-42 1h1m2 0h3m1 0h2m6 0h1m5 0h1m2 0h1m-34 1h2m14 0h1m3 0h1m5 0h1m10 0h1m-82 1h1m52 0h1m2 0h1m1 0h1m4 0h1m2 0h3m7 0h1m5 0h1m-31 1h1m1 0h1m14 0h1m13 0h1m5 0h1m6 0h1m6 0h1m-60 1h1m16 0h1m10 0h1m1 0h1m10 0h1m-46 1h1m23 0h1m2 0h1m18 0h1m-56 1h1m20 0h1m33 0h1m-62 1h1m4 0h1m22 0h3m19 0h2m1 0h1m2 0h1m2 0h1m-32 1h1m4 0h1m4 0h1m1 0h1m2 0h1m7 0h1m17 0h1m-63 1h1m22 0h1m3 0h1m7 0h1m9 0h1m8 0h1m-56 1h1m15 0h2m2 0h1m7 0h1m2 0h1m7 0h1m-30 1h1m10 0h2m14 0h1m4 0h1m3 0h1m-41 1h1m13 0h2m6 0h1m27 0h1m2 0h1m-53 1h2m10 0h1m2 0h3m1 0h1m4 0h1m5 0h1m46 0h1m-71 1h1m9 0h1m1 0h1m9 0h1m-40 1h1m3 0h1m13 0h1m25 0h1m28 0h1m-72 1h1m34 0h1m-46 1h1m3 0h1m4 0h1m2 0h1m4 0h1m16 0h1m11 0h1m18 0h1m9 0h1m-81 1h1m18 0h1m7 0h1m12 0h1m8 0h1m27 0h1m11 0h2m-78 1h1m4 0h1m12 0h1m2 0h1m2 0h1m23 0h1m18 0h1m4 0h1m-83 1h1m6 0h2m8 0h1m2 0h1m11 0h1m7 0h1m2 0h2m1 0h1m1 0h1m8 0h1m8 0h1m-74 1h1m5 0h1m4 0h1m7 0h2m14 0h1m8 0h1m12 0h2m-36 1h1m19 0h1m1 0h1m5 0h1m-16 1h1m1 0h3m12 0h1m7 0h1m5 0h1m-62 1h1m37 0h1m18 0h1m-68 1h1m2 0h1m2 0h1m1 0h1m3 0h1m2 0h1m19 0h1m9 0h1m43 0h1m-85 1h1m3 0h2m6 0h2m14 0h1m13 0h1m7 0h1m2 0h1m3 0h1m1 0h1m-46 1h1m26 0h2m1 0h1m1 0h2m31 0h1m-78 1h1m10 0h1m18 0h1m2 0h1m5 0h1m10 0h1m1 0h1m6 0h1m15 0h1m-85 1h1m7 0h1m12 0h1m19 0h1m4 0h1m8 0h1m25 0h1m-87 1h1m12 0h1m2 0h1m32 0h1m1 0h1m5 0h1m24 0h1m9 0h1m13 0h1m-94 1h1m7 0h1m5 0h1m9 0h1m12 0h1m5 0h1m54 0h1m-108 1h1m4 0h1m4 0h1m12 0h1m23 0h1m5 0h3m-32 1h1m50 0h1m-72 1h1m5 1h1m1 0h1m3 0h1m26 0h1m5 0h1m-41 1h1m25 0h1m-27 1h1m1 0h1m6 0h1m16 0h1m4 0h1m36 0h1m-66 1h1m7 0h3m15 0h1m1 0h2m1 0h1m-40 1h1m7 0h1m12 0h1m4 0h1m5 0h1m34 0h1m-48 1h1m7 0h1m13 0h1m-56 1h1m3 0h1m17 0h1m19 0h2m-28 1h1m5 0h1m8 0h1m7 0h1m5 0h2m3 0h2m-30 1h2m1 0h1m3 0h1m5 0h1m1 0h1m1 0h1m-23 1h1m11 0h1m3 0h1m23 0h1m4 0h1m-28 1h1m7 0h2m-31 1h1m15 0h1m10 0h1m17 0h1m2 0h1" stroke="#7a7a7a"/><path d="M78 37h1m-24 1h1m-26 1h1m18 2h1m-16 1h1m84 0h1m-54 1h1m13 0h1m-57 1h1m12 1h1m-37 1h1m43 0h1m13 1h1m-1 1h1m39 0h1m6 0h1m5 1h1m2 1h1m-81 1h1m41 0h1m21 0h1m28 1h1m-103 1h1m68 0h1m-27 1h2m8 0h1m17 0h1m-29 1h1m15 0h1m7 0h1m10 0h1m-63 1h2m11 0h1m7 0h1m32 0h1m6 0h1m24 0h1m-105 1h1m13 0h1m5 0h1m43 0h1m11 0h1m3 0h1m12 0h1m-99 1h1m42 0h1m3 0h1m31 0h1m-61 1h1m9 0h1m5 0h1m2 0h1m10 0h1m1 0h1m25 0h1m1 0h1m2 0h1m3 0h1m4 0h1m-69 1h1m65 0h1m-89 1h1m50 0h1m7 0h1m6 0h1m7 0h1m2 0h1m3 0h1m11 0h2m-114 1h1m53 0h2m18 0h2m12 0h1m-89 1h1m19 0h1m3 0h1m10 0h1m14 0h1m1 0h1m24 0h1m16 0h1m1 0h1m4 0h1m-72 1h1m11 0h2m57 0h1m2 0h1m8 0h1m-73 1h1m31 0h1m5 0h1m3 0h1m3 0h1m16 0h1m4 0h1m-84 1h1m30 0h1m2 0h1m9 0h1m6 0h1m7 0h1m4 0h2m9 0h1m2 0h2m7 0h1m-93 1h1m27 0h1m42 0h1m13 0h1m2 0h1m-78 1h1m2 0h1m4 0h1m6 0h1m22 0h1m3 0h1m11 0h1m7 0h2m2 0h1m2 0h1m1 0h1m-87 1h1m11 0h1m1 0h1m10 0h1m14 0h1m12 0h1m25 0h1m1 0h1m11 0h1m1 0h1m-79 1h1m17 0h1m22 0h1m14 0h1m2 0h1m1 0h1m4 0h1m3 0h1m5 0h2m-57 1h1m7 0h1m7 0h1m8 0h1m18 0h1m1 0h1m8 0h1m-104 1h1m19 0h2m36 0h1m10 0h1m12 0h1m2 0h2m2 0h1m2 0h1m5 0h1m4 0h1m5 0h1m-44 1h1m17 0h2m2 0h1m2 0h1m3 0h2m4 0h3m-101 1h1m14 0h1m26 0h1m29 0h1m3 0h1m1 0h1m5 0h2m1 0h1m-70 1h1m3 0h1m1 0h1m4 0h1m5 0h1m40 0h1m1 0h1m1 0h1m15 0h2m-108 1h1m11 0h1m12 0h1m4 0h1m18 0h1m37 0h1m4 0h1m11 0h3m2 0h1m3 0h1m-60 1h2m15 0h1m12 0h1m3 0h2m1 0h1m2 0h1m8 0h1m5 0h1m2 0h1m4 0h1m-76 1h1m1 0h1m16 0h1m9 0h1m18 0h2m2 0h1m3 0h1m5 0h2m5 0h1m-80 1h1m7 0h3m23 0h1m16 0h1m10 0h2m6 0h1m-62 1h2m8 0h1m26 0h3m8 0h1m7 0h1m4 0h1m-93 1h1m11 0h1m19 0h1m34 0h1m3 0h1m5 0h1m-84 1h1m16 0h1m6 0h1m13 0h1m35 0h1m3 0h1m1 0h1m1 0h1m3 0h1m7 0h2m8 0h2m-94 1h1m2 0h1m11 0h3m3 0h1m23 0h1m16 0h1m18 0h1m2 0h1m-73 1h1m7 0h1m2 0h1m6 0h1m35 0h1m3 0h1m-69 1h1m7 0h1m32 0h1m15 0h1m10 0h1m14 0h1m9 0h1m-92 1h1m3 0h1m10 0h1m37 0h1m9 0h1m5 0h1m1 0h1m2 0h1m-95 1h1m36 0h1m17 0h1m12 0h1m3 0h1m1 0h1m7 0h2m2 0h1m5 0h2m17 0h1m-90 1h1m14 0h1m16 0h1m14 0h1m2 0h1m10 0h1m1 0h1m3 0h1m4 0h1m2 0h1m-87 1h1m47 0h1m5 0h2m2 0h1m5 0h2m5 0h3m5 0h1m1 0h1m-84 1h1m24 0h1m9 0h1m2 0h1m15 0h1m6 0h1m18 0h1m8 0h1m-81 1h1m1 0h1m3 0h1m6 0h1m40 0h1m4 0h1m14 0h1m-72 1h1m43 0h1m19 0h1m7 0h1m3 0h1m-69 1h1m33 0h1m13 0h1m4 0h1m2 0h1m17 0h1m-57 1h1m11 0h1m14 0h1m6 0h1m10 0h1m13 0h1m-98 1h1m50 0h2m5 0h2m1 0h1m-43 1h1m37 0h1m1 0h1m2 0h1m7 0h1m3 0h1m7 0h1m20 0h1m-61 1h1m14 0h1m4 0h1m2 0h1m7 0h1m3 0h1m2 0h1m-91 1h1m43 0h1m2 0h1m7 0h1m14 0h2m26 0h1m-40 1h1m5 0h1m1 0h1m2 0h1m2 0h2m13 0h1m3 0h1m6 0h1m2 0h1m-50 1h1m14 0h1m1 0h1m38 0h1m-104 1h1m51 0h1m9 0h1m8 0h2m5 0h1m8 0h1m3 0h1m-43 1h2m6 0h1m1 0h1m3 0h1m8 0h1m10 0h1m5 0h1m-74 1h1m44 0h1m10 0h2m1 0h1m11 0h1m8 0h1m-65 1h1m17 0h1m3 0h1m3 0h1m11 0h1m6 0h2m4 0h2m1 0h2m-49 1h1m20 0h1m6 0h1m6 0h1m6 0h1m-60 1h1m21 0h1m1 0h1m1 0h1m7 0h1m2 0h1m1 0h1m11 0h1m4 0h2m6 0h1m-40 1h1m6 0h2m11 0h1m2 0h1m5 0h1m3 0h1m4 0h1m1 0h1m6 0h1m-59 1h1m8 0h1m19 0h1m4 0h1m1 0h1m7 0h1m5 0h1m1 0h1m1 0h2m1 0h1m8 0h1m-75 1h1m29 0h2m1 0h1m8 0h1m4 0h1m2 0h1m3 0h2m2 0h1m8 0h1m-72 1h1m9 0h1m2 0h1m4 0h1m3 0h1m8 0h2m2 0h2m1 0h1m11 0h1m1 0h1m-33 1h3m1 0h1m7 0h1m5 0h1m2 0h1m1 0h1m4 0h1m23 0h1m-70 1h1m7 0h1m8 0h1m2 0h1m1 0h1m1 0h1m16 0h1m1 0h1m2 0h2m-48 1h1m9 0h1m3 0h1m5 0h2m2 0h1m7 0h1m4 0h1m2 0h1m7 0h1m16 0h1m17 0h1m-90 1h1m3 0h1m9 0h1m4 0h1m1 0h1m5 0h1m3 0h1m3 0h2m1 0h1m8 0h1m2 0h1m2 0h1m1 0h1m21 0h1m-66 1h1m10 0h1m2 0h2m1 0h1m4 0h1m2 0h1m6 0h1m23 0h1m-64 1h1m11 0h1m3 0h1m3 0h1m10 0h1m1 0h1m1 0h1m5 0h1m2 0h1m1 0h1m2 0h3m5 0h1m4 0h1m-80 1h1m16 0h1m1 0h1m3 0h3m20 0h1m2 0h1m5 0h2m4 0h1m9 0h2m3 0h1m6 0h1m-72 1h1m4 0h1m6 0h2m3 0h2m1 0h1m5 0h1m5 0h1m1 0h1m2 0h1m1 0h1m3 0h1m4 0h5m12 0h1m-82 1h1m27 0h1m4 0h3m2 0h1m4 0h1m3 0h2m4 0h1m1 0h2m10 0h1m1 0h4m8 0h1m11 0h1m11 0h1m-92 1h1m2 0h1m14 0h1m5 0h1m10 0h3m9 0h1m2 0h1m4 0h1m6 0h1m-62 1h1m5 0h2m13 0h1m1 0h1m1 0h2m4 0h1m11 0h1m3 0h1m8 0h1m10 0h1m2 0h1m35 0h1m-96 1h1m3 0h1m2 0h1m5 0h1m3 0h1m2 0h1m3 0h1m2 0h1m1 0h1m9 0h2m3 0h1m11 0h1m9 0h1m8 0h1m-92 1h1m6 0h1m1 0h1m3 0h1m2 0h1m4 0h1m7 0h1m1 0h2m2 0h1m3 0h1m2 0h1m2 0h1m1 0h1m6 0h1m2 0h3m14 0h1m11 0h1m3 0h1m-90 1h1m11 0h1m2 0h2m7 0h2m9 0h1m6 0h1m5 0h1m5 0h1m1 0h1m5 0h2m33 0h1m-94 1h1m5 0h1m4 0h2m20 0h1m2 0h1m3 0h1m1 0h1m1 0h1m12 0h1m30 0h1m-92 1h1m5 0h1m4 0h1m5 0h1m16 0h2m1 0h1m3 0h1m1 0h1m4 0h1m1 0h1m2 0h1m-60 1h2m4 0h1m3 0h1m14 0h1m15 0h1m8 0h1m5 0h1m1 0h2m2 0h2m4 0h1m3 0h1m-76 1h1m1 0h2m8 0h1m3 0h1m21 0h1m8 0h1m1 0h1m1 0h1m1 0h1m5 0h1m1 0h1m15 0h1m1 0h1m7 0h1m-80 1h1m8 0h2m18 0h1m6 0h1m2 0h2m2 0h1m7 0h1m2 0h1m2 0h1m19 0h1m-84 1h1m7 0h1m6 0h2m11 0h1m6 0h1m2 0h2m4 0h1m1 0h1m1 0h1m1 0h1m4 0h1m8 0h1m1 0h1m-66 1h1m4 0h1m7 0h1m7 0h1m6 0h1m14 0h1m4 0h1m1 0h2m2 0h1m18 0h1m-81 1h1m3 0h1m2 0h1m32 0h2m5 0h1m5 0h1m11 0h1m1 0h1m14 0h1m14 0h1m4 0h2m-103 1h1m1 0h1m7 0h1m4 0h1m1 0h2m6 0h1m11 0h1m5 0h1m9 0h1m2 0h1m4 0h1m8 0h1m-71 1h1m1 0h1m9 0h1m31 0h1m1 0h1m1 0h2m3 0h1m45 0h1m-97 1h1m7 0h1m33 0h1m12 0h1m33 0h1m-101 1h1m13 0h2m32 0h2m4 0h2m2 0h1m6 0h1m19 0h1m-72 1h1m1 0h1m4 0h1m1 0h2m6 0h2m13 0h1m1 0h1m3 0h1m1 0h2m17 0h1m-77 1h1m8 0h1m2 0h1m1 0h2m7 0h1m12 0h1m1 0h1m1 0h1m7 0h1m4 0h2m3 0h1m3 0h1m2 0h1m54 0h1m-111 1h2m8 0h1m5 0h1m1 0h1m10 0h2m2 0h1m6 0h1m3 0h1m1 0h1m7 0h1m-53 1h1m6 0h1m10 0h1m3 0h1m1 0h1m3 0h1m5 0h1m7 0h1m57 0h1m-113 1h1m10 0h1m3 0h1m3 0h1m2 0h1m5 0h1m1 0h1m5 0h1m9 0h1m13 0h1m4 0h1m-52 1h1m2 0h2m3 0h1m13 0h1m1 0h2m16 0h1m4 0h1m-61 1h1m5 0h1m6 0h1m4 0h1m4 0h1m1 0h1m1 0h1m1 0h1m10 0h1m6 0h2m1 0h1m7 0h1m5 0h1m-52 1h2m1 0h1m1 0h1m1 0h5m5 0h1m7 0h2m9 0h1m7 0h2m-42 1h1m16 0h1m3 0h1m1 0h1m2 0h2m1 0h1m1 0h1m6 0h1m-52 1h1m12 0h1m5 0h1m1 0h1m2 0h1m2 0h1m1 0h1m3 0h1m4 0h1m19 0h1m-51 1h1m1 0h1m30 0h1m-47 1h1m8 0h1m2 0h1m2 0h1m5 0h1m13 0h1m1 0h1m-26 1h1m6 0h2m2 0h1m6 0h1m2 0h1m5 0h1m6 0h1m2 0h1m5 0h1m5 0h1m-53 1h2m1 0h2m7 0h1m1 0h1m2 0h1m10 0h1m2 0h1m2 0h1m2 0h1m2 0h1m2 0h2m7 0h1m11 0h1" stroke="#2a2a2a"/><path d="M106 54h1m-78 4h1m17 3h1m54 0h1m2 1h1m4 1h1m4 0h1m-115 1h1m84 0h1m-21 1h1m4 2h1m26 0h2m3 0h2m-11 1h1m-36 1h1m40 0h1m-18 1h1m3 0h1m-35 2h1m44 0h1m-53 2h1m24 1h1m27 0h1m10 0h1m-60 1h1m42 0h1m-16 1h1m16 0h1m-3 1h1m-10 1h1m5 0h2m13 0h1m-75 1h1m43 0h1m25 0h1m-4 1h1m-14 2h1m4 0h2m-11 1h1m5 1h1m1 0h1m-8 1h1m9 0h1m-11 2h1m-4 1h1m-31 1h1m23 0h1m6 0h1m2 0h1m3 0h1m6 0h1m-10 1h1m2 0h1m10 0h1m-77 1h1m31 0h1m42 0h1m-15 1h1m-5 1h1m1 0h1m1 0h1m-31 1h1m17 0h2m8 0h1m-6 1h1m3 0h1m-18 1h1m28 0h1m-16 1h1m4 0h1m8 0h1m-21 1h1m16 0h1m1 0h1m-54 1h1m30 0h1m12 0h1m1 0h1m1 0h1m-26 1h1m12 0h1m11 0h1m-15 1h1m7 0h1m1 0h1m2 0h1m-20 1h1m7 0h1m1 0h1m5 0h1m4 0h1m-33 1h1m6 1h2m3 0h1m11 0h1m-23 1h1m6 0h1m4 0h1m5 0h1m6 0h1m11 0h1m-16 1h1m-20 1h1m2 0h2m7 0h1m7 0h2m6 0h1m-33 1h1m3 0h2m4 0h1m3 0h2m2 0h1m-25 1h1m12 0h1m12 0h2m9 0h1m-32 1h2m9 0h1m2 0h1m6 0h1m1 0h1m11 0h1m-53 1h1m25 0h1m18 0h1m-33 1h1m6 0h1m3 0h1m2 0h2m1 0h1m1 0h1m2 0h2m23 0h1m-43 1h1m1 0h2m5 0h1m1 0h3m2 0h1m2 0h1m1 0h2m31 0h1m-81 1h1m6 0h1m4 0h2m7 0h1m6 0h2m1 0h2m2 0h1m1 0h1m1 0h1m1 0h1m1 0h2m1 0h1m1 0h2m-41 1h1m6 0h1m2 0h2m1 0h1m8 0h1m3 0h1m2 0h2m6 0h1m12 0h1m-45 1h1m7 0h1m1 0h1m8 0h1m2 0h1m9 0h1m1 0h1m-33 1h1m2 0h2m1 0h1m1 0h3m15 0h1m18 0h1m-47 1h2m1 0h1m1 0h1m4 0h1m2 0h1m1 0h1m5 0h1m-39 1h2m6 0h1m5 0h3m1 0h1m1 0h3m2 0h5m6 0h1m1 0h1m2 0h1m23 0h1m-58 1h4m1 0h1m1 0h2m1 0h1m1 0h1m3 0h3m3 0h1m1 0h2m1 0h1m4 0h1m-39 1h1m5 0h1m1 0h1m1 0h1m2 0h2m2 0h1m5 0h2m1 0h1m6 0h1m4 0h1m1 0h1m-38 1h2m2 0h3m1 0h1m2 0h4m5 0h1m2 0h1m2 0h1m8 0h2m-43 1h1m2 0h1m2 0h1m5 0h2m1 0h2m2 0h2m1 0h1m1 0h2m1 0h1m2 0h2m11 0h1m28 0h1m-73 1h2m2 0h1m5 0h12m1 0h5m4 0h1m5 0h1m31 0h1m-76 1h1m3 0h1m1 0h1m1 0h1m2 0h4m2 0h4m1 0h5m1 0h5m11 0h1m-44 1h1m2 0h3m3 0h2m1 0h5m1 0h9m1 0h1m3 0h1m1 0h2m-48 1h1m11 0h1m2 0h1m2 0h1m1 0h19m1 0h3m2 0h1m5 0h1m-44 1h1m1 0h1m1 0h2m3 0h1m2 0h5m1 0h8m1 0h3m2 0h3m7 0h1m5 0h2m-46 1h2m6 0h1m1 0h9m2 0h5m2 0h1m7 0h1m3 0h1m38 0h1m-86 1h1m1 0h1m4 0h4m2 0h6m1 0h6m1 0h12m-35 1h2m1 0h4m1 0h10m1 0h7m5 0h2m6 0h1m-39 1h2m4 0h1m1 0h2m1 0h1m1 0h1m1 0h9m1 0h2m1 0h2m3 0h1m2 0h1m-44 1h1m2 0h1m4 0h25m3 0h1m-39 1h1m5 0h1m5 0h1m2 0h2m1 0h9m1 0h7m1 0h1m7 0h1m2 0h1m4 0h1m-47 1h3m1 0h1m1 0h1m1 0h3m1 0h15m1 0h1m4 0h2m-34 1h2m1 0h1m2 0h5m3 0h1m1 0h11m7 0h1m6 0h1m-45 1h1m4 0h5m1 0h6m1 0h1m1 0h1m1 0h3m1 0h3m1 0h2m8 0h1m4 0h1m-42 1h2m2 0h1m1 0h10m2 0h2m10 0h1m-34 1h1m1 0h3m1 0h4m1 0h3m3 0h1m1 0h1m1 0h1m1 0h1m3 0h1m3 0h1m-31 1h1m1 0h4m4 0h5m2 0h1m1 0h3m2 0h1m2 0h1m-26 1h1m1 0h2m1 0h1m3 0h3m2 0h1m3 0h1m1 0h2m-28 1h1m9 0h1m1 0h1m1 0h1m1 0h1m6 0h1m1 0h1m3 0h1m9 0h1m-31 1h3m3 0h1m4 0h1m5 0h1m9 0h1m-39 1h1m5 0h1m5 0h1m1 0h2m28 0h1m9 0h1m-45 1h1m1 0h1m12 0h1m-15 1h1m1 0h1m2 0h1m-4 1h1m3 0h1m8 0h2m-38 1h1m28 0h1m-35 1h1m6 0h1m9 0h2m3 0h1m2 0h1m5 0h6m7 0h2" stroke="#000"/></g><path d="M0 0H205.5V205.5" fill="none" stroke="#2a2a2a" stroke-width="1.45"/><path d="M0 0V205.5" fill="none" stroke="#666" stroke-width="1.3"/><path d="M-6 205.5H205.5" fill="none" stroke="#111" stroke-width="1.5"/><path d="M116.0 0V205.5" fill="none" stroke="#111" stroke-width="1.7"/><path d="M0 139.2H205.5" fill="none" stroke="#111" stroke-width="1.5"/><path d="M0.0 205.5v5.5M51.2 205.5v5.5M102.4 205.5v5.5M153.6 205.5v5.5M204.8 205.5v5.5M0 205.0h-6.5M0 154.0h-6.5M0 103.0h-6.5M0 52.0h-6.5M0 1.0h-6.5" fill="none" stroke="#111" stroke-width="1.4"/><path d="M15.4 205.5v2.8M24.4 205.5v2.8M30.8 205.5v2.8M35.8 205.5v2.8M39.8 205.5v2.8M43.3 205.5v2.8M46.2 205.5v2.8M48.9 205.5v2.8M66.6 205.5v2.8M75.6 205.5v2.8M82.0 205.5v2.8M87.0 205.5v2.8M91.0 205.5v2.8M94.5 205.5v2.8M97.4 205.5v2.8M100.1 205.5v2.8M117.8 205.5v2.8M126.8 205.5v2.8M133.2 205.5v2.8M138.2 205.5v2.8M142.2 205.5v2.8M145.7 205.5v2.8M148.6 205.5v2.8M151.3 205.5v2.8M169.0 205.5v2.8M178.0 205.5v2.8M184.4 205.5v2.8M189.4 205.5v2.8M193.4 205.5v2.8M196.9 205.5v2.8M199.8 205.5v2.8M202.5 205.5v2.8M0 189.6h-3.5M0 180.7h-3.5M0 174.3h-3.5M0 169.4h-3.5M0 165.3h-3.5M0 161.9h-3.5M0 158.9h-3.5M0 156.3h-3.5M0 138.6h-3.5M0 129.7h-3.5M0 123.3h-3.5M0 118.4h-3.5M0 114.3h-3.5M0 110.9h-3.5M0 107.9h-3.5M0 105.3h-3.5M0 87.6h-3.5M0 78.7h-3.5M0 72.3h-3.5M0 67.4h-3.5M0 63.3h-3.5M0 59.9h-3.5M0 56.9h-3.5M0 54.3h-3.5M0 36.6h-3.5M0 27.7h-3.5M0 21.3h-3.5M0 16.4h-3.5M0 12.3h-3.5M0 8.9h-3.5M0 5.9h-3.5M0 3.3h-3.5" fill="none" stroke="#333" stroke-width="1.05"/><g font-family="'Liberation Sans', sans-serif" fill="#111" stroke="#111" stroke-width="0.3"><text transform="translate(3.6 222.9) scale(1 1.04)" font-size="7.4">10</text><text transform="translate(11.3 218.6) scale(1 1.04)" font-size="6.8">0</text><text transform="translate(51.6 222.9) scale(1 1.04)" font-size="7.4">10</text><text transform="translate(59.3 218.6) scale(1 1.04)" font-size="6.8">1</text><text transform="translate(102.8 222.9) scale(1 1.04)" font-size="7.4">10</text><text transform="translate(110.5 218.6) scale(1 1.04)" font-size="6.8">2</text><text transform="translate(154.0 222.9) scale(1 1.04)" font-size="7.4">10</text><text transform="translate(161.7 218.6) scale(1 1.04)" font-size="6.8">3</text><text transform="translate(196.3 222.9) scale(1 1.04)" font-size="7.4">10</text><text transform="translate(204.0 218.6) scale(1 1.04)" font-size="6.8">4</text><text transform="translate(-20.8 203.2) scale(1 1.04)" font-size="7.4">10</text><text transform="translate(-13.0 198.8) scale(1 1.04)" font-size="6.8">0</text><text transform="translate(-20.8 158.8) scale(1 1.04)" font-size="7.4">10</text><text transform="translate(-13.0 154.4) scale(1 1.04)" font-size="6.8">1</text><text transform="translate(-20.8 107.8) scale(1 1.04)" font-size="7.4">10</text><text transform="translate(-13.0 103.4) scale(1 1.04)" font-size="6.8">2</text><text transform="translate(-20.8 56.8) scale(1 1.04)" font-size="7.4">10</text><text transform="translate(-13.0 52.4) scale(1 1.04)" font-size="6.8">3</text><text transform="translate(-20.8 12.2) scale(1 1.04)" font-size="7.4">10</text><text transform="translate(-13.0 7.8) scale(1 1.04)" font-size="6.8">4</text></g><g font-family="'Liberation Sans', sans-serif" fill="#141414" stroke="#141414" stroke-width="0.55"><text transform="translate(9.9 36.4) scale(1 1.04)" font-size="30.6">10</text><text transform="translate(196.3 36.4) scale(1 1.04)" font-size="30.6" text-anchor="end">9</text><text transform="translate(2.8 199.8) scale(1 1.04)" font-size="30.6">77</text><text transform="translate(193.9 199.8) scale(1 1.04)" font-size="30.6" text-anchor="end">4</text></g></g>
<g transform="translate(874.0,613.0)"><g fill="none" stroke-width="1" transform="scale(1.36) translate(-0.5,0.0)"><path d="M59 39h1m20 1h1m-29 1h1m30 1h1m-29 3h1m-3 1h1m-32 1h1m69 1h1m-76 1h1m86 0h1m3 1h1m-72 1h1m32 0h1m0 1h1m-42 3h1m26 0h1m13 0h1m43 0h2m-12 4h3m9 0h1m-32 1h1m21 0h1m-48 1h1m18 0h1m-72 1h1m63 0h1m4 0h1m4 0h1m31 0h1m-75 1h1m31 0h1m32 0h1m4 0h1m-92 1h1m68 0h1m9 0h1m12 0h1m-14 1h1m-99 1h1m91 0h1m4 0h1m-45 1h1m18 0h1m21 0h1m17 0h1m-88 1h1m12 0h1m6 0h1m56 0h1m-53 1h1m37 0h1m11 0h1m-15 1h1m18 0h1m5 0h1m-85 1h1m36 0h1m29 0h1m7 0h1m-49 1h1m2 0h1m21 0h1m15 0h1m12 0h2m-110 1h1m28 0h1m55 0h1m11 0h1m-77 1h1m39 0h1m11 0h1m15 0h1m5 0h1m3 0h1m-57 1h1m36 0h1m8 0h1m1 0h1m15 0h1m-49 1h1m40 0h1m1 0h1m-51 1h1m37 0h1m2 0h1m6 0h1m12 0h1m-89 1h1m77 0h1m-84 1h1m70 0h1m12 0h1m11 0h1m-107 1h1m81 0h1m2 0h1m3 0h2m6 0h1m-89 1h1m16 0h1m3 0h1m7 0h1m32 0h1m18 0h2m13 0h1m-95 1h1m34 0h1m33 0h1m1 0h1m-43 1h1m11 0h1m9 0h1m8 0h1m5 0h1m4 0h1m16 0h1m-87 1h1m19 0h1m52 0h1m7 0h1m-83 1h1m5 0h1m-8 1h1m59 0h1m6 0h1m2 0h1m4 0h1m2 0h1m8 0h1m-99 1h1m11 0h1m56 0h1m6 0h1m15 0h1m-99 1h1m17 0h1m33 0h1m1 0h1m32 0h1m-24 1h1m2 0h1m19 0h1m3 0h1m-14 1h1m-25 1h1m3 0h1m24 0h1m-17 1h1m6 0h2m16 0h1m3 0h1m-67 1h1m43 0h1m6 0h1m1 0h1m-33 1h1m32 0h1m11 0h1m-30 1h1m4 0h1m11 0h1m10 0h1m-30 1h1m1 0h1m13 0h1m9 0h1m2 0h1m-20 1h1m9 0h1m5 0h1m-21 1h1m7 0h1m2 0h1m-58 1h1m54 0h2m-29 1h1m16 0h1m5 0h1m1 0h1m3 0h1m-46 1h1m8 0h1m12 0h1m6 0h1m-10 1h2m7 0h1m7 0h1m2 0h1m3 0h1m-41 1h1m7 0h1m20 0h1m5 0h1m1 0h1m-49 1h1m28 0h1m30 0h1m17 0h1m-52 1h1m5 0h1m7 0h1m6 0h2m1 0h1m4 0h1m4 0h1m17 0h1m-46 1h1m2 0h1m3 0h1m2 0h1m-42 1h1m11 0h1m19 0h1m4 0h1m2 0h1m13 0h1m8 0h1m-41 1h1m5 0h1m8 0h1m3 0h1m6 0h1m-60 1h1m21 0h1m5 0h1m13 0h1m6 0h1m5 0h1m3 0h1m6 0h1m-59 1h1m1 0h1m25 0h1m2 0h1m1 0h1m-31 1h1m20 0h1m5 0h1m6 0h2m9 0h1m-56 1h1m37 0h1m10 0h1m-15 1h1m3 0h1m1 0h1m5 0h1m7 0h1m13 0h1m-45 1h1m1 0h1m15 0h1m4 0h1m5 0h1m17 0h1m-56 1h1m15 0h1m19 0h1m27 0h1m-72 1h1m19 0h1m2 0h1m3 0h1m10 0h1m16 0h1m11 0h1m-40 1h1m2 0h1m1 0h2m10 0h1m3 0h1m23 0h1m-82 1h1m26 0h1m2 0h1m3 0h1m3 0h1m7 0h1m-66 1h1m5 0h1m6 0h1m13 0h2m5 0h1m17 0h1m4 0h1m1 0h1m10 0h2m2 0h1m1 0h1m19 0h1m-72 1h1m2 0h1m4 0h1m6 0h1m5 0h1m1 0h1m18 0h1m7 0h1m3 0h1m10 0h1m2 0h1m6 0h1m-64 1h1m3 0h1m3 0h1m1 0h1m35 0h1m21 0h1m-89 1h1m12 0h1m33 0h1m11 0h1m1 0h1m1 0h1m16 0h1m-83 1h1m8 0h1m6 0h3m1 0h2m1 0h1m10 0h1m-16 1h1m8 0h1m2 0h1m1 0h1m37 0h1m6 0h1m-55 1h1m5 0h1m13 0h1m17 0h1m5 0h1m-71 1h1m4 0h1m15 0h1m23 0h1m4 0h1m4 0h1m10 0h2m1 0h1m-78 1h1m7 0h1m1 0h2m5 0h1m8 0h1m9 0h1m1 0h1m6 0h1m4 0h1m1 0h1m1 0h1m2 0h1m6 0h1m24 0h1m-88 1h1m16 0h1m1 0h1m9 0h1m3 0h1m3 0h1m5 0h1m7 0h1m15 0h1m4 0h1m-61 1h1m8 0h2m7 0h1m15 0h1m4 0h1m2 0h1m15 0h1m-74 1h1m3 0h1m13 0h1m1 0h1m22 0h1m2 0h1m5 0h1m19 0h1m-76 1h1m15 0h1m6 0h1m5 0h1m3 0h1m5 0h1m9 0h1m27 0h1m14 0h1m-84 1h1m1 0h1m4 0h2m41 0h1m11 0h1m-58 1h1m1 0h1m34 0h1m5 0h1m8 0h1m10 0h2m31 0h1m-114 1h1m9 0h1m9 0h1m2 0h1m18 0h1m10 0h1m20 0h2m17 0h1m-88 1h1m9 0h1m27 0h1m15 0h2m13 0h1m-77 1h1m17 0h1m18 0h1m-33 1h1m14 0h1m25 0h1m1 0h1m2 0h1m-53 1h1m3 0h1m25 0h1m14 0h1m12 0h1m11 0h1m-58 1h2m7 0h1m21 0h1m8 0h1m9 0h1m1 0h1m15 0h1m1 0h1m-72 1h1m1 0h1m9 0h1m4 0h1m7 0h1m6 0h1m4 0h1m5 0h2m13 0h1m-63 1h1m14 0h1m4 0h1m3 0h1m8 0h1m9 0h1m1 0h2m1 0h1m3 0h1m-32 1h1m1 0h1m28 0h1m-38 1h1m8 0h1m5 0h1m1 0h1m62 0h1m-108 1h1m11 0h1m2 0h1m1 0h1m1 0h2m8 0h1m7 0h1m7 0h1m18 0h1m-52 1h1m17 0h1m6 0h1m1 0h1m11 0h1m-40 1h1m1 0h1m5 0h1m2 0h1m9 0h1m6 0h1m18 0h1m-26 1h1m9 0h1m1 0h1m2 0h1m-38 1h1m64 0h1m-46 1h1m-38 1h1m14 0h1m2 0h1m14 0h1m18 0h1m6 0h1m8 0h1" stroke="#7a7a7a"/><path d="M39 40h1m15 0h1m-20 2h1m40 1h1m-36 1h1m-11 2h1m26 2h1m16 0h1m9 4h1m11 0h1m-48 1h1m14 0h1m50 0h1m-105 1h1m2 0h1m29 0h1m23 0h1m-63 1h1m57 0h1m40 0h1m-77 1h1m11 0h1m21 0h1m2 0h1m22 0h1m22 0h1m7 0h1m-11 1h1m-21 1h1m-40 1h1m4 0h1m16 0h1m24 0h1m-66 1h1m5 0h1m15 0h1m12 0h1m7 0h1m19 0h1m3 0h1m-6 1h1m2 0h1m-71 1h1m25 0h1m2 0h1m5 0h1m24 0h1m5 0h1m10 0h1m-73 1h1m16 0h1m50 0h1m-47 1h1m4 0h1m37 0h2m-64 1h1m52 0h1m3 0h2m20 0h1m5 0h1m-89 1h1m11 0h1m7 0h1m43 0h1m4 0h1m2 0h1m7 0h1m-115 1h1m75 0h1m9 0h1m9 0h1m3 0h5m3 0h1m-66 1h1m7 0h1m8 0h1m12 0h1m5 0h1m2 0h2m10 0h1m8 0h1m3 0h1m1 0h1m5 0h1m-83 1h1m7 0h1m5 0h1m9 0h1m3 0h1m9 0h1m26 0h1m4 0h1m1 0h1m7 0h1m4 0h1m-78 1h1m22 0h1m31 0h1m3 0h1m8 0h1m5 0h1m-23 1h1m3 0h3m3 0h1m-69 1h1m6 0h1m12 0h1m2 0h1m27 0h1m1 0h1m3 0h1m8 0h1m-92 1h1m16 0h1m55 0h1m6 0h2m3 0h1m8 0h2m1 0h1m2 0h1m3 0h1m1 0h1m8 0h1m-97 1h1m24 0h1m22 0h1m12 0h1m1 0h2m4 0h1m3 0h1m1 0h1m1 0h2m2 0h1m12 0h1m-114 1h1m18 0h1m41 0h1m4 0h1m7 0h1m7 0h1m7 0h1m1 0h1m1 0h1m4 0h1m-107 1h1m26 0h1m11 0h1m34 0h1m11 0h1m5 0h1m2 0h1m4 0h1m5 0h1m3 0h1m-103 1h1m13 0h2m5 0h1m1 0h1m48 0h1m4 0h1m6 0h1m2 0h1m4 0h1m5 0h1m-104 1h1m1 0h1m17 0h1m27 0h1m19 0h1m13 0h2m11 0h1m4 0h1m1 0h2m-89 1h1m19 0h1m15 0h1m4 0h1m4 0h1m15 0h1m-63 1h1m35 0h1m32 0h1m6 0h1m3 0h1m6 0h1m-82 1h1m13 0h1m1 0h1m8 0h1m17 0h1m16 0h2m2 0h2m5 0h2m7 0h1m5 0h1m-90 1h1m20 0h1m32 0h1m5 0h1m4 0h1m14 0h2m2 0h1m-91 1h1m15 0h1m7 0h1m1 0h1m2 0h1m6 0h1m23 0h1m5 0h1m-19 1h1m9 0h1m14 0h3m3 0h1m-90 1h1m61 0h1m10 0h1m4 0h1m8 0h1m6 0h1m-73 1h1m13 0h2m33 0h1m9 0h1m8 0h1m-17 1h1m6 0h1m2 0h1m10 0h1m-63 1h1m2 0h1m28 0h1m4 0h1m6 0h1m15 0h2m-37 1h1m2 0h2m4 0h1m5 0h1m5 0h1m4 0h1m5 0h2m15 0h1m-57 1h1m5 0h1m25 0h1m4 0h1m-32 1h1m14 0h1m9 0h2m13 0h1m1 0h1m5 0h1m-92 1h1m20 0h1m24 0h2m4 0h2m7 0h1m3 0h1m4 0h1m-47 1h1m30 0h1m2 0h1m9 0h2m-84 1h1m17 0h1m1 0h1m3 0h1m33 0h1m6 0h1m2 0h1m4 0h3m5 0h2m2 0h1m2 0h2m7 0h1m4 0h1m-50 1h1m25 0h1m1 0h1m-62 1h1m20 0h1m19 0h1m8 0h2m8 0h2m-29 1h1m2 0h2m3 0h1m3 0h1m5 0h1m4 0h1m3 0h1m6 0h1m1 0h1m-32 1h1m26 0h1m-14 1h2m11 0h1m14 0h1m-95 1h1m14 0h1m11 0h1m14 0h1m21 0h1m10 0h1m1 0h1m-68 1h1m14 0h1m21 0h1m1 0h1m10 0h1m7 0h1m1 0h1m2 0h1m7 0h1m5 0h2m-26 1h1m2 0h1m7 0h1m1 0h1m2 0h1m1 0h3m1 0h1m3 0h1m-47 1h1m2 0h1m9 0h1m8 0h1m14 0h1m1 0h1m3 0h1m-56 1h1m40 0h1m3 0h1m2 0h1m2 0h1m5 0h1m-56 1h1m16 0h1m1 0h1m3 0h2m15 0h2m3 0h1m6 0h1m7 0h1m-100 1h1m17 0h1m15 0h1m6 0h1m2 0h1m8 0h1m2 0h1m3 0h1m8 0h1m9 0h1m11 0h2m-74 1h1m8 0h1m7 0h1m2 0h1m4 0h2m7 0h1m2 0h1m14 0h1m2 0h1m1 0h1m4 0h1m4 0h1m-37 1h2m9 0h1m11 0h1m3 0h1m2 0h2m2 0h1m1 0h1m3 0h1m-36 1h1m2 0h1m5 0h1m15 0h1m2 0h2m-52 1h1m9 0h1m1 0h2m1 0h1m3 0h1m4 0h1m2 0h1m2 0h1m2 0h1m6 0h1m2 0h1m1 0h1m2 0h1m6 0h1m-41 1h1m11 0h2m1 0h1m9 0h1m5 0h1m2 0h1m3 0h1m23 0h1m-64 1h1m6 0h1m3 0h1m2 0h1m6 0h1m3 0h1m9 0h1m1 0h1m1 0h1m1 0h2m13 0h1m-80 1h1m5 0h2m18 0h1m2 0h1m3 0h1m6 0h1m5 0h2m1 0h1m1 0h1m2 0h3m7 0h1m-49 1h1m2 0h1m9 0h2m5 0h2m9 0h1m1 0h2m5 0h1m1 0h2m1 0h1m6 0h1m-68 1h1m1 0h1m5 0h1m5 0h1m7 0h1m2 0h1m2 0h1m3 0h1m5 0h2m5 0h3m2 0h2m1 0h1m-52 1h1m13 0h3m3 0h1m5 0h1m6 0h1m12 0h1m2 0h2m3 0h1m13 0h1m-77 1h1m9 0h1m9 0h1m3 0h1m1 0h1m1 0h1m4 0h1m7 0h1m6 0h1m3 0h1m1 0h1m9 0h1m4 0h1m4 0h1m4 0h1m6 0h1m-81 1h1m1 0h1m3 0h1m2 0h3m2 0h2m2 0h2m14 0h1m5 0h1m2 0h1m1 0h1m6 0h1m1 0h1m7 0h1m-66 1h1m16 0h1m6 0h1m7 0h1m2 0h1m2 0h1m1 0h1m1 0h1m2 0h1m4 0h2m13 0h1m4 0h1m-77 1h1m34 0h1m6 0h1m1 0h1m4 0h1m9 0h2m3 0h2m11 0h1m7 0h1m-94 1h1m16 0h1m10 0h3m3 0h1m1 0h1m14 0h1m1 0h3m5 0h1m9 0h1m3 0h1m1 0h1m2 0h1m-63 1h1m1 0h1m3 0h1m7 0h2m5 0h1m3 0h2m5 0h1m1 0h2m7 0h2m7 0h2m3 0h1m3 0h2m15 0h1m-101 1h1m16 0h1m2 0h2m4 0h1m1 0h1m5 0h1m2 0h1m1 0h1m4 0h1m1 0h1m3 0h1m3 0h2m1 0h1m1 0h1m2 0h1m2 0h2m4 0h3m2 0h1m14 0h1m9 0h1m2 0h1m-99 1h1m4 0h1m11 0h1m5 0h1m1 0h1m1 0h1m2 0h1m7 0h1m2 0h1m5 0h1m1 0h1m3 0h1m5 0h1m14 0h1m-76 1h2m15 0h1m1 0h2m3 0h1m1 0h1m4 0h1m5 0h1m3 0h1m2 0h2m7 0h1m9 0h1m2 0h1m4 0h1m-83 1h1m6 0h1m2 0h1m4 0h1m4 0h1m2 0h1m4 0h2m1 0h2m6 0h1m10 0h1m1 0h2m4 0h1m3 0h1m24 0h1m-71 1h1m5 0h1m6 0h1m8 0h1m1 0h2m5 0h1m3 0h1m2 0h1m6 0h1m4 0h1m9 0h1m2 0h1m1 0h2m4 0h1m1 0h1m10 0h1m-83 1h1m3 0h1m5 0h1m3 0h2m4 0h1m9 0h1m13 0h1m5 0h2m3 0h1m19 0h1m-85 1h1m1 0h1m8 0h1m5 0h1m1 0h2m1 0h1m15 0h2m4 0h1m1 0h1m3 0h1m9 0h1m9 0h1m4 0h1m3 0h1m4 0h1m3 0h1m8 0h1m-89 1h2m4 0h2m5 0h1m8 0h1m23 0h1m14 0h1m17 0h1m8 0h1m-87 1h1m2 0h1m3 0h2m2 0h1m6 0h1m19 0h2m3 0h1m1 0h3m1 0h2m1 0h1m4 0h1m9 0h1m2 0h1m-90 1h1m4 0h1m2 0h1m1 0h1m4 0h1m2 0h1m1 0h1m2 0h1m30 0h2m4 0h1m45 0h1m-103 1h1m11 0h1m3 0h1m1 0h1m9 0h1m1 0h1m2 0h1m3 0h1m17 0h1m1 0h1m2 0h1m3 0h1m-55 1h1m2 0h1m9 0h1m2 0h2m3 0h1m13 0h1m3 0h1m3 0h2m1 0h1m14 0h1m14 0h1m1 0h1m-74 1h1m3 0h1m1 0h1m15 0h1m9 0h1m3 0h1m3 0h1m8 0h1m1 0h1m4 0h1m-63 1h1m1 0h2m5 0h1m6 0h1m2 0h3m8 0h1m3 0h1m6 0h1m9 0h1m4 0h1m-68 1h1m9 0h1m2 0h3m12 0h1m9 0h1m7 0h1m4 0h1m4 0h1m6 0h1m20 0h1m2 0h1m-88 1h1m5 0h1m1 0h2m10 0h1m2 0h1m10 0h1m2 0h1m7 0h1m11 0h1m1 0h1m3 0h1m3 0h1m-73 1h1m7 0h1m6 0h1m2 0h1m2 0h1m22 0h1m5 0h1m3 0h2m1 0h2m2 0h1m5 0h1m10 0h1m-63 1h1m1 0h1m9 0h1m6 0h1m9 0h2m6 0h1m3 0h1m-46 1h1m1 0h1m2 0h1m5 0h1m1 0h1m2 0h1m11 0h2m6 0h1m4 0h1m20 0h1m-57 1h1m2 0h1m2 0h1m6 0h1m1 0h1m5 0h1m1 0h2m6 0h1m2 0h2m1 0h2m5 0h1m1 0h1m2 0h2m-72 1h1m5 0h1m8 0h1m1 0h2m2 0h2m2 0h2m1 0h1m2 0h1m1 0h1m3 0h1m5 0h1m1 0h1m3 0h1m13 0h1m8 0h1m-68 1h1m19 0h1m14 0h1m13 0h1m8 0h1m1 0h1m39 0h1m-95 1h1m10 0h2m4 0h1m5 0h1m2 0h1m10 0h1m-46 1h1m1 0h1m3 0h1m6 0h1m2 0h1m1 0h2m5 0h2m7 0h2m5 0h1m2 0h1m1 0h1m16 0h1m8 0h1m-74 1h1m27 0h1m3 0h1m6 0h1m3 0h1m2 0h1m8 0h1m-47 1h1m14 0h1m6 0h1m2 0h1m1 0h1m7 0h1m5 0h3m10 0h1m-68 1h1m13 0h2m12 0h1m2 0h1m3 0h2m12 0h1m21 0h1m-69 1h2m2 0h2m2 0h2m10 0h1m10 0h1m8 0h1m3 0h4m2 0h1m7 0h1m1 0h1" stroke="#2a2a2a"/><path d="M100 62h1m0 1h1m4 1h1m-18 1h1m8 0h1m-7 1h1m4 0h1m-19 1h1m7 1h1m9 1h1m7 0h1m-14 1h1m9 0h1m1 0h1m6 0h1m-4 2h1m-8 1h1m-13 1h1m14 0h1m-10 1h1m4 0h1m3 0h1m4 0h1m-39 2h1m33 0h1m1 0h1m-84 1h1m67 0h1m4 0h1m7 0h1m-8 1h1m4 0h1m-24 1h1m16 0h1m-15 1h1m14 0h1m6 0h1m1 0h1m1 0h1m-16 1h1m2 0h1m5 0h1m-12 1h1m2 0h1m-95 1h1m101 0h1m-11 1h1m15 0h1m-100 1h1m74 0h2m7 0h1m3 0h1m-4 1h1m-2 1h1m-9 1h1m-13 2h1m23 0h1m8 0h1m-49 1h1m34 0h1m1 2h1m-13 2h1m1 1h1m-38 1h1m37 0h1m-34 1h1m15 0h1m8 0h1m3 0h1m1 0h1m5 0h1m-57 1h1m49 0h1m1 1h1m-32 1h1m15 1h1m1 0h1m6 0h1m1 0h1m-14 1h1m3 0h2m5 0h1m1 0h1m1 0h1m14 0h1m-33 1h1m-10 1h1m16 0h1m5 0h1m2 0h1m7 0h1m-30 1h1m8 0h1m3 0h1m22 0h1m-47 1h1m1 0h1m8 0h1m6 0h1m-18 1h1m9 0h1m3 0h1m4 0h2m-18 1h1m17 0h1m-11 1h1m16 0h2m2 0h1m5 0h1m-51 1h1m15 0h1m11 0h2m5 0h1m1 0h1m1 0h1m1 0h2m6 0h1m7 0h1m-46 1h1m18 0h1m-22 1h1m4 0h2m4 0h1m2 0h2m3 0h1m1 0h1m1 0h1m9 0h1m-34 1h1m1 0h1m11 0h1m2 0h1m6 0h1m-21 1h1m8 0h1m3 0h1m2 0h1m3 0h1m19 0h1m-52 1h2m5 0h1m8 0h1m2 0h1m32 0h1m-44 1h1m2 0h1m1 0h1m6 0h1m1 0h1m1 0h1m1 0h1m1 0h2m3 0h1m1 0h2m3 0h1m2 0h1m-48 1h2m6 0h2m14 0h1m-16 1h1m9 0h1m1 0h1m1 0h1m1 0h1m1 0h3m13 0h2m-53 1h1m3 0h1m3 0h1m11 0h2m4 0h2m1 0h2m1 0h1m1 0h1m3 0h1m1 0h1m8 0h1m16 0h1m7 0h1m-62 1h1m3 0h2m3 0h1m1 0h1m2 0h1m2 0h2m4 0h2m10 0h2m-32 1h1m1 0h2m1 0h1m1 0h2m2 0h3m6 0h1m3 0h1m3 0h1m18 0h1m-67 1h1m5 0h2m3 0h1m4 0h2m1 0h1m1 0h1m2 0h1m3 0h1m1 0h2m3 0h1m3 0h1m18 0h1m3 0h1m-65 1h1m6 0h1m3 0h1m3 0h1m2 0h2m1 0h2m1 0h2m3 0h1m2 0h2m1 0h1m6 0h1m3 0h2m2 0h1m18 0h1m-65 1h1m6 0h2m2 0h1m1 0h7m1 0h1m2 0h3m2 0h2m2 0h1m3 0h2m9 0h1m3 0h1m-68 1h1m15 0h1m1 0h1m1 0h1m2 0h1m1 0h1m2 0h4m3 0h2m1 0h2m2 0h1m2 0h1m8 0h1m1 0h2m-48 1h1m10 0h3m1 0h2m1 0h2m2 0h2m2 0h1m2 0h2m2 0h4m3 0h1m17 0h1m-69 1h1m12 0h1m2 0h1m1 0h1m3 0h6m1 0h4m2 0h3m2 0h1m1 0h1m3 0h1m1 0h1m10 0h1m-59 1h1m7 0h1m2 0h1m1 0h1m1 0h1m2 0h1m1 0h5m1 0h11m1 0h2m1 0h2m1 0h1m15 0h1m9 0h1m6 0h1m7 0h1m-82 1h1m5 0h1m4 0h1m1 0h3m2 0h1m2 0h5m1 0h9m2 0h1m2 0h2m9 0h1m-47 1h4m1 0h24m8 0h2m3 0h1m-55 1h1m4 0h2m4 0h6m1 0h2m1 0h1m1 0h2m1 0h3m1 0h11m1 0h2m1 0h1m7 0h1m-61 1h1m12 0h1m5 0h1m1 0h1m1 0h2m2 0h1m1 0h1m2 0h7m1 0h4m1 0h3m1 0h1m1 0h1m4 0h3m-57 1h1m3 0h1m2 0h1m5 0h3m1 0h1m1 0h15m1 0h2m1 0h1m1 0h3m3 0h2m1 0h1m7 0h1m-53 1h1m1 0h1m3 0h1m1 0h2m1 0h6m1 0h2m3 0h3m1 0h1m1 0h2m2 0h2m1 0h3m4 0h1m2 0h1m3 0h2m-53 1h1m6 0h3m2 0h3m1 0h3m1 0h5m1 0h3m2 0h2m1 0h2m4 0h1m2 0h2m3 0h1m-47 1h1m3 0h1m1 0h1m4 0h1m1 0h4m1 0h5m1 0h2m1 0h5m3 0h1m2 0h2m-43 1h2m4 0h2m2 0h2m1 0h18m4 0h1m-36 1h2m8 0h4m2 0h3m1 0h2m1 0h4m1 0h4m3 0h4m2 0h2m8 0h1m-41 1h1m2 0h1m1 0h2m1 0h3m1 0h4m2 0h1m2 0h2m13 0h1m-42 1h1m5 0h6m4 0h4m4 0h2m3 0h1m1 0h1m-41 1h1m5 0h1m3 0h2m2 0h1m2 0h1m1 0h1m1 0h2m3 0h3m8 0h1m1 0h1m4 0h1m-35 1h2m1 0h4m4 0h2m5 0h1m1 0h1m4 0h1m8 0h1m-39 1h1m1 0h1m5 0h1m1 0h1m8 0h1m8 0h1m9 0h1m10 0h1m-45 1h1m2 0h1m4 0h2m1 0h1m4 0h1m-16 1h1m7 0h1m5 0h2m9 0h1m-12 1h1m15 0h1m-37 1h1m-13 1h1m4 0h1m5 0h3m2 0h8m2 0h8m8 0h1m3 0h1m1 0h1" stroke="#000"/></g><g fill="none" stroke-width="1" transform="scale(1.36) translate(0.0,0.5)"><path d="M16 34h1m16 5h1m43 3h1m6 0h1m-43 2h1m32 3h1m14 1h1m-57 2h1m13 0h1m71 0h1m-93 2h1m47 1h1m38 0h1m4 1h1m-68 1h1m30 0h1m4 1h1m7 1h1m-48 1h1m19 0h1m-16 1h1m19 0h1m26 0h1m-2 1h2m-34 1h1m47 0h1m-87 1h1m18 0h1m46 0h1m17 0h1m-76 1h1m25 0h3m6 0h1m-50 1h1m22 0h1m18 0h1m42 0h1m-76 1h1m7 0h1m40 0h1m2 0h2m12 0h1m1 0h1m-88 1h1m37 0h1m59 0h1m-35 1h1m-57 1h1m79 0h1m4 0h1m-64 1h1m58 0h1m-50 1h1m6 0h1m5 0h1m24 0h2m7 0h1m4 0h1m-33 1h1m48 0h1m-74 1h2m12 0h1m25 0h2m-70 1h1m13 0h1m18 0h1m11 0h1m31 0h1m3 0h1m-53 1h1m24 0h1m9 0h1m20 0h1m5 0h1m-71 1h1m71 0h1m-107 1h1m7 0h1m68 0h1m8 0h1m-71 1h1m43 0h1m25 0h1m5 0h1m-65 1h1m42 0h1m3 0h2m-60 1h1m3 0h1m81 0h1m-52 1h1m29 0h2m13 0h1m-91 1h1m18 0h1m16 0h1m17 0h2m12 0h1m15 0h1m-64 1h1m15 0h1m51 0h1m-99 1h1m29 0h1m12 0h1m35 0h1m9 0h1m1 0h1m-89 1h1m36 0h1m30 0h1m3 0h1m3 0h2m1 0h1m2 0h1m6 0h1m2 0h1m-75 1h1m16 0h1m38 0h1m2 0h2m4 0h1m4 0h1m5 0h1m-22 1h1m2 0h2m6 1h1m18 0h1m-101 1h1m15 0h1m22 0h1m42 0h1m-5 1h1m3 0h1m-15 1h1m0 1h1m35 0h1m-74 1h1m54 0h1m-35 1h1m14 0h1m8 0h1m7 0h1m6 0h1m-40 2h1m25 0h1m8 0h1m-67 1h1m38 0h2m3 0h1m13 0h1m7 0h1m-18 1h1m3 0h1m-50 1h1m20 0h1m17 0h1m9 0h1m-83 1h1m54 0h1m3 0h1m3 0h1m5 0h1m8 0h1m4 0h1m13 0h1m-42 1h1m33 0h1m-82 1h1m51 0h1m7 0h1m-33 1h1m27 0h1m7 0h2m-23 1h1m1 0h1m9 0h1m-19 1h1m4 0h1m9 0h1m4 0h1m7 0h1m7 0h1m-61 1h1m30 0h1m3 0h1m7 0h1m13 0h1m-38 1h1m31 0h1m9 0h1m1 0h1m-95 1h1m64 0h1m1 0h1m25 0h1m6 0h1m2 0h1m-57 1h1m22 0h1m1 0h1m4 0h1m9 0h1m1 0h1m-43 1h1m9 0h1m27 0h1m-9 1h1m2 0h2m-27 1h2m7 0h1m6 0h1m2 0h1m8 0h1m6 0h1m10 0h1m6 0h1m-78 1h1m30 0h1m3 0h1m15 0h1m3 0h1m26 0h1m-51 1h1m7 0h2m26 0h1m-45 1h1m6 0h2m2 0h1m5 0h1m14 0h1m-68 1h1m9 0h1m12 0h1m6 0h2m2 0h1m3 0h1m15 0h1m-27 1h1m7 0h1m14 0h1m1 0h1m23 0h1m7 0h1m-78 1h1m6 0h1m16 0h1m9 0h1m3 0h1m2 0h1m3 0h1m1 0h1m2 0h1m7 0h1m16 0h1m-64 1h1m5 0h1m41 0h1m9 0h1m11 0h1m-72 1h1m5 0h1m5 0h1m14 0h1m4 0h1m3 0h1m4 0h1m2 0h1m5 0h1m1 0h1m24 0h1m-92 1h1m7 0h1m1 0h1m10 0h2m19 0h1m1 0h1m6 0h1m2 0h1m2 0h1m3 0h1m28 0h1m-112 1h1m30 0h1m4 0h1m7 0h1m8 0h1m19 0h1m15 0h1m-76 1h1m13 0h1m19 0h2m1 0h2m7 0h3m25 0h1m-64 1h1m13 0h1m1 0h1m9 0h1m7 0h1m3 0h1m3 0h1m-52 1h1m1 0h1m1 0h1m21 0h2m28 0h1m7 0h1m-46 1h1m4 0h1m1 0h2m5 0h1m18 0h1m3 0h1m4 0h1m30 0h1m-87 1h1m40 0h2m24 0h1m19 0h1m-106 1h1m18 0h1m1 0h1m1 0h1m24 0h1m9 0h1m-44 1h1m8 0h1m1 0h1m13 0h1m14 0h1m5 0h1m4 0h2m10 0h1m28 0h1m-94 1h1m1 0h1m51 0h2m3 0h2m29 0h1m-88 1h1m2 0h1m1 0h1m13 0h1m10 0h1m1 0h1m10 0h1m16 0h1m-66 1h1m3 0h1m8 0h1m32 0h1m33 0h1m-66 1h1m10 0h1m2 0h1m20 0h1m13 0h1m-31 1h1m12 0h1m7 0h1m4 0h1m25 0h1m-100 1h2m10 0h1m3 0h1m1 0h1m23 0h1m3 0h2m1 0h1m5 0h1m10 0h1m10 0h1m22 0h1m-83 1h1m9 0h1m24 0h2m5 0h1m7 0h1m-76 1h1m49 0h1m5 0h1m-39 1h1m16 0h1m16 0h1m-12 1h1m2 0h1m5 0h1m16 0h1m5 0h1m-60 1h1m2 0h1m4 0h1m1 0h1m12 0h1m14 0h1m1 0h1m-47 1h1m11 0h1m8 0h1m1 0h1m16 0h1m4 0h1m1 0h1m2 0h1m4 0h1m-55 1h1m1 0h1m47 0h1m2 0h1m-45 1h1m12 0h2m21 0h2m2 0h1m7 0h1m4 0h1m-64 1h2m16 0h1m13 0h1m4 0h1m4 0h3m7 0h1m4 0h1m1 0h1m-49 1h2m3 0h1m6 0h1m1 0h1m4 0h1m14 0h1m8 0h1m3 0h1m-27 1h1m9 0h1m-20 1h1m13 0h1m7 0h1m1 0h1m-45 1h1m24 0h1m10 0h1m7 0h1m8 0h1m-41 1h1m7 0h1m1 0h1m6 0h1m10 1h1m-21 1h1m13 0h1m11 0h1" stroke="#7a7a7a"/><path d="M63 39h1m-40 1h1m1 0h1m43 1h1m-20 1h1m-12 1h1m13 1h1m25 0h1m-39 1h1m62 0h1m-79 1h1m54 1h1m-54 3h1m3 0h1m19 0h1m3 0h1m29 0h1m-32 1h1m9 0h1m-47 1h1m83 0h1m3 0h1m-105 1h1m13 0h1m25 0h1m-4 2h1m58 0h1m1 0h1m-21 1h1m36 0h1m-71 1h1m12 0h1m21 0h1m18 0h1m-91 1h1m19 0h1m12 0h1m8 0h1m10 0h2m7 0h1m-36 1h1m13 0h1m12 0h1m-24 1h1m6 0h1m51 0h1m-70 1h1m65 0h1m4 0h1m-65 1h1m1 0h1m37 0h1m13 0h1m-17 1h1m9 0h1m8 0h1m3 0h1m1 0h1m3 0h1m-58 1h1m56 0h1m10 0h1m-119 1h1m59 0h1m8 0h1m21 0h1m4 0h1m13 0h1m-74 1h1m5 0h1m13 0h1m2 0h1m26 0h1m4 0h1m25 0h1m-88 1h1m10 0h1m35 0h2m11 0h1m6 0h2m3 0h1m2 0h1m4 0h1m1 0h1m-84 1h1m18 0h1m17 0h1m5 0h1m12 0h1m8 0h1m1 0h1m8 0h2m7 0h1m-96 1h1m15 0h1m16 0h1m10 0h1m1 0h1m28 0h2m3 0h2m15 0h1m1 0h1m1 0h1m-42 1h1m8 0h1m7 0h1m6 0h1m1 0h1m5 0h1m4 0h1m-118 1h1m22 0h1m16 0h1m5 0h1m12 0h1m4 0h1m9 0h1m2 0h1m12 0h1m4 0h1m6 0h1m17 0h1m-121 1h1m38 0h1m14 0h2m3 0h1m1 0h1m15 0h1m9 0h1m8 0h2m3 0h1m1 0h1m4 0h1m5 0h1m-114 1h1m34 0h1m15 0h1m20 0h2m9 0h1m5 0h1m5 0h2m5 0h1m13 0h1m-91 1h1m19 0h1m18 0h1m14 0h1m3 0h2m3 0h1m1 0h1m9 0h2m10 0h1m-105 1h1m76 0h1m1 0h2m7 0h1m1 0h1m6 0h2m2 0h1m-66 1h1m40 0h1m5 0h1m6 0h1m1 0h2m1 0h1m4 0h1m2 0h1m-88 1h1m7 0h1m18 0h1m34 0h1m3 0h1m11 0h2m13 0h1m-120 1h1m39 0h1m1 0h1m5 0h1m6 0h1m5 0h1m21 0h1m1 0h1m5 0h1m2 0h1m3 0h1m3 0h1m6 0h1m-97 1h1m33 0h1m13 0h1m12 0h1m1 0h1m8 0h2m6 0h1m5 0h1m7 0h1m9 0h1m-81 1h2m43 0h1m5 0h1m1 0h1m4 0h1m1 0h1m1 0h2m-62 1h1m16 0h1m2 0h1m1 0h2m6 0h1m15 0h1m3 0h1m2 0h1m3 0h1m1 0h1m4 0h1m3 0h1m1 0h1m12 0h1m-80 1h1m23 0h1m18 0h1m3 0h1m1 0h1m1 0h1m9 0h1m23 0h1m-122 1h1m9 0h1m38 0h1m28 0h1m10 0h1m4 0h1m-101 1h1m38 0h1m5 0h1m13 0h1m38 0h1m-74 1h1m2 0h1m4 0h1m29 0h1m5 0h1m2 0h1m3 0h1m4 0h1m5 0h1m9 0h2m4 0h1m4 0h1m8 0h1m-60 1h1m1 0h2m1 0h1m16 0h1m8 0h1m11 0h1m-72 1h1m14 0h1m17 0h1m10 0h2m1 0h1m6 0h1m2 0h1m1 0h1m-84 1h1m31 0h1m11 0h1m19 0h1m18 0h1m2 0h1m6 0h1m5 0h1m-98 1h1m19 0h1m13 0h1m17 0h1m9 0h1m4 0h1m3 0h1m1 0h1m5 0h1m7 0h1m-61 1h1m32 0h1m8 0h1m1 0h1m1 0h1m10 0h1m3 0h1m15 0h1m-114 1h1m58 0h1m12 0h1m3 0h1m1 0h1m1 0h1m8 0h2m6 0h1m9 0h1m-81 1h1m45 0h1m1 0h1m3 0h1m2 0h1m3 0h1m8 0h1m2 0h2m7 0h1m-91 1h1m9 0h1m61 0h1m22 0h1m-39 1h1m1 0h1m8 0h1m6 0h1m9 0h1m-84 1h1m24 0h1m20 0h1m4 0h1m11 0h1m14 0h1m-68 1h1m19 0h1m9 0h1m2 0h1m6 0h1m2 0h1m15 0h2m-55 1h2m10 0h1m4 0h1m5 0h1m2 0h1m9 0h1m4 0h1m2 0h1m2 0h1m3 0h1m6 0h1m-38 1h1m2 0h1m11 0h1m10 0h1m3 0h1m1 0h1m1 0h1m11 0h1m-47 1h1m15 0h1m4 0h1m1 0h1m4 0h1m-84 1h1m55 0h1m27 0h1m2 0h3m7 0h1m3 0h1m-85 1h1m53 0h1m1 0h1m6 0h1m4 0h1m5 0h1m1 0h1m-25 1h1m4 0h1m1 0h3m7 0h1m6 0h2m9 0h1m-107 1h1m68 0h1m4 0h1m1 0h1m1 0h1m13 0h1m1 0h1m11 0h1m-87 1h1m31 0h1m10 0h1m17 0h1m-45 1h1m5 0h1m13 0h1m5 0h1m7 0h1m3 0h1m1 0h1m8 0h1m1 0h1m2 0h1m3 0h1m1 0h1m-65 1h1m23 0h1m4 0h1m5 0h3m1 0h1m1 0h1m1 0h4m1 0h1m1 0h3m3 0h1m-57 1h1m37 0h2m5 0h1m3 0h1m2 0h1m6 0h1m-53 1h1m15 0h1m1 0h1m2 0h1m4 0h1m1 0h1m4 0h2m1 0h1m2 0h1m1 0h1m1 0h1m1 0h1m2 0h1m1 0h1m19 0h1m-68 1h1m6 0h1m9 0h1m10 0h1m4 0h1m1 0h1m9 0h1m1 0h1m2 0h2m-45 1h1m12 0h1m1 0h1m2 0h2m1 0h1m3 0h2m11 0h3m11 0h1m-91 1h1m32 0h1m2 0h1m23 0h1m2 0h2m1 0h1m7 0h2m1 0h1m27 0h1m-73 1h1m12 0h1m13 0h1m4 0h1m3 0h1m13 0h1m1 0h1m-76 1h2m19 0h1m3 0h2m5 0h1m2 0h1m9 0h1m8 0h2m3 0h1m2 0h1m7 0h2m10 0h1m3 0h1m-85 1h1m2 0h1m9 0h3m4 0h2m12 0h1m5 0h1m2 0h1m1 0h1m3 0h1m11 0h1m3 0h1m4 0h1m1 0h1m5 0h1m-56 1h2m3 0h1m3 0h1m2 0h2m2 0h2m4 0h1m3 0h1m5 0h1m3 0h2m1 0h1m2 0h1m14 0h1m-79 1h1m6 0h1m3 0h1m16 0h2m1 0h1m2 0h3m1 0h1m1 0h1m2 0h1m4 0h1m2 0h1m1 0h1m1 0h1m4 0h2m6 0h1m3 0h1m2 0h1m1 0h1m5 0h1m-90 1h1m22 0h1m2 0h1m10 0h4m4 0h1m10 0h2m1 0h1m4 0h2m4 0h1m2 0h1m23 0h1m-94 1h1m9 0h1m4 0h1m4 0h1m17 0h1m11 0h1m3 0h1m3 0h1m1 0h2m3 0h1m3 0h1m5 0h1m6 0h1m-92 1h1m2 0h1m22 0h2m12 0h3m2 0h1m2 0h3m11 0h1m1 0h1m2 0h1m7 0h1m4 0h1m3 0h1m-64 1h1m6 0h1m5 0h2m4 0h2m4 0h2m2 0h1m2 0h1m5 0h1m5 0h2m7 0h1m7 0h1m3 0h1m-66 1h1m5 0h1m2 0h2m2 0h5m5 0h1m2 0h1m3 0h1m3 0h2m2 0h1m3 0h1m1 0h1m3 0h1m4 0h1m11 0h2m5 0h1m-86 1h1m1 0h1m3 0h1m1 0h1m2 0h1m5 0h1m2 0h1m4 0h1m12 0h2m9 0h1m1 0h1m1 0h1m2 0h1m9 0h1m1 0h1m3 0h1m-61 1h1m3 0h1m1 0h1m4 0h1m3 0h1m8 0h1m12 0h1m2 0h1m5 0h1m2 0h1m3 0h1m4 0h1m12 0h1m1 0h1m-95 1h2m14 0h3m8 0h1m3 0h1m2 0h1m5 0h1m2 0h2m1 0h3m2 0h1m3 0h1m2 0h3m2 0h1m2 0h2m10 0h2m32 0h1m-110 1h1m7 0h1m3 0h1m5 0h1m1 0h2m1 0h1m2 0h1m1 0h1m9 0h1m3 0h1m3 0h3m3 0h2m4 0h1m4 0h1m4 0h1m5 0h1m7 0h1m2 0h2m2 0h1m2 0h1m-93 1h1m7 0h1m4 0h5m4 0h1m6 0h1m7 0h2m4 0h1m9 0h1m1 0h1m3 0h1m8 0h1m4 0h1m1 0h1m3 0h1m3 0h2m1 0h1m-76 1h1m8 0h2m10 0h1m1 0h1m3 0h1m9 0h1m10 0h2m7 0h1m16 0h1m-84 1h1m2 0h1m2 0h3m3 0h1m7 0h2m14 0h2m1 0h1m1 0h1m5 0h1m24 0h1m4 0h1m6 0h1m-92 1h1m2 0h1m3 0h1m5 0h1m3 0h1m5 0h1m3 0h1m15 0h1m4 0h1m2 0h1m2 0h3m4 0h1m1 0h1m11 0h1m3 0h1m5 0h1m-90 1h1m9 0h1m2 0h1m1 0h1m5 0h1m10 0h1m19 0h1m4 0h1m12 0h2m24 0h1m-88 1h1m7 0h1m3 0h2m7 0h1m1 0h1m6 0h1m4 0h2m2 0h1m2 0h1m2 0h1m4 0h1m2 0h1m-48 1h1m2 0h2m5 0h1m19 0h1m4 0h2m30 0h1m1 0h1m-69 1h1m1 0h1m3 0h2m20 0h1m2 0h1m3 0h1m9 0h2m6 0h1m6 0h1m42 0h1m-112 1h2m2 0h2m4 0h1m2 0h1m3 0h2m7 0h1m23 0h1m1 0h2m4 0h1m4 0h1m5 0h1m19 0h1m-105 1h1m17 0h1m3 0h1m9 0h2m8 0h1m6 0h1m2 0h2m1 0h1m1 0h2m10 0h1m10 0h1m-71 1h1m12 0h1m1 0h1m16 0h1m11 0h1m6 0h2m1 0h1m6 0h1m4 0h1m2 0h1m48 0h1m-126 1h2m5 0h1m10 0h1m18 0h1m9 0h1m1 0h1m11 0h1m4 0h1m7 0h1m-69 1h1m13 0h1m3 0h1m9 0h1m6 0h2m10 0h3m1 0h1m1 0h1m4 0h1m-54 1h1m7 0h1m3 0h1m3 0h1m1 0h1m4 0h2m5 0h1m13 0h1m4 0h2m2 0h1m5 0h1m3 0h1m-69 1h1m12 0h1m6 0h1m2 0h1m9 0h1m1 0h1m15 0h1m15 0h1m-77 1h1m20 0h1m1 0h1m7 0h1m6 0h1m14 0h1m1 0h2m-58 1h1m22 0h1m1 0h1m2 0h1m4 0h1m6 0h3m7 0h3m4 0h1m5 0h1m8 0h1m34 0h1m-98 1h1m8 0h1m2 0h1m4 0h1m6 0h2m6 0h1m12 0h1m18 0h1m-71 1h1m8 0h1m3 0h1m5 0h1m1 0h2m5 0h1m6 0h1m2 0h2m1 0h1m1 0h1m3 0h1m3 0h1m1 0h1m2 0h1m8 0h1m7 0h1m-70 1h1m2 0h2m1 0h2m10 0h2m1 0h1m1 0h1m6 0h1m5 0h2m1 0h2m3 0h1m5 0h2m8 0h1m-63 1h1m6 0h1m5 0h2m1 0h2m1 0h1m3 0h2m3 0h2m1 0h1m1 0h3m5 0h1m1 0h1m2 0h1m13 0h1m-49 1h4m1 0h1m7 0h2m6 0h3m1 0h1m4 0h1m-44 1h1m2 0h1m7 0h1m1 0h1m1 0h1m5 0h1m3 0h1m11 0h1m1 0h1m21 0h1m1 0h1m-62 1h1m14 0h1m10 0h1m1 0h1m9 0h1m-43 1h1m1 0h1m5 0h1m9 0h1m7 0h1m8 0h2m11 0h1m2 0h2m4 0h1m2 0h1m7 0h1m2 0h1m7 0h1" stroke="#2a2a2a"/><path d="M59 45h1m32 15h1m-36 2h2m41 3h1m4 0h1m-49 1h1m11 1h1m21 0h1m16 0h1m-58 1h1m43 0h1m4 0h1m-50 1h1m47 0h1m5 0h1m4 0h1m0 1h1m-61 1h1m58 0h1m-12 3h1m1 0h1m6 0h1m-20 1h1m7 0h2m1 0h1m4 0h1m3 1h1m-27 1h1m23 0h1m-9 2h1m-99 2h1m92 0h1m3 0h1m-2 1h1m-10 1h1m10 3h1m5 0h1m-46 2h1m24 0h1m9 0h1m6 0h1m-18 1h1m8 3h1m-4 1h1m-16 2h1m9 0h1m2 1h1m2 0h2m-9 1h1m10 0h1m-68 1h1m63 1h1m-10 1h1m-6 1h1m6 0h1m13 0h1m-34 2h1m3 0h1m8 0h3m3 0h2m1 0h1m-21 1h1m3 0h2m1 0h1m13 0h1m-10 1h1m3 0h1m-5 1h1m14 0h1m-49 1h1m13 0h1m13 0h1m20 0h1m-37 1h1m8 0h1m7 1h1m2 0h2m2 0h1m-25 1h1m9 0h1m1 0h2m9 0h1m-18 1h4m11 0h1m-15 1h1m1 0h1m4 0h1m9 0h1m4 0h1m-32 1h1m7 0h1m6 0h3m3 0h1m9 0h1m-38 1h1m7 0h1m4 0h1m2 0h1m1 0h1m3 0h1m2 0h1m-17 1h1m3 0h1m5 0h2m3 0h1m10 0h1m-16 1h1m5 0h1m4 0h1m-40 1h1m8 0h1m1 0h2m15 0h1m-35 1h1m9 0h1m6 0h2m7 0h1m1 0h1m1 0h1m3 0h1m-46 1h1m18 0h1m5 0h1m6 0h1m1 0h1m7 0h2m14 0h1m-45 1h1m2 0h1m12 0h1m5 0h2m6 0h1m6 0h1m-36 1h1m3 0h1m6 0h1m13 0h1m4 0h1m7 0h1m-45 1h1m3 0h2m2 0h1m1 0h1m1 0h2m9 0h1m2 0h1m3 0h2m15 0h1m-53 1h1m9 0h1m1 0h1m4 0h1m1 0h2m1 0h1m2 0h2m1 0h2m2 0h1m4 0h1m7 0h2m-39 1h1m1 0h3m4 0h1m3 0h1m1 0h1m7 0h2m1 0h1m1 0h1m6 0h1m11 0h1m13 0h1m-76 1h1m4 0h3m2 0h1m5 0h1m6 0h3m4 0h3m2 0h2m3 0h3m5 0h1m2 0h1m-65 1h1m9 0h1m12 0h1m5 0h3m2 0h4m1 0h2m3 0h3m1 0h2m1 0h2m3 0h1m3 0h1m-41 1h1m1 0h2m2 0h10m1 0h1m1 0h3m2 0h2m1 0h1m1 0h1m1 0h1m2 0h2m1 0h1m2 0h1m6 0h1m2 0h1m-55 1h1m3 0h1m2 0h3m2 0h4m2 0h1m1 0h4m1 0h1m2 0h1m1 0h1m1 0h1m2 0h2m1 0h2m1 0h1m7 0h1m-46 1h2m1 0h1m3 0h1m1 0h13m1 0h3m2 0h1m2 0h2m4 0h1m3 0h1m5 0h1m-69 1h1m18 0h4m1 0h4m1 0h3m1 0h9m2 0h1m1 0h1m3 0h3m2 0h1m1 0h1m-48 1h1m8 0h2m2 0h3m1 0h1m1 0h2m1 0h3m1 0h4m2 0h2m1 0h2m1 0h1m2 0h3m2 0h1m2 0h2m-45 1h4m2 0h1m2 0h9m1 0h2m1 0h3m1 0h2m5 0h1m9 0h2m-45 1h2m2 0h11m1 0h8m1 0h1m2 0h3m1 0h6m-39 1h2m1 0h1m1 0h1m2 0h7m1 0h6m1 0h3m2 0h1m1 0h4m2 0h1m39 0h1m-80 1h1m2 0h6m3 0h7m1 0h6m2 0h1m2 0h1m7 0h1m2 0h1m6 0h1m-52 1h1m4 0h6m1 0h2m1 0h6m1 0h6m4 0h1m3 0h1m1 0h2m9 0h1m-53 1h2m6 0h2m2 0h4m1 0h5m1 0h9m3 0h2m1 0h3m6 0h1m6 0h1m-55 1h1m6 0h1m2 0h9m1 0h2m1 0h2m4 0h1m2 0h3m1 0h1m9 0h1m-47 1h3m6 0h1m1 0h1m1 0h1m2 0h2m3 0h5m1 0h3m1 0h2m1 0h1m1 0h4m1 0h1m-42 1h1m1 0h1m3 0h4m3 0h1m1 0h9m1 0h1m1 0h2m1 0h2m5 0h2m1 0h1m-39 1h1m3 0h1m1 0h1m1 0h3m2 0h5m1 0h1m1 0h3m1 0h2m1 0h5m-39 1h1m5 0h1m2 0h1m1 0h1m2 0h1m4 0h2m1 0h2m5 0h3m1 0h2m-25 1h1m2 0h1m1 0h1m2 0h1m2 0h2m6 0h1m3 0h1m-28 1h1m6 0h3m3 0h2m14 0h1m-18 1h1m1 0h1m-10 1h1m6 0h1m9 0h2m-19 1h1m3 0h1m4 0h1m2 0h1m10 0h1m-19 1h1m5 0h1m7 0h1m-7 1h1m29 0h1m-70 1h1m8 0h1m3 0h1m2 0h1m2 0h1m2 0h7m1 0h2m1 0h5m2 0h1m2 0h1m3 0h1m1 0h1" stroke="#000"/></g><path d="M0 0H205.5V205.5" fill="none" stroke="#2a2a2a" stroke-width="1.45"/><path d="M0 0V205.5" fill="none" stroke="#666" stroke-width="1.3"/><path d="M-6 205.5H205.5" fill="none" stroke="#111" stroke-width="1.5"/><path d="M116.0 0V205.5" fill="none" stroke="#111" stroke-width="1.7"/><path d="M0 139.2H205.5" fill="none" stroke="#111" stroke-width="1.5"/><path d="M0.0 205.5v5.5M51.2 205.5v5.5M102.4 205.5v5.5M153.6 205.5v5.5M204.8 205.5v5.5M0 205.0h-6.5M0 154.0h-6.5M0 103.0h-6.5M0 52.0h-6.5M0 1.0h-6.5" fill="none" stroke="#111" stroke-width="1.4"/><path d="M15.4 205.5v2.8M24.4 205.5v2.8M30.8 205.5v2.8M35.8 205.5v2.8M39.8 205.5v2.8M43.3 205.5v2.8M46.2 205.5v2.8M48.9 205.5v2.8M66.6 205.5v2.8M75.6 205.5v2.8M82.0 205.5v2.8M87.0 205.5v2.8M91.0 205.5v2.8M94.5 205.5v2.8M97.4 205.5v2.8M100.1 205.5v2.8M117.8 205.5v2.8M126.8 205.5v2.8M133.2 205.5v2.8M138.2 205.5v2.8M142.2 205.5v2.8M145.7 205.5v2.8M148.6 205.5v2.8M151.3 205.5v2.8M169.0 205.5v2.8M178.0 205.5v2.8M184.4 205.5v2.8M189.4 205.5v2.8M193.4 205.5v2.8M196.9 205.5v2.8M199.8 205.5v2.8M202.5 205.5v2.8M0 189.6h-3.5M0 180.7h-3.5M0 174.3h-3.5M0 169.4h-3.5M0 165.3h-3.5M0 161.9h-3.5M0 158.9h-3.5M0 156.3h-3.5M0 138.6h-3.5M0 129.7h-3.5M0 123.3h-3.5M0 118.4h-3.5M0 114.3h-3.5M0 110.9h-3.5M0 107.9h-3.5M0 105.3h-3.5M0 87.6h-3.5M0 78.7h-3.5M0 72.3h-3.5M0 67.4h-3.5M0 63.3h-3.5M0 59.9h-3.5M0 56.9h-3.5M0 54.3h-3.5M0 36.6h-3.5M0 27.7h-3.5M0 21.3h-3.5M0 16.4h-3.5M0 12.3h-3.5M0 8.9h-3.5M0 5.9h-3.5M0 3.3h-3.5" fill="none" stroke="#333" stroke-width="1.05"/><g font-family="'Liberation Sans', sans-serif" fill="#111" stroke="#111" stroke-width="0.3"><text transform="translate(3.6 222.9) scale(1 1.04)" font-size="7.4">10</text><text transform="translate(11.3 218.6) scale(1 1.04)" font-size="6.8">0</text><text transform="translate(51.6 222.9) scale(1 1.04)" font-size="7.4">10</text><text transform="translate(59.3 218.6) scale(1 1.04)" font-size="6.8">1</text><text transform="translate(102.8 222.9) scale(1 1.04)" font-size="7.4">10</text><text transform="translate(110.5 218.6) scale(1 1.04)" font-size="6.8">2</text><text transform="translate(154.0 222.9) scale(1 1.04)" font-size="7.4">10</text><text transform="translate(161.7 218.6) scale(1 1.04)" font-size="6.8">3</text><text transform="translate(196.3 222.9) scale(1 1.04)" font-size="7.4">10</text><text transform="translate(204.0 218.6) scale(1 1.04)" font-size="6.8">4</text><text transform="translate(-20.8 203.2) scale(1 1.04)" font-size="7.4">10</text><text transform="translate(-13.0 198.8) scale(1 1.04)" font-size="6.8">0</text><text transform="translate(-20.8 158.8) scale(1 1.04)" font-size="7.4">10</text><text transform="translate(-13.0 154.4) scale(1 1.04)" font-size="6.8">1</text><text transform="translate(-20.8 107.8) scale(1 1.04)" font-size="7.4">10</text><text transform="translate(-13.0 103.4) scale(1 1.04)" font-size="6.8">2</text><text transform="translate(-20.8 56.8) scale(1 1.04)" font-size="7.4">10</text><text transform="translate(-13.0 52.4) scale(1 1.04)" font-size="6.8">3</text><text transform="translate(-20.8 12.2) scale(1 1.04)" font-size="7.4">10</text><text transform="translate(-13.0 7.8) scale(1 1.04)" font-size="6.8">4</text></g><g font-family="'Liberation Sans', sans-serif" fill="#141414" stroke="#141414" stroke-width="0.55"><text transform="translate(8.9 36.4) scale(1 1.04)" font-size="30.6">8</text><text transform="translate(195.3 36.4) scale(1 1.04)" font-size="30.6" text-anchor="end">9</text><text transform="translate(7.0 199.8) scale(1 1.04)" font-size="30.6">76</text><text transform="translate(197.7 199.8) scale(1 1.04)" font-size="30.6" text-anchor="end">6</text></g></g>
<g transform="translate(1128.3,613.0)"><g fill="none" stroke-width="1" transform="scale(1.36) translate(-0.5,0.0)"><path d="M107 43h1m-52 4h1m-18 1h1m7 3h1m-13 1h1m10 0h1m28 0h1m26 0h1m-47 1h1m24 1h1m-17 1h1m-61 1h1m34 0h1m59 0h1m-73 2h1m2 0h1m25 0h1m13 0h1m2 0h1m1 0h1m6 1h1m11 0h1m2 1h1m-73 2h1m20 0h1m16 0h1m-14 1h1m36 0h1m-55 1h1m34 1h1m-1 1h1m3 0h1m-62 1h1m16 0h1m13 0h1m-27 1h1m1 1h1m-4 1h1m19 0h1m7 0h1m5 0h1m7 0h1m-7 1h1m13 0h1m26 0h2m14 0h1m5 0h1m-75 1h1m26 0h1m27 0h1m-27 1h1m2 0h1m14 0h1m6 0h1m21 0h1m-104 1h1m56 0h1m6 0h1m1 0h1m19 0h2m4 0h1m-106 1h1m35 0h1m21 0h1m0 1h1m34 0h1m9 0h1m-71 1h1m24 0h1m3 0h1m23 0h2m14 0h1m1 0h1m-60 1h1m16 0h1m6 0h1m7 0h1m5 0h1m10 0h1m9 0h1m-98 1h1m40 0h1m11 0h1m13 0h1m14 0h1m4 0h1m-73 1h1m21 0h1m10 0h1m1 0h1m24 0h1m8 0h3m12 0h2m2 0h1m2 0h1m-73 1h1m29 0h1m17 0h1m9 0h1m5 0h1m-51 1h2m5 0h1m3 0h1m11 0h1m30 0h1m7 0h1m-119 1h1m33 0h1m32 0h1m14 0h1m14 0h1m12 0h1m-95 1h1m48 0h1m24 0h2m-90 1h1m57 0h1m19 0h1m12 0h4m2 0h1m-72 1h1m30 0h1m17 0h1m10 0h1m3 0h1m5 0h1m9 0h1m-100 1h1m13 0h1m14 0h1m5 0h1m5 0h1m37 0h1m8 0h1m8 0h1m-73 1h1m41 0h2m5 0h1m7 0h1m1 0h2m3 0h1m13 0h1m-88 1h1m19 0h3m21 0h1m2 0h1m1 0h1m4 0h1m9 0h1m6 0h1m-55 1h1m6 0h1m3 0h1m10 0h1m22 0h2m3 0h1m11 0h1m-54 1h1m4 0h1m18 0h1m4 0h1m2 0h1m13 0h1m12 0h1m-72 1h1m8 0h1m23 0h2m5 0h1m26 0h1m-70 1h1m7 0h1m27 0h1m15 0h1m-33 1h1m7 0h1m12 0h1m2 0h1m6 0h1m-45 1h1m7 0h1m10 0h1m11 0h1m2 0h1m13 0h1m1 0h1m17 0h1m-65 1h1m14 0h1m7 0h1m6 0h1m1 0h1m6 0h1m5 0h1m13 0h1m-33 1h1m7 0h1m-4 1h1m-23 1h1m16 0h1m-15 1h1m11 0h1m6 0h1m9 0h1m13 0h1m1 0h1m-27 1h1m1 0h1m1 0h1m4 0h1m22 0h1m-59 1h1m12 0h1m3 0h1m1 0h1m1 0h1m11 0h1m-43 1h1m16 0h1m15 0h1m16 0h1m-25 1h1m15 0h1m-46 1h1m2 0h1m5 0h1m6 0h1m9 0h1m3 0h1m11 0h1m-23 1h2m5 0h1m14 0h1m-24 1h1m19 0h1m3 0h1m10 0h1m-45 1h1m8 0h1m2 0h1m16 0h1m-51 1h1m34 0h1m13 0h1m-29 1h1m31 0h1m-34 1h1m1 0h1m5 0h1m1 0h2m7 0h1m7 0h1m1 0h1m4 0h1m3 0h1m1 0h1m2 0h1m20 0h1m-60 1h1m5 0h1m9 0h1m8 0h1m11 0h1m5 0h1m9 0h1m-74 1h2m7 0h1m8 0h1m3 0h1m3 0h1m2 0h1m7 0h1m-34 1h1m15 0h1m-27 1h1m25 0h1m4 0h1m2 0h1m7 0h2m20 0h1m-41 1h1m4 0h1m1 0h1m1 0h1m9 0h1m12 0h1m1 0h1m10 0h1m-73 1h1m15 0h1m4 0h2m8 0h1m3 0h1m1 0h1m8 0h1m12 0h2m11 0h1m-61 1h1m11 0h1m6 0h1m1 0h1m18 0h2m4 0h1m8 0h1m5 0h1m5 0h1m-74 1h1m7 0h1m9 0h1m4 0h1m5 0h1m4 0h1m4 0h1m1 0h1m3 0h1m28 0h1m-76 1h1m1 0h2m14 0h1m2 0h1m1 0h1m17 0h1m4 0h1m3 0h3m-40 1h2m6 0h1m1 0h2m2 0h1m17 0h1m-40 1h1m6 0h1m8 0h1m8 0h1m4 0h1m22 0h2m15 0h1m-67 1h1m6 0h1m7 0h2m17 0h1m5 0h1m34 0h1m-65 1h1m4 0h1m5 0h1m5 0h1m1 0h1m2 0h1m31 0h1m-81 1h1m16 0h1m5 0h2m38 0h1m19 0h1m-89 1h1m26 0h1m9 0h1m2 0h1m3 0h1m17 0h1m14 0h1m-72 1h1m4 0h1m30 0h2m9 0h1m28 0h1m-44 1h1m5 0h1m2 0h1m28 0h1m6 0h1m10 0h1m-83 1h1m5 0h1m4 0h1m32 0h1m19 0h1m-76 1h1m12 0h1m11 0h1m8 0h1m4 0h1m-38 1h1m2 0h1m14 0h1m1 0h1m11 0h1m3 0h2m2 0h1m10 0h1m3 0h1m23 0h1m-79 1h1m4 0h1m15 0h1m2 0h1m10 0h1m3 0h1m6 0h1m-49 1h1m1 0h3m23 0h1m32 0h1m-39 1h1m18 0h1m4 0h1m8 0h1m-43 1h1m16 0h1m8 0h2m18 0h1m-60 1h1m1 0h1m23 0h1m2 0h1m57 0h1m-97 1h1m17 0h1m72 0h1m-81 1h1m72 0h1m-92 1h1m35 0h1m2 0h1m1 0h1m10 0h1m-43 1h1m6 0h1m18 0h1m9 0h1m10 0h1m-44 1h1m4 0h1m10 0h1m4 0h1m1 0h1m1 0h1m2 0h1m28 0h1m-77 1h1m12 0h1m1 0h1m2 0h1m1 0h1m4 0h1m2 0h1m5 0h1m3 0h2m5 0h1m10 0h1m3 0h1m-40 1h1m10 0h1m16 0h1m4 0h1m-50 1h1m12 0h1m23 0h1m27 0h1m-76 1h1m17 0h1m5 0h1m4 0h1m18 0h1m-26 1h1m3 0h1m8 0h1m6 0h1m-12 1h1m1 0h1m12 0h1m-30 1h1m32 0h1m-38 1h1m41 0h1m-57 1h1m30 0h1m18 0h3" stroke="#7a7a7a"/><path d="M6 41h1m53 4h1m1 0h1m-10 2h1m-41 1h1m56 1h1m-7 1h1m29 0h1m-23 3h1m-19 1h1m6 0h1m40 0h1m-53 1h1m40 0h1m-4 2h1m10 0h1m-35 1h1m-9 1h1m3 0h1m4 0h1m33 0h1m-61 1h1m23 0h1m25 0h1m-58 1h1m40 0h1m34 0h1m0 1h1m-95 1h1m10 0h1m6 0h1m24 0h2m9 0h1m32 0h1m10 0h1m-64 1h1m9 0h1m23 0h1m23 0h1m-100 1h1m59 0h1m25 0h1m-34 1h1m19 0h2m-84 1h1m23 0h1m53 0h1m21 0h1m12 0h1m25 0h1m-47 1h2m-65 1h1m47 0h1m12 0h1m10 0h1m-85 1h1m63 0h2m29 0h1m-102 1h1m24 0h1m2 0h1m5 0h1m1 0h1m21 0h2m24 0h1m3 0h1m5 0h1m-68 1h1m18 0h1m26 0h1m8 0h1m-83 1h1m30 0h1m2 0h1m13 0h1m17 0h1m1 0h1m1 0h1m2 0h1m11 0h1m5 0h1m1 0h1m1 0h1m4 0h1m-57 1h1m46 0h1m-92 1h1m32 0h1m7 0h1m10 0h1m1 0h1m16 0h1m3 0h1m13 0h1m7 0h1m-107 1h1m6 0h1m1 0h1m17 0h1m27 0h1m12 0h1m2 0h1m1 0h1m1 0h1m8 0h2m1 0h1m1 0h1m2 0h1m2 0h1m2 0h1m7 0h1m-110 1h1m11 0h1m10 0h1m2 0h1m16 0h1m22 0h1m4 0h2m13 0h1m5 0h1m6 0h1m-60 1h1m7 0h2m8 0h1m28 0h2m1 0h1m2 0h1m15 0h1m-110 1h1m34 0h1m35 0h2m4 0h2m4 0h2m2 0h1m9 0h1m5 0h1m2 0h1m5 0h1m-103 1h1m35 0h1m7 0h1m9 0h1m8 0h1m2 0h2m4 0h1m14 0h2m1 0h1m5 0h1m13 0h1m-56 1h1m7 0h2m1 0h1m1 0h1m5 0h1m3 0h1m10 0h1m2 0h4m-85 1h1m23 0h1m16 0h1m15 0h1m2 0h3m5 0h1m5 0h1m1 0h3m1 0h1m-49 1h1m7 0h3m1 0h2m7 0h1m3 0h1m5 0h3m8 0h2m1 0h2m13 0h1m-79 1h1m10 0h1m1 0h1m12 0h1m5 0h1m6 0h1m2 0h1m4 0h1m5 0h1m5 0h1m1 0h1m1 0h1m3 0h2m-53 1h1m15 0h3m1 0h1m2 0h2m1 0h1m12 0h3m21 0h2m-92 1h1m31 0h1m3 0h1m5 0h1m1 0h1m9 0h1m7 0h2m5 0h1m7 0h1m1 0h1m2 0h1m7 0h1m-69 1h1m9 0h1m2 0h1m11 0h1m2 0h1m2 0h1m6 0h2m3 0h1m3 0h1m8 0h1m4 0h1m-53 1h1m7 0h1m1 0h1m20 0h1m3 0h1m20 0h1m-100 1h1m60 0h1m3 0h2m1 0h2m2 0h1m1 0h1m5 0h1m1 0h1m9 0h1m4 0h1m-94 1h2m9 0h1m29 0h2m19 0h1m6 0h1m4 0h1m2 0h1m6 0h1m2 0h1m-83 1h1m4 0h1m44 0h1m4 0h1m7 0h1m5 0h1m5 0h1m-64 1h1m20 0h1m10 0h2m9 0h1m11 0h2m6 0h1m1 0h1m-61 1h1m11 0h1m5 0h1m18 0h2m10 0h1m11 0h1m4 0h1m-38 1h1m8 0h1m8 0h2m16 0h1m4 0h1m-59 1h1m9 0h1m8 0h1m6 0h1m3 0h1m6 0h1m10 0h1m-63 1h1m16 0h1m1 0h1m2 0h1m5 0h1m3 0h1m3 0h3m1 0h1m2 0h1m2 0h1m6 0h1m4 0h2m-69 1h1m35 0h1m3 0h1m23 0h1m5 0h1m-38 1h1m4 0h2m3 0h1m18 0h1m13 0h2m1 0h1m-53 1h1m23 0h1m4 0h1m6 0h1m2 0h1m10 0h1m-72 1h1m11 0h1m21 0h1m2 0h2m6 0h1m9 0h1m2 0h1m2 0h1m2 0h1m-33 1h2m7 0h1m1 0h1m13 0h1m4 0h1m-68 1h1m30 0h1m5 0h1m3 0h1m11 0h1m14 0h2m-54 1h1m14 0h1m1 0h1m9 0h1m-13 1h1m13 0h1m3 0h1m1 0h1m2 0h1m15 0h1m3 0h1m-60 1h1m17 0h1m5 0h1m8 0h1m4 0h3m15 0h1m-53 1h1m27 0h1m14 0h1m7 0h1m-44 1h1m6 0h1m4 0h1m9 0h2m9 0h1m-89 1h1m35 0h1m17 0h1m4 0h1m8 0h2m3 0h1m2 0h1m6 0h2m2 0h1m5 0h1m1 0h1m3 0h1m-55 1h1m3 0h1m9 0h1m2 0h1m15 0h1m3 0h4m-46 1h1m13 0h1m1 0h1m3 0h2m4 0h1m2 0h1m4 0h1m-64 1h1m28 0h1m4 0h1m2 0h1m15 0h1m10 0h2m2 0h1m16 0h1m-57 1h1m17 0h1m7 0h1m8 0h2m10 0h1m4 0h1m5 0h1m9 0h1m1 0h1m4 0h1m-74 1h1m12 0h2m3 0h1m3 0h1m1 0h1m4 0h2m1 0h2m3 0h1m23 0h1m1 0h1m-74 1h2m12 0h1m11 0h1m1 0h2m5 0h3m4 0h1m1 0h1m4 0h1m2 0h1m3 0h1m2 0h1m-45 1h1m2 0h3m5 0h2m5 0h1m2 0h1m5 0h2m3 0h1m1 0h1m4 0h2m3 0h1m8 0h1m-63 1h1m2 0h1m1 0h1m2 0h1m1 0h1m3 0h1m16 0h2m8 0h1m14 0h1m32 0h1m-104 1h1m14 0h1m26 0h1m4 0h1m4 0h1m13 0h1m5 0h1m-66 1h1m3 0h1m8 0h1m8 0h3m6 0h2m1 0h1m9 0h1m12 0h1m2 0h1m12 0h1m2 0h1m-85 1h1m1 0h1m8 0h1m9 0h1m3 0h2m3 0h1m9 0h1m4 0h2m3 0h1m1 0h1m1 0h1m1 0h1m6 0h1m4 0h1m13 0h1m-75 1h1m8 0h1m5 0h1m11 0h1m5 0h1m4 0h1m4 0h4m7 0h1m-48 1h1m5 0h1m2 0h1m6 0h1m14 0h1m6 0h1m2 0h1m12 0h1m2 0h1m4 0h1m5 0h1m17 0h1m-97 1h1m7 0h2m1 0h1m1 0h1m1 0h1m7 0h1m1 0h1m2 0h2m13 0h1m7 0h1m1 0h1m12 0h1m4 0h1m3 0h2m-83 1h1m8 0h2m1 0h1m12 0h1m3 0h3m5 0h1m3 0h1m2 0h1m12 0h2m6 0h1m1 0h1m2 0h2m7 0h1m-85 1h1m11 0h1m10 0h1m1 0h1m2 0h1m17 0h1m13 0h1m10 0h1m8 0h1m2 0h1m-66 1h1m3 0h1m5 0h1m3 0h1m2 0h2m1 0h2m8 0h1m29 0h1m24 0h1m-91 1h2m5 0h1m2 0h1m1 0h1m7 0h1m2 0h1m2 0h1m6 0h2m3 0h1m9 0h1m1 0h1m8 0h1m1 0h1m-63 1h3m23 0h1m3 0h1m2 0h2m7 0h1m1 0h1m5 0h2m2 0h1m23 0h1m-86 1h1m7 0h1m1 0h1m2 0h1m19 0h2m5 0h1m6 0h1m1 0h1m2 0h1m5 0h1m15 0h1m-66 1h2m1 0h1m4 0h1m3 0h1m23 0h1m3 0h2m4 0h1m5 0h1m6 0h1m1 0h1m2 0h1m-70 1h1m8 0h1m11 0h1m16 0h2m2 0h1m11 0h2m13 0h1m-77 1h1m7 0h2m1 0h1m4 0h1m1 0h1m18 0h2m3 0h1m7 0h1m29 0h1m2 0h1m3 0h1m-89 1h1m5 0h1m1 0h1m4 0h1m1 0h1m26 0h1m13 0h1m13 0h1m6 0h1m4 0h1m-80 1h1m14 0h1m10 0h2m19 0h1m3 0h1m1 0h1m1 0h1m-53 1h1m6 0h1m5 0h2m6 0h1m9 0h1m3 0h2m1 0h1m1 0h1m-46 1h1m1 0h1m6 0h2m1 0h1m1 0h1m20 0h1m16 0h1m2 0h1m2 0h2m34 0h1m-98 1h1m13 0h2m4 0h1m5 0h1m11 0h1m2 0h1m3 0h2m1 0h2m1 0h1m3 0h2m4 0h1m4 0h1m37 0h1m-102 1h1m2 0h2m1 0h1m4 0h1m2 0h1m4 0h1m2 0h2m3 0h1m12 0h4m1 0h2m5 0h1m8 0h1m9 0h1m-54 1h1m11 0h1m4 0h1m1 0h2m3 0h1m11 0h1m45 0h1m-102 1h1m6 0h1m1 0h1m9 0h1m1 0h1m19 0h1m3 0h2m21 0h1m-87 1h1m1 0h1m12 0h2m5 0h1m3 0h1m6 0h1m17 0h1m2 0h1m5 0h2m1 0h1m-39 1h1m6 0h1m10 0h1m2 0h1m3 0h2m1 0h2m4 0h2m24 0h1m-67 1h1m2 0h1m5 0h1m3 0h1m2 0h1m18 0h1m2 0h1m1 0h1m3 0h2m-53 1h1m8 0h1m1 0h1m6 0h3m1 0h1m10 0h1m3 0h1m11 0h1m1 0h1m-50 1h1m12 0h1m3 0h3m6 0h1m2 0h1m1 0h1m3 0h1m1 0h3m1 0h1m-34 1h1m8 0h2m1 0h2m8 0h1m1 0h2m2 0h1m4 0h1m8 0h1m3 0h1m-63 1h1m4 0h1m10 0h1m2 0h1m13 0h3m4 0h1m1 0h1m1 0h1m-51 1h1m17 0h1m3 0h1m3 0h1m1 0h2m6 0h2m5 0h2m1 0h1m18 0h1m11 0h1m-78 1h1m13 0h1m2 0h1m4 0h1m2 0h1m4 0h1m11 0h2m4 0h1m1 0h1m-33 1h2m5 0h2m4 0h1m2 0h1m1 0h1m1 0h1m18 0h1m3 0h1m-60 1h1m9 0h1m3 0h1m10 0h1m20 0h1m4 0h3m1 0h1m2 0h1m5 0h1" stroke="#2a2a2a"/><path d="M81 60h1m9 0h1m0 6h1m-65 2h1m33 2h1m21 1h1m2 0h1m13 1h1m-61 1h1m3 0h1m32 0h1m10 0h1m13 1h1m-12 2h1m4 1h1m-12 1h1m3 0h1m11 0h1m2 0h1m3 0h1m-28 1h1m6 0h1m11 0h1m-38 1h1m10 0h1m3 0h1m2 0h1m-43 1h1m8 0h1m20 0h2m4 0h1m15 0h1m1 0h1m1 0h1m-19 1h1m8 0h2m18 0h1m-34 1h1m2 0h1m14 0h2m1 0h1m-16 1h1m5 0h1m1 0h1m4 0h1m4 0h1m-56 1h1m39 0h1m4 0h1m-13 1h1m9 0h1m3 0h1m1 0h1m3 0h1m-33 1h1m2 0h1m9 0h1m3 0h1m5 0h1m11 0h1m1 0h1m7 0h1m-67 1h1m17 0h1m1 0h1m19 0h1m13 0h1m-38 1h1m35 0h1m-36 1h1m22 0h2m21 0h1m-30 1h1m3 0h1m4 0h1m7 0h2m-9 1h1m-19 1h2m8 0h1m4 0h1m3 0h1m6 0h1m8 1h1m-9 1h1m-28 2h1m15 0h1m4 0h1m-8 1h1m-17 1h1m4 0h1m-7 1h1m9 0h1m8 0h1m-25 2h1m21 0h1m7 0h1m-5 1h1m-19 1h1m15 0h1m-32 1h1m7 0h1m6 0h1m1 0h1m5 0h3m8 0h1m-33 1h1m1 0h1m12 0h1m1 0h2m-18 1h2m1 0h1m2 0h1m7 1h1m-5 1h1m1 0h1m9 0h1m1 0h1m8 0h1m-26 1h1m2 0h1m3 0h2m3 0h1m8 0h1m-33 1h1m11 0h1m5 0h1m19 0h1m-43 1h1m18 0h1m10 0h1m1 0h1m2 0h1m-42 1h1m3 0h1m8 0h1m10 0h2m6 0h2m-21 1h1m5 0h1m1 0h1m11 0h1m9 0h1m6 0h1m-42 1h1m1 0h1m11 0h1m16 0h2m-51 1h1m11 0h1m3 0h1m12 0h1m1 0h1m1 0h1m5 0h1m2 0h1m-27 1h1m11 0h1m8 0h1m2 0h1m5 0h1m-36 1h2m4 0h1m3 0h1m4 0h1m7 0h1m1 0h2m1 0h1m1 0h1m-25 1h1m5 0h1m1 0h2m3 0h1m4 0h1m18 0h1m-53 1h1m14 0h1m7 0h2m3 0h2m4 0h1m31 0h1m-56 1h2m1 0h2m7 0h7m6 0h1m4 0h1m5 0h1m3 0h1m19 0h1m-65 1h1m2 0h1m4 0h1m6 0h1m2 0h1m9 0h1m7 0h1m3 0h1m-46 1h1m4 0h1m5 0h1m3 0h1m5 0h2m2 0h2m3 0h1m-33 1h1m5 0h2m2 0h4m1 0h1m1 0h4m1 0h2m1 0h1m2 0h1m1 0h1m3 0h1m8 0h1m-47 1h1m2 0h2m1 0h1m2 0h1m2 0h1m1 0h1m5 0h1m2 0h7m5 0h1m2 0h1m-37 1h1m2 0h1m1 0h1m1 0h5m3 0h1m2 0h2m1 0h2m1 0h1m4 0h1m-34 1h1m2 0h3m1 0h10m1 0h5m2 0h1m2 0h2m4 0h2m1 0h1m-42 1h1m4 0h1m7 0h7m1 0h6m2 0h4m3 0h2m-40 1h1m3 0h1m5 0h3m1 0h1m1 0h1m2 0h1m1 0h15m1 0h1m1 0h1m3 0h1m4 0h1m-46 1h5m2 0h1m1 0h6m1 0h2m1 0h1m1 0h7m2 0h2m1 0h1m3 0h1m3 0h1m31 0h1m-80 1h1m7 0h4m1 0h1m1 0h6m1 0h1m1 0h9m3 0h2m3 0h2m1 0h2m11 0h1m-53 1h1m1 0h1m3 0h14m1 0h2m1 0h7m2 0h1m8 0h1m-41 1h2m2 0h2m2 0h9m2 0h4m1 0h4m1 0h5m-38 1h2m2 0h1m1 0h1m2 0h2m2 0h6m1 0h2m1 0h3m1 0h2m1 0h3m2 0h1m-40 1h1m9 0h1m1 0h5m1 0h12m1 0h1m1 0h1m1 0h2m3 0h1m6 0h1m2 0h1m-49 1h1m7 0h4m1 0h5m1 0h9m1 0h1m2 0h1m1 0h2m3 0h1m-37 1h1m6 0h1m1 0h2m1 0h2m2 0h3m1 0h9m1 0h1m-40 1h1m4 0h1m2 0h2m2 0h1m1 0h5m1 0h11m1 0h4m1 0h1m2 0h1m5 0h1m-48 1h1m1 0h1m2 0h1m1 0h1m1 0h1m2 0h3m1 0h4m1 0h1m1 0h6m1 0h2m1 0h1m1 0h2m19 0h1m-55 1h1m1 0h1m1 0h1m4 0h1m1 0h3m1 0h12m1 0h4m1 0h2m3 0h1m-37 1h2m5 0h1m1 0h2m1 0h7m1 0h2m1 0h1m19 0h1m-36 1h1m1 0h1m2 0h1m1 0h2m2 0h3m2 0h2m4 0h1m4 0h1m3 0h1m-42 1h1m7 0h1m1 0h1m3 0h1m2 0h1m1 0h1m2 0h2m1 0h1m1 0h1m1 0h1m7 0h1m-35 1h1m1 0h2m3 0h1m4 0h1m1 0h3m5 0h1m3 0h1m-24 1h1m1 0h2m1 0h1m2 0h1m3 0h2m1 0h4m-15 1h3m5 0h2m19 0h2m-41 1h1m3 0h1m9 0h1m1 0h1m4 0h1m1 0h1m-23 1h1m7 0h1m12 0h1m-15 1h1m12 0h1m-24 1h10m1 0h3m1 0h8m1 0h1m1 0h1m1 0h2" stroke="#000"/></g><g fill="none" stroke-width="1" transform="scale(1.36) translate(0.0,0.5)"><path d="M24 42h1m5 3h1m1 2h1m2 0h1m32 0h1m19 2h1m32 1h1m-73 1h1m6 0h1m8 1h1m-29 2h1m41 1h1m-30 2h1m-31 1h1m29 0h1m83 0h1m-107 1h1m-13 1h1m15 0h1m17 0h1m31 2h1m14 0h1m16 0h1m-92 1h1m82 0h1m-77 1h1m34 0h1m40 0h1m1 0h1m2 0h1m-75 1h1m27 0h2m37 0h1m-63 1h1m21 0h1m10 0h1m15 0h1m-33 1h1m11 0h1m42 0h1m-114 1h1m7 0h1m32 1h1m54 0h1m-59 2h1m19 0h1m14 0h1m28 0h1m13 0h1m-96 1h1m24 0h1m17 0h1m33 0h1m9 0h1m-33 1h1m8 0h1m18 0h1m-43 1h1m25 0h1m3 0h1m21 0h1m-62 1h1m23 0h1m7 0h1m5 0h2m4 0h1m2 0h1m-75 1h1m19 0h1m23 0h1m25 0h2m-67 1h1m19 0h1m14 0h1m3 0h1m8 0h1m2 0h1m6 0h2m11 0h1m-22 1h1m2 0h1m18 0h1m-98 1h1m21 0h1m54 0h1m4 0h1m1 0h1m2 0h1m18 0h1m8 0h1m-94 1h1m18 0h1m24 0h2m14 0h1m5 0h1m14 0h2m2 0h1m-114 1h1m31 0h1m14 0h1m40 0h1m28 0h1m-110 1h1m23 0h1m9 0h1m12 0h1m28 0h1m3 0h2m24 0h1m-60 1h1m12 0h1m20 0h1m5 0h1m1 0h1m2 0h1m22 0h1m-98 1h1m9 0h1m9 0h1m7 0h1m12 0h1m6 0h1m8 0h2m4 0h1m-31 1h1m16 0h1m3 0h1m3 0h1m4 0h1m13 0h1m-19 1h2m5 0h1m1 0h1m2 0h1m1 0h1m12 0h1m-88 1h1m6 0h1m17 0h1m7 0h1m10 0h1m3 0h3m5 0h1m18 0h2m-92 1h1m3 0h1m38 0h2m3 0h1m22 0h2m18 0h1m-36 1h1m14 0h1m3 0h1m6 0h1m-81 1h1m13 0h1m21 0h1m47 0h1m8 0h1m-43 1h1m26 0h1m5 0h1m1 0h1m-24 1h1m2 0h1m18 0h2m-81 1h1m28 0h1m30 0h1m5 0h1m14 0h1m-23 1h1m9 0h1m5 0h1m4 0h1m-41 1h3m7 0h1m29 0h1m12 0h1m-54 1h1m3 0h1m8 0h1m12 0h1m10 0h1m-26 1h1m7 0h1m7 0h2m24 0h1m-97 1h1m53 0h1m9 0h1m4 0h1m-86 1h1m84 0h1m8 0h1m-32 1h1m23 0h1m8 0h1m-97 1h1m62 0h2m3 0h1m3 0h1m15 0h1m5 0h1m-59 1h1m9 0h1m6 0h1m24 0h2m16 0h1m-29 1h3m-23 1h1m1 0h1m11 0h1m9 0h1m10 0h1m1 0h1m4 0h1m2 0h1m-34 1h1m6 0h1m18 0h1m7 0h2m-53 1h2m28 0h1m8 0h1m1 0h1m-40 1h1m9 0h1m26 0h1m1 0h1m14 0h1m-34 1h1m5 0h1m16 1h1m22 0h1m-39 1h1m1 0h1m14 0h1m-36 1h1m6 0h2m7 0h1m17 0h1m4 0h1m-51 1h1m4 0h1m1 0h1m2 0h1m2 0h1m25 0h1m-35 1h1m2 0h1m11 0h1m5 0h1m7 0h1m17 0h1m15 0h1m3 0h1m-57 1h1m14 0h1m7 0h1m4 0h1m9 0h1m-59 1h2m1 0h1m8 0h1m13 0h1m1 0h1m4 0h1m7 0h1m4 0h1m1 0h1m28 0h1m-94 1h1m24 0h1m2 0h1m9 0h1m6 0h1m10 0h1m5 0h1m-37 1h1m4 0h2m3 0h1m1 0h1m1 0h1m3 0h1m1 0h1m4 0h1m8 0h1m1 0h1m-24 1h1m7 0h1m7 0h1m1 0h1m9 0h1m4 0h1m2 0h1m12 0h1m-81 1h1m2 0h1m6 0h1m13 0h1m13 0h1m13 0h1m-43 1h1m4 0h1m13 0h1m5 0h2m4 0h1m18 0h1m13 0h1m-58 1h1m7 0h1m3 0h1m20 0h1m6 0h1m31 0h1m-96 1h1m12 0h1m4 0h1m6 0h1m6 0h1m13 0h1m4 0h1m9 0h1m2 0h1m24 0h1m-93 1h1m8 0h1m2 0h1m1 0h1m11 0h1m3 0h1m11 0h2m5 0h1m3 0h1m9 0h1m9 0h1m-74 1h1m1 0h1m11 0h1m10 0h1m1 0h1m5 0h1m14 0h1m4 0h1m17 0h1m2 0h1m-57 1h2m16 0h2m5 0h1m1 0h2m5 0h1m7 0h1m3 0h1m-66 1h1m7 0h1m21 0h1m7 0h1m10 0h1m20 0h1m-34 1h1m10 0h1m10 0h2m7 0h1m5 0h1m19 0h1m-92 1h1m1 0h1m3 0h1m1 0h1m5 0h1m44 0h1m22 0h1m-87 1h1m5 0h1m13 0h2m9 0h1m5 0h2m20 0h1m-54 1h1m4 0h2m9 0h1m27 0h1m1 0h1m-53 1h1m3 0h1m23 0h1m9 0h2m15 0h1m-35 1h1m5 0h1m3 0h1m5 0h1m2 0h1m11 0h1m13 0h1m-61 1h1m1 0h3m14 0h1m15 0h1m3 0h1m-41 1h1m18 0h1m1 0h1m3 0h1m5 0h1m3 0h2m1 0h1m1 0h1m44 0h1m-100 1h1m12 0h1m1 0h1m14 0h1m1 0h1m8 0h3m2 0h1m14 0h1m-58 1h1m8 0h1m5 0h1m22 0h1m8 0h1m1 0h1m6 0h1m6 0h1m25 0h1m-93 1h2m3 0h1m1 0h1m5 0h1m32 0h1m2 0h1m2 0h1m4 0h1m29 0h1m-87 1h1m4 0h2m7 0h2m21 0h3m4 0h1m1 0h1m-60 1h1m23 0h1m7 0h1m1 0h1m18 0h1m1 0h1m1 0h1m3 0h1m3 0h1m-36 1h1m12 0h2m3 0h1m-41 1h1m4 0h1m1 0h1m8 0h2m12 0h1m27 0h1m1 0h2m-56 1h1m3 0h1m17 0h1m6 0h1m11 0h1m3 0h1m7 0h1m-54 1h1m1 0h1m8 0h2m12 0h1m3 0h1m4 0h1m1 0h1m6 0h1m-39 1h1m1 0h1m1 0h1m13 0h1m2 0h1m7 0h1m8 0h1m-39 1h1m35 0h1m-43 1h1m11 0h1m9 0h1m1 0h1m10 0h1m2 0h1m-39 1h1m2 0h1m11 0h1m17 0h1m6 0h1m-43 1h1m12 0h2m2 0h2m5 0h1m8 0h1m-16 1h1m9 0h1m-26 1h1m3 0h1m1 0h1m1 0h1m6 0h1m30 0h1" stroke="#7a7a7a"/><path d="M63 40h1m-10 5h1m27 0h1m8 0h1m-8 2h1m16 0h1m-95 2h1m17 0h1m37 0h1m41 0h1m-75 1h1m71 0h1m3 0h1m-48 1h1m6 0h1m3 2h1m14 0h1m-48 1h1m33 0h2m-42 1h1m9 0h1m3 0h1m6 0h1m21 0h1m-29 1h2m31 0h1m-74 1h1m45 0h1m51 1h1m-81 1h1m22 0h1m2 0h1m10 0h1m34 0h1m-50 1h1m70 0h1m-21 1h2m-101 1h1m25 1h1m3 0h1m12 0h1m11 0h1m4 0h1m2 0h1m2 0h1m-56 1h1m22 0h1m12 0h1m14 0h1m15 0h1m8 0h1m-62 1h1m12 0h1m5 0h1m-31 1h1m16 0h1m2 0h1m3 0h1m14 0h1m12 0h1m15 0h1m-57 1h1m9 0h1m2 0h1m7 0h1m25 0h1m4 0h1m14 0h1m3 0h1m-73 1h1m1 0h1m14 0h1m26 0h2m24 0h1m7 0h1m3 0h1m-92 1h1m38 0h1m34 0h1m6 0h1m-99 1h1m26 0h1m5 0h1m9 0h1m5 0h1m10 0h1m9 0h1m20 0h1m5 0h1m7 0h1m6 0h1m2 0h1m-90 1h1m4 0h2m12 0h1m4 0h1m3 0h1m11 0h1m21 0h1m11 0h1m9 0h1m1 0h1m-107 1h1m36 0h1m5 0h1m15 0h1m16 0h1m14 0h1m-86 1h1m28 0h1m3 0h1m21 0h1m15 0h1m2 0h1m2 0h1m7 0h1m1 0h1m1 0h1m-73 1h1m6 0h1m5 0h1m10 0h1m2 0h1m4 0h1m1 0h1m3 0h1m13 0h1m8 0h1m-67 1h1m24 0h1m13 0h1m1 0h1m28 0h1m4 0h1m3 0h1m14 0h1m-112 1h1m11 0h1m21 0h1m15 0h1m1 0h1m17 0h1m1 0h1m3 0h1m5 0h1m11 0h1m-102 1h1m29 0h1m41 0h1m20 0h3m2 0h1m6 0h2m3 0h1m-73 1h1m9 0h1m8 0h1m4 0h1m22 0h1m4 0h1m2 0h1m2 0h2m4 0h1m10 0h1m-95 1h1m13 0h1m23 0h1m1 0h1m14 0h1m5 0h2m3 0h1m6 0h1m5 0h1m4 0h1m1 0h1m3 0h1m1 0h1m-106 1h1m24 0h1m27 0h2m3 0h1m11 0h1m2 0h2m9 0h2m1 0h1m1 0h1m2 0h1m6 0h1m12 0h1m-101 1h1m29 0h1m5 0h1m2 0h1m6 0h1m10 0h1m11 0h1m1 0h1m2 0h1m17 0h2m-74 1h1m4 0h1m25 0h1m2 0h1m1 0h1m1 0h2m2 0h1m9 0h1m2 0h4m1 0h1m2 0h1m5 0h1m-41 1h1m8 0h1m2 0h1m11 0h2m5 0h2m1 0h1m6 0h1m-80 1h1m21 0h1m10 0h2m1 0h1m2 0h2m9 0h2m4 0h1m1 0h2m2 0h2m4 0h1m10 0h1m9 0h1m-82 1h1m8 0h1m27 0h2m3 0h1m1 0h1m10 0h1m5 0h1m3 0h1m6 0h1m-110 1h1m51 0h1m12 0h1m9 0h3m3 0h1m1 0h1m3 0h1m3 0h1m10 0h1m4 0h1m10 0h1m-96 1h1m33 0h1m1 0h1m2 0h1m8 0h1m10 0h1m3 0h1m3 0h1m2 0h1m1 0h2m1 0h2m3 0h1m-72 1h1m3 0h1m4 0h1m29 0h1m6 0h1m5 0h1m11 0h1m1 0h1m3 0h2m3 0h1m8 0h1m-95 1h1m13 0h1m3 0h1m16 0h1m2 0h1m7 0h1m6 0h2m1 0h2m2 0h1m1 0h1m1 0h1m1 0h1m5 0h1m1 0h1m5 0h1m2 0h1m9 0h2m-68 1h1m16 0h1m1 0h1m2 0h1m2 0h3m4 0h1m5 0h1m2 0h1m3 0h1m3 0h1m-76 1h1m2 0h1m16 0h1m8 0h1m23 0h3m2 0h1m2 0h1m8 0h1m-72 1h1m23 0h1m10 0h1m14 0h1m7 0h1m3 0h1m9 0h1m-34 1h1m11 0h1m2 0h2m2 0h1m1 0h1m3 0h2m4 0h1m8 0h1m2 0h1m-85 1h1m26 0h1m11 0h1m1 0h1m5 0h1m16 0h1m1 0h1m1 0h1m5 0h1m1 0h1m-97 1h1m11 0h1m22 0h1m17 0h1m1 0h1m17 0h2m3 0h1m3 0h1m4 0h1m8 0h1m5 0h1m-67 1h1m12 0h1m1 0h1m16 0h1m1 0h1m6 0h1m2 0h1m2 0h1m4 0h1m-23 1h1m1 0h1m6 0h1m3 0h1m5 0h1m16 0h1m6 0h1m-98 1h1m43 0h1m14 0h1m2 0h1m1 0h1m7 0h1m2 0h2m-45 1h1m15 0h3m2 0h1m1 0h1m2 0h1m10 0h1m2 0h1m2 0h1m13 0h1m18 0h1m-73 1h1m2 0h1m8 0h1m7 0h3m3 0h1m11 0h1m1 0h1m-47 1h1m11 0h1m1 0h1m5 0h1m6 0h1m7 0h1m1 0h1m2 0h1m1 0h1m2 0h1m-63 1h1m2 0h1m12 0h1m14 0h1m5 0h2m4 0h2m1 0h1m1 0h1m13 0h3m1 0h1m3 0h1m-60 1h1m12 0h1m6 0h1m19 0h2m8 0h1m2 0h1m1 0h1m8 0h1m4 0h1m-50 1h1m1 0h2m1 0h1m5 0h1m13 0h1m6 0h1m11 0h1m-26 1h1m4 0h2m3 0h1m1 0h1m3 0h1m5 0h1m1 0h1m-37 1h1m1 0h1m1 0h4m3 0h1m1 0h1m9 0h1m9 0h1m-95 1h1m10 0h1m36 0h1m11 0h2m1 0h1m1 0h1m2 0h1m1 0h1m4 0h1m9 0h1m1 0h2m-54 1h1m5 0h1m13 0h1m13 0h1m3 0h3m4 0h1m6 0h1m8 0h1m-34 1h1m6 0h1m8 0h1m5 0h1m2 0h1m12 0h1m-53 1h1m1 0h1m1 0h1m3 0h1m12 0h1m4 0h2m3 0h2m-55 1h1m21 0h1m1 0h1m7 0h1m4 0h1m2 0h1m5 0h1m3 0h1m2 0h1m2 0h1m7 0h1m-45 1h1m1 0h1m5 0h1m1 0h2m4 0h1m7 0h1m7 0h1m4 0h1m-47 1h2m9 0h1m3 0h1m3 0h1m3 0h1m2 0h1m8 0h1m13 0h1m2 0h1m6 0h1m-89 1h1m26 0h1m5 0h2m4 0h1m9 0h1m2 0h1m2 0h1m2 0h1m8 0h1m3 0h1m14 0h1m5 0h1m-52 1h1m1 0h2m6 0h1m3 0h1m4 0h2m3 0h4m1 0h1m8 0h2m6 0h1m10 0h1m-77 1h1m4 0h1m6 0h1m2 0h1m3 0h1m4 0h1m8 0h1m1 0h2m5 0h1m1 0h1m2 0h1m7 0h1m11 0h1m4 0h1m-67 1h1m9 0h1m12 0h1m1 0h1m7 0h1m2 0h1m15 0h1m3 0h1m-51 1h1m1 0h1m1 0h1m2 0h1m4 0h3m2 0h2m4 0h1m2 0h1m6 0h1m7 0h1m15 0h1m-75 1h1m5 0h2m9 0h1m1 0h1m2 0h1m2 0h1m2 0h1m1 0h1m2 0h1m4 0h1m9 0h1m1 0h1m3 0h2m13 0h1m1 0h1m20 0h1m-99 1h1m6 0h1m6 0h1m5 0h1m7 0h2m5 0h1m8 0h2m3 0h1m8 0h1m2 0h1m15 0h1m-71 1h1m11 0h1m3 0h1m1 0h1m5 0h2m1 0h2m5 0h1m1 0h1m14 0h1m10 0h1m8 0h1m1 0h1m2 0h1m-76 1h1m1 0h1m6 0h1m1 0h2m8 0h1m2 0h1m2 0h1m6 0h1m1 0h1m1 0h1m1 0h2m11 0h1m6 0h1m4 0h1m9 0h1m9 0h1m-76 1h2m2 0h1m2 0h1m8 0h1m44 0h1m3 0h1m6 0h1m9 0h2m-111 1h1m16 0h1m6 0h1m1 0h2m1 0h2m24 0h1m2 0h1m6 0h1m29 0h1m1 0h1m-81 1h1m1 0h1m1 0h1m3 0h1m11 0h1m5 0h3m9 0h1m2 0h1m2 0h1m5 0h2m21 0h1m-69 1h4m4 0h1m5 0h1m1 0h1m6 0h1m16 0h1m4 0h1m7 0h1m13 0h1m-79 1h1m2 0h2m5 0h1m1 0h1m8 0h1m6 0h1m10 0h4m36 0h1m-87 1h1m1 0h1m4 0h1m5 0h1m4 0h2m1 0h1m16 0h1m7 0h1m1 0h1m3 0h1m1 0h1m3 0h1m21 0h1m2 0h1m4 0h1m6 0h1m-96 1h1m1 0h1m4 0h1m6 0h2m1 0h1m1 0h1m3 0h1m17 0h1m2 0h1m4 0h2m10 0h1m26 0h1m7 0h1m-92 1h1m1 0h1m7 0h1m10 0h1m11 0h1m12 0h2m1 0h1m22 0h1m16 0h1m-75 1h1m21 0h1m4 0h1m1 0h1m1 0h1m11 0h1m1 0h1m2 0h1m-73 1h1m8 0h1m8 0h2m25 0h1m48 0h1m-100 1h1m14 0h1m2 0h2m25 0h2m2 0h5m3 0h1m29 0h1m-76 1h1m1 0h3m7 0h1m5 0h1m10 0h1m51 0h1m-78 1h1m6 0h2m30 0h1m5 0h1m23 0h1m-73 1h1m3 0h1m36 0h1m50 0h1m-94 1h1m4 0h2m3 0h3m4 0h1m8 0h1m14 0h1m3 0h1m16 0h1m9 0h1m-66 1h2m2 0h1m1 0h1m24 0h1m3 0h1m5 0h1m3 0h1m5 0h1m21 0h1m-81 1h2m1 0h2m27 0h1m3 0h1m5 0h1m8 0h1m-55 1h1m1 0h1m11 0h1m1 0h1m1 0h1m13 0h1m1 0h1m1 0h3m16 0h1m3 0h1m-61 1h1m4 0h1m2 0h1m32 0h1m-51 1h2m8 0h1m5 0h1m3 0h1m5 0h1m8 0h1m1 0h1m6 0h1m3 0h1m7 0h1m-43 1h2m1 0h1m13 0h1m7 0h1m6 0h1m1 0h2m5 0h1m-49 1h1m3 0h1m3 0h1m5 0h1m2 0h1m1 0h1m4 0h1m4 0h2m2 0h1m3 0h1m3 0h1m2 0h1m1 0h1m5 0h1m-48 1h1m29 0h2m7 0h1m-50 1h1m12 0h1m2 0h1m3 0h1m2 0h1m2 0h2m1 0h1m21 0h1m3 0h2m-50 1h1m2 0h1m2 0h1m1 0h1m6 0h1m2 0h1m2 0h1m5 0h2m1 0h1m3 0h1m-40 1h1m5 0h1m5 0h1m1 0h1m10 0h1m1 0h1m1 0h1m7 0h1m-43 1h1m16 0h1m1 0h3m4 0h2m8 0h1m1 0h1m6 0h1m11 0h1m-58 1h1m8 0h1m10 0h1m13 0h1m4 0h1m4 0h3" stroke="#2a2a2a"/><path d="M46 58h1m-11 2h1m-14 1h1m50 2h1m-74 2h1m101 2h1m-73 3h1m24 0h1m-7 3h1m41 1h1m6 0h1m-54 3h1m12 0h1m8 0h1m20 1h1m5 0h1m6 0h1m-16 1h1m2 0h1m4 0h1m-42 1h1m12 0h1m3 0h1m16 0h1m-9 1h1m11 0h1m3 0h1m-10 1h1m10 0h1m7 0h1m-25 1h1m8 0h1m5 0h1m-27 1h1m10 0h2m17 0h1m2 0h1m-47 1h1m27 0h1m15 0h1m-1 1h1m1 0h1m-40 1h1m26 0h1m2 0h1m-12 1h1m1 0h2m3 0h2m1 0h1m-46 1h1m22 0h1m21 0h1m-11 1h1m2 0h1m-5 1h1m5 0h1m5 0h1m7 0h1m-26 1h1m7 0h1m4 0h1m4 0h1m-65 1h1m39 1h2m16 0h1m-14 1h2m3 0h1m12 0h1m-23 2h1m7 0h2m6 0h1m-45 1h1m35 1h1m-5 2h1m6 0h1m1 0h1m-10 1h1m7 0h1m-27 1h1m4 0h1m7 0h1m6 0h1m3 0h1m1 0h1m-46 1h1m40 0h1m-12 1h1m8 0h1m-13 1h1m12 0h1m10 0h1m-34 1h1m10 0h1m5 0h1m1 0h1m1 0h1m-8 2h1m1 0h1m9 0h1m-23 1h1m8 0h1m10 0h1m-38 1h1m12 0h1m7 0h1m1 0h1m-7 1h1m5 0h2m5 0h1m10 0h1m-24 1h1m9 0h1m1 0h1m1 0h1m6 0h2m-31 1h1m2 0h1m10 0h1m3 0h1m4 0h1m2 0h1m-30 1h1m7 0h1m1 0h1m3 0h1m2 0h1m-10 1h1m2 0h1m4 0h1m8 0h1m1 0h1m-34 1h1m9 0h1m3 0h1m6 0h3m9 0h1m-24 1h1m5 0h1m7 0h1m3 0h2m4 0h1m-40 1h1m1 0h1m12 0h1m4 0h1m1 0h1m1 0h1m7 0h1m1 0h1m-28 1h1m1 0h1m2 0h1m1 0h1m1 0h1m1 0h4m1 0h2m5 0h1m19 0h1m-43 1h2m2 0h1m2 0h1m3 0h1m1 0h1m6 0h1m2 0h2m11 0h1m-42 1h1m5 0h1m3 0h1m1 0h1m2 0h1m1 0h1m4 0h1m1 0h1m9 0h1m-35 1h1m1 0h2m2 0h1m1 0h3m1 0h1m2 0h3m1 0h1m2 0h1m3 0h2m4 0h1m26 0h1m-68 1h2m4 0h1m5 0h1m2 0h1m1 0h1m3 0h1m2 0h1m3 0h3m1 0h1m2 0h1m5 0h1m-51 1h1m2 0h1m7 0h1m1 0h1m1 0h1m2 0h4m1 0h1m1 0h3m1 0h1m3 0h1m2 0h2m1 0h2m-33 1h1m5 0h1m3 0h5m1 0h1m1 0h1m1 0h1m2 0h1m1 0h1m3 0h6m1 0h2m5 0h1m-53 1h1m6 0h2m1 0h1m4 0h1m1 0h3m1 0h6m1 0h2m1 0h3m11 0h1m5 0h1m21 0h1m-83 1h1m20 0h1m1 0h1m2 0h13m1 0h2m1 0h1m1 0h2m4 0h1m4 0h2m27 0h1m-69 1h1m1 0h1m2 0h1m2 0h1m2 0h9m1 0h4m5 0h1m1 0h1m6 0h1m-46 1h1m2 0h2m3 0h8m2 0h10m1 0h6m2 0h1m1 0h1m6 0h1m10 0h1m-66 1h1m11 0h6m1 0h12m1 0h3m1 0h4m3 0h2m3 0h1m-45 1h1m2 0h2m2 0h1m2 0h10m1 0h5m1 0h3m1 0h4m3 0h1m1 0h2m1 0h1m-38 1h1m3 0h5m1 0h8m1 0h2m1 0h2m2 0h2m7 0h1m-34 1h1m1 0h5m1 0h7m1 0h1m3 0h1m1 0h5m1 0h2m-40 1h1m7 0h2m2 0h10m1 0h1m1 0h7m4 0h2m3 0h1m-41 1h1m5 0h4m1 0h1m3 0h9m1 0h2m1 0h3m3 0h1m2 0h1m-36 1h1m3 0h1m4 0h4m1 0h8m1 0h4m2 0h1m3 0h2m9 0h1m-47 1h1m2 0h2m5 0h1m2 0h1m1 0h4m1 0h10m4 0h1m-32 1h1m1 0h2m2 0h3m1 0h1m1 0h3m1 0h10m2 0h2m14 0h1m-49 1h1m1 0h1m4 0h1m5 0h1m1 0h6m1 0h2m2 0h2m-31 1h1m4 0h1m1 0h1m2 0h1m2 0h1m1 0h1m1 0h2m1 0h1m2 0h5m1 0h4m1 0h2m5 0h1m2 0h1m-38 1h2m1 0h5m1 0h3m2 0h2m2 0h1m3 0h1m2 0h1m-32 1h1m6 0h1m2 0h1m1 0h7m1 0h1m2 0h3m2 0h3m-31 1h1m6 0h1m3 0h1m3 0h4m23 0h1m-31 1h1m1 0h3m7 0h2m9 0h1m-36 1h1m3 0h2m5 0h2m1 0h1m9 0h2m-9 1h1m5 0h1m-24 1h1m4 0h1m9 0h2m-16 1h1m3 0h1m-24 1h1m1 0h1m13 0h2m4 0h1m1 0h1m1 0h1m1 0h1m2 0h3m3 0h2m14 0h1m1 0h1m1 0h1" stroke="#000"/></g><path d="M0 0H205.5V205.5" fill="none" stroke="#2a2a2a" stroke-width="1.45"/><path d="M0 0V205.5" fill="none" stroke="#666" stroke-width="1.3"/><path d="M-6 205.5H205.5" fill="none" stroke="#111" stroke-width="1.5"/><path d="M116.0 0V205.5" fill="none" stroke="#111" stroke-width="1.7"/><path d="M0 139.2H205.5" fill="none" stroke="#111" stroke-width="1.5"/><path d="M0.0 205.5v5.5M51.2 205.5v5.5M102.4 205.5v5.5M153.6 205.5v5.5M204.8 205.5v5.5M0 205.0h-6.5M0 154.0h-6.5M0 103.0h-6.5M0 52.0h-6.5M0 1.0h-6.5" fill="none" stroke="#111" stroke-width="1.4"/><path d="M15.4 205.5v2.8M24.4 205.5v2.8M30.8 205.5v2.8M35.8 205.5v2.8M39.8 205.5v2.8M43.3 205.5v2.8M46.2 205.5v2.8M48.9 205.5v2.8M66.6 205.5v2.8M75.6 205.5v2.8M82.0 205.5v2.8M87.0 205.5v2.8M91.0 205.5v2.8M94.5 205.5v2.8M97.4 205.5v2.8M100.1 205.5v2.8M117.8 205.5v2.8M126.8 205.5v2.8M133.2 205.5v2.8M138.2 205.5v2.8M142.2 205.5v2.8M145.7 205.5v2.8M148.6 205.5v2.8M151.3 205.5v2.8M169.0 205.5v2.8M178.0 205.5v2.8M184.4 205.5v2.8M189.4 205.5v2.8M193.4 205.5v2.8M196.9 205.5v2.8M199.8 205.5v2.8M202.5 205.5v2.8M0 189.6h-3.5M0 180.7h-3.5M0 174.3h-3.5M0 169.4h-3.5M0 165.3h-3.5M0 161.9h-3.5M0 158.9h-3.5M0 156.3h-3.5M0 138.6h-3.5M0 129.7h-3.5M0 123.3h-3.5M0 118.4h-3.5M0 114.3h-3.5M0 110.9h-3.5M0 107.9h-3.5M0 105.3h-3.5M0 87.6h-3.5M0 78.7h-3.5M0 72.3h-3.5M0 67.4h-3.5M0 63.3h-3.5M0 59.9h-3.5M0 56.9h-3.5M0 54.3h-3.5M0 36.6h-3.5M0 27.7h-3.5M0 21.3h-3.5M0 16.4h-3.5M0 12.3h-3.5M0 8.9h-3.5M0 5.9h-3.5M0 3.3h-3.5" fill="none" stroke="#333" stroke-width="1.05"/><g font-family="'Liberation Sans', sans-serif" fill="#111" stroke="#111" stroke-width="0.3"><text transform="translate(3.6 222.9) scale(1 1.04)" font-size="7.4">10</text><text transform="translate(11.3 218.6) scale(1 1.04)" font-size="6.8">0</text><text transform="translate(51.6 222.9) scale(1 1.04)" font-size="7.4">10</text><text transform="translate(59.3 218.6) scale(1 1.04)" font-size="6.8">1</text><text transform="translate(102.8 222.9) scale(1 1.04)" font-size="7.4">10</text><text transform="translate(110.5 218.6) scale(1 1.04)" font-size="6.8">2</text><text transform="translate(154.0 222.9) scale(1 1.04)" font-size="7.4">10</text><text transform="translate(161.7 218.6) scale(1 1.04)" font-size="6.8">3</text><text transform="translate(196.3 222.9) scale(1 1.04)" font-size="7.4">10</text><text transform="translate(204.0 218.6) scale(1 1.04)" font-size="6.8">4</text><text transform="translate(-20.8 203.2) scale(1 1.04)" font-size="7.4">10</text><text transform="translate(-13.0 198.8) scale(1 1.04)" font-size="6.8">0</text><text transform="translate(-20.8 158.8) scale(1 1.04)" font-size="7.4">10</text><text transform="translate(-13.0 154.4) scale(1 1.04)" font-size="6.8">1</text><text transform="translate(-20.8 107.8) scale(1 1.04)" font-size="7.4">10</text><text transform="translate(-13.0 103.4) scale(1 1.04)" font-size="6.8">2</text><text transform="translate(-20.8 56.8) scale(1 1.04)" font-size="7.4">10</text><text transform="translate(-13.0 52.4) scale(1 1.04)" font-size="6.8">3</text><text transform="translate(-20.8 12.2) scale(1 1.04)" font-size="7.4">10</text><text transform="translate(-13.0 7.8) scale(1 1.04)" font-size="6.8">4</text></g><g font-family="'Liberation Sans', sans-serif" fill="#141414" stroke="#141414" stroke-width="0.55"><text transform="translate(7.4 36.4) scale(1 1.04)" font-size="30.6">9</text><text transform="translate(193.8 36.4) scale(1 1.04)" font-size="30.6" text-anchor="end">6</text><text transform="translate(6.5 199.8) scale(1 1.04)" font-size="30.6">81</text><text transform="translate(193.8 199.8) scale(1 1.04)" font-size="30.6" text-anchor="end">4</text></g></g>
<g transform="translate(1382.0,613.0)"><g fill="none" stroke-width="1" transform="scale(1.36) translate(-0.5,0.0)"><path d="M48 50h1m32 2h1m-37 1h1m15 0h1m28 2h1m-37 2h1m-53 3h1m53 0h1m51 0h1m-5 1h1m-47 1h1m21 0h1m13 0h1m5 0h1m-36 1h1m-27 1h2m66 0h1m-58 2h1m47 0h1m14 0h1m-85 1h1m63 0h1m13 0h1m-74 1h1m38 0h1m19 0h1m4 0h1m14 0h1m-113 1h1m50 0h1m6 0h1m28 0h1m12 0h1m-59 1h1m6 0h1m7 0h1m23 0h2m10 0h1m3 0h2m-76 1h1m38 0h1m8 0h1m11 0h1m6 0h1m-56 1h1m22 0h1m13 0h1m6 0h1m10 0h1m4 0h3m-30 1h1m4 0h1m5 0h1m16 0h1m14 0h1m-104 1h1m115 0h1m-68 1h1m39 0h1m10 0h1m-109 1h1m48 0h1m35 0h2m2 0h1m-44 1h1m17 0h1m29 0h1m1 0h2m14 0h1m-60 1h1m17 0h1m8 0h1m10 0h1m18 0h1m2 0h1m-58 1h1m3 0h1m3 0h1m22 0h1m6 0h1m4 0h1m-63 1h1m33 0h1m5 0h1m4 0h1m14 0h1m-51 1h3m15 0h1m16 0h1m7 0h1m-42 1h1m7 0h1m11 0h1m6 0h1m13 0h1m-37 1h1m18 0h1m16 0h1m2 0h1m10 0h1m1 0h1m-51 1h1m8 0h1m14 0h1m32 0h1m-104 1h1m52 0h1m3 0h1m22 0h1m-60 1h1m14 0h1m32 0h1m6 0h2m11 0h1m11 0h1m-72 1h1m7 0h1m2 0h1m3 0h1m13 0h1m8 0h1m2 0h2m7 0h1m-19 1h1m20 0h1m10 0h1m-34 1h1m3 0h1m7 0h1m8 0h1m1 0h1m-88 1h1m28 0h1m19 0h1m6 0h1m20 0h1m2 0h1m10 0h1m4 0h1m1 0h1m-32 1h1m5 0h2m4 0h1m3 0h1m-20 1h1m8 0h1m13 0h1m-50 1h1m46 0h1m1 0h1m-28 1h1m2 0h1m5 0h1m12 0h2m-8 1h3m-36 1h1m43 0h1m21 0h1m-63 1h1m47 0h1m-62 1h1m13 0h1m19 0h1m7 0h1m2 0h1m3 0h1m-20 2h1m3 0h1m9 0h1m6 0h1m-55 1h1m34 0h1m2 0h3m-11 1h1m5 0h1m4 0h1m1 0h1m-8 1h1m6 0h1m17 0h1m-56 1h1m27 0h1m-19 1h1m-27 1h1m19 0h1m25 0h1m1 0h1m15 0h1m-32 1h1m21 0h1m-29 1h1m19 0h2m3 0h1m3 0h2m14 0h1m-54 1h1m10 0h1m10 0h2m8 0h1m12 0h1m-51 1h1m8 0h1m9 0h1m18 0h2m-14 1h1m1 0h1m3 0h1m15 0h1m-24 1h1m23 0h1m-56 1h1m35 0h1m5 0h1m17 0h1m5 0h1m-72 1h1m19 0h1m5 0h1m4 0h1m6 0h1m1 0h1m8 0h1m1 0h1m4 0h3m2 0h1m20 0h1m-75 1h1m9 0h1m11 0h1m2 0h1m5 0h1m13 0h1m4 0h1m2 0h1m8 0h2m-63 1h1m27 0h2m4 0h1m1 0h1m1 0h2m1 0h1m15 0h1m-65 1h1m8 0h1m26 0h1m3 0h1m2 0h1m6 0h1m2 0h1m18 0h1m-72 1h1m7 0h2m7 0h1m5 0h1m10 0h2m6 0h1m5 0h1m6 0h1m6 0h1m7 0h1m-76 1h1m15 0h1m3 0h1m3 0h2m12 0h1m14 0h1m-33 1h3m13 0h2m4 0h1m5 0h2m11 0h2m10 0h1m-63 1h1m9 0h1m1 0h1m4 0h1m2 0h1m7 0h1m12 0h3m1 0h1m1 0h1m2 0h1m-68 1h1m21 0h1m8 0h2m15 0h1m2 0h1m8 0h1m6 0h1m19 0h1m-65 1h1m3 0h1m13 0h1m6 0h1m4 0h2m2 0h1m5 0h1m-57 1h1m6 0h1m2 0h1m7 0h1m10 0h1m2 0h1m5 0h1m1 0h1m7 0h1m13 0h1m-61 1h1m10 0h1m10 0h1m9 0h3m30 0h1m7 0h1m-73 1h1m2 0h1m8 0h1m4 0h1m6 0h2m3 0h1m46 0h1m-78 1h1m6 0h1m3 0h1m12 0h1m6 0h1m3 0h2m7 0h1m2 0h2m16 0h1m-64 1h1m1 0h1m3 0h2m1 0h1m25 0h1m12 0h1m5 0h1m7 0h1m10 0h1m-77 1h1m8 0h1m29 0h1m1 0h1m21 0h1m6 0h1m-84 1h1m2 0h1m19 0h1m2 0h2m18 0h1m1 0h1m6 0h1m3 0h1m-52 1h1m10 0h2m7 0h1m7 0h1m5 0h2m20 0h1m18 0h1m2 0h1m-77 1h1m7 0h1m9 0h1m3 0h1m4 0h1m5 0h1m-35 1h1m5 0h1m1 0h1m1 0h1m1 0h1m29 0h1m13 0h1m5 0h1m9 0h1m-83 1h1m10 0h1m4 0h1m30 0h1m-35 1h1m13 0h1m1 0h1m14 0h2m6 0h1m-5 1h1m13 0h1m4 0h1m2 0h1m10 0h1m-85 1h1m16 0h1m2 0h3m4 1h1m12 0h1m2 0h1m8 0h1m1 0h1m4 0h1m-64 1h1m13 0h2m1 0h1m1 0h1m6 0h1m16 0h1m5 0h1m3 0h1m-36 1h1m1 0h1m23 0h1m1 0h2m5 0h1m6 0h1m-72 1h1m12 0h1m16 0h1m8 0h1m7 0h1m1 0h2m6 0h1m6 0h1m1 0h1m64 0h1m-116 1h1m5 0h1m7 0h1m1 0h1m26 0h1m42 0h1m-86 1h1m3 0h1m9 0h2m6 0h1m11 0h1m2 0h1m4 0h1m-42 1h2m4 0h1m-4 1h1m6 0h2m12 0h1m4 0h1m2 0h1m12 0h1m7 0h1m-55 1h1m2 0h1m4 0h1m14 0h1m3 0h2m6 0h1m5 0h1m8 0h1m10 0h1m-53 1h1m19 0h2m10 0h2m-46 1h1m9 0h1m9 0h1m7 0h1m5 0h1m2 0h1m2 0h1m22 0h1m-47 1h1m8 0h2m6 0h2m4 0h1m15 0h1m-62 1h1m39 0h1m1 0h1m8 0h1" stroke="#7a7a7a"/><path d="M34 46h1m-3 1h1m61 3h1m-51 2h1m31 1h1m-17 1h1m13 1h1m-17 2h1m14 1h1m-11 1h1m38 0h1m-86 1h1m86 0h1m-53 1h1m16 0h1m26 0h1m-42 1h1m15 0h1m16 0h1m-50 1h1m63 0h1m13 0h1m-31 1h1m15 0h2m-72 1h1m48 0h1m10 0h2m3 0h1m2 0h1m-56 1h1m48 0h1m8 0h1m-36 1h1m8 0h1m2 0h1m4 0h1m2 0h1m7 0h1m2 0h1m16 0h1m-91 1h1m7 0h1m6 0h1m2 0h1m2 0h1m1 0h1m4 0h1m5 0h1m-41 1h1m27 0h1m4 0h1m48 0h1m9 0h1m-37 1h1m9 0h1m8 0h1m6 0h2m1 0h1m18 0h1m-60 1h1m1 0h1m30 0h1m5 0h2m-70 1h1m10 0h1m1 0h1m23 0h1m20 0h1m3 0h2m6 0h1m26 0h1m-60 1h1m2 0h2m13 0h1m9 0h2m10 0h1m-65 1h1m10 0h1m5 0h1m12 0h1m4 0h1m1 0h1m2 0h1m1 0h1m4 0h2m6 0h1m1 0h2m1 0h1m12 0h1m-84 1h1m5 0h1m2 0h1m5 0h1m19 0h1m2 0h1m11 0h1m7 0h1m1 0h1m15 0h2m-78 1h2m42 0h1m2 0h1m5 0h1m2 0h1m3 0h1m4 0h3m5 0h1m-73 1h1m1 0h1m6 0h1m15 0h1m6 0h1m9 0h1m1 0h1m2 0h2m10 0h1m4 0h2m1 0h2m-61 1h2m15 0h1m8 0h1m2 0h1m8 0h1m2 0h1m3 0h1m1 0h1m1 0h1m1 0h1m10 0h1m-73 1h1m4 0h1m8 0h1m27 0h1m14 0h1m1 0h1m4 0h1m11 0h1m-48 1h1m4 0h1m10 0h1m3 0h1m1 0h2m3 0h1m4 0h1m6 0h1m-71 1h1m14 0h1m3 0h1m6 0h1m10 0h1m2 0h1m5 0h1m11 0h1m2 0h2m4 0h1m8 0h1m-89 1h2m2 0h1m11 0h1m1 0h1m2 0h1m5 0h1m1 0h1m5 0h2m5 0h1m2 0h2m7 0h1m1 0h1m1 0h2m2 0h1m4 0h1m4 0h2m1 0h1m6 0h1m6 0h1m-90 1h1m1 0h1m3 0h2m28 0h1m2 0h1m40 0h1m5 0h1m-70 1h1m2 0h1m4 0h1m8 0h1m2 0h1m13 0h1m5 0h1m1 0h1m1 0h2m12 0h1m1 0h1m6 0h1m-99 1h1m19 0h1m8 0h1m24 0h1m9 0h2m5 0h2m3 0h1m6 0h1m3 0h3m-35 1h1m3 0h1m3 0h1m9 0h2m4 0h2m1 0h1m9 0h1m-39 1h2m4 0h1m7 0h1m4 0h1m8 0h1m11 0h1m7 0h1m-68 1h1m4 0h1m24 0h1m4 0h1m3 0h1m1 0h1m1 0h1m2 0h1m1 0h2m15 0h1m-100 1h1m45 0h1m11 0h1m3 0h1m3 0h2m1 0h1m3 0h1m5 0h1m5 0h1m6 0h1m3 0h1m-77 1h1m9 0h1m3 0h1m7 0h1m33 0h2m1 0h1m8 0h1m-62 1h1m20 0h1m9 0h1m2 0h1m3 0h1m13 0h1m1 0h1m5 0h1m-51 1h1m1 0h1m6 0h1m25 0h1m7 0h1m3 0h1m4 0h1m2 0h1m2 0h1m3 0h1m-75 1h1m4 0h1m40 0h1m9 0h1m-59 1h1m9 0h1m2 0h1m3 0h1m18 0h1m7 0h1m11 0h2m2 0h1m-63 1h1m5 0h1m17 0h1m11 0h2m23 0h1m2 0h1m5 0h1m1 0h1m12 0h1m-95 1h1m19 0h1m3 0h1m10 0h1m8 0h1m5 0h3m2 0h1m10 0h1m12 0h1m-90 1h1m32 0h1m8 0h1m1 0h1m8 0h1m1 0h1m11 0h1m5 0h2m-39 1h1m16 0h1m6 0h1m5 0h1m12 0h3m12 0h1m-34 1h1m13 0h1m7 0h1m-49 1h1m13 0h1m2 0h1m5 0h1m8 0h1m17 0h1m-39 1h1m2 0h1m5 0h1m10 0h1m2 0h1m5 0h1m-54 1h1m12 0h1m25 0h1m10 0h1m4 0h1m13 0h1m-56 1h1m24 0h2m8 0h1m4 0h1m2 0h1m-40 1h1m5 0h1m1 0h1m5 0h1m7 0h1m1 0h1m15 0h1m3 0h1m3 0h1m-38 1h1m7 0h1m3 0h1m2 0h1m2 0h1m1 0h1m14 0h1m-53 1h1m11 0h1m9 0h1m3 0h1m3 0h1m4 0h1m1 0h1m8 0h1m-26 1h1m1 0h3m1 0h1m1 0h1m5 0h1m11 0h1m3 0h1m-44 1h1m7 0h1m2 0h2m3 0h1m4 0h1m3 0h1m5 0h1m1 0h1m4 0h1m-50 1h1m7 0h1m7 0h1m5 0h1m2 0h1m3 0h1m4 0h1m-27 1h1m3 0h1m6 0h1m3 0h1m4 0h1m2 0h1m20 0h1m-45 1h1m4 0h1m21 0h2m3 0h1m13 0h2m-49 1h1m6 0h1m1 0h1m17 0h1m26 0h1m4 0h1m-83 1h1m13 0h1m5 0h1m7 0h1m10 0h1m6 0h1m2 0h2m4 0h2m1 0h1m14 0h1m-58 1h1m1 0h1m4 0h1m1 0h1m4 0h2m1 0h5m2 0h1m5 0h1m2 0h1m1 0h1m4 0h1m-60 1h1m20 0h1m4 0h1m1 0h1m1 0h1m7 0h1m5 0h4m1 0h1m1 0h1m1 0h1m2 0h1m6 0h1m3 0h1m-60 1h1m10 0h1m6 0h1m6 0h1m3 0h1m7 0h1m12 0h1m1 0h2m5 0h1m7 0h1m-78 1h1m23 0h1m1 0h1m6 0h1m4 0h1m3 0h1m7 0h1m11 0h1m5 0h2m7 0h1m-66 1h1m15 0h1m5 0h2m11 0h1m1 0h2m2 0h1m2 0h1m8 0h1m7 0h1m-65 1h1m16 0h1m5 0h1m1 0h2m4 0h1m8 0h1m3 0h1m2 0h1m5 0h1m-51 1h2m2 0h1m3 0h1m12 0h2m5 0h1m5 0h1m3 0h2m4 0h1m7 0h2m2 0h1m4 0h1m8 0h1m-89 1h1m9 0h1m4 0h1m13 0h1m11 0h1m1 0h1m1 0h2m6 0h1m2 0h1m23 0h1m1 0h1m-74 1h1m5 0h1m1 0h1m3 0h1m10 0h3m9 0h1m6 0h1m3 0h1m10 0h1m13 0h1m-70 1h1m9 0h1m5 0h1m1 0h1m3 0h1m2 0h3m1 0h1m2 0h1m7 0h1m4 0h1m3 0h2m1 0h1m3 0h1m4 0h1m-66 1h2m14 0h1m7 0h1m8 0h1m1 0h1m5 0h1m12 0h1m3 0h1m21 0h2m11 0h1m-98 1h1m2 0h2m3 0h1m1 0h1m5 0h2m2 0h1m4 0h1m4 0h3m8 0h2m4 0h1m6 0h1m1 0h2m7 0h1m4 0h1m3 0h2m4 0h1m6 0h1m-90 1h1m15 0h1m4 0h1m1 0h1m9 0h1m6 0h1m3 0h1m1 0h1m1 0h1m3 0h1m3 0h1m7 0h2m1 0h1m21 0h1m-90 1h1m14 0h1m9 0h3m2 0h1m1 0h1m5 0h1m3 0h1m9 0h1m9 0h1m16 0h1m3 0h1m5 0h1m6 0h1m-93 1h1m4 0h2m19 0h2m1 0h1m4 0h1m4 0h1m1 0h1m5 0h1m7 0h1m14 0h2m7 0h1m1 0h1m1 0h1m-96 1h1m14 0h1m12 0h1m1 0h1m2 0h1m4 0h1m7 0h1m3 0h1m2 0h1m3 0h1m15 0h1m3 0h1m3 0h1m2 0h1m3 0h1m-100 1h1m29 0h1m4 0h3m2 0h1m12 0h3m1 0h2m3 0h2m6 0h2m9 0h1m3 0h1m4 0h1m2 0h1m3 0h1m7 0h1m16 0h1m-99 1h1m5 0h1m3 0h1m6 0h2m6 0h4m15 0h1m2 0h1m8 0h1m2 0h2m4 0h1m-56 1h1m7 0h1m4 0h1m6 0h1m2 0h4m8 0h1m1 0h1m2 0h1m-58 1h1m3 0h1m1 0h2m3 0h2m2 0h1m9 0h1m1 0h1m1 0h1m21 0h1m12 0h1m13 0h1m2 0h1m-83 1h1m12 0h3m9 0h1m1 0h1m3 0h1m8 0h1m2 0h1m2 0h1m21 0h1m6 0h1m7 0h2m7 0h1m-90 1h1m3 0h3m1 0h1m4 0h3m8 0h1m10 0h1m1 0h3m1 0h1m3 0h1m6 0h1m-66 1h1m5 0h1m3 0h1m3 0h1m2 0h1m2 0h1m4 0h1m3 0h1m15 0h1m3 0h1m2 0h1m3 0h1m4 0h4m1 0h1m5 0h1m-56 1h1m2 0h1m2 0h1m19 0h1m1 0h1m6 0h1m6 0h2m2 0h2m4 0h1m-77 1h1m24 0h2m5 0h1m28 0h1m2 0h1m16 0h1m4 0h1m6 0h1m-82 1h1m3 0h1m3 0h1m15 0h1m4 0h1m10 0h1m9 0h1m2 0h2m2 0h1m4 0h1m-54 1h3m2 0h2m2 0h1m2 0h1m11 0h1m6 0h1m6 0h1m8 0h1m4 0h1m-68 1h1m12 0h2m2 0h2m1 0h1m1 0h1m2 0h1m10 0h1m27 0h4m-63 1h1m14 0h1m1 0h1m24 0h3m1 0h2m5 0h1m2 0h1m4 0h1m1 0h1m1 0h1m2 0h1m-70 1h1m2 0h2m7 0h2m3 0h2m1 0h1m3 0h1m5 0h1m15 0h1m1 0h1m6 0h1m2 0h2m7 0h1m-53 1h2m2 0h1m1 0h1m17 0h2m2 0h1m4 0h1m3 0h1m8 0h1m8 0h1m-79 1h1m4 0h1m18 0h1m5 0h1m12 0h1m2 0h1m2 0h1m3 0h3m3 0h1m11 0h1m-63 1h1m12 0h1m4 0h1m3 0h1m3 0h1m3 0h1m7 0h1m3 0h1m6 0h1m13 0h1m-67 1h1m11 0h1m1 0h2m1 0h1m2 0h2m1 0h1m3 0h2m3 0h1m2 0h1m10 0h1m1 0h1m6 0h1m-54 1h1m2 0h1m1 0h1m2 0h1m2 0h2m2 0h1m1 0h1m5 0h1m2 0h1m3 0h1m2 0h1m1 0h1m9 0h1m10 0h1m-46 1h2m7 0h1m1 0h1m2 0h1m1 0h3m3 0h2m10 0h1m7 0h1m-59 1h1m6 0h1m30 0h1m13 0h2m8 0h1m18 0h1" stroke="#2a2a2a"/><path d="M91 64h1m27 0h1m-26 3h1m-28 1h1m3 0h1m30 0h1m-53 1h1m53 0h1m-10 1h1m12 0h1m-19 1h1m11 1h1m-13 1h1m4 0h2m4 0h1m9 0h1m-9 1h1m-16 1h1m1 0h1m11 0h1m-8 1h2m1 0h1m4 0h1m11 0h1m-20 1h1m8 0h1m6 0h1m-28 1h1m12 0h1m-9 1h1m1 0h1m1 0h1m6 0h1m-59 1h1m31 0h1m1 0h1m3 0h1m4 0h2m14 0h1m-23 1h2m11 0h2m3 0h1m-4 1h1m-17 1h1m7 0h1m9 0h1m-16 1h1m1 0h1m4 0h1m4 0h1m-24 1h1m3 0h1m4 0h1m-23 1h1m23 0h1m19 0h1m2 0h1m-22 1h1m3 0h2m-10 1h1m18 0h1m-12 1h1m-26 1h1m16 0h1m13 0h1m-19 2h1m5 0h1m6 0h1m2 0h1m-54 1h1m26 3h1m7 0h1m18 0h1m7 0h1m-31 1h1m14 0h1m-10 2h1m8 0h1m5 0h1m7 0h1m-24 1h1m-8 2h1m15 0h1m-18 1h1m6 0h1m2 0h1m14 0h1m-26 1h1m7 0h1m-5 1h1m-11 1h1m4 1h1m11 0h1m-3 1h1m3 0h1m11 0h1m-29 1h1m1 1h1m5 0h1m17 0h1m-21 1h1m5 0h1m1 0h1m-22 1h1m14 0h1m1 0h1m-20 1h1m2 0h1m8 0h1m1 0h1m3 0h1m-7 1h1m6 0h1m19 0h1m-37 1h1m8 0h2m7 0h1m-19 1h1m0 1h1m7 0h1m3 0h1m4 0h1m2 0h1m3 0h2m6 0h1m-29 1h1m1 0h1m19 0h1m-29 1h1m2 0h4m1 0h1m1 0h1m2 0h1m1 0h1m1 0h2m-21 1h1m4 0h1m11 0h1m3 0h1m5 0h1m3 0h1m-41 1h1m18 0h1m3 0h1m-23 1h1m8 0h1m1 0h2m3 0h1m1 0h1m1 0h2m1 0h1m4 0h2m12 0h1m-54 1h1m6 0h1m4 0h1m10 0h2m1 0h1m2 0h1m1 0h2m1 0h1m12 0h1m-51 1h1m10 0h1m2 0h1m3 0h1m3 0h2m4 0h1m2 0h1m4 0h1m3 0h2m1 0h1m20 0h1m4 0h1m-59 1h1m4 0h2m4 0h3m1 0h3m5 0h1m6 0h1m1 0h1m5 0h1m20 0h1m-61 1h2m3 0h2m1 0h1m2 0h1m5 0h1m12 0h2m14 0h1m-50 1h1m7 0h1m1 0h1m2 0h3m3 0h1m2 0h1m1 0h1m10 0h1m6 0h1m-51 1h1m2 0h1m6 0h1m3 0h2m3 0h1m1 0h1m4 0h1m1 0h1m2 0h1m1 0h2m1 0h1m6 0h1m-40 1h1m5 0h1m2 0h3m2 0h3m1 0h1m1 0h1m1 0h3m1 0h2m9 0h1m3 0h1m-39 1h1m3 0h1m3 0h6m8 0h1m3 0h1m10 0h1m-45 1h2m1 0h1m7 0h3m1 0h2m4 0h1m1 0h5m5 0h1m7 0h1m-45 1h1m1 0h1m1 0h1m3 0h5m1 0h3m2 0h2m1 0h3m2 0h1m5 0h1m4 0h1m8 0h1m-46 1h1m4 0h1m1 0h1m1 0h1m2 0h1m1 0h1m1 0h17m-32 1h1m1 0h7m1 0h1m1 0h3m1 0h5m1 0h2m4 0h1m2 0h1m1 0h1m5 0h2m-38 1h1m1 0h6m2 0h1m1 0h1m1 0h1m1 0h3m1 0h1m3 0h1m-36 1h2m6 0h1m1 0h1m1 0h15m1 0h3m1 0h2m1 0h1m1 0h1m1 0h2m1 0h1m-45 1h1m1 0h1m3 0h1m3 0h2m3 0h2m1 0h9m1 0h1m1 0h5m3 0h2m-35 1h2m1 0h1m2 0h4m1 0h3m1 0h12m1 0h2m1 0h2m1 0h2m4 0h1m4 0h1m-52 1h1m4 0h1m1 0h1m1 0h5m2 0h3m1 0h10m1 0h1m2 0h1m1 0h2m1 0h1m-37 1h1m2 0h1m3 0h1m1 0h11m1 0h4m1 0h1m2 0h1m1 0h1m9 0h1m-42 1h1m1 0h1m1 0h1m2 0h3m1 0h3m1 0h2m1 0h4m1 0h1m2 0h1m1 0h4m1 0h1m6 0h1m2 0h1m-49 1h1m6 0h1m1 0h1m1 0h1m1 0h9m1 0h10m3 0h1m8 0h1m4 0h1m2 0h1m-54 1h1m5 0h1m6 0h1m1 0h4m2 0h3m1 0h6m1 0h2m1 0h1m4 0h2m-35 1h1m4 0h2m1 0h1m1 0h7m1 0h4m2 0h2m2 0h1m-29 1h1m2 0h2m1 0h9m1 0h2m1 0h1m2 0h1m3 0h1m11 0h1m-40 1h1m1 0h1m1 0h3m1 0h3m2 0h1m2 0h1m3 0h3m1 0h1m3 0h1m-36 1h1m4 0h1m5 0h1m1 0h3m2 0h3m1 0h2m1 0h2m3 0h1m2 0h1m-37 1h1m6 0h1m2 0h1m1 0h1m6 0h1m1 0h1m1 0h1m4 0h1m4 0h1m23 0h1m-61 1h1m4 0h1m15 0h1m1 0h1m8 0h1m11 0h2m-59 1h1m6 0h1m6 0h2m1 0h4m1 0h21m1 0h2m1 0h2m1 0h1m1 0h1m1 0h2m6 0h2m9 0h1" stroke="#000"/></g><g fill="none" stroke-width="1" transform="scale(1.36) translate(0.0,0.5)"><path d="M45 51h1m12 0h1m51 0h1m-33 1h1m-28 5h1m-12 1h1m28 0h1m25 0h1m8 0h1m-24 1h1m-28 1h1m70 1h1m-84 1h1m-1 1h1m34 1h1m30 0h1m-66 1h1m43 0h1m-65 1h1m28 0h1m16 0h1m31 0h1m2 0h1m5 0h2m-7 1h1m-69 1h1m23 0h1m21 0h1m19 0h1m-28 1h2m14 0h1m4 0h1m9 1h1m-25 1h1m17 0h1m-44 1h1m15 0h1m2 0h1m20 0h1m5 0h2m-33 1h2m20 0h1m8 0h1m-89 1h2m25 0h1m7 0h1m14 0h1m30 0h2m4 0h1m-40 1h1m3 0h1m24 0h1m18 0h1m-59 1h1m22 0h1m4 0h1m2 0h1m3 0h1m4 0h2m13 0h1m-44 1h1m5 0h1m3 0h1m17 0h1m2 0h1m20 0h1m-51 1h2m10 0h1m1 0h1m1 0h1m3 0h1m1 0h2m-55 1h1m47 0h1m13 0h1m2 0h1m3 0h1m-78 1h1m28 0h1m33 0h1m2 0h2m4 0h1m1 0h1m2 0h2m-62 1h1m4 0h1m2 0h1m4 0h1m19 0h1m14 0h1m8 0h3m6 0h1m-81 1h1m14 0h1m10 0h1m19 0h1m4 0h1m7 0h1m5 0h1m5 0h1m4 0h1m3 0h1m4 0h1m2 0h1m-120 1h1m55 0h1m9 0h1m15 0h1m37 0h1m-107 1h1m32 0h1m18 0h1m17 0h1m7 0h1m3 0h2m-40 1h2m4 0h1m29 0h1m5 0h1m5 0h1m-74 1h1m11 0h1m5 0h1m2 0h1m34 0h1m1 0h1m12 0h1m-71 1h1m25 0h1m3 0h1m2 0h2m1 0h1m7 0h1m8 0h1m2 0h1m2 0h1m6 0h1m-101 1h1m35 0h1m10 0h1m3 0h1m6 0h2m14 0h1m8 0h1m2 0h1m1 0h1m14 0h1m-73 1h1m16 0h1m11 0h1m3 0h1m17 0h1m10 0h2m2 0h1m-24 1h2m17 0h1m-24 1h1m22 0h1m-27 1h1m4 0h1m1 0h1m10 0h1m10 0h1m3 0h1m-33 1h3m10 0h1m4 0h1m10 0h1m-35 1h1m1 0h1m8 0h2m-19 1h1m19 0h1m5 0h1m4 0h1m2 0h1m1 0h1m-51 1h1m10 0h1m15 0h1m3 0h1m-20 1h1m32 0h1m-26 1h1m4 0h1m11 0h1m7 0h1m4 0h1m-83 1h1m74 0h1m4 0h1m-29 1h1m2 0h2m1 0h1m3 0h1m-41 1h1m21 0h1m3 0h1m1 0h1m6 0h1m-24 1h1m22 0h1m10 0h1m-11 1h1m23 0h1m-28 1h1m2 0h1m5 0h1m3 0h1m2 0h2m1 0h1m3 0h1m-61 1h1m33 0h1m22 0h1m-20 1h1m3 0h2m11 0h1m2 0h1m-42 1h1m12 0h1m4 1h1m2 0h1m7 0h1m13 0h1m5 0h1m5 0h1m-51 1h1m17 0h1m2 0h1m3 0h1m2 0h1m13 0h1m-23 1h1m11 0h1m11 0h1m-41 1h1m5 0h1m3 0h1m2 0h1m6 0h1m30 0h1m16 0h1m-77 1h1m36 0h2m-21 1h1m6 0h1m4 0h2m-42 1h1m15 0h1m7 0h1m4 0h1m16 0h1m-12 1h1m1 0h1m3 0h1m7 0h1m-20 1h1m1 0h1m15 0h2m-44 1h1m4 0h1m4 0h2m13 0h1m10 0h1m3 0h1m1 0h1m-32 1h1m4 0h1m1 0h1m7 0h1m8 0h1m12 0h1m3 0h1m3 0h1m-63 1h1m19 0h1m22 0h1m-34 1h1m1 0h2m3 0h1m3 0h1m3 1h1m3 0h1m2 0h2m18 0h1m-63 1h1m3 0h1m11 0h1m4 0h1m4 0h1m19 0h1m7 0h1m9 0h1m7 0h1m-54 1h1m1 0h1m1 0h1m24 0h1m3 0h1m4 0h1m-36 1h1m1 0h1m7 0h1m11 0h1m15 0h1m3 0h1m-72 1h1m26 0h1m1 0h1m3 0h2m7 0h1m14 0h1m5 0h1m-50 1h2m12 0h2m7 0h1m1 0h1m2 0h1m-29 1h1m20 0h1m2 0h1m7 0h1m4 0h1m1 0h1m1 0h1m4 0h1m13 0h1m9 0h1m-74 1h1m3 0h1m15 0h2m26 0h1m11 0h1m26 0h1m-96 1h1m31 0h1m15 0h1m5 0h2m5 0h1m14 0h1m-76 1h1m22 0h1m15 0h1m1 0h1m7 0h1m-42 1h1m39 0h1m1 0h1m20 0h1m13 0h1m-82 1h1m9 0h1m17 0h1m2 0h1m2 0h1m67 0h1m-104 1h1m3 0h1m14 0h2m15 0h1m14 0h1m25 0h1m-83 1h1m4 0h1m3 0h1m19 0h1m6 0h1m3 0h1m8 0h1m4 0h1m4 0h1m1 0h1m33 0h1m-94 1h1m6 0h1m23 0h1m13 0h1m4 0h1m-46 1h1m29 0h2m5 0h1m9 0h1m1 0h1m-46 1h1m5 0h1m17 0h1m2 0h1m4 0h1m12 0h1m-64 1h1m7 0h1m2 0h1m47 0h1m2 0h1m3 0h1m-69 1h1m14 0h1m2 0h2m19 0h1m-30 1h1m2 0h1m21 0h1m20 0h1m-47 1h1m10 0h1m18 0h1m5 0h1m-36 1h2m3 0h2m43 0h1m-66 1h1m13 0h1m3 0h2m30 0h1m3 0h2m-56 1h1m1 0h1m11 0h1m9 0h1m-28 1h1m4 0h1m16 0h1m1 0h1m1 0h1m7 0h1m8 0h1m8 0h1m3 0h1m-42 1h1m2 0h2m3 0h1m14 0h1m5 0h1m4 0h1m7 0h1m1 0h1m5 0h1m-61 1h1m11 0h1m5 0h1m3 0h1m4 0h1m5 0h1m1 0h1m7 0h1m-37 1h1m9 0h2m5 0h1m11 0h1m15 0h1m-44 1h2m1 0h1m1 0h1m3 0h1m7 0h1m2 0h2m1 0h1m4 0h1m-36 1h1m1 0h1m43 0h3m8 0h1" stroke="#7a7a7a"/><path d="M65 39h1m18 8h1m-50 3h1m62 3h1m-16 1h1m8 0h1m9 0h1m-61 1h1m16 0h1m12 1h1m32 0h1m-65 1h2m54 0h1m-42 1h1m0 1h1m1 1h1m3 0h1m9 0h1m13 0h1m11 0h1m4 0h1m-58 1h1m13 0h1m10 0h1m24 0h1m-32 1h1m26 0h1m2 0h1m5 0h1m-44 1h1m37 0h1m-57 1h1m19 0h1m32 0h1m16 0h1m-57 1h1m1 0h1m7 0h1m11 0h1m38 0h1m-64 1h1m5 0h1m2 0h1m10 0h1m16 0h1m6 0h1m16 0h1m8 0h1m-73 1h1m29 0h1m6 0h1m2 0h1m9 0h1m2 0h1m7 0h1m1 0h1m-90 1h1m2 0h1m20 0h1m35 0h1m2 0h1m3 0h1m7 0h1m10 0h2m-78 1h1m34 0h1m3 0h1m7 0h1m2 0h1m5 0h1m6 0h1m4 0h2m1 0h1m2 0h1m-76 1h1m11 0h1m4 0h1m19 0h1m4 0h1m14 0h2m8 0h2m2 0h1m-26 1h1m16 0h1m7 0h1m9 0h1m-99 1h1m44 0h1m9 0h1m15 0h1m1 0h1m2 0h1m2 0h2m3 0h1m8 0h1m-45 1h1m9 0h2m8 0h1m2 0h1m4 0h1m3 0h1m9 0h1m6 0h1m-92 1h1m21 0h1m9 0h1m14 0h2m6 0h1m2 0h1m2 0h1m6 0h1m12 0h1m6 0h1m-92 1h1m16 0h1m3 0h1m2 0h1m9 0h1m20 0h1m9 0h1m1 0h1m7 0h1m5 0h1m4 0h1m1 0h1m-79 1h1m14 0h1m6 0h1m1 0h1m10 0h1m12 0h1m3 0h1m2 0h1m1 0h1m15 0h1m3 0h1m3 0h2m-88 1h1m53 0h1m7 0h1m4 0h1m1 0h1m8 0h1m1 0h1m3 0h2m-62 1h1m11 0h1m2 0h1m9 0h1m3 0h1m13 0h1m1 0h1m2 0h1m3 0h1m5 0h1m1 0h1m7 0h1m-53 1h1m14 0h1m7 0h1m2 0h2m3 0h1m3 0h1m5 0h1m6 0h1m-99 1h1m38 0h1m4 0h1m11 0h1m27 0h1m3 0h1m11 0h1m-77 1h1m15 0h1m8 0h1m18 0h1m14 0h2m6 0h1m-71 1h1m22 0h1m3 0h1m4 0h1m1 0h1m5 0h1m3 0h1m3 0h1m2 0h1m3 0h1m-32 1h1m13 0h1m2 0h1m2 0h1m8 0h1m9 0h1m-100 1h1m57 0h1m11 0h1m4 0h1m13 0h1m1 0h1m2 0h1m3 0h1m1 0h1m1 0h1m2 0h1m-64 1h1m12 0h1m9 0h2m6 0h2m1 0h1m2 0h1m5 0h2m1 0h1m2 0h2m8 0h2m9 0h1m-92 1h1m16 0h1m17 0h1m11 0h1m11 0h2m2 0h1m3 0h1m1 0h1m12 0h1m10 0h1m-115 1h1m54 0h1m1 0h1m13 0h1m1 0h1m1 0h1m4 0h1m1 0h1m1 0h2m5 0h1m3 0h2m6 0h1m-61 1h1m8 0h1m7 0h1m3 0h2m1 0h1m9 0h1m7 0h1m15 0h1m7 0h1m-52 1h1m15 0h1m3 0h1m2 0h1m4 0h1m11 0h1m2 0h4m-80 1h1m2 0h1m4 0h1m2 0h1m18 0h1m9 0h1m6 0h1m21 0h2m-51 1h1m8 0h1m3 0h1m7 0h1m2 0h1m7 0h1m3 0h1m7 0h1m9 0h1m-64 1h1m12 0h1m21 0h1m14 0h1m4 0h1m24 0h1m-95 1h1m12 0h1m14 0h1m10 0h1m4 0h2m4 0h3m4 0h2m-24 1h1m10 0h1m9 0h1m1 0h2m4 0h2m3 0h1m12 0h2m-72 1h1m3 0h1m32 0h1m2 0h1m10 0h1m4 0h1m7 0h1m1 0h1m-55 1h1m11 0h1m4 0h1m9 0h1m3 0h1m1 0h2m13 0h1m11 0h1m4 0h1m-77 1h1m16 0h1m17 0h1m6 0h1m2 0h1m5 0h1m2 0h2m1 0h1m-68 1h1m29 0h1m-32 1h1m29 0h1m23 0h1m2 0h1m1 0h2m2 0h1m10 0h1m2 0h1m-44 1h1m5 0h1m3 0h1m3 0h1m6 0h1m-41 1h1m20 0h1m6 0h1m5 0h1m1 0h1m2 0h1m8 0h1m3 0h2m1 0h1m2 0h1m-61 1h1m22 0h1m3 0h1m9 0h1m5 0h2m4 0h1m6 0h1m2 0h1m9 0h1m-107 1h1m25 0h1m44 0h1m6 0h1m5 0h1m1 0h1m-22 1h1m5 0h1m14 0h2m3 0h1m12 0h1m-52 1h1m4 0h2m2 0h1m2 0h3m4 0h3m1 0h1m13 0h1m2 0h1m12 0h1m-8 1h1m-85 1h1m13 0h1m24 0h1m8 0h1m3 0h1m3 0h1m9 0h3m10 0h1m-76 1h1m21 0h1m12 0h1m6 0h1m1 0h1m9 0h1m22 0h1m1 0h1m-60 1h1m12 0h1m1 0h2m6 0h1m1 0h1m2 0h1m3 0h1m2 0h1m8 0h1m3 0h1m1 0h1m8 0h1m13 0h1m-49 1h1m10 0h1m10 0h2m1 0h2m9 0h1m1 0h1m-50 1h1m8 0h1m4 0h1m1 0h2m7 0h1m5 0h1m9 0h1m1 0h1m16 0h1m-72 1h1m11 0h1m3 0h1m2 0h3m5 0h1m2 0h1m2 0h1m2 0h2m2 0h1m3 0h1m10 0h1m-54 1h1m5 0h1m1 0h1m8 0h1m4 0h1m6 0h1m11 0h2m5 0h1m8 0h1m-67 1h1m5 0h1m17 0h1m2 0h1m1 0h1m6 0h1m2 0h2m2 0h1m2 0h1m2 0h1m2 0h1m-53 1h1m15 0h1m7 0h1m2 0h1m5 0h2m3 0h1m3 0h1m-28 1h1m1 0h1m4 0h2m3 0h1m1 0h1m1 0h1m3 0h1m1 0h1m10 0h1m3 0h2m2 0h1m6 0h1m-54 1h2m2 0h2m1 0h1m8 0h1m2 0h1m2 0h1m2 0h1m4 0h1m2 0h1m3 0h1m7 0h1m22 0h1m-81 1h1m5 0h1m3 0h1m5 0h1m5 0h1m10 0h3m8 0h1m1 0h1m5 0h1m2 0h1m5 0h1m16 0h1m-86 1h1m16 0h1m1 0h1m6 0h2m1 0h1m6 0h1m2 0h2m10 0h1m3 0h1m7 0h1m16 0h1m2 0h1m-77 1h1m14 0h1m3 0h1m2 0h1m19 0h1m1 0h1m4 0h1m1 0h1m2 0h1m8 0h1m2 0h1m-63 1h1m5 0h2m2 0h1m5 0h1m2 0h1m4 0h1m2 0h1m6 0h2m2 0h1m3 0h1m4 0h2m1 0h1m5 0h1m10 0h1m2 0h1m-85 1h1m17 0h1m9 0h1m2 0h1m1 0h2m1 0h1m1 0h1m7 0h1m12 0h1m7 0h1m12 0h1m-81 1h1m17 0h1m9 0h1m4 0h1m1 0h2m2 0h1m1 0h1m4 0h1m4 0h1m5 0h1m4 0h1m2 0h1m9 0h1m11 0h1m-73 1h3m2 0h3m1 0h1m9 0h1m5 0h1m1 0h1m1 0h3m3 0h1m2 0h2m2 0h1m4 0h1m2 0h1m17 0h1m-90 1h1m23 0h1m19 0h1m3 0h1m1 0h1m1 0h1m5 0h2m1 0h2m4 0h3m2 0h1m15 0h1m-73 1h1m2 0h1m3 0h1m3 0h1m1 0h1m8 0h1m10 0h1m2 0h1m2 0h2m3 0h1m2 0h1m5 0h1m7 0h1m21 0h1m-87 1h1m5 0h1m3 0h1m1 0h1m10 0h2m1 0h2m4 0h1m2 0h1m8 0h1m16 0h1m4 0h1m1 0h1m-89 1h1m6 0h1m18 0h1m5 0h2m10 0h1m1 0h1m4 0h2m1 0h1m7 0h1m1 0h1m1 0h1m1 0h1m3 0h1m6 0h1m-66 1h1m2 0h1m5 0h1m3 0h1m1 0h1m5 0h1m3 0h1m3 0h1m7 0h1m8 0h1m1 0h1m3 0h1m2 0h4m20 0h1m2 0h1m-81 1h2m4 0h1m2 0h1m2 0h2m1 0h1m1 0h3m2 0h1m1 0h1m3 0h1m2 0h1m3 0h2m1 0h1m2 0h2m2 0h1m6 0h1m2 0h1m1 0h2m1 0h1m14 0h1m-88 1h1m10 0h1m1 0h1m2 0h1m2 0h1m14 0h1m3 0h2m1 0h1m4 0h1m5 0h1m3 0h1m2 0h1m2 0h1m16 0h1m9 0h1m10 0h1m-86 1h1m2 0h1m1 0h1m4 0h1m4 0h1m2 0h1m23 0h1m1 0h1m5 0h1m-59 1h1m6 0h1m9 0h1m2 0h1m2 0h1m15 0h1m3 0h2m6 0h2m1 0h3m4 0h1m6 0h1m9 0h1m14 0h1m-87 1h1m5 0h1m6 0h1m12 0h1m12 0h1m11 0h1m5 0h1m1 0h1m7 0h1m13 0h2m-103 1h1m12 0h1m6 0h2m2 0h1m3 0h2m1 0h1m7 0h1m4 0h1m13 0h1m1 0h1m13 0h1m-61 1h1m1 0h1m9 0h1m21 0h1m20 0h1m-70 1h1m2 0h1m8 0h1m5 0h1m2 0h1m1 0h1m2 0h2m2 0h1m10 0h1m1 0h1m3 0h1m6 0h1m-52 1h1m5 0h1m3 0h1m6 0h1m6 0h1m8 0h1m8 0h1m3 0h2m9 0h1m10 0h1m-63 1h1m2 0h1m5 0h2m5 0h1m10 0h1m6 0h1m5 0h1m2 0h2m1 0h1m4 0h2m5 0h1m17 0h1m18 0h1m-105 1h1m13 0h1m2 0h1m21 0h1m3 0h1m2 0h1m8 0h1m13 0h1m-63 1h2m4 0h2m1 0h1m1 0h1m2 0h1m2 0h1m5 0h1m1 0h1m13 0h1m18 0h1m5 0h1m-61 1h2m18 0h2m7 0h1m4 0h1m1 0h4m2 0h1m2 0h1m14 0h1m-66 1h1m4 0h1m1 0h2m1 0h1m1 0h1m8 0h1m12 0h2m5 0h3m8 0h1m8 0h1m2 0h1m-76 1h1m11 0h1m1 0h1m2 0h1m1 0h1m1 0h3m2 0h1m5 0h1m6 0h2m5 0h1m1 0h1m2 0h2m1 0h1m7 0h1m3 0h1m-63 1h1m12 0h1m4 0h1m1 0h1m6 0h1m1 0h1m1 0h1m6 0h1m5 0h1m1 0h1m2 0h1m3 0h2m1 0h1m2 0h1m-67 1h1m3 0h1m13 0h1m19 0h1m3 0h1m6 0h1m2 0h1m20 0h1m-59 1h1m4 0h1m7 0h1m1 0h1m1 0h1m1 0h1m2 0h1m1 0h1m2 0h1m4 0h1m1 0h2m4 0h1m18 0h1m-72 1h1m13 0h1m14 0h1m7 0h2m6 0h3m1 0h1m2 0h1m-39 1h1m6 0h1m7 0h1m26 0h1m10 0h1m2 0h1m-69 1h1m4 0h1m8 0h1m1 0h1m25 0h1m5 0h1m3 0h1m17 0h1m3 0h1" stroke="#2a2a2a"/><path d="M88 66h1m2 0h1m1 2h1m10 0h1m-9 1h1m-2 2h1m4 0h1m2 0h1m-24 1h1m21 0h1m5 0h1m-81 1h1m29 0h1m24 0h1m16 0h1m1 0h2m-17 2h1m6 0h2m-45 1h2m28 0h1m24 0h1m-23 1h1m1 0h2m13 0h1m-60 1h1m12 0h1m29 0h1m1 0h1m9 0h1m7 0h1m-70 1h1m45 0h1m4 0h1m3 0h1m-14 1h1m10 0h2m2 0h1m3 0h1m-13 1h1m3 0h1m2 0h1m3 0h1m1 0h1m-10 1h1m16 0h1m-56 1h1m25 0h1m13 0h1m1 0h1m4 0h1m6 0h1m-49 1h2m7 0h1m1 0h1m20 0h1m1 0h1m-91 1h1m69 0h1m18 0h1m-13 1h1m14 1h1m-13 1h2m7 1h1m5 0h1m3 0h1m-36 1h1m20 0h1m-13 1h1m18 0h1m5 0h1m-42 1h1m24 0h1m-1 2h1m13 0h1m5 0h1m-43 1h1m15 0h1m9 1h1m2 0h1m-26 2h1m9 0h1m6 0h1m5 0h1m-13 1h1m-1 1h1m1 0h1m2 0h1m1 2h1m-2 1h2m-22 1h1m13 2h1m-4 1h2m3 0h1m-20 1h1m19 0h1m-4 1h1m6 0h1m-9 1h1m1 0h1m17 0h1m-29 1h1m4 0h1m4 0h1m4 0h1m4 0h1m-38 1h1m15 0h1m1 0h2m4 0h1m19 0h1m-27 1h2m-11 1h1m6 0h1m11 0h1m8 0h1m3 0h1m-35 1h1m10 0h1m2 0h1m5 0h1m3 0h1m-21 1h1m7 0h1m2 0h1m3 0h2m20 0h1m-27 1h2m3 0h1m7 0h1m-39 1h1m6 0h1m8 0h1m11 0h1m18 0h1m-55 1h1m9 0h2m7 0h1m2 0h1m1 0h2m4 0h1m1 0h1m-30 1h1m16 0h1m1 0h1m2 0h2m1 0h1m3 0h1m-26 1h1m1 0h1m14 0h1m4 0h1m4 0h1m3 0h1m-31 1h1m1 0h1m2 0h1m7 0h1m1 0h3m5 0h1m4 0h5m-46 1h1m17 0h1m4 0h1m2 0h2m4 0h1m5 0h1m4 0h2m14 0h1m1 0h1m5 0h1m-60 1h1m7 0h1m4 0h1m5 0h2m29 0h1m-54 1h2m1 0h2m4 0h1m1 0h1m6 0h1m2 0h1m3 0h1m3 0h1m3 0h1m15 0h1m-48 1h1m8 0h3m3 0h1m1 0h1m1 0h2m1 0h1m1 0h1m4 0h1m5 0h1m-45 1h1m4 0h1m10 0h3m1 0h1m7 0h2m2 0h1m2 0h1m1 0h1m-56 1h1m24 0h1m1 0h1m3 0h2m1 0h2m3 0h1m1 0h1m2 0h3m4 0h3m5 0h1m13 0h1m-52 1h1m3 0h2m1 0h2m1 0h3m1 0h1m1 0h1m1 0h1m2 0h1m1 0h2m1 0h2m11 0h1m7 0h1m9 0h1m14 0h1m-79 1h1m5 0h1m5 0h1m8 0h3m1 0h1m2 0h3m11 0h1m-37 1h2m1 0h9m1 0h3m2 0h1m2 0h3m1 0h2m1 0h1m2 0h1m-31 1h1m2 0h2m1 0h1m1 0h2m1 0h5m1 0h2m1 0h1m5 0h3m2 0h1m-37 1h6m1 0h2m1 0h2m1 0h1m2 0h4m1 0h5m1 0h1m1 0h2m3 0h1m1 0h2m1 0h1m-43 1h2m1 0h2m4 0h3m2 0h8m1 0h2m1 0h3m1 0h2m2 0h2m1 0h1m3 0h1m6 0h1m-43 1h1m2 0h1m1 0h7m1 0h4m1 0h2m1 0h4m1 0h3m1 0h1m4 0h1m-45 1h1m4 0h3m1 0h6m1 0h14m1 0h1m3 0h2m1 0h1m6 0h1m-47 1h1m1 0h1m2 0h1m1 0h1m3 0h2m2 0h7m1 0h1m1 0h1m1 0h3m1 0h1m1 0h2m3 0h1m3 0h1m-46 1h1m1 0h1m2 0h1m1 0h4m1 0h1m2 0h7m1 0h3m1 0h3m2 0h1m4 0h5m-39 1h1m3 0h1m4 0h10m1 0h1m2 0h3m2 0h1m1 0h1m3 0h1m2 0h1m11 0h1m-51 1h1m2 0h19m3 0h2m1 0h2m2 0h1m1 0h3m-36 1h1m4 0h2m3 0h3m1 0h1m1 0h5m1 0h1m1 0h1m1 0h2m3 0h3m2 0h2m3 0h1m-41 1h1m1 0h1m2 0h2m1 0h5m2 0h7m1 0h1m1 0h2m1 0h1m4 0h1m3 0h1m-39 1h1m3 0h4m1 0h1m1 0h5m1 0h6m2 0h3m1 0h1m3 0h1m1 0h2m11 0h1m-43 1h2m1 0h1m1 0h2m1 0h3m2 0h3m1 0h1m1 0h1m5 0h1m1 0h3m-48 1h1m15 0h1m1 0h1m1 0h1m1 0h1m1 0h1m1 0h1m1 0h4m1 0h3m3 0h1m1 0h2m-40 1h2m12 0h2m1 0h1m1 0h3m1 0h3m3 0h1m2 0h1m-31 1h2m2 0h1m2 0h3m3 0h1m8 0h2m1 0h1m1 0h1m10 0h1m16 0h1m-64 1h1m13 0h1m1 0h1m3 0h2m1 0h2m1 0h1m1 0h2m6 0h1m4 0h1m-30 1h1m3 0h1m6 0h1m2 0h1m1 0h1m-39 1h1m10 0h1m2 0h1m1 0h3m1 0h1m1 0h24m2 0h1m1 0h2m2 0h1m7 0h1m9 0h1" stroke="#000"/></g><path d="M0 0H205.5V205.5" fill="none" stroke="#2a2a2a" stroke-width="1.45"/><path d="M0 0V205.5" fill="none" stroke="#666" stroke-width="1.3"/><path d="M-6 205.5H205.5" fill="none" stroke="#111" stroke-width="1.5"/><path d="M114.7 0V205.5" fill="none" stroke="#111" stroke-width="1.7"/><path d="M0 139.2H205.5" fill="none" stroke="#111" stroke-width="1.5"/><path d="M0.0 205.5v5.5M51.2 205.5v5.5M102.4 205.5v5.5M153.6 205.5v5.5M204.8 205.5v5.5M0 205.0h-6.5M0 154.0h-6.5M0 103.0h-6.5M0 52.0h-6.5M0 1.0h-6.5" fill="none" stroke="#111" stroke-width="1.4"/><path d="M15.4 205.5v2.8M24.4 205.5v2.8M30.8 205.5v2.8M35.8 205.5v2.8M39.8 205.5v2.8M43.3 205.5v2.8M46.2 205.5v2.8M48.9 205.5v2.8M66.6 205.5v2.8M75.6 205.5v2.8M82.0 205.5v2.8M87.0 205.5v2.8M91.0 205.5v2.8M94.5 205.5v2.8M97.4 205.5v2.8M100.1 205.5v2.8M117.8 205.5v2.8M126.8 205.5v2.8M133.2 205.5v2.8M138.2 205.5v2.8M142.2 205.5v2.8M145.7 205.5v2.8M148.6 205.5v2.8M151.3 205.5v2.8M169.0 205.5v2.8M178.0 205.5v2.8M184.4 205.5v2.8M189.4 205.5v2.8M193.4 205.5v2.8M196.9 205.5v2.8M199.8 205.5v2.8M202.5 205.5v2.8M0 189.6h-3.5M0 180.7h-3.5M0 174.3h-3.5M0 169.4h-3.5M0 165.3h-3.5M0 161.9h-3.5M0 158.9h-3.5M0 156.3h-3.5M0 138.6h-3.5M0 129.7h-3.5M0 123.3h-3.5M0 118.4h-3.5M0 114.3h-3.5M0 110.9h-3.5M0 107.9h-3.5M0 105.3h-3.5M0 87.6h-3.5M0 78.7h-3.5M0 72.3h-3.5M0 67.4h-3.5M0 63.3h-3.5M0 59.9h-3.5M0 56.9h-3.5M0 54.3h-3.5M0 36.6h-3.5M0 27.7h-3.5M0 21.3h-3.5M0 16.4h-3.5M0 12.3h-3.5M0 8.9h-3.5M0 5.9h-3.5M0 3.3h-3.5" fill="none" stroke="#333" stroke-width="1.05"/><g font-family="'Liberation Sans', sans-serif" fill="#111" stroke="#111" stroke-width="0.3"><text transform="translate(3.6 222.9) scale(1 1.04)" font-size="7.4">10</text><text transform="translate(11.3 218.6) scale(1 1.04)" font-size="6.8">0</text><text transform="translate(51.6 222.9) scale(1 1.04)" font-size="7.4">10</text><text transform="translate(59.3 218.6) scale(1 1.04)" font-size="6.8">1</text><text transform="translate(102.8 222.9) scale(1 1.04)" font-size="7.4">10</text><text transform="translate(110.5 218.6) scale(1 1.04)" font-size="6.8">2</text><text transform="translate(154.0 222.9) scale(1 1.04)" font-size="7.4">10</text><text transform="translate(161.7 218.6) scale(1 1.04)" font-size="6.8">3</text><text transform="translate(196.3 222.9) scale(1 1.04)" font-size="7.4">10</text><text transform="translate(204.0 218.6) scale(1 1.04)" font-size="6.8">4</text><text transform="translate(-20.8 203.2) scale(1 1.04)" font-size="7.4">10</text><text transform="translate(-13.0 198.8) scale(1 1.04)" font-size="6.8">0</text><text transform="translate(-20.8 158.8) scale(1 1.04)" font-size="7.4">10</text><text transform="translate(-13.0 154.4) scale(1 1.04)" font-size="6.8">1</text><text transform="translate(-20.8 107.8) scale(1 1.04)" font-size="7.4">10</text><text transform="translate(-13.0 103.4) scale(1 1.04)" font-size="6.8">2</text><text transform="translate(-20.8 56.8) scale(1 1.04)" font-size="7.4">10</text><text transform="translate(-13.0 52.4) scale(1 1.04)" font-size="6.8">3</text><text transform="translate(-20.8 12.2) scale(1 1.04)" font-size="7.4">10</text><text transform="translate(-13.0 7.8) scale(1 1.04)" font-size="6.8">4</text></g><g font-family="'Liberation Sans', sans-serif" fill="#141414" stroke="#141414" stroke-width="0.55"><text transform="translate(6.6 36.4) scale(1 1.04)" font-size="30.6">9</text><text transform="translate(193.0 36.4) scale(1 1.04)" font-size="30.6" text-anchor="end">8</text><text transform="translate(4.2 199.8) scale(1 1.04)" font-size="30.6">78</text><text transform="translate(193.0 199.8) scale(1 1.04)" font-size="30.6" text-anchor="end">6</text></g></g>
<g transform="translate(1636.0,613.0)"><g fill="none" stroke-width="1" transform="scale(1.36) translate(-0.5,0.0)"><path d="M49 49h1m27 1h1m-9 2h1m-22 5h1m-6 2h1m67 0h1m-89 1h1m75 0h1m-52 2h1m60 1h1m7 0h1m-93 1h1m73 1h1m1 0h1m7 0h1m23 0h1m-78 1h1m7 0h1m-4 1h1m28 0h1m5 0h1m1 0h1m-72 1h1m15 0h1m31 0h1m27 0h1m2 0h1m-12 1h1m5 0h1m1 0h1m6 0h2m-61 1h1m1 0h1m23 0h1m6 0h1m4 0h1m8 0h1m15 0h1m-85 1h1m10 0h1m12 0h1m45 0h1m-52 1h1m24 0h1m24 0h1m7 0h1m6 0h1m-67 1h1m44 0h1m8 0h1m-34 1h1m5 0h1m-34 1h1m1 0h1m48 0h2m9 0h1m-25 1h2m5 0h1m6 0h1m13 0h1m-57 1h1m19 0h1m24 0h1m3 0h1m2 0h1m-54 1h1m23 0h1m13 0h1m13 0h2m11 0h1m-87 1h1m23 0h1m31 0h1m8 0h1m-44 1h1m8 0h2m23 0h1m4 0h1m5 0h2m1 0h1m7 0h1m-67 1h1m33 0h1m-39 1h1m6 0h1m15 0h1m13 0h1m6 0h1m2 0h1m13 0h1m1 0h1m-78 1h1m8 0h1m7 0h2m27 0h1m3 0h1m18 0h1m-11 1h1m1 0h2m9 0h1m7 0h1m8 0h1m-90 1h1m22 0h1m4 0h1m52 0h1m1 0h1m-55 1h1m28 0h1m7 0h1m4 0h2m2 0h1m1 0h1m-80 1h1m7 0h1m14 0h1m23 0h1m6 0h2m14 0h1m-51 1h1m3 0h1m24 0h1m1 0h1m15 0h1m2 0h1m-43 1h1m18 0h1m17 0h1m21 0h1m-57 1h1m5 0h2m29 0h1m6 0h1m8 0h1m-74 1h1m2 0h1m23 0h1m5 0h1m-32 1h1m28 0h1m17 0h2m18 0h1m2 0h1m-48 1h1m27 0h1m15 0h1m-62 1h1m26 0h1m7 0h1m2 0h1m7 0h1m4 0h1m2 0h1m-34 1h1m2 0h1m-15 1h1m26 0h1m16 0h1m4 0h1m-36 1h1m11 0h1m2 0h1m10 0h1m9 0h1m1 0h1m-29 1h1m0 1h1m20 0h1m-8 1h1m3 0h1m-28 1h1m5 1h1m15 0h1m6 0h1m-46 1h1m16 0h1m5 0h1m12 0h1m18 0h1m-36 1h1m21 0h1m-31 1h1m6 0h1m2 0h1m16 0h1m5 0h1m-34 1h1m7 0h1m2 0h1m1 0h1m11 0h1m-18 1h1m6 0h1m8 0h1m-25 1h1m13 0h1m3 0h1m16 0h1m-38 1h1m1 0h1m-41 1h1m39 0h1m8 0h1m6 0h1m1 0h1m3 0h1m-70 1h1m39 0h2m39 0h1m-47 1h1m17 0h2m3 0h1m11 0h1m4 0h1m3 0h1m5 0h1m-40 1h1m4 0h1m9 0h2m11 0h1m7 0h1m-62 1h1m17 0h1m4 0h1m2 0h2m6 0h1m32 0h1m-59 1h1m14 0h1m18 0h1m3 0h1m8 0h2m3 0h1m-50 1h1m7 0h1m15 0h2m1 0h1m5 0h1m1 0h1m2 0h1m-65 1h1m20 0h1m22 0h4m6 0h1m1 0h1m-35 1h1m9 0h1m7 0h1m7 0h1m7 0h1m25 0h1m-65 1h1m15 0h1m10 0h1m3 0h1m1 0h1m22 0h1m16 0h1m-75 1h1m9 0h1m14 0h1m16 0h1m9 0h1m11 0h1m5 0h1m-62 1h1m8 0h1m5 0h1m1 0h1m10 0h1m2 0h1m1 0h1m23 0h1m-73 1h1m6 0h1m5 0h1m10 0h1m11 0h1m4 0h1m19 0h1m2 0h1m8 0h1m4 0h1m-93 1h1m25 0h1m6 0h1m1 0h4m2 0h1m4 0h1m8 0h1m17 0h1m4 0h1m-65 1h1m5 0h1m17 0h1m20 0h3m38 0h1m-97 1h1m6 0h1m1 0h1m13 0h1m4 0h2m8 0h2m3 0h1m9 0h1m1 0h1m3 0h1m24 0h1m6 0h1m-90 1h1m6 0h1m8 0h1m1 0h1m11 0h1m1 0h2m19 0h1m4 0h1m5 0h1m-77 1h1m26 0h1m10 0h1m5 0h1m2 0h1m1 0h1m2 0h1m7 0h2m2 0h1m12 0h1m-63 1h2m20 0h1m3 0h2m1 0h1m8 0h2m6 0h1m1 0h1m38 0h1m-96 1h1m7 0h1m2 0h1m13 0h1m11 0h1m10 0h2m25 0h1m-77 1h1m6 0h1m5 0h1m21 0h1m44 0h1m-64 1h1m3 0h1m11 0h1m4 0h1m13 0h2m-61 1h1m9 0h1m6 0h1m2 0h1m1 0h1m3 0h1m1 0h1m19 0h1m26 0h1m-73 1h1m13 0h1m1 0h1m40 0h1m-51 1h1m9 0h1m5 0h1m18 0h1m5 0h1m2 0h2m5 0h1m24 0h1m13 0h1m-109 1h1m11 0h1m4 0h1m4 0h1m2 0h2m9 0h1m1 0h1m19 0h1m2 0h1m8 0h1m9 0h1m10 0h1m4 0h1m6 0h1m-97 1h1m8 0h1m2 0h1m7 0h1m5 0h1m2 0h1m7 0h1m8 0h2m2 0h1m5 0h1m2 0h1m6 0h1m1 0h1m-66 1h1m9 0h1m7 0h1m21 0h1m15 0h1m-58 1h1m11 0h1m13 0h1m10 0h1m11 0h1m14 0h1m-78 1h1m9 0h1m2 0h1m5 0h1m1 0h1m2 0h1m31 0h1m11 0h1m12 0h1m-82 1h1m8 0h2m8 0h1m14 0h1m19 0h1m6 0h1m1 0h1m47 0h1m-62 1h1m14 0h1m6 0h1m4 0h1m-62 1h1m13 0h1m1 0h1m7 0h1m2 0h1m12 0h1m10 0h1m-46 1h1m5 0h1m8 0h1m10 0h1m-23 1h1m22 0h1m7 0h1m14 0h1m6 0h1m-70 1h1m1 0h1m7 0h1m15 0h1m1 0h1m9 0h1m4 0h2m4 0h1m2 0h1m10 0h1m16 0h1m-73 1h1m3 0h1m7 0h1m8 0h1m12 0h1m1 0h1m3 0h1m20 0h1m-60 1h1m10 0h1m14 0h1m12 0h2m-36 1h1m7 0h1m8 0h1m4 0h1m36 0h1m-85 1h1m1 0h1m2 0h1m8 0h1m6 0h1m1 0h1m20 0h1m9 0h1m3 0h1m-48 1h1m5 0h1m5 0h1m6 0h1m1 0h1m15 0h1m7 0h1m12 0h1" stroke="#7a7a7a"/><path d="M41 45h1m3 5h1m33 1h1m-27 3h1m-27 2h1m55 1h1m8 0h1m9 0h1m-38 1h1m-48 1h1m85 0h1m16 0h1m-53 2h1m17 0h1m-58 1h1m41 0h1m36 0h1m9 0h1m-74 1h1m4 0h1m41 0h1m-67 1h1m7 0h1m23 0h1m40 0h1m-48 1h1m18 0h1m14 0h1m6 0h1m13 0h1m3 0h1m-70 1h1m76 0h1m-98 1h1m41 0h1m3 0h1m27 0h1m3 0h2m1 0h1m1 0h1m2 0h1m-70 1h1m44 0h1m8 0h1m1 0h1m1 0h1m-35 1h1m15 0h1m3 0h1m5 0h3m20 0h3m1 0h1m-44 1h1m3 0h1m13 0h2m6 0h1m2 0h1m2 0h1m14 0h1m-96 1h2m21 0h1m5 0h1m14 0h1m9 0h1m4 0h1m12 0h2m3 0h1m10 0h1m-68 1h1m31 0h1m5 0h1m5 0h1m17 0h1m-58 1h1m14 0h1m8 0h2m5 0h1m3 0h1m1 0h1m6 0h1m3 0h1m2 0h4m2 0h1m2 0h1m-63 1h1m5 0h1m1 0h1m17 0h1m20 0h1m3 0h1m5 0h1m9 0h1m-68 1h1m13 0h1m13 0h1m10 0h1m17 0h1m-72 1h1m33 0h1m12 0h3m9 0h2m6 0h1m7 0h1m1 0h1m1 0h1m-108 1h1m4 0h1m19 0h1m7 0h1m17 0h1m4 0h1m1 0h1m12 0h1m3 0h2m2 0h1m6 0h3m3 0h1m4 0h1m3 0h2m-78 1h1m21 0h1m25 0h1m8 0h2m4 0h1m4 0h1m-61 1h1m11 0h1m10 0h1m4 0h1m4 0h1m4 0h1m11 0h1m5 0h1m-77 1h1m34 0h1m2 0h1m3 0h1m11 0h1m5 0h1m20 0h1m7 0h1m-56 1h1m23 0h1m4 0h1m4 0h2m3 0h1m5 0h1m14 0h1m-100 1h1m9 0h1m25 0h1m6 0h1m3 0h1m2 0h1m7 0h1m3 0h1m1 0h1m10 0h2m3 0h1m-80 1h1m5 0h1m51 0h1m2 0h2m10 0h1m7 0h1m-98 1h1m40 0h1m6 0h1m15 0h1m2 0h1m2 0h1m6 0h1m8 0h1m3 0h1m1 0h3m-78 1h1m16 0h1m17 0h1m10 0h1m4 0h2m15 0h1m1 0h1m4 0h1m1 0h1m3 0h1m-60 1h1m8 0h1m18 0h1m7 0h1m1 0h2m4 0h1m3 0h1m2 0h1m14 0h1m-71 1h1m10 0h1m3 0h1m12 0h1m5 0h1m2 0h1m4 0h1m5 0h1m4 0h1m1 0h1m1 0h1m3 0h1m9 0h1m-85 1h2m18 0h1m4 0h2m5 0h1m7 0h1m37 0h1m4 0h1m-106 1h1m24 0h1m16 0h1m9 0h1m7 0h1m14 0h1m6 0h1m5 0h1m4 0h1m1 0h2m2 0h1m1 0h1m-70 1h1m7 0h1m10 0h1m28 0h1m3 0h1m3 1h1m3 0h1m11 0h1m-83 1h1m21 0h1m5 0h1m7 0h1m6 0h1m1 0h2m10 0h1m3 0h1m-34 1h1m16 0h1m2 0h1m7 0h2m-25 1h1m1 0h1m5 0h1m7 0h2m11 0h1m3 0h2m3 0h1m7 0h1m-72 1h1m6 0h1m5 0h1m3 0h1m17 0h1m5 0h1m6 0h1m8 0h1m5 0h1m5 0h1m2 0h1m-60 1h1m30 0h1m1 0h1m1 0h2m6 0h2m4 0h1m3 0h1m-78 1h1m22 0h1m16 0h1m8 0h1m3 0h1m1 0h1m14 0h1m8 0h1m-24 1h1m-62 1h1m45 0h1m2 0h1m4 0h1m4 0h2m1 0h1m1 0h1m1 0h1m2 0h1m2 0h2m5 0h1m-34 1h1m1 0h2m2 0h1m21 0h1m-41 1h1m15 0h2m6 0h2m3 0h1m1 0h1m7 0h1m2 0h1m2 0h1m-51 1h1m25 0h1m10 0h1m-16 1h1m15 0h1m9 0h1m-24 1h1m8 0h1m8 0h2m1 0h1m9 0h1m-54 1h1m14 0h1m9 0h1m1 0h1m1 0h1m2 0h1m3 0h2m2 0h1m-48 1h1m26 0h2m1 0h1m4 0h1m4 0h1m9 0h1m-29 1h1m7 0h1m10 0h1m10 0h1m-38 1h1m10 0h1m5 0h1m1 0h1m1 0h1m3 0h1m7 0h1m17 0h1m-90 1h1m47 0h1m16 0h1m2 0h1m3 0h1m3 0h1m-45 1h1m4 0h1m3 0h1m1 0h1m5 0h2m8 0h1m9 0h1m3 0h1m16 0h2m-62 1h1m2 0h1m1 0h1m1 0h1m14 0h4m5 0h2m22 0h1m-50 1h1m4 0h1m2 0h1m3 0h1m1 0h2m2 0h1m5 0h1m2 0h1m1 0h1m2 0h1m1 0h1m17 0h1m-52 1h1m5 0h1m3 0h2m2 0h2m3 0h1m7 0h1m14 0h1m4 0h1m-64 1h1m2 0h1m6 0h1m13 0h1m4 0h2m6 0h1m2 0h1m3 0h1m-14 1h1m3 0h1m7 0h1m14 0h1m3 0h1m-57 1h1m1 0h1m8 0h1m3 0h1m2 0h1m1 0h1m10 0h1m3 0h1m5 0h1m3 0h1m12 0h1m-54 1h1m5 0h1m4 0h2m2 0h1m21 0h1m3 0h3m-61 1h1m17 0h1m8 0h1m4 0h2m9 0h1m4 0h1m5 0h1m5 0h1m10 0h1m9 0h2m-88 1h1m11 0h1m8 0h1m13 0h1m2 0h1m4 0h2m4 0h1m5 0h1m17 0h1m-81 1h1m1 0h2m9 0h1m15 0h1m11 0h1m1 0h1m6 0h1m7 0h1m8 0h1m7 0h1m17 0h1m12 0h1m-87 1h1m1 0h2m2 0h1m1 0h1m1 0h1m2 0h2m2 0h1m1 0h3m1 0h1m5 0h1m8 0h1m19 0h1m1 0h1m-74 1h1m17 0h1m10 0h1m2 0h1m3 0h1m5 0h1m1 0h2m4 0h1m4 0h1m2 0h1m1 0h1m12 0h1m1 0h1m3 0h1m3 0h1m-78 1h1m8 0h3m4 0h1m2 0h1m16 0h1m1 0h1m2 0h1m2 0h1m7 0h1m1 0h1m1 0h1m11 0h1m-72 1h1m4 0h2m4 0h1m7 0h1m6 0h2m9 0h1m2 0h1m4 0h1m9 0h1m7 0h1m2 0h1m-79 1h1m8 0h1m1 0h1m7 0h1m2 0h1m9 0h1m6 0h2m7 0h1m4 0h1m12 0h1m8 0h1m10 0h1m7 0h1m-104 1h1m10 0h2m5 0h1m1 0h2m10 0h1m1 0h1m2 0h1m2 0h1m1 0h1m3 0h1m4 0h1m2 0h1m5 0h2m6 0h1m2 0h1m13 0h1m5 0h1m-83 1h1m12 0h1m4 0h2m1 0h1m3 0h1m2 0h2m16 0h1m2 0h1m1 0h2m6 0h1m14 0h1m-81 1h1m9 0h1m2 0h1m8 0h1m6 0h1m7 0h1m4 0h1m4 0h1m1 0h1m7 0h2m5 0h1m2 0h1m2 0h1m11 0h2m2 0h1m4 0h1m1 0h1m-71 1h1m3 0h1m1 0h1m2 0h1m10 0h1m5 0h1m4 0h2m3 0h2m6 0h1m4 0h1m30 0h1m-91 1h1m12 0h1m1 0h1m2 0h1m14 0h2m1 0h1m12 0h2m6 0h1m7 0h1m-69 1h1m3 0h1m1 0h1m2 0h2m1 0h1m11 0h2m6 0h1m7 0h1m2 0h2m13 0h1m9 0h1m-85 1h1m8 0h1m4 0h1m8 0h1m23 0h1m1 0h2m2 0h1m2 0h1m1 0h1m17 0h1m-70 1h1m13 0h1m1 0h1m10 0h1m1 0h1m1 0h1m13 0h1m1 0h2m2 0h3m1 0h1m13 0h1m9 0h1m-81 1h1m8 0h1m2 0h1m3 0h1m2 0h1m2 0h1m9 0h1m8 0h2m1 0h1m6 0h1m2 0h1m30 0h1m-90 1h1m3 0h1m3 0h1m7 0h2m19 0h1m5 0h1m4 0h2m2 0h1m7 0h1m3 0h1m7 0h1m29 0h1m-109 1h1m2 0h1m5 0h1m11 0h1m4 0h1m4 0h1m1 0h1m36 0h2m40 0h1m-105 1h1m9 0h1m1 0h1m3 0h1m11 0h1m3 0h1m3 0h1m9 0h1m6 0h1m-63 1h1m10 0h1m12 0h1m1 0h1m29 0h1m2 0h1m3 0h1m3 0h1m1 0h1m9 0h1m1 0h1m-71 1h1m2 0h1m1 0h1m1 0h1m1 0h1m2 0h1m6 0h1m16 0h1m19 0h1m-66 1h1m15 0h1m1 0h3m1 0h1m1 0h3m9 0h1m7 0h1m5 0h1m2 0h1m3 0h1m4 0h1m6 0h1m1 0h1m3 0h1m10 0h1m-74 1h3m1 0h1m4 0h1m17 0h1m4 0h1m5 0h1m5 0h1m2 0h1m8 0h1m7 0h1m-68 1h1m11 0h1m26 0h1m11 0h1m6 0h1m4 0h1m1 0h1m-63 1h2m7 0h2m17 0h2m6 0h2m1 0h1m3 0h1m2 0h2m2 0h1m3 0h1m13 0h1m-79 1h1m10 0h1m1 0h1m1 0h2m1 0h1m3 0h1m5 0h2m8 0h1m4 0h1m12 0h1m8 0h1m-65 1h1m6 0h1m3 0h1m1 0h1m7 0h1m1 0h2m2 0h1m5 0h1m5 0h2m4 0h2m3 0h1m17 0h1m-74 1h1m5 0h1m3 0h1m2 0h1m1 0h1m2 0h1m1 0h1m3 0h2m9 0h1m5 0h1m1 0h1m2 0h1m3 0h1m8 0h1m-54 1h1m4 0h1m1 0h2m2 0h2m1 0h2m10 0h2m5 0h1m7 0h2m5 0h1m-48 1h1m1 0h1m8 0h1m3 0h1m5 0h1m2 0h1m2 0h2m3 0h1m10 0h1m1 0h1m2 0h1m-47 1h1m6 0h3m4 0h1m2 0h1m2 0h1m7 0h1m2 0h1m24 0h1m-66 1h1m1 0h2m2 0h1m4 0h1m6 0h1m27 0h1m1 0h1m3 0h2m2 0h1m4 0h1" stroke="#2a2a2a"/><path d="M89 68h1m12 0h1m1 0h1m-3 1h1m1 0h1m6 1h1m-22 1h1m16 0h1m-28 1h1m15 0h2m3 0h1m-14 1h1m2 0h2m6 0h1m-47 1h1m35 0h1m4 0h1m-21 1h1m2 0h1m6 0h1m12 0h1m5 0h1m-22 1h1m10 0h1m11 0h1m-8 1h1m-36 1h1m16 0h1m3 0h1m2 0h1m9 0h1m1 0h1m-8 1h1m9 0h1m-33 1h1m5 0h1m6 0h1m3 0h1m8 0h1m-15 1h1m10 0h1m3 0h2m6 0h1m4 0h1m-62 1h1m23 0h1m8 1h1m4 0h1m12 0h1m8 0h1m-11 1h1m3 0h1m-39 1h1m23 0h1m-47 1h1m12 0h1m6 0h1m29 0h1m-4 1h1m2 1h1m-1 1h1m1 0h1m5 0h1m-39 1h1m12 1h1m7 0h1m-20 1h1m22 0h1m4 0h1m-33 2h1m1 0h1m11 0h1m6 0h2m-13 4h1m11 0h1m2 0h1m4 0h1m-24 1h1m1 0h1m11 0h1m2 0h1m-11 1h1m-7 1h1m6 0h1m10 0h1m-12 1h1m9 0h2m-13 1h1m4 0h1m4 0h1m2 0h1m2 0h1m-27 2h1m3 0h1m11 0h1m5 1h1m-39 1h1m24 0h1m8 0h1m1 0h1m-30 1h1m-2 1h1m3 0h1m41 0h1m-25 1h1m3 1h1m6 0h1m-14 1h1m8 0h1m13 0h1m-33 1h1m-9 1h1m10 0h1m6 0h1m7 0h1m-29 1h1m15 0h1m2 0h1m6 0h2m-31 1h1m12 0h3m2 0h1m3 1h1m8 0h1m-31 1h1m3 0h1m2 0h1m5 0h1m2 0h1m2 0h1m-20 1h1m1 0h1m1 0h1m1 0h1m6 0h1m9 0h1m-23 1h1m1 0h1m4 0h1m9 0h3m-20 1h1m12 0h1m2 0h1m21 0h1m-59 1h1m14 0h2m3 0h1m6 0h1m13 0h1m6 0h1m19 0h1m-68 1h1m3 0h1m18 0h1m2 0h1m1 0h1m16 0h1m-38 1h1m2 0h1m3 0h1m3 0h1m5 0h2m3 0h1m1 0h1m18 0h1m-50 1h2m1 0h1m1 0h1m2 0h1m12 0h3m3 0h1m2 0h2m3 0h2m-39 1h1m8 0h1m2 0h1m1 0h1m1 0h3m2 0h1m7 0h4m-42 1h1m22 0h1m3 0h2m1 0h1m7 0h1m-30 1h3m3 0h3m1 0h1m1 0h1m1 0h1m1 0h1m4 0h1m2 0h1m4 0h2m-31 1h1m1 0h1m3 0h2m1 0h1m5 0h1m2 0h1m2 0h1m1 0h2m3 0h1m-31 1h1m2 0h1m3 0h2m2 0h2m2 0h6m1 0h2m2 0h1m6 0h1m-33 1h2m3 0h1m1 0h3m3 0h4m3 0h3m2 0h1m2 0h1m6 0h1m17 0h1m-68 1h1m6 0h1m3 0h1m3 0h2m2 0h1m1 0h8m1 0h2m4 0h2m6 0h3m-50 1h1m6 0h2m4 0h1m1 0h1m2 0h2m1 0h1m1 0h1m3 0h1m2 0h7m1 0h2m1 0h1m2 0h1m4 0h1m2 0h1m3 0h1m-48 1h1m1 0h2m1 0h1m2 0h4m1 0h4m1 0h8m2 0h1m1 0h1m13 0h1m-44 1h1m3 0h9m1 0h1m1 0h1m1 0h5m1 0h4m5 0h2m1 0h2m10 0h1m-51 1h1m2 0h3m2 0h1m1 0h2m1 0h2m1 0h7m1 0h7m3 0h1m4 0h2m3 0h1m22 0h1m-71 1h2m2 0h1m1 0h4m1 0h4m1 0h3m1 0h3m1 0h8m2 0h2m-36 1h2m3 0h1m1 0h10m1 0h10m1 0h5m1 0h1m3 0h1m-50 1h1m9 0h1m2 0h4m2 0h1m1 0h14m1 0h4m1 0h3m1 0h1m2 0h1m4 0h1m-52 1h1m14 0h4m2 0h3m1 0h7m1 0h5m4 0h1m3 0h1m-56 1h1m12 0h1m3 0h2m1 0h17m1 0h4m1 0h2m1 0h1m2 0h2m2 0h1m-38 1h2m2 0h5m1 0h1m1 0h7m1 0h2m1 0h5m1 0h1m1 0h1m1 0h1m-55 1h1m18 0h1m1 0h1m1 0h1m2 0h2m1 0h8m1 0h5m2 0h2m2 0h2m2 0h1m1 0h2m17 0h1m-51 1h2m2 0h5m2 0h6m1 0h1m1 0h3m4 0h4m5 0h1m-40 1h3m2 0h1m1 0h1m2 0h1m2 0h2m1 0h1m2 0h2m1 0h2m5 0h1m4 0h1m2 0h1m-50 1h1m10 0h1m3 0h1m3 0h2m1 0h3m1 0h1m1 0h2m1 0h2m1 0h1m1 0h2m6 0h1m-30 1h7m4 0h4m2 0h2m8 0h1m9 0h1m-44 1h1m1 0h1m1 0h1m7 0h2m2 0h1m2 0h2m7 0h1m1 0h1m3 0h1m1 0h1m-43 1h1m13 0h1m1 0h2m4 0h4m8 0h1m-47 1h1m7 0h1m1 0h1m2 0h4m1 0h1m1 0h3m1 0h6m1 0h1m1 0h12m1 0h1m3 0h1" stroke="#000"/></g><g fill="none" stroke-width="1" transform="scale(1.36) translate(0.0,0.5)"><path d="M58 41h1m27 10h1m22 5h1m-8 1h1m-45 4h1m47 1h2m-77 2h1m3 0h2m21 0h1m31 0h1m-70 1h1m44 0h1m17 0h1m7 0h1m8 0h1m2 0h1m3 0h2m-54 1h1m1 0h1m17 0h1m14 0h1m17 0h1m-46 1h1m31 0h1m13 0h1m-52 1h1m12 0h1m18 0h1m4 0h1m15 0h1m-53 1h1m4 0h1m26 0h1m17 0h1m-36 1h1m7 0h1m3 0h1m1 0h1m18 0h1m-92 1h1m47 0h1m2 0h1m-10 1h1m12 0h1m5 0h1m14 0h1m3 0h1m3 0h1m5 0h1m-75 1h1m42 0h1m5 0h1m3 0h1m-69 1h1m13 0h1m28 0h1m38 0h1m4 0h1m2 0h1m1 0h1m-77 1h1m10 0h1m37 0h1m13 0h1m3 0h1m4 0h1m-46 1h1m16 0h1m34 0h1m-74 1h1m30 0h1m1 0h1m12 0h1m2 0h1m16 0h1m5 0h1m-63 1h1m27 0h1m10 0h1m2 0h2m8 0h1m6 0h1m2 0h1m4 0h1m-58 1h1m13 0h1m9 0h1m12 0h1m-76 1h1m27 0h1m20 0h1m14 0h1m7 0h1m-65 1h1m3 0h1m3 0h1m36 0h2m11 0h1m-86 1h1m59 0h1m1 0h1m23 0h1m1 0h2m1 0h1m13 0h1m-89 1h1m23 0h1m11 0h1m12 0h1m2 0h1m16 0h1m4 0h1m4 0h1m-45 1h1m11 0h1m9 0h1m7 0h1m7 0h1m8 0h2m-85 1h1m60 0h1m9 0h1m6 0h1m-78 1h1m37 0h1m50 0h1m-35 1h1m11 0h1m4 0h1m-40 1h1m-35 1h1m29 0h1m16 0h2m12 0h1m6 0h1m3 0h1m1 1h1m5 0h1m-70 1h1m5 0h1m34 0h1m24 0h2m-50 1h1m26 0h1m24 0h1m-68 1h1m56 0h1m-59 1h1m64 0h1m-29 1h1m7 0h1m8 0h1m-71 1h1m57 0h1m1 0h1m-38 1h1m38 0h1m-31 1h1m19 0h2m11 0h1m5 0h1m-37 1h1m15 0h1m3 0h1m1 0h1m-11 1h1m9 0h1m9 0h1m-20 1h3m3 0h1m1 0h1m7 0h1m14 0h1m-30 1h1m22 0h1m-21 1h1m14 0h1m6 0h1m6 0h1m-41 1h1m21 0h1m1 0h2m-29 1h1m10 0h1m1 0h1m2 0h1m6 0h1m-11 1h1m3 0h1m7 0h1m3 0h1m1 0h1m-33 1h1m7 0h1m4 0h1m19 0h1m3 0h1m-43 1h1m16 0h2m1 0h1m17 0h1m-39 1h1m3 0h1m15 0h1m10 0h1m5 0h1m1 0h1m-40 1h1m21 0h1m3 0h1m7 0h1m-53 1h1m11 0h1m20 0h1m5 0h2m4 1h1m15 0h1m10 0h1m-55 1h1m24 0h1m6 0h1m23 0h1m-59 1h1m2 0h1m8 0h1m6 0h1m5 0h2m1 0h1m29 0h1m-63 1h1m6 0h1m30 0h1m3 0h1m-20 1h1m14 0h1m9 0h1m2 0h1m-52 1h1m2 0h1m15 0h1m3 0h1m13 0h1m9 0h1m-79 1h1m8 0h1m6 0h1m9 0h1m19 0h1m2 0h1m12 0h1m-32 1h1m3 0h1m11 0h2m13 0h1m2 0h1m32 0h1m-86 1h1m3 0h1m6 0h2m12 0h1m1 0h1m9 0h2m8 0h2m4 0h1m-39 1h1m7 0h1m5 0h2m6 0h1m4 0h1m8 0h1m4 0h1m-38 1h2m2 0h1m5 0h1m5 0h1m6 0h1m6 0h1m6 0h1m6 0h1m2 0h1m-64 1h1m7 0h1m2 0h1m7 0h1m29 0h1m-47 1h1m15 0h2m3 0h1m7 0h1m1 0h1m23 0h1m29 0h1m-71 1h1m4 0h1m1 0h1m9 0h1m10 0h1m5 0h2m2 0h1m8 0h1m10 0h1m6 0h1m-83 1h1m6 0h2m11 0h1m14 0h1m4 0h1m2 0h1m1 0h1m2 0h1m5 0h1m11 0h1m-66 1h1m1 0h1m9 0h1m12 0h2m-30 1h1m1 0h1m3 0h1m4 0h1m20 0h1m9 0h2m3 0h1m3 0h1m20 0h1m3 0h1m10 0h1m4 0h1m-94 1h1m6 0h1m33 0h1m16 0h1m13 0h1m-56 1h1m7 0h1m15 0h1m16 0h1m15 0h1m-78 1h1m2 0h1m4 0h1m24 0h1m25 0h1m-64 1h1m9 0h1m7 0h1m17 0h1m11 0h1m1 0h1m2 0h1m7 0h1m12 0h1m-82 1h1m8 0h1m2 0h1m7 0h1m-12 1h1m3 0h1m2 0h1m1 0h1m8 0h1m11 0h1m2 0h1m-35 1h1m34 0h1m1 0h1m3 0h1m-43 1h1m2 0h1m5 0h1m10 0h1m30 0h1m3 0h1m27 0h1m-84 1h2m37 0h1m11 0h1m-55 1h1m6 0h1m6 0h1m15 0h1m16 0h1m40 0h1m-104 1h1m36 0h1m21 0h1m-51 1h1m6 0h1m31 0h1m4 0h1m1 0h1m1 0h1m2 0h1m9 0h1m-60 1h2m8 0h1m6 0h1m27 0h1m48 0h1m-99 1h1m2 0h1m34 0h1m16 0h1m-63 1h1m5 0h1m15 0h1m1 0h1m9 0h1m1 0h1m4 0h1m1 0h1m6 0h1m8 0h1m7 0h1m-37 1h1m12 0h1m1 0h1m2 0h1m5 0h1m-56 1h1m1 0h1m2 0h1m38 0h1m2 0h1m9 0h1m-24 1h1m1 0h1m14 0h2m-51 1h1m2 0h1m8 0h1m34 0h1m2 0h1m3 0h1m7 0h1m-46 1h1m7 0h1m9 0h1m5 0h1m6 0h1m3 0h1m1 0h1m-40 1h3m5 0h1m2 0h1m10 0h1m-31 1h1m7 0h1m1 0h1m28 0h1" stroke="#7a7a7a"/><path d="M81 37h1m-30 9h1m17 2h1m-24 2h1m6 2h1m1 1h1m6 2h1m34 0h1m-59 2h1m62 1h1m-23 1h1m1 0h1m13 0h1m-1 1h1m2 0h1m6 0h1m-49 2h1m24 0h1m-22 1h1m31 0h1m7 0h1m-64 1h1m1 0h1m37 0h1m11 0h1m11 0h1m-24 1h1m18 0h1m-54 1h1m26 0h1m12 0h1m11 0h1m10 0h1m-82 1h1m12 0h1m11 0h1m15 0h1m5 0h1m21 0h1m2 0h1m1 0h2m1 0h2m4 0h2m-30 1h1m15 0h1m1 0h1m1 0h1m-43 1h2m10 0h1m4 0h1m11 0h1m10 0h3m1 0h1m-85 1h1m19 0h1m1 0h1m6 0h1m46 0h2m11 0h1m-78 1h1m1 0h1m11 0h1m13 0h1m8 0h2m6 0h1m6 0h1m4 0h1m6 0h3m11 0h1m-70 1h1m12 0h1m11 0h1m27 0h1m2 0h1m4 0h1m9 0h1m-68 1h1m3 0h1m3 0h1m15 0h1m5 0h1m9 0h1m4 0h1m3 0h1m3 0h1m8 0h1m23 0h1m-96 1h1m14 0h1m6 0h1m7 0h1m20 0h1m4 0h1m3 0h1m3 0h1m3 0h1m7 0h1m-83 1h1m29 0h1m1 0h1m5 0h2m7 0h1m19 0h1m3 0h1m3 0h1m3 0h1m2 0h1m-65 1h1m4 0h1m28 0h1m10 0h2m8 0h1m3 0h1m-103 1h1m27 0h1m5 0h1m7 0h1m25 0h1m1 0h1m4 0h2m3 0h1m2 0h2m4 0h1m4 0h2m7 0h2m-111 1h1m40 0h1m36 0h1m5 0h1m1 0h1m2 0h2m2 0h2m2 0h1m2 0h1m-56 1h1m10 0h2m6 0h1m10 0h1m15 0h3m1 0h1m2 0h1m6 0h1m1 0h1m7 0h1m-74 1h1m12 0h2m1 0h1m1 0h1m16 0h1m6 0h1m1 0h1m3 0h1m15 0h1m-82 1h1m2 0h1m35 0h1m8 0h1m3 0h1m11 0h1m8 0h1m2 0h1m3 0h1m17 0h1m-99 1h1m34 0h1m18 0h1m6 0h1m-81 1h1m24 0h1m13 0h1m24 0h1m12 0h1m11 0h1m-49 1h1m8 0h1m7 0h1m14 0h1m8 0h1m5 0h1m5 0h1m-64 1h1m1 0h1m19 0h1m2 0h3m8 0h3m11 0h2m3 0h1m5 0h1m3 0h1m3 0h1m8 0h1m-92 1h1m5 0h1m33 0h1m3 0h1m5 0h2m3 0h2m3 0h1m5 0h1m4 0h1m7 0h2m-41 1h1m11 0h2m7 0h1m1 0h2m-60 1h1m28 0h1m3 0h1m2 0h1m1 0h1m14 0h1m14 0h1m8 0h1m-56 1h2m8 0h1m19 0h1m2 0h2m-40 1h1m3 0h1m19 0h1m2 0h2m5 0h1m1 0h1m3 0h1m10 0h1m1 0h1m12 0h1m-70 1h1m11 0h1m3 0h1m3 0h1m3 0h1m1 0h1m1 0h1m11 0h1m2 0h2m2 0h3m-58 1h1m24 0h1m1 0h1m14 0h1m1 0h1m6 0h1m1 0h1m17 0h1m-57 1h1m23 0h1m13 0h1m11 0h1m-71 1h1m36 0h2m1 0h1m2 0h1m1 0h1m-19 1h1m7 0h2m25 0h1m18 0h1m-68 1h1m32 0h1m2 0h1m2 0h1m10 0h1m-58 1h1m11 0h1m2 0h1m9 0h1m6 0h1m2 0h1m3 0h1m2 0h1m2 0h1m1 0h1m1 0h1m-25 1h1m9 0h1m4 0h1m3 0h1m1 0h1m3 0h1m2 0h1m-28 1h1m19 0h1m1 0h2m2 0h1m2 0h1m1 0h1m-40 1h1m9 0h1m4 0h1m6 0h1m17 0h1m-96 1h1m47 0h1m12 0h1m5 0h1m6 0h1m1 0h1m4 0h1m19 0h1m-55 1h1m14 0h1m5 0h1m8 0h1m2 0h2m5 0h1m5 0h1m-29 1h1m7 0h1m5 0h1m7 0h1m-22 1h1m4 0h1m2 0h1m9 0h1m8 0h1m4 0h1m4 0h1m-31 1h1m4 0h1m4 0h1m-28 1h1m2 0h1m1 0h1m4 0h1m3 0h1m6 0h1m6 0h1m-55 1h1m4 0h1m11 0h1m9 0h1m4 0h1m6 0h1m1 0h1m1 0h1m14 0h2m-66 1h1m30 0h1m1 0h1m2 0h1m6 0h1m8 0h1m5 0h2m3 0h1m2 0h1m-46 1h1m15 0h1m1 0h1m1 0h1m1 0h1m1 0h1m1 0h1m6 0h1m1 0h1m5 0h1m9 0h1m-72 1h1m23 0h1m2 0h1m9 0h1m2 0h3m7 0h1m2 0h1m7 0h1m6 0h1m21 0h1m-61 1h1m6 0h1m9 0h1m1 0h1m5 0h1m1 0h1m5 0h1m1 0h1m-47 1h1m7 0h1m3 0h1m1 0h2m2 0h1m10 0h1m2 0h1m4 0h1m1 0h1m6 0h1m8 0h1m-58 1h1m15 0h1m5 0h1m10 0h1m1 0h1m9 0h2m-52 1h1m10 0h1m2 0h1m3 0h1m7 0h1m13 0h1m-21 1h1m13 0h1m2 0h1m1 0h1m6 0h1m-45 1h1m6 0h1m3 0h1m15 0h1m9 0h1m4 0h1m16 0h1m5 0h1m7 0h1m-76 1h1m13 0h1m6 0h1m4 0h1m11 0h1m1 0h1m2 0h1m28 0h1m1 0h1m2 0h1m-71 1h1m1 0h1m2 0h1m3 0h2m4 0h1m1 0h1m3 0h1m5 0h2m1 0h1m3 0h1m3 0h1m2 0h1m30 0h1m1 0h1m-78 1h1m13 0h2m7 0h1m2 0h2m1 0h1m1 0h1m15 0h1m7 0h1m2 0h1m-69 1h1m5 0h1m1 0h2m5 0h1m1 0h1m3 0h1m1 0h1m9 0h1m1 0h2m1 0h1m11 0h2m10 0h1m-86 1h1m25 0h1m9 0h1m1 0h1m2 0h1m1 0h1m3 0h1m3 0h1m3 0h1m1 0h1m3 0h1m16 0h1m1 0h1m4 0h1m11 0h1m-80 1h1m4 0h1m5 0h1m3 0h2m2 0h1m5 0h1m2 0h1m5 0h1m6 0h2m3 0h1m11 0h1m1 0h1m16 0h1m-89 1h1m6 0h1m19 0h2m3 0h1m1 0h1m2 0h1m1 0h1m1 0h1m3 0h5m7 0h1m2 0h1m32 0h1m-81 1h1m7 0h1m2 0h1m13 0h1m1 0h2m8 0h1m4 0h1m4 0h1m3 0h1m18 0h1m5 0h1m8 0h1m-109 1h1m31 0h1m1 0h1m4 0h1m1 0h3m10 0h1m1 0h1m2 0h1m11 0h1m36 0h1m-114 1h1m22 0h1m15 0h1m2 0h1m1 0h1m2 0h1m10 0h2m2 0h1m3 0h1m3 0h1m13 0h2m3 0h1m5 0h1m-85 1h1m3 0h1m3 0h1m16 0h2m1 0h1m4 0h1m5 0h1m5 0h1m3 0h1m3 0h1m1 0h1m2 0h1m3 0h1m2 0h1m1 0h2m16 0h1m4 0h1m-94 1h1m25 0h3m2 0h1m10 0h1m3 0h1m6 0h1m13 0h1m2 0h1m15 0h1m4 0h1m6 0h1m-88 1h1m3 0h2m1 0h1m3 0h1m2 0h1m6 0h1m2 0h1m1 0h1m5 0h1m3 0h1m4 0h1m1 0h1m4 0h1m6 0h1m15 0h1m17 0h1m-86 1h1m6 0h1m5 0h1m16 0h1m1 0h2m2 0h3m2 0h1m42 0h1m-98 1h1m4 0h1m5 0h1m9 0h1m5 0h2m5 0h1m2 0h1m1 0h1m8 0h2m3 0h1m2 0h2m3 0h1m25 0h1m23 0h1m-120 1h1m11 0h1m4 0h1m3 0h1m2 0h2m1 0h2m3 0h1m2 0h1m6 0h1m13 0h1m18 0h1m9 0h1m20 0h1m-88 1h1m12 0h1m7 0h1m4 0h1m6 0h1m3 0h1m3 0h1m3 0h2m2 0h1m8 0h1m2 0h1m2 0h1m39 0h1m-100 1h1m14 0h2m4 0h1m4 0h1m7 0h1m2 0h2m3 0h1m2 0h2m4 0h1m-67 1h1m4 0h1m12 0h1m13 0h1m2 0h1m1 0h2m1 0h2m31 0h1m-69 1h2m7 0h2m8 0h1m16 0h1m1 0h1m2 0h1m1 0h1m1 0h1m3 0h1m2 0h1m3 0h1m-64 1h2m1 0h1m2 0h1m6 0h1m5 0h2m14 0h1m3 0h1m7 0h1m1 0h1m2 0h1m2 0h2m4 0h1m5 0h1m7 0h1m10 0h1m-77 1h1m12 0h1m19 0h1m8 0h1m17 0h1m-76 1h1m10 0h2m5 0h1m28 0h1m1 0h2m1 0h1m20 0h1m17 0h1m12 0h1m-94 1h1m4 0h1m8 0h1m6 0h1m19 0h1m4 0h1m7 0h1m7 0h1m-78 1h1m14 0h1m32 0h2m1 0h1m9 0h1m3 0h1m1 0h1m-56 1h1m2 0h1m1 0h3m2 0h1m7 0h1m15 0h1m5 0h2m9 0h1m-59 1h1m1 0h1m4 0h1m1 0h1m1 0h1m1 0h1m2 0h1m9 0h2m6 0h1m8 0h1m3 0h1m1 0h1m7 0h1m-50 1h3m1 0h1m2 0h1m6 0h1m8 0h1m4 0h1m19 0h1m7 0h1m-63 1h3m2 0h1m3 0h1m1 0h2m8 0h1m5 0h1m8 0h1m4 0h1m3 0h1m6 0h1m-57 1h3m7 0h1m3 0h1m1 0h1m5 0h1m2 0h1m2 0h1m1 0h1m5 0h1m3 0h1m1 0h1m2 0h1m1 0h1m-51 1h1m9 0h2m1 0h1m1 0h2m4 0h1m2 0h1m1 0h2m2 0h3m10 0h1m4 0h1m4 0h1m4 0h1m58 0h1m-106 1h1m1 0h1m2 0h1m2 0h2m1 0h1m2 0h1m3 0h1m2 0h1m1 0h1m6 0h1m2 0h1m3 0h1m-43 1h1m5 0h1m6 0h1m3 0h1m6 0h1m6 0h1m4 0h1m-43 1h1m4 0h1m3 0h1m18 0h1m3 0h1m8 0h1m1 0h1m19 0h1m1 0h1m18 0h1" stroke="#2a2a2a"/><path d="M109 62h1m-13 1h1m-18 2h1m16 0h1m-3 2h1m9 0h1m2 0h1m-3 1h1m-13 2h1m5 0h1m8 0h1m-14 1h1m6 0h2m3 0h1m-63 1h1m61 1h1m2 0h1m-34 1h1m12 0h1m4 0h1m12 0h1m-24 1h2m8 0h1m8 0h1m-46 1h1m31 0h1m9 0h1m1 0h1m2 0h1m-48 1h1m31 0h2m4 0h1m-15 1h1m-8 1h1m8 0h1m1 0h1m1 0h1m-29 1h1m12 0h1m3 0h1m17 0h1m7 0h1m8 0h1m-57 1h1m18 0h1m5 0h1m5 0h1m8 0h1m5 0h1m-28 1h1m5 0h1m16 0h1m-35 1h2m19 0h1m4 0h1m-35 1h1m19 0h1m7 0h1m5 0h1m6 0h1m-4 1h1m-34 1h1m6 0h1m22 0h1m-24 1h1m25 0h1m-16 1h1m11 0h2m-18 1h1m-10 1h1m-4 1h1m1 0h1m-2 1h1m10 0h1m4 0h1m-21 1h1m9 2h1m2 2h1m-11 3h1m4 0h1m2 1h1m16 1h1m-21 1h1m8 0h1m-21 1h1m8 0h1m7 0h1m2 0h1m6 0h1m-26 1h1m10 0h1m-9 1h1m16 0h1m-13 1h1m13 0h1m-22 1h1m10 0h1m1 0h2m-12 1h1m1 0h1m6 1h1m-7 1h1m10 0h1m-32 1h1m23 0h1m2 0h1m3 0h1m-26 1h1m3 0h1m27 0h1m-25 1h1m4 0h1m15 0h1m-46 1h1m26 0h2m7 0h1m25 0h1m-37 1h2m13 0h1m3 0h1m-34 1h1m12 0h1m3 0h2m3 0h1m-17 1h1m13 0h1m-17 1h1m6 0h1m16 0h1m-36 1h1m7 0h1m14 0h1m12 0h1m17 0h1m-87 1h1m34 0h1m16 0h1m1 0h1m2 0h2m8 0h1m5 0h1m-34 1h1m11 0h1m7 0h1m-39 1h1m4 0h1m6 0h1m13 0h2m7 0h1m-28 1h1m1 0h2m10 0h1m2 0h1m2 0h1m3 0h1m2 0h1m4 0h1m-45 1h1m13 0h1m6 0h1m1 0h1m4 0h1m3 0h1m16 0h1m-52 1h1m3 0h1m2 0h1m3 0h1m7 0h1m3 0h4m1 0h3m3 0h2m2 0h1m-27 1h1m1 0h1m4 0h3m3 0h1m6 0h2m-29 1h1m11 0h3m1 0h2m2 0h2m2 0h3m1 0h1m4 0h1m5 0h1m-37 1h3m1 0h2m7 0h4m1 0h3m4 0h1m8 0h1m2 0h1m1 0h1m-47 1h1m11 0h2m3 0h1m1 0h3m2 0h2m4 0h2m3 0h1m4 0h2m2 0h1m-52 1h1m8 0h1m4 0h1m4 0h5m2 0h1m4 0h2m4 0h1m2 0h1m1 0h1m1 0h2m-35 1h3m1 0h1m2 0h6m1 0h7m1 0h1m1 0h1m1 0h1m1 0h1m2 0h1m1 0h2m-41 1h1m1 0h2m1 0h1m1 0h2m1 0h2m2 0h3m1 0h4m1 0h2m1 0h3m1 0h1m1 0h1m1 0h1m3 0h1m-32 1h2m1 0h3m1 0h2m2 0h4m1 0h2m1 0h1m2 0h1m1 0h1m1 0h1m2 0h1m5 0h1m7 0h1m3 0h1m-54 1h3m1 0h12m2 0h2m1 0h1m2 0h1m2 0h1m1 0h1m3 0h1m2 0h1m2 0h1m1 0h1m-48 1h1m2 0h2m3 0h7m1 0h2m1 0h2m1 0h10m1 0h1m1 0h1m10 0h1m4 0h1m-55 1h1m5 0h3m1 0h1m2 0h2m2 0h10m1 0h3m1 0h7m15 0h1m-54 1h1m2 0h1m1 0h3m1 0h1m2 0h2m1 0h12m1 0h6m1 0h2m1 0h2m-41 1h2m1 0h1m2 0h2m1 0h2m1 0h6m1 0h1m1 0h1m1 0h11m4 0h1m2 0h1m4 0h1m-53 1h1m1 0h1m4 0h2m1 0h4m1 0h3m1 0h6m1 0h11m1 0h1m1 0h2m1 0h1m-42 1h1m6 0h1m1 0h6m1 0h2m1 0h11m1 0h4m2 0h1m4 0h1m2 0h1m4 0h1m-48 1h1m4 0h1m2 0h6m1 0h14m5 0h2m4 0h2m-45 1h1m5 0h1m3 0h1m1 0h6m2 0h1m1 0h1m1 0h2m1 0h1m1 0h1m1 0h4m1 0h1m1 0h1m-42 1h1m11 0h2m1 0h1m2 0h3m1 0h4m1 0h3m2 0h2m1 0h1m1 0h2m2 0h1m-48 1h1m10 0h1m4 0h4m2 0h2m2 0h4m1 0h8m2 0h2m2 0h2m-40 1h1m6 0h1m1 0h2m2 0h1m2 0h1m1 0h2m1 0h1m5 0h1m1 0h3m10 0h1m-34 1h1m1 0h1m2 0h1m2 0h2m3 0h6m1 0h1m1 0h1m2 0h1m-24 1h1m1 0h2m3 0h1m2 0h1m1 0h1m1 0h1m7 0h1m10 0h1m-53 1h1m22 0h1m3 0h1m1 0h1m4 0h1m2 0h1m1 0h1m2 0h1m5 0h1m-52 1h1m2 0h3m1 0h1m3 0h2m1 0h3m3 0h9m1 0h3m1 0h8m1 0h1m1 0h2m2 0h4" stroke="#000"/></g><path d="M0 0H205.5V205.5" fill="none" stroke="#2a2a2a" stroke-width="1.45"/><path d="M0 0V205.5" fill="none" stroke="#666" stroke-width="1.3"/><path d="M-6 205.5H205.5" fill="none" stroke="#111" stroke-width="1.5"/><path d="M115.0 0V205.5" fill="none" stroke="#111" stroke-width="1.7"/><path d="M0 139.2H205.5" fill="none" stroke="#111" stroke-width="1.5"/><path d="M0.0 205.5v5.5M51.2 205.5v5.5M102.4 205.5v5.5M153.6 205.5v5.5M204.8 205.5v5.5M0 205.0h-6.5M0 154.0h-6.5M0 103.0h-6.5M0 52.0h-6.5M0 1.0h-6.5" fill="none" stroke="#111" stroke-width="1.4"/><path d="M15.4 205.5v2.8M24.4 205.5v2.8M30.8 205.5v2.8M35.8 205.5v2.8M39.8 205.5v2.8M43.3 205.5v2.8M46.2 205.5v2.8M48.9 205.5v2.8M66.6 205.5v2.8M75.6 205.5v2.8M82.0 205.5v2.8M87.0 205.5v2.8M91.0 205.5v2.8M94.5 205.5v2.8M97.4 205.5v2.8M100.1 205.5v2.8M117.8 205.5v2.8M126.8 205.5v2.8M133.2 205.5v2.8M138.2 205.5v2.8M142.2 205.5v2.8M145.7 205.5v2.8M148.6 205.5v2.8M151.3 205.5v2.8M169.0 205.5v2.8M178.0 205.5v2.8M184.4 205.5v2.8M189.4 205.5v2.8M193.4 205.5v2.8M196.9 205.5v2.8M199.8 205.5v2.8M202.5 205.5v2.8M0 189.6h-3.5M0 180.7h-3.5M0 174.3h-3.5M0 169.4h-3.5M0 165.3h-3.5M0 161.9h-3.5M0 158.9h-3.5M0 156.3h-3.5M0 138.6h-3.5M0 129.7h-3.5M0 123.3h-3.5M0 118.4h-3.5M0 114.3h-3.5M0 110.9h-3.5M0 107.9h-3.5M0 105.3h-3.5M0 87.6h-3.5M0 78.7h-3.5M0 72.3h-3.5M0 67.4h-3.5M0 63.3h-3.5M0 59.9h-3.5M0 56.9h-3.5M0 54.3h-3.5M0 36.6h-3.5M0 27.7h-3.5M0 21.3h-3.5M0 16.4h-3.5M0 12.3h-3.5M0 8.9h-3.5M0 5.9h-3.5M0 3.3h-3.5" fill="none" stroke="#333" stroke-width="1.05"/><g font-family="'Liberation Sans', sans-serif" fill="#111" stroke="#111" stroke-width="0.3"><text transform="translate(3.6 222.9) scale(1 1.04)" font-size="7.4">10</text><text transform="translate(11.3 218.6) scale(1 1.04)" font-size="6.8">0</text><text transform="translate(51.6 222.9) scale(1 1.04)" font-size="7.4">10</text><text transform="translate(59.3 218.6) scale(1 1.04)" font-size="6.8">1</text><text transform="translate(102.8 222.9) scale(1 1.04)" font-size="7.4">10</text><text transform="translate(110.5 218.6) scale(1 1.04)" font-size="6.8">2</text><text transform="translate(154.0 222.9) scale(1 1.04)" font-size="7.4">10</text><text transform="translate(161.7 218.6) scale(1 1.04)" font-size="6.8">3</text><text transform="translate(196.3 222.9) scale(1 1.04)" font-size="7.4">10</text><text transform="translate(204.0 218.6) scale(1 1.04)" font-size="6.8">4</text><text transform="translate(-20.8 203.2) scale(1 1.04)" font-size="7.4">10</text><text transform="translate(-13.0 198.8) scale(1 1.04)" font-size="6.8">0</text><text transform="translate(-20.8 158.8) scale(1 1.04)" font-size="7.4">10</text><text transform="translate(-13.0 154.4) scale(1 1.04)" font-size="6.8">1</text><text transform="translate(-20.8 107.8) scale(1 1.04)" font-size="7.4">10</text><text transform="translate(-13.0 103.4) scale(1 1.04)" font-size="6.8">2</text><text transform="translate(-20.8 56.8) scale(1 1.04)" font-size="7.4">10</text><text transform="translate(-13.0 52.4) scale(1 1.04)" font-size="6.8">3</text><text transform="translate(-20.8 12.2) scale(1 1.04)" font-size="7.4">10</text><text transform="translate(-13.0 7.8) scale(1 1.04)" font-size="6.8">4</text></g><g font-family="'Liberation Sans', sans-serif" fill="#141414" stroke="#141414" stroke-width="0.55"><text transform="translate(7.0 36.4) scale(1 1.04)" font-size="30.6">8</text><text transform="translate(193.4 36.4) scale(1 1.04)" font-size="30.6" text-anchor="end">9</text><text transform="translate(5.1 199.8) scale(1 1.04)" font-size="30.6">79</text><text transform="translate(193.4 199.8) scale(1 1.04)" font-size="30.6" text-anchor="end">5</text></g></g>
<g transform="translate(1889.3,613.0)"><g fill="none" stroke-width="1" transform="scale(1.36) translate(-0.5,0.0)"><path d="M88 52h1m2 2h1m-13 1h1m3 1h1m5 0h1m3 0h1m-11 1h1m12 0h1m-19 1h1m10 0h1m2 0h1m-4 2h2m5 0h1m-12 1h1m19 0h1m-19 1h2m-21 1h1m12 0h1m1 0h1m2 0h1m2 0h1m11 0h1m-30 1h1m3 0h1m25 0h2m-5 1h1m11 0h1m-27 1h1m16 0h2m2 0h1m-5 1h1m-55 1h1m60 0h1m-30 1h2m17 0h1m5 0h1m1 0h1m-56 1h1m20 0h1m5 0h1m1 0h1m24 0h1m-33 1h1m5 1h1m16 0h1m3 0h2m-24 1h1m31 0h1m-47 1h3m-5 1h1m6 0h1m7 0h1m22 0h1m2 0h1m7 0h1m-40 1h1m1 0h1m28 0h1m-44 1h1m36 0h1m11 0h1m-8 1h1m1 0h1m-29 1h1m3 0h2m17 0h1m7 0h1m-49 1h1m19 0h3m2 0h1m1 0h1m8 0h1m2 0h1m-43 1h1m16 0h1m16 0h1m1 0h1m22 0h1m-70 1h1m18 0h1m10 0h1m6 0h1m6 0h1m1 0h1m1 0h2m3 0h1m-40 1h1m18 0h1m6 0h1m2 0h1m-27 1h1m5 0h1m18 0h1m3 0h1m1 0h1m4 0h1m-35 1h1m24 0h1m5 0h2m3 0h1m-10 1h2m8 0h1m-39 1h1m14 0h1m-25 1h1m5 0h1m3 0h1m9 0h1m12 0h1m-31 1h1m8 0h1m13 0h1m-9 1h1m6 0h1m12 0h1m-27 1h1m11 0h1m17 0h1m6 0h1m15 0h1m-62 1h1m2 0h1m4 0h1m6 0h1m10 0h2m1 0h1m-22 1h1m3 0h1m21 0h3m6 0h1m-52 1h1m8 0h1m2 0h1m2 0h1m5 0h1m8 0h1m1 0h1m3 0h1m5 0h1m-53 1h1m10 0h1m30 0h2m-30 1h1m15 0h2m3 0h1m5 0h1m10 0h1m7 0h1m-21 1h1m4 0h2m2 0h1m14 0h2m-83 1h1m8 0h1m23 0h1m4 0h1m9 0h1m10 0h1m11 0h1m2 0h1m6 0h1m4 0h1m-69 1h1m22 0h1m22 0h1m1 0h1m5 0h1m4 0h3m-66 1h1m15 0h1m13 0h1m2 0h1m4 0h1m11 0h1m1 0h3m8 0h1m2 0h1m-17 1h1m9 0h3m-12 1h1m1 0h1m1 0h1m1 0h1m3 0h1m6 0h1m-100 1h1m25 0h1m10 0h1m10 0h1m12 0h1m15 0h1m3 0h1m1 0h1m7 0h1m-74 1h1m42 0h1m7 0h1m2 0h1m13 0h1m2 0h1m2 0h1m-67 1h1m51 0h1m1 0h1m1 0h1m3 0h1m7 0h1m5 0h1m-73 1h1m20 0h1m22 0h1m3 0h1m13 0h1m1 0h1m8 0h1m-21 1h1m2 0h1m17 0h1m-48 1h1m2 0h1m8 0h1m1 0h1m8 0h1m4 0h1m-60 1h1m26 0h1m13 0h1m9 0h1m1 0h1m3 0h1m3 0h2m5 0h1m-25 1h1m1 0h1m4 0h2m3 0h2m7 0h1m-96 1h1m83 0h1m7 0h1m-38 1h1m12 0h1m4 0h1m-19 1h1m2 0h1m2 0h1m6 0h1m2 0h1m1 0h1m6 0h1m10 0h2m3 0h1m-67 1h1m44 0h1m3 0h1m5 0h1m-31 1h1m10 0h1m4 0h1m4 0h1m29 0h2m-80 1h1m25 0h1m39 0h1m-61 1h1m9 0h1m12 0h1m3 0h1m6 0h1m6 0h2m1 0h1m10 0h1m4 0h1m12 0h1m-66 1h1m16 0h1m9 0h1m4 0h1m7 0h2m4 0h1m2 0h2m3 0h1m2 0h1m4 0h1m-56 1h1m16 0h1m6 0h1m4 0h1m3 0h1m11 0h2m3 0h1m-31 1h2m12 0h1m4 0h1m2 0h1m9 0h1m-61 1h1m17 0h1m17 0h1m13 0h1m1 0h1m4 0h1m-47 1h1m7 0h1m1 0h1m3 0h1m17 0h1m4 0h1m16 0h1m4 0h1m-72 1h1m31 0h2m4 0h1m1 0h2m23 0h1m-74 1h1m15 0h1m34 0h1m1 0h2m-16 1h1m3 0h1m6 0h1m5 0h2m1 0h1m4 0h1m-56 1h1m25 0h1m-23 1h1m11 0h1m3 0h1m14 0h2m2 0h1m5 0h1m2 0h2m1 0h1m1 0h1m-82 1h1m26 0h1m7 0h1m2 0h1m3 0h2m4 0h1m3 0h1m1 0h2m1 0h1m5 0h2m2 0h1m5 0h1m12 0h1m-52 1h1m14 0h1m4 0h1m12 0h1m5 0h1m2 0h1m-53 1h1m4 0h2m3 0h1m12 0h1m1 0h1m1 0h1m4 0h2m8 0h1m4 0h1m11 0h1m-70 1h1m23 0h1m7 0h1m7 0h1m11 0h2m1 0h1m8 0h1m2 0h1m-56 1h1m5 0h1m2 0h1m1 0h1m1 0h2m10 0h1m6 0h1m1 0h1m8 0h1m2 0h1m17 0h1m-58 1h1m1 0h1m1 0h1m9 0h1m21 0h1m2 0h1m1 0h1m1 0h1m3 0h1m4 0h1m8 0h1m-80 1h1m5 0h1m18 0h1m6 0h1m11 0h1m24 0h1m-51 1h1m3 0h1m13 0h2m8 0h1m6 0h1m-47 1h1m1 0h1m9 0h1m17 0h1m2 0h1m12 0h1m28 0h1m-96 1h1m16 0h1m15 0h1m8 0h1m6 0h1m7 0h1m2 0h2m11 0h2m-56 1h1m6 0h1m1 0h1m8 0h1m16 0h1m8 0h1m-52 1h1m5 0h1m4 0h2m9 0h1m4 0h2m14 0h2m6 0h1m-49 1h1m2 0h1m1 0h1m8 0h1m14 0h1m8 0h1m9 0h1m15 0h1m-71 1h1m6 0h1m7 0h1m4 0h1m8 0h1m11 0h1m1 0h1m2 0h1m10 0h1m9 0h1m-59 1h1m3 0h1m3 0h1m1 0h1m8 0h1m28 0h1m-55 1h1m12 0h1m7 0h2m6 0h1m6 0h1m3 0h1m11 0h1m-54 1h1m18 0h1m3 0h2m10 0h1m14 0h1m-80 1h1m14 0h1m3 0h1m14 0h1m18 0h1m4 0h1m11 0h1m3 0h1m18 0h1m-66 1h1m2 0h1m24 0h1m4 0h2m7 0h1m7 0h1m-60 1h1m8 0h1m4 0h1m12 0h1m1 0h1m11 0h1m18 0h1m6 0h1m-50 1h2m9 0h1m3 0h1m4 0h1m38 0h1m-64 1h1m10 0h1m4 0h1m2 0h1m12 0h1m2 0h1m1 0h1m-66 1h1m10 0h1m18 0h1m5 0h1m6 0h1m3 0h1m2 0h1m4 0h1m5 0h1m3 0h1m9 0h1m2 0h1m7 0h1m8 0h1" stroke="#7a7a7a"/><path d="M91 49h1m-10 1h1m2 3h1m14 0h1m1 0h1m-24 3h1m8 0h1m5 0h1m-20 1h1m13 0h1m7 0h2m1 0h1m4 0h1m-30 1h1m20 0h1m4 0h1m-27 1h1m2 0h1m20 0h1m15 0h1m-62 1h1m35 0h3m5 0h1m3 0h1m-17 1h1m6 0h2m10 0h2m-39 1h1m16 0h1m3 0h1m5 0h2m-2 1h1m8 0h2m-28 1h1m2 0h3m1 0h2m11 0h1m4 0h1m-39 1h1m9 0h1m21 0h1m-23 1h1m1 0h1m1 0h2m18 0h1m3 0h2m-38 1h1m2 0h1m6 0h1m1 0h2m-6 1h1m2 0h1m24 0h1m2 0h2m-32 1h1m28 0h1m2 0h1m-81 1h1m35 0h1m10 0h2m26 0h1m-49 1h1m16 0h1m10 0h1m17 0h1m2 0h1m6 0h1m-39 1h1m4 0h1m24 0h4m-37 1h1m34 0h1m-71 1h1m25 0h1m13 0h1m6 0h1m19 0h2m-43 1h1m17 0h1m21 0h1m6 0h1m-47 1h1m7 0h1m4 0h2m1 0h1m1 0h1m20 0h1m-32 1h1m4 0h1m2 0h1m2 0h2m23 0h1m-54 1h1m21 0h1m5 0h2m18 0h1m1 0h1m-32 1h3m4 0h1m5 0h1m7 0h1m1 0h1m-42 1h1m15 0h1m5 0h1m10 0h1m1 0h1m-14 1h1m4 0h1m4 0h1m1 0h1m7 0h1m3 0h1m-32 1h1m15 0h2m11 0h1m1 0h1m-35 1h2m13 0h1m1 0h2m7 0h1m7 0h1m6 0h1m-67 1h1m22 0h1m1 0h2m6 0h1m1 0h1m1 0h2m4 0h1m-10 1h1m2 0h2m5 0h1m7 0h1m1 0h1m4 0h1m-50 1h1m8 0h1m15 0h2m2 0h2m9 0h1m3 0h1m3 0h1m-76 1h1m16 0h1m8 0h1m39 0h2m2 0h1m1 0h1m-39 1h1m1 0h1m23 0h2m3 0h1m7 0h2m8 0h1m-51 1h1m6 0h1m8 0h1m1 0h1m3 0h2m2 0h1m6 0h2m18 0h1m-49 1h1m5 0h1m6 0h2m7 0h1m3 0h1m2 0h1m2 0h1m5 0h1m4 0h1m-44 1h1m6 0h1m1 0h1m9 0h1m4 0h1m9 0h1m13 0h1m-55 1h1m1 0h1m10 0h1m5 0h1m3 0h1m1 0h1m7 0h2m2 0h1m1 0h1m3 0h1m2 0h1m6 0h1m-51 1h1m12 0h1m4 0h1m7 0h1m3 0h1m1 0h1m4 0h1m-63 1h1m22 0h1m15 0h1m2 0h1m8 0h1m5 0h1m2 0h1m-28 1h1m8 0h1m2 0h1m2 0h1m4 0h1m2 0h1m1 0h1m2 0h2m9 0h1m-42 1h1m3 0h1m10 0h1m2 0h1m5 0h2m1 0h1m2 0h2m1 0h2m-45 1h1m6 0h1m4 0h1m5 0h1m17 0h2m1 0h2m5 0h1m-70 1h1m5 0h1m14 0h1m12 0h1m2 0h1m5 0h2m7 0h1m1 0h1m3 0h1m1 0h1m7 0h1m3 0h1m-60 1h1m4 0h1m30 0h1m3 0h1m5 0h2m1 0h1m5 0h1m-59 1h1m10 0h1m35 0h1m15 0h1m1 0h1m3 0h1m-62 1h1m7 0h1m5 0h2m12 0h3m1 0h1m8 0h2m3 0h1m4 0h1m2 0h1m8 0h1m-105 1h1m14 0h1m8 0h1m26 0h2m16 0h1m6 0h1m21 0h1m-65 1h1m17 0h2m9 0h1m3 0h1m9 0h1m2 0h1m17 0h1m-72 1h1m16 0h1m5 0h1m3 0h1m13 0h1m10 0h1m1 0h1m1 0h1m14 0h1m-108 1h1m61 0h1m6 0h2m1 0h1m2 0h2m1 0h1m2 0h2m3 0h1m4 0h1m3 0h1m1 0h1m5 0h1m-100 1h1m61 0h1m3 0h2m3 0h3m2 0h1m11 0h2m6 0h1m1 0h1m11 0h1m-55 1h1m6 0h1m5 0h1m3 0h1m2 0h1m1 0h1m4 0h1m1 0h1m2 0h1m2 0h1m-61 1h1m30 0h1m11 0h1m1 0h2m5 0h1m5 0h1m3 0h2m5 0h3m-92 1h1m31 0h1m4 0h1m12 0h4m5 0h1m2 0h1m2 0h2m1 0h1m1 0h1m9 0h1m5 0h2m1 0h1m2 0h1m-97 1h1m51 0h1m4 0h1m3 0h1m6 0h1m5 0h1m5 0h3m-29 1h1m2 0h1m4 0h2m2 0h1m3 0h1m1 0h1m3 0h1m2 0h1m7 0h1m1 0h3m-74 1h1m19 0h1m3 0h1m1 0h1m5 0h1m2 0h1m15 0h2m4 0h1m2 0h1m3 0h2m6 0h2m3 0h1m4 0h1m-48 1h3m6 0h1m14 0h1m5 0h3m-97 1h1m2 0h1m7 0h1m55 0h1m11 0h1m1 0h1m1 0h1m3 0h1m5 0h1m1 0h3m2 0h2m-45 1h1m8 0h1m3 0h1m8 0h1m1 0h2m5 0h1m12 0h1m-46 1h1m12 0h1m1 0h1m3 0h4m1 0h1m1 0h1m4 0h2m7 0h2m4 0h1m-75 1h1m21 0h1m3 0h1m9 0h1m7 0h1m11 0h2m1 0h1m4 0h1m10 0h1m5 0h1m-98 1h1m10 0h1m37 0h1m5 0h1m4 0h3m1 0h1m11 0h1m2 0h1m9 0h2m-55 1h1m4 0h1m3 0h1m19 0h2m3 0h1m20 0h1m1 0h1m6 0h1m-68 1h1m30 0h1m1 0h1m2 0h1m3 0h1m10 0h1m6 0h1m4 0h1m-72 1h1m8 0h1m7 0h1m8 0h1m3 0h2m5 0h2m3 0h2m2 0h1m3 0h1m1 0h1m5 0h1m17 0h1m-89 1h1m19 0h1m20 0h1m1 0h1m1 0h1m3 0h1m1 0h2m2 0h1m27 0h1m-74 1h1m10 0h1m6 0h1m2 0h1m1 0h1m2 0h1m5 0h1m1 0h2m15 0h1m1 0h1m2 0h1m1 0h2m2 0h2m2 0h1m-48 1h1m5 0h1m2 0h2m1 0h2m2 0h1m4 0h1m4 0h1m1 0h1m2 0h1m4 0h1m1 0h3m2 0h1m12 0h1m-95 1h1m28 0h1m3 0h2m2 0h2m2 0h1m5 0h1m2 0h1m1 0h1m2 0h1m6 0h2m2 0h1m4 0h1m26 0h1m-82 1h1m16 0h1m3 0h1m1 0h2m4 0h1m1 0h3m2 0h1m3 0h2m6 0h1m2 0h2m1 0h2m6 0h2m-58 1h1m4 0h1m9 0h1m5 0h1m2 0h1m1 0h1m5 0h1m12 0h1m11 0h1m3 0h1m1 0h1m3 0h1m3 0h1m-61 1h1m2 0h3m2 0h1m4 0h2m7 0h1m1 0h1m1 0h1m3 0h1m7 0h2m4 0h1m2 0h1m1 0h1m-67 1h1m21 0h1m12 0h1m2 0h1m6 0h1m7 0h1m7 0h2m5 0h1m6 0h1m-61 1h1m5 0h1m4 0h1m7 0h1m10 0h1m1 0h1m4 0h1m4 0h1m5 0h1m3 0h2m1 0h1m1 0h1m-70 1h1m5 0h1m4 0h1m1 0h2m4 0h2m9 0h2m4 0h1m2 0h5m8 0h1m-61 1h1m19 0h1m8 0h1m12 0h1m3 0h1m11 0h1m4 0h1m2 0h1m-50 1h2m6 0h1m10 0h1m2 0h1m2 0h1m3 0h1m3 0h1m1 0h1m1 0h2m1 0h2m3 0h1m-63 1h1m9 0h1m4 0h1m1 0h1m1 0h1m1 0h1m4 0h1m2 0h1m3 0h1m3 0h1m5 0h2m2 0h2m1 0h2m3 0h3m-71 1h1m11 0h1m1 0h1m10 0h1m1 0h1m2 0h1m1 0h1m15 0h1m8 0h3m1 0h1m3 0h1m2 0h1m3 0h1m2 0h3m-59 1h1m10 0h1m8 0h2m3 0h1m6 0h1m12 0h2m1 0h1m5 0h1m2 0h1m1 0h2m4 0h1m-57 1h1m20 0h1m3 0h1m2 0h1m8 0h1m1 0h1m1 0h1m1 0h1m1 0h1m6 0h2m-84 1h1m5 0h1m1 0h1m23 0h1m5 0h1m6 0h1m6 0h4m1 0h2m2 0h1m8 0h2m1 0h1m7 0h1m-72 1h1m9 0h1m12 0h1m1 0h2m12 0h2m4 0h1m2 0h1m4 0h1m5 0h1m4 0h1m1 0h1m-76 1h1m9 0h1m18 0h1m9 0h1m1 0h1m2 0h1m4 0h1m2 0h2m1 0h2m1 0h1m3 0h1m1 0h1m21 0h1m13 0h1m-91 1h2m2 0h1m9 0h1m2 0h1m1 0h1m4 0h1m1 0h2m5 0h3m5 0h1m1 0h1m3 0h1m13 0h1m5 0h1m-76 1h1m3 0h1m16 0h2m10 0h2m2 0h1m4 0h1m2 0h1m3 0h1m2 0h1m2 0h2m5 0h1m1 0h4m-64 1h1m8 0h1m2 0h3m5 0h1m16 0h1m10 0h1m5 0h1m3 0h2m1 0h1m5 0h1m-82 1h1m6 0h1m2 0h1m3 0h1m10 0h1m2 0h1m4 0h5m1 0h1m5 0h1m7 0h1m8 0h1m2 0h2m4 0h1m9 0h1m2 0h1m2 0h1m-86 1h1m14 0h1m5 0h1m9 0h1m2 0h1m3 0h1m1 0h1m6 0h1m19 0h1m-76 1h1m23 0h1m25 0h1m1 0h1m19 0h1m9 0h2m2 0h1m-87 1h1m9 0h1m23 0h2m1 0h1m11 0h1m11 0h1m1 0h1m3 0h1m7 0h2m-46 1h1m8 0h1m2 0h1m1 0h1m1 0h1m3 0h1m8 0h1m-43 1h1m38 0h1m14 0h1m3 0h1m3 0h1m5 0h1m-87 1h1m7 0h1m6 0h1m3 0h1m7 0h3m4 0h1m1 0h1m7 0h1m8 0h2m6 0h1m5 0h3m2 0h1m6 0h1m2 0h1m3 0h1m7 0h1" stroke="#2a2a2a"/><path d="M98 58h1m-11 1h1m8 0h1m-4 1h1m2 0h1m10 0h1m-26 1h1m4 0h2m2 0h2m2 0h2m-9 1h1m1 0h5m-11 1h1m1 0h2m1 0h6m1 0h4m3 0h1m-20 1h1m2 0h9m1 0h1m1 0h1m-18 1h3m1 0h11m2 0h1m2 0h1m-22 1h3m1 0h14m1 0h1m-19 1h1m1 0h17m1 0h2m-25 1h2m1 0h20m-21 1h17m1 0h2m1 0h1m-37 1h1m12 0h1m1 0h22m-27 1h1m3 0h3m1 0h17m1 0h2m-22 1h14m1 0h3m-19 1h1m1 0h18m2 0h1m-25 1h3m1 0h17m1 0h1m-21 1h19m2 0h1m-22 1h20m1 0h1m-27 1h1m6 0h14m1 0h2m-27 1h1m6 0h1m2 0h14m1 0h1m1 0h1m5 0h1m-29 1h1m3 0h2m2 0h2m1 0h4m1 0h1m1 0h3m1 0h1m-29 1h1m2 0h1m2 0h1m3 0h1m2 0h1m2 0h1m1 0h5m2 0h1m1 0h2m-33 1h1m8 0h1m1 0h1m2 0h1m1 0h2m1 0h1m1 0h1m1 0h1m1 0h1m1 0h1m1 0h1m-18 1h3m5 0h2m1 0h1m1 0h1m2 0h1m9 0h1m-19 1h1m1 0h1m2 0h1m2 0h2m1 0h1m2 0h1m-18 1h2m2 0h3m4 0h2m-28 1h1m16 0h1m3 0h1m2 0h1m8 0h1m-32 1h1m-4 2h1m12 0h1m3 0h1m4 0h1m4 0h1m2 1h1m-30 1h1m1 0h1m6 0h1m7 0h1m7 0h1m-28 1h1m9 0h1m4 0h3m-18 1h1m7 0h1m-8 2h1m26 0h1m-38 1h1m29 0h1m3 0h2m5 0h1m-28 1h1m11 0h1m11 0h1m-23 1h1m6 0h1m10 0h1m-7 1h1m5 0h2m-16 1h1m7 0h1m1 0h1m9 0h1m-21 1h1m4 0h1m-1 1h1m1 0h1m-3 1h1m5 0h1m3 0h1m8 0h1m-24 1h1m2 0h1m1 0h1m1 0h1m3 0h2m3 0h1m-19 1h1m1 0h1m2 0h2m1 0h2m1 0h1m1 0h1m5 0h1m-21 1h1m2 0h1m7 0h1m9 0h3m-28 1h1m11 0h1m2 0h1m6 0h1m-6 1h1m3 0h1m1 0h2m-16 1h1m9 0h1m1 0h2m3 0h1m-21 1h1m9 0h1m1 0h1m2 0h1m2 0h1m-26 2h1m2 0h1m4 0h1m5 0h1m1 0h1m3 0h1m3 0h1m2 0h1m-28 1h2m5 0h1m5 0h1m1 0h2m1 0h1m4 0h1m2 0h1m1 0h1m-25 1h1m2 0h1m5 0h1m5 0h1m-23 1h1m8 0h1m5 0h1m4 0h1m1 0h1m6 0h1m-21 1h1m4 0h1m6 0h2m1 0h1m2 0h2m-25 1h1m7 0h1m1 0h1m6 0h1m-20 1h1m9 0h1m1 0h1m4 0h2m4 0h1m6 0h1m-36 1h1m4 0h1m6 0h1m1 0h1m6 0h1m2 0h1m3 0h1m3 0h1m-29 1h1m2 0h1m2 0h1m3 0h1m6 0h1m1 0h2m-34 1h1m5 0h1m15 0h2m1 0h2m2 0h1m1 0h1m1 0h2m1 0h1m-51 1h1m14 0h1m7 0h1m2 0h1m1 0h2m3 0h2m3 0h1m2 0h1m16 0h1m-45 1h1m13 0h1m6 0h2m1 0h1m1 0h2m3 0h1m2 0h1m1 0h1m5 0h1m2 0h1m-35 1h1m6 0h4m4 0h2m2 0h1m4 0h1m2 0h1m-43 1h1m2 0h1m12 0h1m6 0h1m12 0h1m5 0h1m2 0h1m2 0h1m-37 1h1m11 0h1m13 0h1m-39 1h1m7 0h1m1 0h1m6 0h1m4 0h1m2 0h1m7 0h1m5 0h2m4 0h1m1 0h1m-42 1h1m1 0h1m4 0h1m3 0h1m1 0h2m2 0h1m6 0h1m-25 1h2m9 0h1m8 0h1m3 0h4m11 0h1m-43 1h1m6 0h1m2 0h2m2 0h1m2 0h2m1 0h1m12 0h2m2 0h1m-39 1h1m2 0h1m4 0h1m4 0h2m4 0h4m1 0h1m2 0h2m5 0h1m1 0h1m-38 1h1m2 0h1m4 0h4m2 0h1m4 0h2m11 0h1m2 0h1m-27 1h1m1 0h1m2 0h1m7 0h1m1 0h2m-26 1h2m3 0h2m2 0h1m1 0h1m2 0h1m4 0h1m-26 1h1m1 0h1m1 0h2m4 0h2m3 0h1m2 0h1m2 0h1m11 0h1m5 0h1m-44 1h1m5 0h1m1 0h1m6 0h3m2 0h3m3 0h1m4 0h1m5 0h1m7 0h1m10 0h1m-50 1h1m4 0h1m3 0h1m1 0h1m2 0h1m3 0h2m1 0h2m1 0h1m2 0h1m4 0h1m-52 1h1m15 0h1m4 0h1m1 0h5m1 0h1m3 0h1m3 0h1m2 0h2m2 0h2m7 0h1m7 0h1m-41 1h1m2 0h2m1 0h1m3 0h2m10 0h1m-33 1h1m1 0h1m4 0h1m2 0h1m1 0h1m4 0h2m2 0h1m1 0h1m8 0h1m2 0h2m4 0h2m-52 1h1m14 0h1m1 0h1m2 0h1m1 0h1m8 0h1m8 0h1m2 0h1m18 0h1m-51 1h1m17 0h1m9 0h1m-30 1h1m5 0h1m4 0h2m2 0h1m2 0h1m2 0h1m3 0h1m8 0h1m5 0h1m-48 1h1m6 0h1m2 0h2m6 0h1m12 0h1m7 0h1m-28 1h1m4 0h3m2 0h1m4 0h1m9 0h1m-65 1h1m20 0h1m3 0h1m3 0h2m2 0h1m4 0h1m1 0h1m4 0h1m4 0h1m30 0h1m-56 1h2m4 0h1m5 0h1m5 0h1m10 0h1m1 0h1m7 0h1m-48 1h1m2 0h1m7 0h1m4 0h1m8 0h1m4 0h1m13 0h1m-35 1h1m6 0h1m12 0h1m13 0h1m-32 1h1m-25 1h1m1 0h1m5 0h1m3 0h2m5 0h3m2 0h2m2 0h2m1 0h2m5 0h4m2 0h3m6 0h1m2 0h4m7 0h1m4 0h1" stroke="#000"/></g><g fill="none" stroke-width="1" transform="scale(1.36) translate(0.0,0.5)"><path d="M79 50h1m2 2h1m-15 2h1m21 1h1m1 0h1m12 1h1m-21 1h1m-10 1h1m11 0h1m3 0h1m2 0h1m8 0h1m-21 1h1m9 0h1m2 0h1m-9 1h1m1 1h1m4 0h1m1 0h1m-31 1h1m19 0h1m7 0h1m-19 1h1m-3 1h1m20 0h1m13 0h1m-39 1h1m2 0h1m25 0h1m1 0h2m6 0h1m-33 1h1m17 0h2m-42 1h1m23 0h1m29 0h1m4 0h1m-46 1h2m38 0h1m-13 1h1m6 0h1m-56 1h1m24 0h1m2 0h1m20 0h1m1 0h1m1 0h1m2 0h1m-31 1h1m23 0h1m-40 1h1m8 0h1m-5 1h1m32 0h1m-25 1h2m28 0h1m-4 1h1m-40 1h1m8 0h1m28 0h1m-29 1h1m2 0h1m17 0h1m2 0h1m5 0h1m-48 1h1m5 0h1m33 0h1m1 0h1m-39 1h1m1 0h1m1 0h3m11 0h1m17 0h2m-43 1h1m12 0h1m4 0h1m4 0h3m-3 1h1m5 0h1m3 0h1m-12 1h2m-25 1h1m26 0h2m3 0h1m10 0h1m-31 1h1m8 0h1m2 0h1m9 0h1m2 0h1m5 0h1m5 0h1m-94 1h1m57 0h1m21 0h1m-40 1h1m28 0h1m-16 1h1m16 0h1m3 0h1m14 0h1m-65 1h1m14 0h1m5 0h1m9 0h1m3 0h1m3 0h1m9 0h1m2 0h1m11 0h1m-30 1h1m7 0h1m-2 1h1m2 0h2m4 0h1m-34 1h1m3 0h1m2 0h1m4 0h1m16 0h1m-22 1h1m14 0h1m16 0h2m-54 1h1m14 0h1m30 0h1m-92 1h1m64 0h1m2 0h2m28 0h1m12 0h1m-66 1h1m17 0h2m14 0h1m2 0h1m8 0h1m5 0h1m-70 1h1m26 0h1m2 0h1m19 0h1m16 0h1m5 0h1m-53 1h1m4 0h1m32 0h1m9 0h1m-63 1h1m22 0h1m21 0h1m16 0h1m-18 1h1m2 0h2m3 0h1m7 0h1m-21 1h1m5 0h2m6 0h3m3 0h1m13 0h1m-45 1h1m3 0h2m2 0h1m14 0h1m2 0h1m9 0h1m-87 1h1m40 0h1m13 0h1m8 0h3m16 0h1m-26 1h1m8 0h1m4 0h1m1 0h1m1 0h1m4 0h1m3 0h1m3 0h1m-46 1h1m8 0h1m6 0h1m12 0h1m3 0h2m13 0h1m-70 1h1m30 0h1m7 0h1m9 0h1m3 0h1m-47 1h1m9 0h1m10 0h1m1 0h1m12 0h2m14 0h1m12 0h1m-32 1h1m6 0h2m3 0h1m9 0h1m-86 1h1m9 0h1m24 0h1m8 0h1m1 0h1m15 0h1m11 0h1m-46 1h1m14 0h1m6 0h1m2 0h1m18 0h1m1 0h1m-76 1h1m14 0h1m20 0h1m1 0h1m11 0h1m1 0h1m14 0h1m1 0h1m5 0h1m4 0h1m-79 1h1m25 0h1m10 0h1m12 0h1m4 0h1m9 0h1m2 0h1m15 0h1m-58 1h1m25 0h1m4 0h2m5 0h1m5 0h1m2 0h1m1 0h1m8 0h1m-36 1h1m1 0h2m10 0h1m5 0h2m4 0h1m-35 1h1m6 0h1m21 0h1m-14 1h1m7 0h1m4 0h1m2 0h1m-30 1h1m30 0h1m3 0h1m-83 1h1m45 0h1m-4 1h2m3 0h1m7 0h1m1 0h1m8 0h1m3 0h1m2 0h1m18 0h1m-72 1h1m15 0h1m13 0h1m9 0h2m1 0h1m2 0h1m13 0h1m11 0h1m-36 1h1m5 0h1m3 0h1m12 0h1m-67 1h1m17 0h1m3 0h1m21 0h1m26 0h1m-73 1h1m38 0h1m3 0h1m6 0h1m17 0h1m-47 1h1m9 0h1m5 0h1m3 0h1m4 0h1m1 0h3m8 0h1m-47 1h1m21 0h1m11 0h1m16 0h1m3 0h1m-73 1h1m18 0h1m11 0h1m1 0h1m1 0h1m2 0h1m2 0h1m17 0h1m-72 1h1m47 0h1m14 0h1m15 0h1m1 0h1m1 0h1m-63 1h1m6 0h1m7 0h1m6 0h1m15 0h1m1 0h2m1 0h1m4 0h1m9 0h1m7 0h1m1 0h1m-54 1h1m2 0h1m4 0h1m3 0h1m14 0h1m9 0h1m-46 1h1m7 0h1m4 0h1m2 0h1m2 0h1m8 0h3m-56 1h1m21 0h1m19 0h1m2 0h1m9 0h1m1 0h1m3 0h1m3 0h1m8 0h1m1 0h1m5 0h1m-52 1h1m30 0h1m3 0h1m22 0h1m-71 1h1m3 0h1m11 0h1m8 0h1m4 0h2m6 0h2m7 0h1m-46 1h1m17 0h1m9 0h1m3 0h1m-26 1h1m19 0h1m6 0h1m4 0h1m-50 1h1m4 0h1m5 0h1m5 0h1m16 0h1m10 0h1m5 0h1m2 0h1m2 0h1m4 0h2m-84 1h1m5 0h1m22 0h1m1 0h1m2 0h2m2 0h2m6 0h1m1 0h1m2 0h1m-20 1h1m4 0h3m9 0h1m4 0h1m18 0h1m1 0h1m2 0h1m-43 1h1m2 0h1m4 0h1m3 0h2m13 0h2m7 0h1m-44 1h1m7 0h1m10 0h2m1 0h1m6 0h1m9 0h1m-50 1h1m3 0h1m10 0h2m1 0h1m1 0h1m2 0h1m6 0h1m2 0h1m4 0h1m7 0h1m5 0h1m-47 1h2m3 0h1m7 0h1m12 0h1m5 0h1m3 0h1m9 0h1m13 0h1m-82 1h1m9 0h1m6 0h1m8 0h2m32 0h1m6 0h1m8 0h1m5 0h1m-86 1h1m35 0h1m34 0h1m16 0h1m-96 1h1m8 0h1m14 0h1m3 0h1m17 0h1m2 0h1m2 0h1m19 0h1m5 0h1m-58 1h1m15 0h1m5 0h1m21 0h1m-53 1h1m19 0h1m21 0h1m10 0h1m5 0h1m-62 1h1m1 0h1m9 0h1m5 0h1m2 0h1m3 0h1m1 0h1m1 0h1m2 0h1m5 0h1m8 0h1m4 0h1m1 0h1m-45 1h1m13 0h1m6 0h1m23 0h1m6 0h1m8 0h1m-81 1h1m19 0h2m6 0h1m33 0h1m-66 1h1m13 0h1m9 0h1m28 0h1m4 0h1m2 0h1m10 0h1m1 0h1m1 0h1" stroke="#7a7a7a"/><path d="M84 46h1m5 2h1m7 0h1m-8 1h1m-21 1h1m5 0h1m-9 1h1m12 0h1m23 0h1m-42 1h1m2 0h1m14 0h1m8 0h1m3 0h1m8 0h1m-25 1h1m5 0h1m7 0h1m-15 1h1m0 1h1m21 0h1m-44 1h1m24 0h1m9 0h1m7 0h1m-45 1h1m22 0h2m11 0h2m4 0h1m-28 1h1m5 0h1m19 0h1m-20 1h1m6 0h1m2 0h1m5 0h1m-38 1h1m21 0h1m3 0h1m3 0h1m4 0h2m5 0h1m7 0h2m-35 1h2m3 0h2m1 0h1m6 0h1m6 0h1m8 0h1m-28 1h1m4 0h1m1 0h1m1 0h1m9 0h1m-5 1h1m-32 1h1m16 0h1m18 0h1m2 0h1m-31 1h1m5 0h1m19 0h1m-39 1h1m2 0h1m33 0h1m6 0h1m-38 1h1m9 0h2m22 0h1m4 0h1m-36 1h1m2 0h1m2 0h1m20 0h2m3 0h1m-49 1h1m5 0h1m11 0h1m3 0h1m24 0h1m-36 1h1m29 0h1m3 0h1m-50 1h1m5 0h1m8 0h1m9 0h2m21 0h1m7 0h1m3 0h1m-37 1h1m2 0h1m16 0h2m1 0h1m-26 1h1m21 0h1m2 0h1m1 0h2m3 0h1m-56 1h1m15 0h1m8 0h1m3 0h1m20 0h1m-57 1h1m9 0h1m3 0h2m3 0h1m6 0h1m3 0h1m3 0h1m3 0h1m14 0h1m-38 1h1m12 0h2m3 0h1m15 0h1m5 0h1m1 0h1m2 0h1m-59 1h1m10 0h1m2 0h1m14 0h1m20 0h2m-44 1h1m7 0h1m-12 1h1m13 0h1m4 0h1m2 0h2m3 0h1m5 0h2m4 0h1m-46 1h1m28 0h1m4 0h1m10 0h1m7 0h1m5 0h1m-65 1h1m22 0h1m4 0h2m7 0h1m10 0h2m1 0h2m2 0h1m1 0h1m3 0h1m-44 1h1m1 0h1m17 0h1m3 0h2m3 0h2m1 0h1m2 0h2m7 0h1m-36 1h1m12 0h3m4 0h1m4 0h1m4 0h1m-52 1h1m8 0h1m7 0h1m7 0h1m3 0h1m1 0h1m2 0h1m2 0h1m8 0h1m3 0h1m-39 1h1m3 0h1m1 0h1m4 0h1m7 0h1m2 0h1m1 0h1m2 0h1m3 0h1m-46 1h1m7 0h2m7 0h1m4 0h1m5 0h1m12 0h1m2 0h1m1 0h1m2 0h1m2 0h1m2 0h1m2 0h1m-50 1h1m1 0h1m2 0h1m3 0h1m2 0h1m8 0h1m1 0h1m2 0h1m1 0h2m3 0h4m4 0h1m2 0h2m-40 1h1m3 0h1m9 0h1m2 0h3m17 0h1m-94 1h1m27 0h1m7 0h1m11 0h1m23 0h1m4 0h1m2 0h2m7 0h1m1 0h1m-46 1h1m5 0h1m1 0h2m1 0h1m7 0h1m10 0h1m9 0h1m5 0h1m-62 1h1m5 0h1m15 0h1m4 0h1m8 0h1m7 0h1m2 0h1m3 0h1m1 0h1m5 0h2m2 0h1m1 0h1m-58 1h1m7 0h1m12 0h1m1 0h1m2 0h1m3 0h1m1 0h1m9 0h1m5 0h2m-49 1h1m3 0h1m3 0h1m2 0h1m2 0h1m3 0h1m7 0h1m2 0h1m7 0h1m4 0h1m2 0h1m-40 1h1m22 0h1m4 0h1m2 0h1m2 0h1m3 0h1m5 0h1m3 0h1m-44 1h1m12 0h2m4 0h2m2 0h1m6 0h1m4 0h3m-41 1h1m1 0h2m5 0h1m8 0h1m9 0h2m7 0h1m1 0h2m3 0h1m-55 1h1m21 0h1m13 0h1m4 0h1m2 0h1m2 0h1m8 0h2m2 0h1m-87 1h1m22 0h2m6 0h1m4 0h1m14 0h1m1 0h1m3 0h1m12 0h1m1 0h1m2 0h1m2 0h1m1 0h3m6 0h1m-60 1h1m6 0h1m12 0h1m8 0h1m1 0h1m6 0h1m2 0h1m5 0h1m5 0h1m-65 1h1m31 0h2m2 0h1m6 0h1m3 0h2m1 0h2m-27 1h1m10 0h1m3 0h1m13 0h1m2 0h1m5 0h1m-67 1h1m14 0h2m12 0h1m5 0h1m15 0h1m5 0h3m-53 1h1m1 0h1m24 0h1m2 0h1m1 0h1m6 0h1m-68 1h1m10 0h1m8 0h1m50 0h2m10 0h1m1 0h1m14 0h1m-86 1h1m25 0h1m11 0h1m8 0h1m1 0h1m1 0h1m3 0h3m5 0h1m2 0h3m4 0h1m-84 1h1m14 0h1m11 0h1m6 0h1m4 0h1m7 0h1m4 0h1m4 0h1m4 0h1m7 0h2m3 0h1m2 0h1m2 0h1m4 0h1m14 0h1m-69 1h1m12 0h2m8 0h2m3 0h1m9 0h1m1 0h1m1 0h2m1 0h1m1 0h1m1 0h1m2 0h1m1 0h1m-62 1h1m4 0h1m19 0h1m1 0h1m3 0h1m9 0h1m11 0h1m6 0h1m1 0h1m-74 1h1m41 0h2m4 0h1m4 0h1m6 0h1m1 0h1m1 0h1m7 0h1m-57 1h1m1 0h1m8 0h1m11 0h1m4 0h1m7 0h1m1 0h2m7 0h1m-54 1h1m32 0h2m12 0h2m7 0h1m6 0h1m-86 1h1m20 0h1m13 0h1m9 0h2m5 0h1m1 0h2m3 0h1m1 0h1m3 0h1m1 0h1m2 0h1m4 0h1m12 0h1m-76 1h1m28 0h1m1 0h3m23 0h1m11 0h1m-66 1h1m16 0h1m6 0h1m3 0h1m5 0h1m4 0h1m8 0h2m1 0h1m5 0h3m2 0h1m3 0h1m2 0h1m-91 1h1m46 0h2m7 0h2m5 0h1m1 0h1m6 0h1m6 0h1m3 0h2m2 0h1m-51 1h1m5 0h1m7 0h1m4 0h1m1 0h1m2 0h3m4 0h1m5 0h1m2 0h1m2 0h1m-45 1h1m4 0h1m8 0h1m5 0h1m10 0h1m7 0h2m1 0h1m1 0h1m1 0h4m-101 1h1m39 0h2m3 0h1m7 0h1m7 0h1m2 0h2m8 0h3m1 0h1m8 0h2m4 0h1m4 0h1m3 0h1m4 0h1m1 0h1m-55 1h1m2 0h1m3 0h2m2 0h1m14 0h1m2 0h3m1 0h1m2 0h2m9 0h1m-50 1h1m4 0h1m4 0h1m4 0h3m6 0h1m4 0h1m2 0h2m8 0h2m-49 1h1m3 0h1m2 0h1m1 0h1m1 0h1m2 0h1m2 0h1m3 0h1m2 0h1m4 0h2m1 0h1m1 0h1m4 0h1m2 0h1m1 0h1m11 0h1m-50 1h1m2 0h1m4 0h1m2 0h3m5 0h2m2 0h1m10 0h1m2 0h1m15 0h2m-56 1h1m1 0h1m3 0h2m1 0h2m1 0h1m7 0h1m9 0h1m3 0h1m3 0h1m1 0h2m-42 1h1m1 0h2m6 0h2m11 0h1m1 0h1m1 0h1m4 0h5m1 0h1m3 0h1m-53 1h1m4 0h1m14 0h1m8 0h1m1 0h1m2 0h3m6 0h1m7 0h1m7 0h1m-73 1h1m12 0h1m10 0h2m1 0h1m1 0h1m1 0h1m3 0h1m1 0h1m4 0h1m1 0h1m1 0h1m4 0h1m1 0h1m10 0h1m-48 1h1m1 0h1m9 0h1m2 0h2m3 0h4m3 0h1m4 0h2m4 0h1m10 0h2m1 0h1m-83 1h1m14 0h1m3 0h1m5 0h1m12 0h2m14 0h1m2 0h1m7 0h1m7 0h1m1 0h1m-59 1h2m2 0h1m9 0h2m4 0h1m1 0h1m2 0h2m6 0h1m6 0h1m8 0h1m8 0h1m-64 1h1m12 0h1m1 0h1m2 0h1m5 0h1m1 0h1m13 0h1m3 0h1m2 0h1m8 0h2m1 0h2m-53 1h1m1 0h1m3 0h1m3 0h1m3 0h1m10 0h1m5 0h2m2 0h1m4 0h1m3 0h2m2 0h3m1 0h1m6 0h1m1 0h1m-69 1h1m2 0h1m3 0h2m2 0h1m11 0h1m1 0h1m1 0h1m6 0h2m3 0h2m5 0h1m1 0h1m5 0h1m3 0h1m4 0h1m-60 1h1m4 0h1m2 0h1m1 0h1m4 0h1m11 0h1m7 0h1m6 0h1m7 0h1m2 0h2m7 0h1m4 0h1m2 0h1m-99 1h2m16 0h1m4 0h1m9 0h1m3 0h1m6 0h1m2 0h3m4 0h1m2 0h1m2 0h3m12 0h2m1 0h1m1 0h2m3 0h1m-83 1h1m14 0h1m1 0h1m10 0h1m3 0h2m3 0h1m1 0h1m1 0h4m9 0h1m3 0h1m2 0h1m1 0h1m5 0h1m2 0h1m1 0h2m12 0h1m-81 1h1m5 0h1m10 0h1m9 0h2m2 0h2m1 0h1m5 0h2m3 0h1m4 0h4m5 0h1m3 0h1m6 0h1m2 0h1m-92 1h1m8 0h1m16 0h1m10 0h1m2 0h1m13 0h1m1 0h1m5 0h1m7 0h1m2 0h1m1 0h2m3 0h1m8 0h1m-63 1h2m8 0h1m8 0h1m2 0h1m2 0h1m7 0h1m3 0h1m1 0h1m9 0h1m8 0h1m4 0h2m8 0h1m-85 1h1m12 0h1m14 0h2m10 0h1m11 0h1m5 0h1m1 0h1m9 0h1m1 0h1m8 0h1m1 0h1m4 0h1m-103 1h1m16 0h1m10 0h1m2 0h1m2 0h1m2 0h1m9 0h1m3 0h1m10 0h2m3 0h1m2 0h2m1 0h1m-61 1h1m12 0h1m12 0h3m2 0h1m3 0h1m2 0h3m3 0h1m5 0h1m9 0h1m2 0h1m25 0h1m-86 1h1m7 0h3m7 0h1m4 0h1m2 0h1m3 0h1m10 0h1m2 0h2m1 0h1m10 0h1m6 0h1m1 0h1m3 0h1m3 0h1m-82 1h1m14 0h1m3 0h1m2 0h1m6 0h1m7 0h1m3 0h1m7 0h1m4 0h1m10 0h1m4 0h1m2 0h1m5 0h1m-71 1h1m1 0h1m9 0h1m4 0h1m3 0h1m7 0h1m1 0h1m4 0h1m14 0h1m-62 1h1m14 0h2m3 0h1m1 0h1m3 0h1m18 0h1m9 0h1m1 0h3m14 0h1m-48 1h1m5 0h2m2 0h1m2 0h2m7 0h1m27 0h1m-62 1h1m1 0h1m5 0h1m8 0h1m18 0h1m6 0h1m5 0h1m18 0h1m-100 1h1m16 0h1m2 0h1m2 0h2m8 0h1m5 0h1m6 0h1m2 0h1m2 0h5m3 0h1m3 0h1m1 0h1m2 0h1m6 0h1m14 0h1m-67 1h1m7 0h1m1 0h1m1 0h2m3 0h2m23 0h1m-62 1h2m2 0h2m5 0h1m5 0h1m4 0h1m6 0h1m1 0h1m2 0h1m7 0h1m1 0h1m2 0h1m1 0h1m5 0h2m4 0h4m1 0h1m2 0h2m3 0h1m2 0h1m3 0h2m2 0h1" stroke="#2a2a2a"/><path d="M101 57h1m-16 2h1m8 0h1m-6 1h1m1 0h1m2 0h1m4 0h1m-16 1h1m1 0h4m1 0h1m1 0h1m4 0h1m1 0h1m2 0h1m-24 1h1m3 0h1m4 0h1m1 0h4m2 0h2m-17 1h12m1 0h1m1 0h3m-22 1h1m1 0h1m2 0h13m1 0h1m4 0h1m-21 1h17m3 0h1m-20 1h4m1 0h9m4 0h1m2 0h1m-23 1h21m-25 1h1m1 0h20m-23 1h1m3 0h18m1 0h2m-24 1h1m2 0h18m2 0h1m-21 1h17m1 0h2m3 0h1m-28 1h1m1 0h2m1 0h16m2 0h1m3 0h1m3 0h1m-44 1h1m11 0h21m1 0h1m5 0h1m-27 1h3m1 0h20m-38 1h1m4 0h1m7 0h2m2 0h3m1 0h12m1 0h1m1 0h1m-22 1h1m1 0h15m1 0h1m1 0h2m-21 1h14m1 0h2m-20 1h8m1 0h10m1 0h1m1 0h2m-19 1h5m2 0h4m6 0h1m-38 1h1m7 0h1m4 0h1m5 0h1m2 0h3m1 0h2m1 0h2m3 0h1m1 0h1m-32 1h1m17 0h1m1 0h1m1 0h2m2 0h1m3 0h1m3 0h1m-26 1h1m3 0h1m1 0h2m3 0h3m2 0h1m2 0h1m8 0h1m-14 1h4m1 0h1m-12 1h1m4 0h2m1 0h1m-20 1h1m1 0h1m10 0h1m1 0h2m-6 1h1m6 0h1m4 0h1m-17 1h1m4 0h1m1 0h1m9 0h1m-15 1h1m7 1h2m-22 1h1m6 0h1m8 0h1m1 0h1m3 0h1m-19 1h1m1 0h1m1 0h1m11 0h1m6 0h1m-56 1h1m18 0h1m18 0h1m9 0h1m-31 1h1m10 0h1m10 0h1m1 0h1m10 0h1m-28 1h1m18 0h1m2 0h1m-3 1h1m-6 1h1m-10 1h1m16 0h1m-12 1h1m1 0h1m2 0h1m3 0h2m2 0h1m-11 1h1m11 0h1m-31 1h1m9 0h1m19 0h1m-29 1h1m13 0h1m1 0h2m14 0h1m-28 1h2m2 0h1m11 0h1m10 0h1m-36 1h1m18 0h1m1 0h1m5 0h1m1 0h1m-17 1h1m2 0h1m3 0h2m9 0h1m-36 1h1m4 0h1m13 0h1m7 0h2m8 0h1m-13 1h1m-11 1h1m4 0h1m1 0h1m12 0h1m-41 1h1m20 0h1m3 0h3m2 0h1m1 0h2m-11 1h1m1 0h2m4 0h1m2 0h1m-1 1h1m7 0h1m-37 1h1m14 0h1m1 0h3m2 0h1m6 0h1m1 0h2m-31 1h1m3 0h1m13 0h1m1 0h1m3 0h1m-15 1h1m3 0h2m1 0h1m1 0h1m1 0h1m1 0h1m3 0h3m1 0h1m-32 1h1m9 0h1m2 0h1m1 0h4m1 0h1m6 0h2m16 0h1m-30 1h1m4 0h2m3 0h2m-19 1h1m1 0h2m3 0h2m1 0h1m1 0h1m1 0h1m3 0h1m-28 1h1m6 0h1m5 0h2m3 0h1m1 0h1m1 0h1m1 0h2m-21 1h1m12 0h1m-23 1h1m14 0h3m5 0h1m4 0h1m1 0h2m-40 1h1m13 0h2m6 0h1m2 0h1m2 0h1m1 0h1m5 0h1m1 0h2m-37 1h1m6 0h1m4 0h3m2 0h1m1 0h2m1 0h1m4 0h1m2 0h2m3 0h1m-38 1h1m8 0h1m14 0h1m4 0h1m2 0h2m1 0h2m6 0h1m-53 1h1m14 0h1m8 0h1m1 0h1m5 0h1m2 0h1m3 0h1m2 0h2m4 0h1m7 0h1m-48 1h1m8 0h1m1 0h1m4 0h2m4 0h2m6 0h1m19 0h1m-42 1h1m1 0h1m10 0h1m8 0h1m-39 1h2m17 0h2m5 0h1m2 0h1m5 0h2m1 0h1m1 0h2m2 0h1m-43 1h1m7 0h1m1 0h1m4 0h1m4 0h1m4 0h1m5 0h1m9 0h1m2 0h2m3 0h1m-52 1h1m2 0h1m1 0h1m2 0h1m8 0h1m3 0h5m3 0h1m4 0h2m3 0h1m9 0h1m-42 1h1m10 0h2m4 0h1m5 0h2m13 0h2m-43 1h1m1 0h1m6 0h1m1 0h1m3 0h1m3 0h1m11 0h1m2 0h2m2 0h1m-43 1h1m3 0h1m3 0h2m4 0h1m3 0h1m1 0h2m3 0h1m13 0h1m-23 1h1m8 0h3m8 0h1m2 0h1m-57 1h1m17 0h1m2 0h1m3 0h1m2 0h2m4 0h1m1 0h1m1 0h2m3 0h1m6 0h2m8 0h1m-54 1h1m4 0h2m4 0h2m3 0h1m3 0h2m4 0h1m1 0h1m5 0h1m5 0h1m2 0h1m3 0h1m-30 1h4m1 0h2m3 0h1m1 0h1m7 0h1m2 0h1m-28 1h1m2 0h1m6 0h1m2 0h1m1 0h2m4 0h1m1 0h1m1 0h1m2 0h1m-30 1h4m3 0h1m1 0h3m2 0h1m2 0h3m1 0h1m-17 1h1m6 0h1m7 0h2m6 0h1m3 0h1m5 0h1m-55 1h1m6 0h2m4 0h1m2 0h1m1 0h1m1 0h1m4 0h1m1 0h2m7 0h1m1 0h1m7 0h1m-40 1h2m12 0h1m1 0h1m2 0h1m-3 1h1m2 0h1m5 0h2m2 0h1m2 0h1m6 0h1m7 0h1m-70 1h1m20 0h1m2 0h1m3 0h1m1 0h1m2 0h1m3 0h2m2 0h2m15 0h1m-67 1h1m7 0h1m18 0h1m3 0h1m1 0h1m3 0h1m1 0h1m5 0h1m-33 1h1m22 0h1m12 0h1m3 0h1m3 0h1m7 0h1m1 0h1m-36 1h1m3 0h3m1 0h1m9 0h1m3 0h1m11 0h1m-28 1h1m21 0h1m7 0h1m-40 1h1m7 0h1m9 0h1m-2 1h1m-32 1h2m-33 1h1m20 0h1m2 0h1m1 0h1m3 0h1m1 0h3m1 0h1m1 0h2m2 0h3m1 0h2m1 0h1m1 0h2m1 0h1m1 0h2m1 0h1m5 0h1m7 0h2m3 0h1m3 0h1m3 0h1" stroke="#000"/></g><path d="M0 0H205.5V205.5" fill="none" stroke="#2a2a2a" stroke-width="1.45"/><path d="M0 0V205.5" fill="none" stroke="#666" stroke-width="1.3"/><path d="M-6 205.5H205.5" fill="none" stroke="#111" stroke-width="1.5"/><path d="M115.7 0V205.5" fill="none" stroke="#111" stroke-width="1.7"/><path d="M0 139.2H205.5" fill="none" stroke="#111" stroke-width="1.5"/><path d="M0.0 205.5v5.5M51.2 205.5v5.5M102.4 205.5v5.5M153.6 205.5v5.5M204.8 205.5v5.5M0 205.0h-6.5M0 154.0h-6.5M0 103.0h-6.5M0 52.0h-6.5M0 1.0h-6.5" fill="none" stroke="#111" stroke-width="1.4"/><path d="M15.4 205.5v2.8M24.4 205.5v2.8M30.8 205.5v2.8M35.8 205.5v2.8M39.8 205.5v2.8M43.3 205.5v2.8M46.2 205.5v2.8M48.9 205.5v2.8M66.6 205.5v2.8M75.6 205.5v2.8M82.0 205.5v2.8M87.0 205.5v2.8M91.0 205.5v2.8M94.5 205.5v2.8M97.4 205.5v2.8M100.1 205.5v2.8M117.8 205.5v2.8M126.8 205.5v2.8M133.2 205.5v2.8M138.2 205.5v2.8M142.2 205.5v2.8M145.7 205.5v2.8M148.6 205.5v2.8M151.3 205.5v2.8M169.0 205.5v2.8M178.0 205.5v2.8M184.4 205.5v2.8M189.4 205.5v2.8M193.4 205.5v2.8M196.9 205.5v2.8M199.8 205.5v2.8M202.5 205.5v2.8M0 189.6h-3.5M0 180.7h-3.5M0 174.3h-3.5M0 169.4h-3.5M0 165.3h-3.5M0 161.9h-3.5M0 158.9h-3.5M0 156.3h-3.5M0 138.6h-3.5M0 129.7h-3.5M0 123.3h-3.5M0 118.4h-3.5M0 114.3h-3.5M0 110.9h-3.5M0 107.9h-3.5M0 105.3h-3.5M0 87.6h-3.5M0 78.7h-3.5M0 72.3h-3.5M0 67.4h-3.5M0 63.3h-3.5M0 59.9h-3.5M0 56.9h-3.5M0 54.3h-3.5M0 36.6h-3.5M0 27.7h-3.5M0 21.3h-3.5M0 16.4h-3.5M0 12.3h-3.5M0 8.9h-3.5M0 5.9h-3.5M0 3.3h-3.5" fill="none" stroke="#333" stroke-width="1.05"/><g font-family="'Liberation Sans', sans-serif" fill="#111" stroke="#111" stroke-width="0.3"><text transform="translate(3.6 222.9) scale(1 1.04)" font-size="7.4">10</text><text transform="translate(11.3 218.6) scale(1 1.04)" font-size="6.8">0</text><text transform="translate(51.6 222.9) scale(1 1.04)" font-size="7.4">10</text><text transform="translate(59.3 218.6) scale(1 1.04)" font-size="6.8">1</text><text transform="translate(102.8 222.9) scale(1 1.04)" font-size="7.4">10</text><text transform="translate(110.5 218.6) scale(1 1.04)" font-size="6.8">2</text><text transform="translate(154.0 222.9) scale(1 1.04)" font-size="7.4">10</text><text transform="translate(161.7 218.6) scale(1 1.04)" font-size="6.8">3</text><text transform="translate(196.3 222.9) scale(1 1.04)" font-size="7.4">10</text><text transform="translate(204.0 218.6) scale(1 1.04)" font-size="6.8">4</text><text transform="translate(-20.8 203.2) scale(1 1.04)" font-size="7.4">10</text><text transform="translate(-13.0 198.8) scale(1 1.04)" font-size="6.8">0</text><text transform="translate(-20.8 158.8) scale(1 1.04)" font-size="7.4">10</text><text transform="translate(-13.0 154.4) scale(1 1.04)" font-size="6.8">1</text><text transform="translate(-20.8 107.8) scale(1 1.04)" font-size="7.4">10</text><text transform="translate(-13.0 103.4) scale(1 1.04)" font-size="6.8">2</text><text transform="translate(-20.8 56.8) scale(1 1.04)" font-size="7.4">10</text><text transform="translate(-13.0 52.4) scale(1 1.04)" font-size="6.8">3</text><text transform="translate(-20.8 12.2) scale(1 1.04)" font-size="7.4">10</text><text transform="translate(-13.0 7.8) scale(1 1.04)" font-size="6.8">4</text></g><g font-family="'Liberation Sans', sans-serif" fill="#141414" stroke="#141414" stroke-width="0.55"><text transform="translate(7.7 36.4) scale(1 1.04)" font-size="30.6">13</text><text transform="translate(194.1 36.4) scale(1 1.04)" font-size="30.6" text-anchor="end">37</text><text transform="translate(6.8 199.8) scale(1 1.04)" font-size="30.6">41</text><text transform="translate(194.1 199.8) scale(1 1.04)" font-size="30.6" text-anchor="end">9</text></g></g>
<g transform="translate(0,0)"><path d="M578 1243.2H1048" stroke="#111" stroke-width="3.2" stroke-linecap="round" stroke-dasharray="0 6.95" fill="none"/><path d="M605.8 1255.7V1224.7M594.4 1224.7H617.2" stroke="#111" stroke-width="3.5" stroke-linecap="round" fill="none"/><rect x="583.5" y="1255.5" width="44.6" height="73.5" fill="#0000fe" stroke="#111" stroke-width="3.5"/><path d="M674.2 1258.3V1213.6M662.8 1213.6H685.6" stroke="#111" stroke-width="3.5" stroke-linecap="round" fill="none"/><rect x="651.9" y="1258.0" width="44.6" height="71.0" fill="#0000fe" stroke="#111" stroke-width="3.5"/><path d="M742.6 1292.5V1272.0M731.2 1272.0H754.0" stroke="#111" stroke-width="3.5" stroke-linecap="round" fill="none"/><rect x="720.3" y="1292.2" width="44.6" height="36.8" fill="#0000fe" stroke="#111" stroke-width="3.5"/><path d="M810.8 1272.9V1251.6M799.4 1251.6H822.2" stroke="#111" stroke-width="3.5" stroke-linecap="round" fill="none"/><rect x="788.5" y="1272.7" width="44.6" height="56.3" fill="#23f511" stroke="#111" stroke-width="3.5"/><path d="M879.2 1263.9V1241.0M867.8 1241.0H890.6" stroke="#111" stroke-width="3.5" stroke-linecap="round" fill="none"/><rect x="856.9" y="1263.7" width="44.6" height="65.3" fill="#23f511" stroke="#111" stroke-width="3.5"/><path d="M947.6 1275.5V1260.8M936.2 1260.8H959.0" stroke="#111" stroke-width="3.5" stroke-linecap="round" fill="none"/><rect x="925.3" y="1275.2" width="44.6" height="53.8" fill="#23f511" stroke="#111" stroke-width="3.5"/><path d="M1016.2 1195.4V1138.5M1004.8 1138.5H1027.6" stroke="#111" stroke-width="3.5" stroke-linecap="round" fill="none"/><rect x="993.9" y="1195.2" width="44.6" height="133.8" fill="#fff" stroke="#111" stroke-width="3.5"/><path d="M571.2 986.1V1329.0M561.2 1329.0H1050.4" stroke="#111" stroke-width="3.6" fill="none"/><path d="M572 1329.1H561.2M572 1286.2H565.2M572 1243.3H561.2M572 1200.5H565.2M572 1157.6H561.2M572 1114.7H565.2M572 1071.8H561.2M572 1029.0H565.2M572 986.1H561.2M605.8 1329.0V1338.8M674.2 1329.0V1338.8M742.6 1329.0V1338.8M810.8 1329.0V1338.8M879.2 1329.0V1338.8M947.6 1329.0V1338.8M1016.2 1329.0V1338.8" stroke="#111" stroke-width="3.5" fill="none"/><g font-family="'Liberation Sans', sans-serif" fill="#141414" stroke="#141414" stroke-width="0.55"><text transform="translate(557.2 1341.0) scale(1 1.04)" font-size="33.5" text-anchor="end">0</text><text transform="translate(557.2 1255.2) scale(1 1.04)" font-size="33.5" text-anchor="end">1</text><text transform="translate(557.2 1169.5) scale(1 1.04)" font-size="33.5" text-anchor="end">2</text><text transform="translate(557.2 1083.8) scale(1 1.04)" font-size="33.5" text-anchor="end">3</text><text transform="translate(557.2 998.0) scale(1 1.04)" font-size="33.5" text-anchor="end">4</text><text transform="translate(605.5 1373.0) scale(1 1.04)" font-size="33.5" text-anchor="middle">1</text><text transform="translate(673.9 1373.0) scale(1 1.04)" font-size="33.5" text-anchor="middle">10</text><text transform="translate(742.3 1373.0) scale(1 1.04)" font-size="33.5" text-anchor="middle">30</text><text transform="translate(810.5 1373.0) scale(1 1.04)" font-size="33.5" text-anchor="middle">1</text><text transform="translate(878.9 1373.0) scale(1 1.04)" font-size="33.5" text-anchor="middle">10</text><text transform="translate(947.3 1373.0) scale(1 1.04)" font-size="33.5" text-anchor="middle">30</text><text transform="translate(671.7 1439.6) scale(1 1.04)" font-size="33.5" text-anchor="middle" textLength="155" lengthAdjust="spacing">Pep19-2.5</text><text transform="translate(676.0 1480.0) scale(1 1.04)" font-size="33.5" text-anchor="middle" textLength="107.5" lengthAdjust="spacing">(µg/ml)</text><text transform="translate(876.0 1439.6) scale(1 1.04)" font-size="33.5" text-anchor="middle" textLength="167" lengthAdjust="spacing">Pep19-4LF</text><text transform="translate(882.0 1480.0) scale(1 1.04)" font-size="33.5" text-anchor="middle" textLength="107.5" lengthAdjust="spacing">(µg/ml)</text><text transform="translate(450.4 1153.0) rotate(-90) scale(1 1.04)" font-size="33.5" text-anchor="middle" textLength="273" lengthAdjust="spacing">Annexin V positive</text><text transform="translate(488.4 1153.6) rotate(-90) scale(1 1.04)" font-size="33.5" text-anchor="middle" textLength="269" lengthAdjust="spacing">cells (fold change)</text><text transform="translate(1024.6 1374.6) scale(1 1.02)" font-size="26.4" text-anchor="middle" textLength="82.5" lengthAdjust="spacing">stauro-</text><text transform="translate(1025.0 1404.8) scale(1 1.02)" font-size="26.4" text-anchor="middle" textLength="85" lengthAdjust="spacing">sporine</text></g><path d="M585 1395.6H770.5M789.5 1395.6H975.4" stroke="#111" stroke-width="3.5" stroke-linecap="round" fill="none"/></g>
<g transform="translate(710,0)"><path d="M578 1243.2H1048" stroke="#111" stroke-width="3.2" stroke-linecap="round" stroke-dasharray="0 6.95" fill="none"/><path d="M605.8 1287.0V1256.2M594.4 1256.2H617.2" stroke="#111" stroke-width="3.5" stroke-linecap="round" fill="none"/><rect x="583.5" y="1286.8" width="44.6" height="42.2" fill="#0000fe" stroke="#111" stroke-width="3.5"/><path d="M674.2 1252.2V1247.3M662.8 1247.3H685.6" stroke="#111" stroke-width="3.5" stroke-linecap="round" fill="none"/><rect x="651.9" y="1252.0" width="44.6" height="77.0" fill="#0000fe" stroke="#111" stroke-width="3.5"/><path d="M742.6 1268.6V1248.5M731.2 1248.5H754.0" stroke="#111" stroke-width="3.5" stroke-linecap="round" fill="none"/><rect x="720.3" y="1268.3" width="44.6" height="60.7" fill="#0000fe" stroke="#111" stroke-width="3.5"/><path d="M810.8 1253.6V1231.2M799.4 1231.2H822.2" stroke="#111" stroke-width="3.5" stroke-linecap="round" fill="none"/><rect x="788.5" y="1253.3" width="44.6" height="75.7" fill="#23f511" stroke="#111" stroke-width="3.5"/><path d="M879.2 1261.4V1246.5M867.8 1246.5H890.6" stroke="#111" stroke-width="3.5" stroke-linecap="round" fill="none"/><rect x="856.9" y="1261.2" width="44.6" height="67.8" fill="#23f511" stroke="#111" stroke-width="3.5"/><path d="M947.6 1263.0V1249.6M936.2 1249.6H959.0" stroke="#111" stroke-width="3.5" stroke-linecap="round" fill="none"/><rect x="925.3" y="1262.8" width="44.6" height="66.2" fill="#23f511" stroke="#111" stroke-width="3.5"/><path d="M1016.2 1122.6V1047.9M1004.8 1047.9H1027.6" stroke="#111" stroke-width="3.5" stroke-linecap="round" fill="none"/><rect x="993.9" y="1122.3" width="44.6" height="206.7" fill="#fff" stroke="#111" stroke-width="3.5"/><path d="M571.2 986.1V1329.0M561.2 1329.0H1050.4" stroke="#111" stroke-width="3.6" fill="none"/><path d="M572 1329.1H561.2M572 1286.2H565.2M572 1243.3H561.2M572 1200.5H565.2M572 1157.6H561.2M572 1114.7H565.2M572 1071.8H561.2M572 1029.0H565.2M572 986.1H561.2M605.8 1329.0V1338.8M674.2 1329.0V1338.8M742.6 1329.0V1338.8M810.8 1329.0V1338.8M879.2 1329.0V1338.8M947.6 1329.0V1338.8M1016.2 1329.0V1338.8" stroke="#111" stroke-width="3.5" fill="none"/><g font-family="'Liberation Sans', sans-serif" fill="#141414" stroke="#141414" stroke-width="0.55"><text transform="translate(557.2 1341.0) scale(1 1.04)" font-size="33.5" text-anchor="end">0</text><text transform="translate(557.2 1255.2) scale(1 1.04)" font-size="33.5" text-anchor="end">1</text><text transform="translate(557.2 1169.5) scale(1 1.04)" font-size="33.5" text-anchor="end">2</text><text transform="translate(557.2 1083.8) scale(1 1.04)" font-size="33.5" text-anchor="end">3</text><text transform="translate(557.2 998.0) scale(1 1.04)" font-size="33.5" text-anchor="end">4</text><text transform="translate(605.5 1373.0) scale(1 1.04)" font-size="33.5" text-anchor="middle">1</text><text transform="translate(673.9 1373.0) scale(1 1.04)" font-size="33.5" text-anchor="middle">10</text><text transform="translate(742.3 1373.0) scale(1 1.04)" font-size="33.5" text-anchor="middle">30</text><text transform="translate(810.5 1373.0) scale(1 1.04)" font-size="33.5" text-anchor="middle">1</text><text transform="translate(878.9 1373.0) scale(1 1.04)" font-size="33.5" text-anchor="middle">10</text><text transform="translate(947.3 1373.0) scale(1 1.04)" font-size="33.5" text-anchor="middle">30</text><text transform="translate(671.7 1439.6) scale(1 1.04)" font-size="33.5" text-anchor="middle" textLength="155" lengthAdjust="spacing">Pep19-2.5</text><text transform="translate(676.0 1480.0) scale(1 1.04)" font-size="33.5" text-anchor="middle" textLength="107.5" lengthAdjust="spacing">(µg/ml)</text><text transform="translate(876.0 1439.6) scale(1 1.04)" font-size="33.5" text-anchor="middle" textLength="167" lengthAdjust="spacing">Pep19-4LF</text><text transform="translate(882.0 1480.0) scale(1 1.04)" font-size="33.5" text-anchor="middle" textLength="107.5" lengthAdjust="spacing">(µg/ml)</text><text transform="translate(450.4 1153.0) rotate(-90) scale(1 1.04)" font-size="33.5" text-anchor="middle" textLength="273" lengthAdjust="spacing">Annexin V positive</text><text transform="translate(488.4 1153.6) rotate(-90) scale(1 1.04)" font-size="33.5" text-anchor="middle" textLength="269" lengthAdjust="spacing">cells (fold change)</text><text transform="translate(1024.6 1374.6) scale(1 1.02)" font-size="26.4" text-anchor="middle" textLength="82.5" lengthAdjust="spacing">stauro-</text><text transform="translate(1025.0 1404.8) scale(1 1.02)" font-size="26.4" text-anchor="middle" textLength="85" lengthAdjust="spacing">sporine</text></g><path d="M585 1395.6H770.5M789.5 1395.6H975.4" stroke="#111" stroke-width="3.5" stroke-linecap="round" fill="none"/></g>
</svg>
</body></html>
